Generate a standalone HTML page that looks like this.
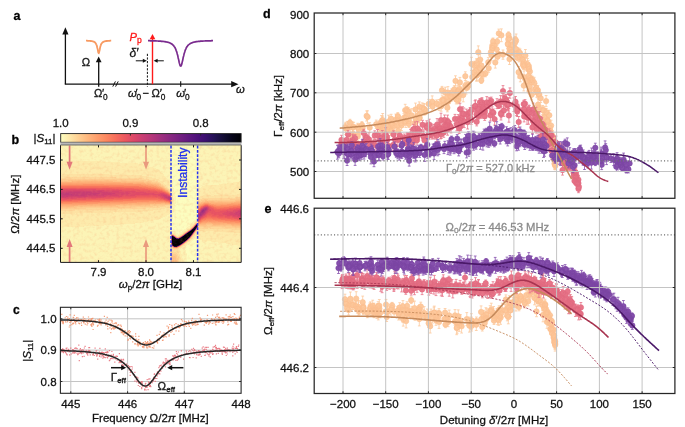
<!DOCTYPE html>
<html><head><meta charset="utf-8"><style>
html,body{margin:0;padding:0;background:#fff;width:685px;height:427px;overflow:hidden;}
svg{display:block;will-change:transform;}
text{font-family:"Liberation Sans", sans-serif;}
</style></head><body>
<svg width="685" height="427" viewBox="0 0 685 427" font-family='"Liberation Sans", sans-serif'>
<rect width="685" height="427" fill="#fff"/>
<g id="pa">
<text x="13.6" y="20" font-size="12.5" text-anchor="start" fill="#000" font-weight="bold" stroke="#000" stroke-width="0.28">a</text>
<path d="M65.4 84.2V33" stroke="#111" stroke-width="1.3" fill="none"/>
<path d="M65.4 27.3L62.3 34.6L68.5 34.6Z" fill="#111"/>
<path d="M64.8 84.2H232" stroke="#111" stroke-width="1.3" fill="none"/>
<path d="M238.5 84.2L231.2 81.1L231.2 87.3Z" fill="#111"/>
<path d="M112.8 86.6L115.4 81.4M115.6 86.6L118.2 81.4" stroke="#111" stroke-width="1.0" fill="none"/>
<path d="M98.7 86.8V61" stroke="#111" stroke-width="1.3" fill="none"/>
<path d="M98.7 56.6L95.8 62.2L101.6 62.2Z" fill="#111"/>
<path d="M86 40.7 L86.2 40.7 L86.5 40.7 L86.8 40.7 L87 40.7 L87.2 40.7 L87.5 40.8 L87.8 40.8 L88 40.8 L88.2 40.8 L88.5 40.8 L88.8 40.8 L89 40.8 L89.2 40.9 L89.5 40.9 L89.8 40.9 L90 40.9 L90.2 40.9 L90.5 41 L90.8 41 L91 41 L91.2 41.1 L91.5 41.1 L91.8 41.1 L92 41.2 L92.2 41.2 L92.5 41.3 L92.8 41.4 L93 41.4 L93.2 41.5 L93.5 41.6 L93.8 41.7 L94 41.8 L94.2 42 L94.5 42.1 L94.8 42.3 L95 42.5 L95.2 42.7 L95.5 43 L95.8 43.4 L96 43.8 L96.2 44.3 L96.5 44.9 L96.8 45.6 L97 46.5 L97.2 47.5 L97.5 48.6 L97.8 49.9 L98 51.2 L98.2 52.3 L98.5 53 L98.8 53.2 L99 52.8 L99.2 51.9 L99.5 50.7 L99.8 49.4 L100 48.1 L100.2 47.1 L100.5 46.1 L100.8 45.3 L101 44.6 L101.2 44.1 L101.5 43.6 L101.8 43.2 L102 42.9 L102.2 42.6 L102.5 42.4 L102.8 42.2 L103 42 L103.2 41.9 L103.5 41.8 L103.8 41.7 L104 41.6 L104.2 41.5 L104.5 41.4 L104.8 41.3 L105 41.3 L105.2 41.2 L105.5 41.2 L105.8 41.1 L106 41.1 L106.2 41 L106.5 41 L106.8 41 L107 41 L107.2 40.9 L107.5 40.9 L107.8 40.9 L108 40.9 L108.2 40.8 L108.5 40.8 L108.8 40.8 L109 40.8 L109.2 40.8 L109.5 40.8 L109.8 40.8 L110 40.7 L110.2 40.7 L110.5 40.7 L110.8 40.7 L111 40.7 L111.2 40.7" stroke="#f79a62" stroke-width="1.8" fill="none"/>
<text x="81.8" y="65.6" font-size="11.2" text-anchor="start" fill="#111" font-weight="normal" stroke="#111" stroke-width="0.28">Ω</text>
<path d="M147.4 53.8V86.8" stroke="#111" stroke-width="1.0" stroke-dasharray="2.2 1.4" fill="none"/>
<path d="M152.5 84.2V38" stroke="#ff1a1a" stroke-width="1.4" fill="none"/>
<path d="M152.5 34.0L149.7 39.2L155.3 39.2Z" fill="#ff1a1a"/>
<path d="M148 40.7 L148.2 40.7 L148.5 40.7 L148.8 40.7 L149 40.7 L149.2 40.7 L149.5 40.7 L149.8 40.7 L150 40.7 L150.2 40.8 L150.5 40.8 L150.8 40.8 L151 40.8 L151.2 40.8 L151.5 40.8 L151.8 40.8 L152 40.8 L152.2 40.8 L152.5 40.8 L152.8 40.8 L153 40.8 L153.2 40.8 L153.5 40.8 L153.8 40.9 L154 40.9 L154.2 40.9 L154.5 40.9 L154.8 40.9 L155 40.9 L155.2 40.9 L155.5 40.9 L155.8 40.9 L156 40.9 L156.2 40.9 L156.5 41 L156.8 41 L157 41 L157.2 41 L157.5 41 L157.8 41 L158 41 L158.2 41 L158.5 41.1 L158.8 41.1 L159 41.1 L159.2 41.1 L159.5 41.1 L159.8 41.1 L160 41.2 L160.2 41.2 L160.5 41.2 L160.8 41.2 L161 41.2 L161.2 41.3 L161.5 41.3 L161.8 41.3 L162 41.3 L162.2 41.3 L162.5 41.4 L162.8 41.4 L163 41.4 L163.2 41.4 L163.5 41.5 L163.8 41.5 L164 41.5 L164.2 41.6 L164.5 41.6 L164.8 41.6 L165 41.7 L165.2 41.7 L165.5 41.8 L165.8 41.8 L166 41.9 L166.2 41.9 L166.5 42 L166.8 42 L167 42.1 L167.2 42.1 L167.5 42.2 L167.8 42.2 L168 42.3 L168.2 42.4 L168.5 42.5 L168.8 42.5 L169 42.6 L169.2 42.7 L169.5 42.8 L169.8 42.9 L170 43 L170.2 43.1 L170.5 43.2 L170.8 43.4 L171 43.5 L171.2 43.7 L171.5 43.8 L171.8 44 L172 44.2 L172.2 44.3 L172.5 44.6 L172.8 44.8 L173 45 L173.2 45.3 L173.5 45.5 L173.8 45.8 L174 46.2 L174.2 46.5 L174.5 46.9 L174.8 47.3 L175 47.7 L175.2 48.2 L175.5 48.7 L175.8 49.3 L176 49.9 L176.2 50.6 L176.5 51.3 L176.8 52.1 L177 52.9 L177.2 53.8 L177.5 54.8 L177.8 55.8 L178 56.8 L178.2 58 L178.5 59.1 L178.8 60.3 L179 61.4 L179.2 62.5 L179.5 63.5 L179.8 64.4 L180 65.2 L180.2 65.7 L180.5 66 L180.8 66.1 L181 65.9 L181.2 65.5 L181.5 64.9 L181.8 64.1 L182 63.1 L182.2 62.1 L182.5 61 L182.8 59.8 L183 58.7 L183.2 57.5 L183.5 56.4 L183.8 55.4 L184 54.4 L184.2 53.4 L184.5 52.6 L184.8 51.7 L185 51 L185.2 50.3 L185.5 49.7 L185.8 49.1 L186 48.5 L186.2 48 L186.5 47.5 L186.8 47.1 L187 46.7 L187.2 46.4 L187.5 46 L187.8 45.7 L188 45.4 L188.2 45.2 L188.5 44.9 L188.8 44.7 L189 44.5 L189.2 44.3 L189.5 44.1 L189.8 43.9 L190 43.7 L190.2 43.6 L190.5 43.5 L190.8 43.3 L191 43.2 L191.2 43.1 L191.5 43 L191.8 42.9 L192 42.8 L192.2 42.7 L192.5 42.6 L192.8 42.5 L193 42.4 L193.2 42.4 L193.5 42.3 L193.8 42.2 L194 42.2 L194.2 42.1 L194.5 42 L194.8 42 L195 41.9 L195.2 41.9 L195.5 41.8 L195.8 41.8 L196 41.7 L196.2 41.7 L196.5 41.7 L196.8 41.6 L197 41.6 L197.2 41.6 L197.5 41.5 L197.8 41.5 L198 41.5 L198.2 41.4 L198.5 41.4 L198.8 41.4 L199 41.4 L199.2 41.3 L199.5 41.3 L199.8 41.3 L200 41.3 L200.2 41.2 L200.5 41.2 L200.8 41.2 L201 41.2 L201.2 41.2 L201.5 41.1 L201.8 41.1 L202 41.1 L202.2 41.1 L202.5 41.1 L202.8 41.1 L203 41.1 L203.2 41 L203.5 41 L203.8 41 L204 41 L204.2 41 L204.5 41 L204.8 41 L205 41 L205.2 40.9 L205.5 40.9 L205.8 40.9 L206 40.9 L206.2 40.9 L206.5 40.9 L206.8 40.9 L207 40.9 L207.2 40.9 L207.5 40.9 L207.8 40.8 L208 40.8 L208.2 40.8 L208.5 40.8 L208.8 40.8 L209 40.8 L209.2 40.8 L209.5 40.8 L209.8 40.8 L210 40.8 L210.2 40.8 L210.5 40.8 L210.8 40.8 L211 40.8 L211.2 40.8 L211.5 40.7 L211.8 40.7 L212 40.7 L212.2 40.7 L212.5 40.7 L212.8 40.7 L213 40.7" stroke="#7a2b8e" stroke-width="1.7" fill="none"/>
<path d="M135.8 60.8H144" stroke="#111" stroke-width="1.0" fill="none"/>
<path d="M146.8 60.8L142.8 58.8L142.8 62.8Z" fill="#111"/>
<path d="M163.8 60.8H156.2" stroke="#111" stroke-width="1.0" fill="none"/>
<path d="M153.6 60.8L157.6 58.8L157.6 62.8Z" fill="#111"/>
<text x="129.4" y="57" font-size="12" text-anchor="start" fill="#111" font-weight="normal" font-style="italic" stroke="#111" stroke-width="0.28">δ′</text>
<text x="129.6" y="40.6" font-size="11.2" fill="#ff1a1a" font-style="italic" stroke="#ff1a1a" stroke-width="0.28">P<tspan font-size="8.5" font-style="normal" dy="2.2">p</tspan></text>
<path d="M180.7 81.2V86.8" stroke="#111" stroke-width="1.1" fill="none"/>
<text x="236" y="93.2" font-size="11.2" text-anchor="start" fill="#111" font-weight="normal" font-style="italic" stroke="#111" stroke-width="0.28">ω</text>
<text x="93.9" y="97.2" font-size="11.2" fill="#111" font-style="normal" stroke="#111" stroke-width="0.28">Ω</text>
<text x="101.9" y="96.8" font-size="11.5" fill="#111" font-style="normal" stroke="#111" stroke-width="0.28">′</text>
<text x="102.9" y="100.2" font-size="8.3" fill="#111" font-style="normal" stroke="#111" stroke-width="0.28">0</text>
<text x="127.9" y="97.2" font-size="11.2" fill="#111" font-style="italic" stroke="#111" stroke-width="0.28">ω</text>
<text x="135.6" y="96.8" font-size="11.5" fill="#111" font-style="normal" stroke="#111" stroke-width="0.28">′</text>
<text x="136.6" y="100.2" font-size="8.3" fill="#111" font-style="normal" stroke="#111" stroke-width="0.28">0</text>
<text x="142.4" y="96.6" font-size="11" fill="#111" font-style="normal" stroke="#111" stroke-width="0.28">−</text>
<text x="151.6" y="97.2" font-size="11.2" fill="#111" font-style="normal" stroke="#111" stroke-width="0.28">Ω</text>
<text x="159.7" y="96.8" font-size="11.5" fill="#111" font-style="normal" stroke="#111" stroke-width="0.28">′</text>
<text x="160.7" y="100.2" font-size="8.3" fill="#111" font-style="normal" stroke="#111" stroke-width="0.28">0</text>
<text x="176.2" y="97.2" font-size="11.2" fill="#111" font-style="italic" stroke="#111" stroke-width="0.28">ω</text>
<text x="183.9" y="96.8" font-size="11.5" fill="#111" font-style="normal" stroke="#111" stroke-width="0.28">′</text>
<text x="184.9" y="100.2" font-size="8.3" fill="#111" font-style="normal" stroke="#111" stroke-width="0.28">0</text>
</g>
<g id="pb">
<text x="11.4" y="143.8" font-size="12.5" text-anchor="start" fill="#000" font-weight="bold" stroke="#000" stroke-width="0.28">b</text>
<defs><linearGradient id="cbg" x1="0" y1="0" x2="1" y2="0"><stop offset="0.000" stop-color="#fcfdbf"/><stop offset="0.050" stop-color="#fde7a9"/><stop offset="0.100" stop-color="#fecf92"/><stop offset="0.150" stop-color="#feb77e"/><stop offset="0.200" stop-color="#fe9f6d"/><stop offset="0.250" stop-color="#fc8961"/><stop offset="0.300" stop-color="#f7705c"/><stop offset="0.350" stop-color="#ed5a5f"/><stop offset="0.400" stop-color="#de4968"/><stop offset="0.450" stop-color="#ca3e72"/><stop offset="0.500" stop-color="#b73779"/><stop offset="0.550" stop-color="#a1307e"/><stop offset="0.600" stop-color="#8c2981"/><stop offset="0.650" stop-color="#782281"/><stop offset="0.700" stop-color="#641a80"/><stop offset="0.750" stop-color="#51127c"/><stop offset="0.800" stop-color="#3b0f70"/><stop offset="0.850" stop-color="#251255"/><stop offset="0.900" stop-color="#140e36"/><stop offset="0.950" stop-color="#06051a"/><stop offset="1.000" stop-color="#000004"/></linearGradient></defs>
<rect x="60.7" y="133.6" width="180.4" height="8.7" fill="url(#cbg)" stroke="#222" stroke-width="0.9"/>
<rect x="60.3" y="142.5" width="181.2" height="2.6" fill="#b9b9b9"/>
<path d="M130.4 133.6v2" stroke="#222" stroke-width="0.9"/>
<path d="M200.7 133.6v2" stroke="#222" stroke-width="0.9"/>
<text x="60.7" y="127.2" font-size="11.5" text-anchor="middle" fill="#111" font-weight="normal" stroke="#111" stroke-width="0.28">1.0</text>
<text x="130.4" y="127.2" font-size="11.5" text-anchor="middle" fill="#111" font-weight="normal" stroke="#111" stroke-width="0.28">0.9</text>
<text x="200.7" y="127.2" font-size="11.5" text-anchor="middle" fill="#111" font-weight="normal" stroke="#111" stroke-width="0.28">0.8</text>
<text x="33.6" y="141.6" font-size="11.5" fill="#111" stroke="#111" stroke-width="0.28">|<tspan font-style="italic">S</tspan><tspan font-size="8" dy="2">11</tspan><tspan dy="-2">|</tspan></text>
<g shape-rendering="crispEdges">
<path fill="#fcf4b6" d="M61 145h110v1h-110zM198 145h43v1h-43zM61 146h110v1h-110zM198 146h43v1h-43zM61 147h110v1h-110zM198 147h43v1h-43zM61 148h110v1h-110zM198 148h43v1h-43zM61 149h110v1h-110zM198 149h43v1h-43zM61 150h110v1h-110zM198 150h43v1h-43zM61 151h110v1h-110zM198 151h43v1h-43zM61 152h110v1h-110zM198 152h43v1h-43zM61 153h110v1h-110zM198 153h43v1h-43zM61 154h110v1h-110zM198 154h43v1h-43zM61 155h110v1h-110zM198 155h43v1h-43zM61 156h110v1h-110zM198 156h43v1h-43zM61 157h110v1h-110zM198 157h43v1h-43zM61 158h110v1h-110zM198 158h43v1h-43zM61 159h110v1h-110zM198 159h43v1h-43zM61 160h110v1h-110zM198 160h43v1h-43zM101 161h70v1h-70zM198 161h43v1h-43zM120 162h51v1h-51zM198 162h43v1h-43zM138 163h33v1h-33zM198 163h43v1h-43zM143 164h28v1h-28zM198 164h43v1h-43zM146 165h25v1h-25zM198 165h43v1h-43zM149 166h22v1h-22zM198 166h43v1h-43zM153 167h18v1h-18zM198 167h43v1h-43zM156 168h15v1h-15zM198 168h43v1h-43zM158 169h13v1h-13zM198 169h43v1h-43zM159 170h13v1h-13zM198 170h43v1h-43zM160 171h12v1h-12zM198 171h43v1h-43zM161 172h11v1h-11zM198 172h43v1h-43zM163 173h9v1h-9zM198 173h43v1h-43zM164 174h8v1h-8zM198 174h43v1h-43zM164 175h8v1h-8zM198 175h43v1h-43zM165 176h7v1h-7zM198 176h43v1h-43zM166 177h6v1h-6zM198 177h43v1h-43zM167 178h5v1h-5zM198 178h43v1h-43zM168 179h4v1h-4zM198 179h43v1h-43zM168 180h4v1h-4zM198 180h43v1h-43zM169 181h4v1h-4zM198 181h41v1h-41zM170 182h3v1h-3zM198 182h35v1h-35zM171 183h2v1h-2zM198 183h29v1h-29zM171 184h2v1h-2zM198 184h21v1h-21zM171 185h2v1h-2zM198 185h7v1h-7zM171 186h2v1h-2zM198 186h4v1h-4zM171 187h2v1h-2zM198 187h3v1h-3zM171 188h3v1h-3zM198 188h1v1h-1zM171 189h3v1h-3zM171 190h3v1h-3zM172 191h2v1h-2zM172 192h3v1h-3zM172 193h3v1h-3zM172 194h3v1h-3zM173 195h2v1h-2zM173 196h3v1h-3zM173 197h3v1h-3zM174 198h2v1h-2zM174 199h2v1h-2zM174 200h2v1h-2zM174 201h2v1h-2zM173 202h3v1h-3zM173 203h3v1h-3zM173 204h2v1h-2zM172 205h3v1h-3zM172 206h3v1h-3zM172 207h3v1h-3zM172 208h2v1h-2zM171 209h3v1h-3zM171 210h3v1h-3zM171 211h3v1h-3zM171 212h2v1h-2zM171 213h2v1h-2zM169 214h4v1h-4zM167 215h6v1h-6zM165 216h8v1h-8zM163 217h10v1h-10zM161 218h12v1h-12zM159 219h13v1h-13zM153 220h19v1h-19zM194 220h4v1h-4zM148 221h24v1h-24zM193 221h3v1h-3zM197 221h1v1h-1zM143 222h29v1h-29zM192 222h2v1h-2zM135 223h37v1h-37zM191 223h3v1h-3zM120 224h52v1h-52zM191 224h2v1h-2zM104 225h68v1h-68zM190 225h2v1h-2zM84 226h88v1h-88zM188 226h3v1h-3zM63 227h109v1h-109zM187 227h3v1h-3zM61 228h111v1h-111zM186 228h2v1h-2zM61 229h111v1h-111zM184 229h3v1h-3zM61 230h111v1h-111zM183 230h3v1h-3zM61 231h114v1h-114zM182 231h2v1h-2zM61 232h115v1h-115zM180 232h3v1h-3zM197 232h1v1h-1zM61 233h110v1h-110zM175 233h3v1h-3zM179 233h3v1h-3zM196 233h2v1h-2zM61 234h110v1h-110zM176 234h4v1h-4zM195 234h2v1h-2zM61 235h110v1h-110zM177 235h1v1h-1zM195 235h2v1h-2zM61 236h110v1h-110zM194 236h2v1h-2zM61 237h110v1h-110zM193 237h2v1h-2zM61 238h110v1h-110zM193 238h2v1h-2zM61 239h110v1h-110zM192 239h2v1h-2zM198 239h2v1h-2zM61 240h110v1h-110zM191 240h2v1h-2zM198 240h4v1h-4zM61 241h110v1h-110zM190 241h2v1h-2zM198 241h7v1h-7zM207 241h4v1h-4zM61 242h110v1h-110zM188 242h3v1h-3zM198 242h20v1h-20zM61 243h110v1h-110zM187 243h3v1h-3zM198 243h28v1h-28zM61 244h110v1h-110zM186 244h3v1h-3zM198 244h34v1h-34zM61 245h110v1h-110zM185 245h2v1h-2zM198 245h40v1h-40zM61 246h110v1h-110zM183 246h3v1h-3zM198 246h43v1h-43zM61 247h110v1h-110zM182 247h3v1h-3zM198 247h43v1h-43zM61 248h110v1h-110zM181 248h4v1h-4zM198 248h43v1h-43zM61 249h110v1h-110zM180 249h5v1h-5zM198 249h43v1h-43zM61 250h110v1h-110zM180 250h6v1h-6zM198 250h43v1h-43zM61 251h110v1h-110zM181 251h5v1h-5zM198 251h43v1h-43zM61 252h110v1h-110zM181 252h5v1h-5zM198 252h43v1h-43zM61 253h110v1h-110zM181 253h6v1h-6zM198 253h43v1h-43zM61 254h110v1h-110zM182 254h5v1h-5zM198 254h43v1h-43zM61 255h110v1h-110zM182 255h5v1h-5zM198 255h43v1h-43zM61 256h110v1h-110zM182 256h5v1h-5zM198 256h43v1h-43zM61 257h110v1h-110zM182 257h5v1h-5zM198 257h43v1h-43zM61 258h110v1h-110zM183 258h4v1h-4zM198 258h43v1h-43zM61 259h110v1h-110zM183 259h4v1h-4zM198 259h43v1h-43zM61 260h110v1h-110zM183 260h4v1h-4zM198 260h43v1h-43zM61 261h110v1h-110zM183 261h4v1h-4zM198 261h43v1h-43z"/>
<path fill="#fcfdbf" d="M171 145h27v1h-27zM171 146h27v1h-27zM171 147h27v1h-27zM171 148h27v1h-27zM171 149h27v1h-27zM171 150h27v1h-27zM171 151h27v1h-27zM171 152h27v1h-27zM171 153h27v1h-27zM171 154h27v1h-27zM171 155h27v1h-27zM171 156h27v1h-27zM171 157h27v1h-27zM171 158h27v1h-27zM171 159h27v1h-27zM171 160h27v1h-27zM171 161h27v1h-27zM171 162h27v1h-27zM171 163h27v1h-27zM171 164h27v1h-27zM171 165h27v1h-27zM171 166h27v1h-27zM171 167h27v1h-27zM171 168h27v1h-27zM171 169h27v1h-27zM172 170h26v1h-26zM172 171h26v1h-26zM172 172h26v1h-26zM172 173h26v1h-26zM172 174h26v1h-26zM172 175h26v1h-26zM172 176h26v1h-26zM172 177h26v1h-26zM172 178h26v1h-26zM172 179h26v1h-26zM172 180h26v1h-26zM173 181h25v1h-25zM173 182h25v1h-25zM173 183h25v1h-25zM173 184h25v1h-25zM173 185h25v1h-25zM173 186h25v1h-25zM173 187h25v1h-25zM174 188h24v1h-24zM174 189h24v1h-24zM174 190h24v1h-24zM174 191h24v1h-24zM175 192h23v1h-23zM175 193h23v1h-23zM175 194h23v1h-23zM175 195h23v1h-23zM176 196h22v1h-22zM176 197h22v1h-22zM176 198h22v1h-22zM176 199h22v1h-22zM176 200h22v1h-22zM176 201h22v1h-22zM176 202h22v1h-22zM176 203h22v1h-22zM175 204h23v1h-23zM175 205h23v1h-23zM175 206h23v1h-23zM175 207h23v1h-23zM174 208h24v1h-24zM174 209h24v1h-24zM174 210h24v1h-24zM174 211h24v1h-24zM173 212h25v1h-25zM173 213h25v1h-25zM173 214h25v1h-25zM173 215h25v1h-25zM173 216h25v1h-25zM173 217h25v1h-25zM173 218h25v1h-25zM172 219h26v1h-26zM172 220h22v1h-22zM172 221h21v1h-21zM172 222h20v1h-20zM172 223h19v1h-19zM172 224h19v1h-19zM172 225h18v1h-18zM172 226h16v1h-16zM172 227h15v1h-15zM172 228h14v1h-14zM172 229h12v1h-12zM172 230h11v1h-11zM175 231h7v1h-7zM176 232h4v1h-4zM178 233h1v1h-1zM197 234h1v1h-1zM197 235h1v1h-1zM196 236h2v1h-2zM195 237h3v1h-3zM195 238h3v1h-3zM194 239h4v1h-4zM193 240h5v1h-5zM192 241h6v1h-6zM191 242h7v1h-7zM190 243h8v1h-8zM189 244h9v1h-9zM187 245h11v1h-11zM186 246h12v1h-12zM185 247h13v1h-13zM185 248h13v1h-13zM185 249h13v1h-13zM186 250h12v1h-12zM186 251h12v1h-12zM186 252h12v1h-12zM187 253h11v1h-11zM187 254h11v1h-11zM187 255h11v1h-11zM187 256h11v1h-11zM187 257h11v1h-11zM187 258h11v1h-11zM187 259h11v1h-11zM187 260h11v1h-11zM187 261h11v1h-11z"/>
<path fill="#fdebac" d="M61 161h40v1h-40zM61 162h59v1h-59zM61 163h77v1h-77zM61 164h82v1h-82zM61 165h85v1h-85zM61 166h88v1h-88zM61 167h92v1h-92zM61 168h95v1h-95zM61 169h97v1h-97zM61 170h98v1h-98zM61 171h99v1h-99zM61 172h100v1h-100zM61 173h102v1h-102zM61 174h1v1h-1zM109 174h55v1h-55zM142 175h22v1h-22zM147 176h18v1h-18zM152 177h14v1h-14zM156 178h11v1h-11zM159 179h9v1h-9zM160 180h8v1h-8zM162 181h7v1h-7zM239 181h2v1h-2zM163 182h7v1h-7zM233 182h8v1h-8zM164 183h7v1h-7zM227 183h14v1h-14zM165 184h6v1h-6zM219 184h22v1h-22zM166 185h5v1h-5zM205 185h36v1h-36zM167 186h4v1h-4zM202 186h39v1h-39zM168 187h3v1h-3zM201 187h40v1h-40zM169 188h2v1h-2zM199 188h42v1h-42zM170 189h1v1h-1zM198 189h43v1h-43zM198 190h43v1h-43zM171 191h1v1h-1zM198 191h43v1h-43zM171 192h1v1h-1zM198 192h43v1h-43zM171 193h1v1h-1zM198 193h43v1h-43zM198 194h39v1h-39zM172 195h1v1h-1zM198 195h5v1h-5zM211 195h3v1h-3zM172 196h1v1h-1zM198 196h2v1h-2zM173 198h1v1h-1zM173 199h1v1h-1zM173 200h1v1h-1zM173 201h1v1h-1zM172 203h1v1h-1zM172 204h1v1h-1zM171 206h1v1h-1zM171 207h1v1h-1zM165 208h7v1h-7zM161 209h10v1h-10zM153 210h18v1h-18zM143 211h28v1h-28zM113 212h58v1h-58zM75 213h96v1h-96zM61 214h108v1h-108zM61 215h106v1h-106zM61 216h104v1h-104zM61 217h102v1h-102zM61 218h100v1h-100zM61 219h98v1h-98zM61 220h92v1h-92zM61 221h87v1h-87zM196 221h1v1h-1zM61 222h82v1h-82zM194 222h1v1h-1zM61 223h74v1h-74zM61 224h59v1h-59zM193 224h1v1h-1zM61 225h43v1h-43zM192 225h1v1h-1zM61 226h23v1h-23zM191 226h1v1h-1zM61 227h2v1h-2zM190 227h1v1h-1zM188 228h2v1h-2zM187 229h1v1h-1zM186 230h1v1h-1zM184 231h1v1h-1zM197 231h6v1h-6zM206 231h8v1h-8zM183 232h1v1h-1zM196 232h1v1h-1zM198 232h36v1h-36zM171 233h1v1h-1zM173 233h2v1h-2zM182 233h1v1h-1zM195 233h1v1h-1zM198 233h43v1h-43zM175 234h1v1h-1zM180 234h1v1h-1zM198 234h43v1h-43zM176 235h1v1h-1zM178 235h2v1h-2zM194 235h1v1h-1zM198 235h43v1h-43zM193 236h1v1h-1zM198 236h43v1h-43zM192 237h1v1h-1zM198 237h43v1h-43zM192 238h1v1h-1zM198 238h43v1h-43zM191 239h1v1h-1zM200 239h41v1h-41zM190 240h1v1h-1zM202 240h39v1h-39zM189 241h1v1h-1zM205 241h2v1h-2zM211 241h30v1h-30zM187 242h1v1h-1zM218 242h23v1h-23zM186 243h1v1h-1zM226 243h15v1h-15zM185 244h1v1h-1zM232 244h9v1h-9zM184 245h1v1h-1zM238 245h3v1h-3zM182 246h1v1h-1zM181 247h1v1h-1zM179 248h2v1h-2zM178 249h2v1h-2zM178 250h2v1h-2zM178 251h3v1h-3zM179 252h2v1h-2zM179 253h2v1h-2zM180 254h2v1h-2zM180 255h2v1h-2zM180 256h2v1h-2zM180 257h2v1h-2zM181 258h2v1h-2zM181 259h2v1h-2zM181 260h2v1h-2zM181 261h2v1h-2z"/>
<path fill="#fde2a3" d="M62 174h47v1h-47zM61 175h81v1h-81zM61 176h86v1h-86zM61 177h5v1h-5zM116 177h36v1h-36zM144 178h12v1h-12zM149 179h10v1h-10zM155 180h5v1h-5zM158 181h4v1h-4zM160 182h3v1h-3zM161 183h3v1h-3zM163 184h2v1h-2zM164 185h2v1h-2zM165 186h2v1h-2zM167 187h1v1h-1zM168 188h1v1h-1zM169 189h1v1h-1zM170 190h1v1h-1zM171 194h1v1h-1zM237 194h4v1h-4zM203 195h8v1h-8zM214 195h27v1h-27zM200 196h41v1h-41zM172 197h1v1h-1zM198 197h37v1h-37zM172 198h1v1h-1zM198 198h4v1h-4zM172 199h1v1h-1zM198 199h1v1h-1zM172 200h1v1h-1zM172 201h1v1h-1zM172 202h1v1h-1zM171 205h1v1h-1zM166 206h5v1h-5zM160 207h11v1h-11zM146 208h19v1h-19zM118 209h43v1h-43zM75 210h78v1h-78zM61 211h82v1h-82zM61 212h52v1h-52zM61 213h14v1h-14zM195 222h3v1h-3zM194 223h1v1h-1zM198 228h1v1h-1zM208 228h2v1h-2zM188 229h1v1h-1zM198 229h34v1h-34zM187 230h1v1h-1zM197 230h44v1h-44zM185 231h1v1h-1zM196 231h1v1h-1zM203 231h3v1h-3zM214 231h27v1h-27zM184 232h1v1h-1zM234 232h7v1h-7zM172 233h1v1h-1zM174 234h1v1h-1zM181 234h1v1h-1zM194 234h1v1h-1zM180 235h1v1h-1zM193 235h1v1h-1zM177 236h2v1h-2zM191 238h1v1h-1zM190 239h1v1h-1zM189 240h1v1h-1zM188 241h1v1h-1zM185 243h1v1h-1zM184 244h1v1h-1zM183 245h1v1h-1zM181 246h1v1h-1zM180 247h1v1h-1zM171 248h1v1h-1zM178 248h1v1h-1zM171 249h3v1h-3zM176 249h2v1h-2zM171 250h7v1h-7zM171 251h7v1h-7zM176 252h3v1h-3zM177 253h2v1h-2zM178 254h2v1h-2zM178 255h2v1h-2zM179 256h1v1h-1zM179 257h1v1h-1zM179 258h2v1h-2zM179 259h2v1h-2zM179 260h2v1h-2zM179 261h2v1h-2z"/>
<path fill="#fed799" d="M66 177h50v1h-50zM61 178h83v1h-83zM139 179h10v1h-10zM146 180h9v1h-9zM152 181h6v1h-6zM157 182h3v1h-3zM159 183h2v1h-2zM161 184h2v1h-2zM163 185h1v1h-1zM164 186h1v1h-1zM165 187h2v1h-2zM167 188h1v1h-1zM168 189h1v1h-1zM169 190h1v1h-1zM170 191h1v1h-1zM171 195h1v1h-1zM171 196h1v1h-1zM235 197h6v1h-6zM202 198h39v1h-39zM199 199h5v1h-5zM208 199h22v1h-22zM198 200h3v1h-3zM171 203h1v1h-1zM171 204h1v1h-1zM165 205h5v1h-5zM153 206h4v1h-4zM158 206h8v1h-8zM131 207h29v1h-29zM86 208h60v1h-60zM61 209h57v1h-57zM61 210h14v1h-14zM194 224h1v1h-1zM193 225h1v1h-1zM192 226h1v1h-1zM191 227h1v1h-1zM198 227h27v1h-27zM190 228h1v1h-1zM199 228h9v1h-9zM210 228h31v1h-31zM189 229h1v1h-1zM197 229h1v1h-1zM232 229h9v1h-9zM186 231h1v1h-1zM195 232h1v1h-1zM183 233h1v1h-1zM194 233h1v1h-1zM182 234h1v1h-1zM175 235h1v1h-1zM176 236h1v1h-1zM192 236h1v1h-1zM191 237h1v1h-1zM188 240h1v1h-1zM187 241h1v1h-1zM186 242h1v1h-1zM182 245h1v1h-1zM171 247h1v1h-1zM179 247h1v1h-1zM172 248h1v1h-1zM177 248h1v1h-1zM174 249h2v1h-2zM171 252h5v1h-5zM171 253h6v1h-6zM176 254h2v1h-2zM177 255h1v1h-1zM177 256h2v1h-2zM177 257h2v1h-2zM178 258h1v1h-1zM178 259h1v1h-1zM178 260h1v1h-1zM178 261h1v1h-1z"/>
<path fill="#fecd90" d="M61 179h78v1h-78zM61 180h7v1h-7zM117 180h29v1h-29zM144 181h8v1h-8zM151 182h6v1h-6zM156 183h3v1h-3zM159 184h2v1h-2zM161 185h2v1h-2zM163 186h1v1h-1zM164 187h1v1h-1zM166 188h1v1h-1zM167 189h1v1h-1zM168 190h1v1h-1zM169 191h1v1h-1zM170 192h1v1h-1zM204 199h4v1h-4zM230 199h11v1h-11zM201 200h4v1h-4zM207 200h28v1h-28zM198 201h4v1h-4zM198 202h1v1h-1zM150 205h15v1h-15zM170 205h1v1h-1zM118 206h35v1h-35zM157 206h1v1h-1zM75 207h56v1h-56zM61 208h25v1h-25zM195 223h1v1h-1zM207 225h5v1h-5zM198 226h34v1h-34zM225 227h16v1h-16zM196 230h1v1h-1zM185 232h1v1h-1zM171 234h1v1h-1zM173 234h1v1h-1zM193 234h1v1h-1zM181 235h1v1h-1zM179 236h1v1h-1zM190 238h1v1h-1zM189 239h1v1h-1zM183 244h1v1h-1zM180 246h1v1h-1zM172 247h1v1h-1zM178 247h1v1h-1zM173 248h4v1h-4zM171 254h5v1h-5zM171 255h6v1h-6zM171 256h1v1h-1zM175 256h2v1h-2zM176 257h1v1h-1zM176 258h2v1h-2zM176 259h2v1h-2zM177 260h1v1h-1zM177 261h1v1h-1z"/>
<path fill="#fec488" d="M68 180h49v1h-49zM61 181h11v1h-11zM113 181h31v1h-31zM144 182h7v1h-7zM151 183h5v1h-5zM156 184h3v1h-3zM159 185h2v1h-2zM161 186h2v1h-2zM163 187h1v1h-1zM165 188h1v1h-1zM166 189h1v1h-1zM171 197h1v1h-1zM205 200h2v1h-2zM235 200h6v1h-6zM202 201h3v1h-3zM208 201h28v1h-28zM171 202h1v1h-1zM199 202h2v1h-2zM198 203h1v1h-1zM150 204h21v1h-21zM116 205h34v1h-34zM74 206h44v1h-44zM61 207h14v1h-14zM206 224h7v1h-7zM198 225h9v1h-9zM212 225h20v1h-20zM232 226h9v1h-9zM188 230h1v1h-1zM195 231h1v1h-1zM184 233h1v1h-1zM172 234h1v1h-1zM174 235h1v1h-1zM184 243h1v1h-1zM181 245h1v1h-1zM171 246h1v1h-1zM172 256h3v1h-3zM171 257h5v1h-5zM171 258h5v1h-5zM171 259h5v1h-5zM171 260h2v1h-2zM174 260h3v1h-3zM171 261h1v1h-1zM174 261h3v1h-3z"/>
<path fill="#feb97f" d="M72 181h41v1h-41zM121 182h23v1h-23zM145 183h6v1h-6zM152 184h4v1h-4zM157 185h2v1h-2zM160 186h1v1h-1zM162 187h1v1h-1zM164 188h1v1h-1zM165 189h1v1h-1zM167 190h1v1h-1zM168 191h1v1h-1zM169 192h1v1h-1zM171 198h1v1h-1zM171 201h1v1h-1zM205 201h3v1h-3zM236 201h5v1h-5zM201 202h3v1h-3zM209 202h25v1h-25zM154 203h1v1h-1zM161 203h4v1h-4zM199 203h2v1h-2zM120 204h30v1h-30zM198 204h1v1h-1zM78 205h38v1h-38zM61 206h13v1h-13zM206 223h6v1h-6zM198 224h8v1h-8zM213 224h18v1h-18zM232 225h9v1h-9zM193 226h1v1h-1zM192 227h1v1h-1zM197 228h1v1h-1zM192 235h1v1h-1zM177 237h1v1h-1zM185 242h1v1h-1zM173 260h1v1h-1zM172 261h2v1h-2z"/>
<path fill="#feb078" d="M61 182h60v1h-60zM133 183h12v1h-12zM146 184h6v1h-6zM154 185h3v1h-3zM158 186h2v1h-2zM161 187h1v1h-1zM163 188h1v1h-1zM166 190h1v1h-1zM170 193h1v1h-1zM171 199h1v1h-1zM171 200h1v1h-1zM204 202h5v1h-5zM234 202h7v1h-7zM128 203h26v1h-26zM155 203h6v1h-6zM165 203h4v1h-4zM201 203h2v1h-2zM211 203h20v1h-20zM87 204h33v1h-33zM199 204h1v1h-1zM61 205h17v1h-17zM198 205h1v1h-1zM207 222h4v1h-4zM196 223h2v1h-2zM201 223h5v1h-5zM212 223h15v1h-15zM231 224h10v1h-10zM191 228h1v1h-1zM187 231h1v1h-1zM194 232h1v1h-1zM183 234h1v1h-1zM175 236h1v1h-1zM180 236h1v1h-1zM178 237h1v1h-1zM186 241h1v1h-1zM173 247h1v1h-1z"/>
<path fill="#fea571" d="M61 183h72v1h-72zM141 184h5v1h-5zM148 185h6v1h-6zM156 186h2v1h-2zM159 187h2v1h-2zM162 188h1v1h-1zM164 189h1v1h-1zM165 190h1v1h-1zM167 191h1v1h-1zM137 202h28v1h-28zM98 203h30v1h-30zM169 203h2v1h-2zM203 203h1v1h-1zM209 203h2v1h-2zM231 203h10v1h-10zM61 204h26v1h-26zM200 204h2v1h-2zM214 204h13v1h-13zM199 205h1v1h-1zM208 221h1v1h-1zM202 222h5v1h-5zM211 222h12v1h-12zM198 223h3v1h-3zM227 223h13v1h-13zM194 225h1v1h-1zM190 229h1v1h-1zM196 229h1v1h-1zM191 236h1v1h-1zM182 244h1v1h-1zM171 245h1v1h-1zM179 246h1v1h-1zM177 247h1v1h-1z"/>
<path fill="#fd9b6b" d="M61 184h22v1h-22zM104 184h37v1h-37zM143 185h5v1h-5zM151 186h5v1h-5zM157 187h2v1h-2zM160 188h2v1h-2zM163 189h1v1h-1zM166 191h1v1h-1zM168 192h1v1h-1zM169 193h1v1h-1zM149 201h7v1h-7zM110 202h27v1h-27zM165 202h3v1h-3zM72 203h26v1h-26zM204 203h5v1h-5zM202 204h1v1h-1zM210 204h4v1h-4zM227 204h11v1h-11zM200 205h1v1h-1zM216 205h5v1h-5zM198 206h1v1h-1zM203 221h5v1h-5zM209 221h9v1h-9zM201 222h1v1h-1zM223 222h12v1h-12zM240 223h1v1h-1zM195 224h1v1h-1zM187 240h1v1h-1z"/>
<path fill="#fd9266" d="M83 184h21v1h-21zM124 185h19v1h-19zM146 186h5v1h-5zM154 187h3v1h-3zM158 188h2v1h-2zM162 189h1v1h-1zM164 190h1v1h-1zM170 194h1v1h-1zM123 201h26v1h-26zM156 201h8v1h-8zM86 202h24v1h-24zM168 202h1v1h-1zM61 203h11v1h-11zM203 204h1v1h-1zM209 204h1v1h-1zM238 204h3v1h-3zM201 205h1v1h-1zM213 205h3v1h-3zM221 205h12v1h-12zM199 206h1v1h-1zM198 207h1v1h-1zM205 220h10v1h-10zM202 221h1v1h-1zM218 221h12v1h-12zM199 222h2v1h-2zM235 222h6v1h-6zM186 232h1v1h-1zM176 237h1v1h-1zM188 239h1v1h-1zM172 246h1v1h-1z"/>
<path fill="#fc8961" d="M61 185h63v1h-63zM139 186h7v1h-7zM148 187h6v1h-6zM156 188h2v1h-2zM160 189h2v1h-2zM163 190h1v1h-1zM165 191h1v1h-1zM167 192h1v1h-1zM133 200h25v1h-25zM100 201h23v1h-23zM164 201h2v1h-2zM63 202h23v1h-23zM169 202h1v1h-1zM204 204h1v1h-1zM208 204h1v1h-1zM202 205h1v1h-1zM211 205h2v1h-2zM233 205h8v1h-8zM200 206h1v1h-1zM214 206h15v1h-15zM199 207h1v1h-1zM198 208h1v1h-1zM206 219h7v1h-7zM202 220h3v1h-3zM215 220h10v1h-10zM201 221h1v1h-1zM230 221h9v1h-9zM198 222h1v1h-1zM189 230h1v1h-1zM193 233h1v1h-1zM171 235h1v1h-1zM182 235h1v1h-1zM190 237h1v1h-1zM189 238h1v1h-1zM174 247h1v1h-1z"/>
<path fill="#f8745c" d="M61 186h48v1h-48zM124 187h18v1h-18zM145 188h6v1h-6zM155 189h3v1h-3zM160 190h2v1h-2zM163 191h1v1h-1zM169 194h1v1h-1zM123 199h37v1h-37zM92 200h21v1h-21zM164 200h1v1h-1zM61 201h17v1h-17zM168 201h1v1h-1zM208 205h1v1h-1zM201 206h1v1h-1zM211 206h2v1h-2zM237 206h4v1h-4zM200 207h1v1h-1zM214 207h2v1h-2zM224 207h9v1h-9zM199 208h1v1h-1zM217 208h3v1h-3zM198 209h1v1h-1zM207 217h4v1h-4zM204 218h2v1h-2zM212 218h6v1h-6zM202 219h1v1h-1zM221 219h10v1h-10zM234 220h7v1h-7zM199 221h1v1h-1zM195 230h1v1h-1zM173 235h1v1h-1zM180 245h1v1h-1zM176 247h1v1h-1z"/>
<path fill="#fa7d5e" d="M109 186h30v1h-30zM142 187h6v1h-6zM151 188h5v1h-5zM158 189h2v1h-2zM162 190h1v1h-1zM164 191h1v1h-1zM166 192h1v1h-1zM168 193h1v1h-1zM113 200h20v1h-20zM158 200h6v1h-6zM78 201h22v1h-22zM166 201h2v1h-2zM61 202h2v1h-2zM170 202h1v1h-1zM205 204h3v1h-3zM203 205h1v1h-1zM209 205h2v1h-2zM213 206h1v1h-1zM229 206h8v1h-8zM216 207h8v1h-8zM206 218h6v1h-6zM203 219h3v1h-3zM213 219h8v1h-8zM201 220h1v1h-1zM225 220h9v1h-9zM200 221h1v1h-1zM239 221h2v1h-2zM183 243h1v1h-1zM171 244h1v1h-1zM175 247h1v1h-1z"/>
<path fill="#f56b5c" d="M61 187h63v1h-63zM134 188h11v1h-11zM148 189h7v1h-7zM156 190h4v1h-4zM162 191h1v1h-1zM165 192h1v1h-1zM167 193h1v1h-1zM170 195h1v1h-1zM131 198h27v1h-27zM105 199h18v1h-18zM160 199h3v1h-3zM72 200h20v1h-20zM165 200h1v1h-1zM204 205h1v1h-1zM202 206h1v1h-1zM210 206h1v1h-1zM212 207h2v1h-2zM233 207h7v1h-7zM214 208h3v1h-3zM220 208h9v1h-9zM207 216h4v1h-4zM205 217h2v1h-2zM211 217h6v1h-6zM203 218h1v1h-1zM218 218h9v1h-9zM201 219h1v1h-1zM231 219h6v1h-6zM200 220h1v1h-1zM198 221h1v1h-1zM179 237h1v1h-1z"/>
<path fill="#ec5860" d="M61 188h51v1h-51zM119 189h20v1h-20zM140 190h10v1h-10zM150 191h7v1h-7zM158 192h1v1h-1zM160 192h4v1h-4zM165 193h1v1h-1zM169 195h1v1h-1zM137 196h18v1h-18zM120 197h16v1h-16zM156 197h4v1h-4zM96 198h18v1h-18zM161 198h2v1h-2zM67 199h19v1h-19zM164 199h2v1h-2zM167 200h1v1h-1zM170 201h1v1h-1zM203 206h1v1h-1zM208 206h1v1h-1zM210 207h1v1h-1zM212 208h1v1h-1zM236 208h5v1h-5zM213 209h1v1h-1zM227 209h7v1h-7zM214 210h12v1h-12zM215 211h5v1h-5zM208 213h3v1h-3zM207 214h7v1h-7zM206 215h1v1h-1zM212 215h7v1h-7zM204 216h2v1h-2zM217 216h8v1h-8zM203 217h1v1h-1zM225 217h7v1h-7zM201 218h1v1h-1zM234 218h6v1h-6zM200 219h1v1h-1zM199 220h1v1h-1zM197 227h1v1h-1zM178 246h1v1h-1z"/>
<path fill="#f1605d" d="M112 188h22v1h-22zM139 189h9v1h-9zM150 190h6v1h-6zM157 191h5v1h-5zM164 192h1v1h-1zM166 193h1v1h-1zM168 194h1v1h-1zM136 197h20v1h-20zM114 198h17v1h-17zM158 198h3v1h-3zM86 199h19v1h-19zM163 199h1v1h-1zM61 200h11v1h-11zM166 200h1v1h-1zM169 201h1v1h-1zM205 205h3v1h-3zM209 206h1v1h-1zM201 207h1v1h-1zM211 207h1v1h-1zM240 207h1v1h-1zM200 208h1v1h-1zM213 208h1v1h-1zM229 208h7v1h-7zM199 209h1v1h-1zM214 209h13v1h-13zM198 210h1v1h-1zM207 215h5v1h-5zM206 216h1v1h-1zM211 216h6v1h-6zM204 217h1v1h-1zM217 217h8v1h-8zM202 218h1v1h-1zM227 218h7v1h-7zM237 219h4v1h-4zM185 233h1v1h-1z"/>
<path fill="#df4a68" d="M61 189h35v1h-35zM104 190h18v1h-18zM119 191h17v1h-17zM128 192h18v1h-18zM131 193h23v1h-23zM160 193h4v1h-4zM128 194h33v1h-33zM165 194h2v1h-2zM119 195h16v1h-16zM158 195h3v1h-3zM168 195h1v1h-1zM106 196h16v1h-16zM160 196h2v1h-2zM170 196h1v1h-1zM85 197h19v1h-19zM162 197h2v1h-2zM61 198h16v1h-16zM164 198h2v1h-2zM167 199h1v1h-1zM169 200h1v1h-1zM205 206h3v1h-3zM201 208h1v1h-1zM209 208h1v1h-1zM200 209h1v1h-1zM209 209h2v1h-2zM239 209h2v1h-2zM208 210h3v1h-3zM233 210h5v1h-5zM208 211h1v1h-1zM227 211h6v1h-6zM207 212h1v1h-1zM224 212h6v1h-6zM206 213h1v1h-1zM222 213h7v1h-7zM205 214h1v1h-1zM223 214h7v1h-7zM204 215h1v1h-1zM227 215h6v1h-6zM232 216h5v1h-5zM201 217h1v1h-1zM238 217h3v1h-3zM200 218h1v1h-1zM199 219h1v1h-1zM188 231h1v1h-1zM171 238h1v1h-1zM171 239h1v1h-1z"/>
<path fill="#e75263" d="M96 189h23v1h-23zM122 190h18v1h-18zM136 191h14v1h-14zM146 192h12v1h-12zM159 192h1v1h-1zM154 193h6v1h-6zM164 193h1v1h-1zM167 194h1v1h-1zM135 195h23v1h-23zM122 196h15v1h-15zM155 196h5v1h-5zM104 197h16v1h-16zM160 197h2v1h-2zM77 198h19v1h-19zM163 198h1v1h-1zM61 199h6v1h-6zM166 199h1v1h-1zM168 200h1v1h-1zM204 206h1v1h-1zM202 207h1v1h-1zM209 207h1v1h-1zM210 208h2v1h-2zM211 209h2v1h-2zM234 209h5v1h-5zM199 210h1v1h-1zM211 210h3v1h-3zM226 210h7v1h-7zM198 211h1v1h-1zM209 211h6v1h-6zM220 211h7v1h-7zM208 212h16v1h-16zM207 213h1v1h-1zM211 213h11v1h-11zM206 214h1v1h-1zM214 214h9v1h-9zM205 215h1v1h-1zM219 215h8v1h-8zM203 216h1v1h-1zM225 216h7v1h-7zM202 217h1v1h-1zM232 217h6v1h-6zM240 218h1v1h-1zM198 220h1v1h-1zM192 234h1v1h-1zM171 236h1v1h-1zM181 236h1v1h-1zM171 237h1v1h-1zM184 242h1v1h-1zM171 243h1v1h-1z"/>
<path fill="#d8456c" d="M61 190h43v1h-43zM102 191h17v1h-17zM112 192h16v1h-16zM115 193h16v1h-16zM112 194h16v1h-16zM161 194h4v1h-4zM104 195h15v1h-15zM161 195h2v1h-2zM167 195h1v1h-1zM88 196h18v1h-18zM162 196h2v1h-2zM66 197h19v1h-19zM164 197h1v1h-1zM166 198h1v1h-1zM203 207h1v1h-1zM208 207h1v1h-1zM208 208h1v1h-1zM208 209h1v1h-1zM238 210h3v1h-3zM199 211h1v1h-1zM207 211h1v1h-1zM233 211h5v1h-5zM198 212h1v1h-1zM206 212h1v1h-1zM230 212h5v1h-5zM229 213h5v1h-5zM230 214h5v1h-5zM203 215h1v1h-1zM233 215h5v1h-5zM202 216h1v1h-1zM237 216h4v1h-4zM194 231h1v1h-1zM171 240h1v1h-1zM171 241h1v1h-1z"/>
<path fill="#cf4070" d="M61 191h41v1h-41zM92 192h20v1h-20zM100 193h15v1h-15zM96 194h16v1h-16zM85 195h19v1h-19zM163 195h4v1h-4zM68 196h20v1h-20zM164 196h2v1h-2zM169 196h1v1h-1zM61 197h5v1h-5zM165 197h1v1h-1zM167 198h1v1h-1zM168 199h1v1h-1zM170 200h1v1h-1zM207 207h1v1h-1zM202 208h1v1h-1zM201 209h1v1h-1zM200 210h1v1h-1zM207 210h1v1h-1zM206 211h1v1h-1zM238 211h3v1h-3zM235 212h5v1h-5zM198 213h1v1h-1zM205 213h1v1h-1zM234 213h5v1h-5zM204 214h1v1h-1zM235 214h5v1h-5zM238 215h3v1h-3zM200 217h1v1h-1zM199 218h1v1h-1zM198 219h1v1h-1zM193 227h1v1h-1zM174 236h1v1h-1zM171 242h1v1h-1z"/>
<path fill="#c73d73" d="M61 192h31v1h-31zM71 193h29v1h-29zM72 194h24v1h-24zM63 195h22v1h-22zM61 196h7v1h-7zM166 196h3v1h-3zM166 197h2v1h-2zM170 197h1v1h-1zM168 198h1v1h-1zM169 199h1v1h-1zM204 207h1v1h-1zM207 208h1v1h-1zM207 209h1v1h-1zM199 212h1v1h-1zM205 212h1v1h-1zM240 212h1v1h-1zM204 213h1v1h-1zM239 213h2v1h-2zM203 214h1v1h-1zM240 214h1v1h-1zM202 215h1v1h-1zM201 216h1v1h-1zM198 218h1v1h-1zM192 228h1v1h-1zM184 234h1v1h-1zM181 244h1v1h-1z"/>
<path fill="#bf3a77" d="M61 193h10v1h-10zM61 194h11v1h-11zM61 195h2v1h-2zM168 197h2v1h-2zM169 198h1v1h-1zM170 199h1v1h-1zM205 207h2v1h-2zM206 210h1v1h-1zM200 211h1v1h-1zM205 211h1v1h-1zM198 214h1v1h-1zM198 215h1v1h-1zM200 216h1v1h-1zM198 217h2v1h-2zM185 241h1v1h-1z"/>
<path fill="#b73779" d="M170 198h1v1h-1zM203 208h1v1h-1zM206 208h1v1h-1zM202 209h1v1h-1zM206 209h1v1h-1zM201 210h1v1h-1zM204 212h1v1h-1zM199 213h1v1h-1zM203 213h1v1h-1zM202 214h1v1h-1zM201 215h1v1h-1zM198 216h2v1h-2zM194 226h1v1h-1zM196 228h1v1h-1zM191 235h1v1h-1z"/>
<path fill="#ad347c" d="M204 208h2v1h-2zM205 210h1v1h-1zM201 211h1v1h-1zM204 211h1v1h-1zM200 212h1v1h-1zM203 212h1v1h-1zM202 213h1v1h-1zM199 214h1v1h-1zM201 214h1v1h-1zM199 215h2v1h-2zM191 229h1v1h-1zM173 246h1v1h-1z"/>
<path fill="#a5317e" d="M203 209h3v1h-3zM202 210h1v1h-1zM204 210h1v1h-1zM203 211h1v1h-1zM201 212h2v1h-2zM200 213h2v1h-2zM200 214h1v1h-1z"/>
<path fill="#9c2e7f" d="M203 210h1v1h-1zM202 211h1v1h-1zM197 224h1v1h-1zM187 232h1v1h-1z"/>
<path fill="#681c81" d="M196 224h1v1h-1zM177 238h1v1h-1zM188 238h1v1h-1z"/>
<path fill="#932b80" d="M195 225h1v1h-1zM172 235h1v1h-1zM183 235h1v1h-1zM175 237h1v1h-1zM186 240h1v1h-1z"/>
<path fill="#000004" d="M196 225h1v1h-1zM196 226h1v1h-1zM195 227h1v1h-1zM194 228h2v1h-2zM193 229h2v1h-2zM192 230h2v1h-2zM190 231h3v1h-3zM189 232h4v1h-4zM187 233h5v1h-5zM186 234h5v1h-5zM185 235h5v1h-5zM172 236h1v1h-1zM183 236h7v1h-7zM172 237h2v1h-2zM182 237h7v1h-7zM172 238h4v1h-4zM180 238h8v1h-8zM172 239h15v1h-15zM172 240h13v1h-13zM172 241h12v1h-12zM172 242h11v1h-11zM173 243h8v1h-8zM173 244h7v1h-7zM173 245h5v1h-5z"/>
<path fill="#792282" d="M197 225h1v1h-1zM197 226h1v1h-1zM187 239h1v1h-1zM182 243h1v1h-1zM179 245h1v1h-1zM177 246h1v1h-1z"/>
<path fill="#090720" d="M195 226h1v1h-1zM192 229h1v1h-1zM191 230h1v1h-1zM193 231h1v1h-1zM184 235h1v1h-1zM190 235h1v1h-1zM174 237h1v1h-1zM185 240h1v1h-1zM172 243h1v1h-1zM181 243h1v1h-1z"/>
<path fill="#100b2d" d="M194 227h1v1h-1zM188 232h1v1h-1zM181 237h1v1h-1zM178 245h1v1h-1zM176 246h1v1h-1z"/>
<path fill="#150e38" d="M196 227h1v1h-1zM193 228h1v1h-1zM191 234h1v1h-1zM179 238h1v1h-1zM184 241h1v1h-1zM172 244h1v1h-1zM175 246h1v1h-1z"/>
<path fill="#721f81" d="M195 229h1v1h-1z"/>
<path fill="#832681" d="M190 230h1v1h-1zM190 236h1v1h-1zM178 238h1v1h-1z"/>
<path fill="#2c115f" d="M194 230h1v1h-1zM173 236h1v1h-1z"/>
<path fill="#3f0f72" d="M189 231h1v1h-1zM182 236h1v1h-1z"/>
<path fill="#8b2981" d="M193 232h1v1h-1zM180 237h1v1h-1z"/>
<path fill="#51127c" d="M186 233h1v1h-1zM172 245h1v1h-1z"/>
<path fill="#471078" d="M192 233h1v1h-1zM176 238h1v1h-1z"/>
<path fill="#1d1147" d="M185 234h1v1h-1zM174 246h1v1h-1z"/>
<path fill="#59157e" d="M189 237h1v1h-1z"/>
<path fill="#36106b" d="M183 242h1v1h-1z"/>
<path fill="#241253" d="M180 244h1v1h-1z"/>
</g>
<rect x="60" y="145" width="1" height="117" fill="#fcf4b6"/>
<filter id="gr" x="60" y="145" width="182" height="118" filterUnits="userSpaceOnUse" color-interpolation-filters="sRGB"><feTurbulence type="fractalNoise" baseFrequency="0.3" numOctaves="2" seed="11"/><feColorMatrix type="matrix" values="0 0 0 0 0.96  0 0 0 0 0.55  0 0 0 0 0.36  1.4 0 0 0 -0.62"/></filter>
<rect x="60.5" y="145.2" width="180.7" height="117.2" filter="url(#gr)" opacity="0.3"/>
<path d="M69.6 145.5V162.8" stroke="#e3777a" stroke-width="1.7" fill="none"/>
<path d="M69.6 169.8L66.6 161.8L72.6 161.8Z" fill="#e3777a"/>
<path d="M146 145.5V162.8" stroke="#ea9a7e" stroke-width="1.7" fill="none"/>
<path d="M146 169.8L143 161.8L149 161.8Z" fill="#ea9a7e"/>
<path d="M69.6 262V246" stroke="#e3777a" stroke-width="1.7" fill="none"/>
<path d="M69.6 239L66.6 247L72.6 247Z" fill="#e3777a"/>
<path d="M146 262V246" stroke="#ea9a7e" stroke-width="1.7" fill="none"/>
<path d="M146 239L143 247L149 247Z" fill="#ea9a7e"/>
<path d="M171 145.6V262.4" stroke="#2433f2" stroke-width="1.5" stroke-dasharray="2.8 1.5"/>
<path d="M197.6 145.6V262.4" stroke="#2433f2" stroke-width="1.5" stroke-dasharray="2.8 1.5"/>
<text transform="translate(186.8 172.7) rotate(-90)" x="0" y="0" font-size="12.6" fill="#2030ee" text-anchor="middle" textLength="50.5" lengthAdjust="spacingAndGlyphs" stroke="#2030ee" stroke-width="0.28">Instability</text>
<path d="M60.5 145.2V262.4H241.2V145.2" stroke="#1a1a1a" stroke-width="1.0" fill="none"/>
<path d="M60.5 145.0H241.2" stroke="#555" stroke-width="0.8" fill="none"/>
<text x="55.4" y="164" font-size="11.5" text-anchor="end" fill="#111" font-weight="normal" stroke="#111" stroke-width="0.28">447.5</text>
<text x="55.4" y="193.4" font-size="11.5" text-anchor="end" fill="#111" font-weight="normal" stroke="#111" stroke-width="0.28">446.5</text>
<text x="55.4" y="222.8" font-size="11.5" text-anchor="end" fill="#111" font-weight="normal" stroke="#111" stroke-width="0.28">445.5</text>
<text x="55.4" y="252.3" font-size="11.5" text-anchor="end" fill="#111" font-weight="normal" stroke="#111" stroke-width="0.28">444.5</text>
<text x="98.5" y="276.2" font-size="11.5" text-anchor="middle" fill="#111" font-weight="normal" stroke="#111" stroke-width="0.28">7.9</text>
<text x="146" y="276.2" font-size="11.5" text-anchor="middle" fill="#111" font-weight="normal" stroke="#111" stroke-width="0.28">8.0</text>
<text x="193.5" y="276.2" font-size="11.5" text-anchor="middle" fill="#111" font-weight="normal" stroke="#111" stroke-width="0.28">8.1</text>
<path d="M60.5 160h2.2M241.2 160h-2.2M60.5 189.4h2.2M241.2 189.4h-2.2M60.5 218.8h2.2M241.2 218.8h-2.2M60.5 248.3h2.2M241.2 248.3h-2.2M98.5 262.4v-2.2M98.5 145.2v2.2M146 262.4v-2.2M146 145.2v2.2M193.5 262.4v-2.2M193.5 145.2v2.2" stroke="#1a1a1a" stroke-width="1.0"/>
<text x="150.5" y="288.0" font-size="11.5" fill="#111" text-anchor="middle" stroke="#111" stroke-width="0.28"><tspan font-style="italic">ω</tspan><tspan font-size="8" dy="2">p</tspan><tspan dy="-2">/2</tspan><tspan font-style="italic">π</tspan> [GHz]</text>
<text transform="translate(19.4 204.2) rotate(-90)" font-size="11.5" fill="#111" text-anchor="middle" stroke="#111" stroke-width="0.28">Ω/2<tspan font-style="italic">π</tspan> [MHz]</text>
</g>
<g id="pc">
<text x="12.9" y="313.6" font-size="12" text-anchor="start" fill="#000" font-weight="bold" stroke="#000" stroke-width="0.28">c</text>
<path d="M70.8 307.3V393.3M127.6 307.3V393.3M184.3 307.3V393.3M60.4 318.8H241.1M60.4 350.1H241.1M60.4 381.5H241.1" stroke="#c4c4c4" stroke-width="1"/>
<path d="M101.6 321.6h1.2v1.2h-1.2zM117.6 327.9h1.2v1.2h-1.2zM203.6 319.7h1.2v1.2h-1.2zM181.9 324.4h1.2v1.2h-1.2zM130.9 336.4h1.2v1.2h-1.2zM120.5 330.4h1.2v1.2h-1.2zM168 326.4h1.2v1.2h-1.2zM94.3 320.2h1.2v1.2h-1.2zM181.3 323.7h1.2v1.2h-1.2zM229.5 316.6h1.2v1.2h-1.2zM105.3 322.6h1.2v1.2h-1.2zM230.7 316.8h1.2v1.2h-1.2zM180.3 323.1h1.2v1.2h-1.2zM78.1 319.1h1.2v1.2h-1.2zM140 342.2h1.2v1.2h-1.2zM219.6 318.2h1.2v1.2h-1.2zM185.7 325.9h1.2v1.2h-1.2zM119.3 329h1.2v1.2h-1.2zM192.3 322.6h1.2v1.2h-1.2zM100.3 322.5h1.2v1.2h-1.2zM75.5 318.1h1.2v1.2h-1.2zM89.5 318.4h1.2v1.2h-1.2zM121.8 332h1.2v1.2h-1.2zM144.2 343.3h1.2v1.2h-1.2zM108.6 319.4h1.2v1.2h-1.2zM206.9 314.7h1.2v1.2h-1.2zM95.5 321.8h1.2v1.2h-1.2zM84.1 318.3h1.2v1.2h-1.2zM77.3 319.7h1.2v1.2h-1.2zM168 329.7h1.2v1.2h-1.2zM213.9 318.8h1.2v1.2h-1.2zM168.6 330.3h1.2v1.2h-1.2zM227.7 316.3h1.2v1.2h-1.2zM190.6 322h1.2v1.2h-1.2zM214.9 322.3h1.2v1.2h-1.2zM227.3 321.2h1.2v1.2h-1.2zM158.7 333.8h1.2v1.2h-1.2zM228.7 316.1h1.2v1.2h-1.2zM149.5 340.4h1.2v1.2h-1.2zM109.9 323.7h1.2v1.2h-1.2zM141.8 345.7h1.2v1.2h-1.2zM179.9 325.7h1.2v1.2h-1.2zM120.1 324.5h1.2v1.2h-1.2zM222.6 319.7h1.2v1.2h-1.2zM106.9 325.4h1.2v1.2h-1.2zM121.7 328.8h1.2v1.2h-1.2zM107.2 328.2h1.2v1.2h-1.2zM124.5 330.1h1.2v1.2h-1.2zM61.8 322.3h1.2v1.2h-1.2zM173.4 333.7h1.2v1.2h-1.2zM111.4 321.6h1.2v1.2h-1.2zM73.1 318.9h1.2v1.2h-1.2zM171.3 330.4h1.2v1.2h-1.2zM92.5 328.9h1.2v1.2h-1.2zM115.4 322h1.2v1.2h-1.2zM139.8 344.2h1.2v1.2h-1.2zM87.8 321.1h1.2v1.2h-1.2zM99.9 320.8h1.2v1.2h-1.2zM145.8 342.2h1.2v1.2h-1.2zM146.2 343h1.2v1.2h-1.2zM106.6 322.5h1.2v1.2h-1.2zM114.2 322.7h1.2v1.2h-1.2zM110.9 328.5h1.2v1.2h-1.2zM107.5 320.8h1.2v1.2h-1.2zM147.3 343.1h1.2v1.2h-1.2zM98.8 320h1.2v1.2h-1.2zM149.6 342.6h1.2v1.2h-1.2zM105 323.1h1.2v1.2h-1.2zM211 318.1h1.2v1.2h-1.2zM93.1 320.3h1.2v1.2h-1.2zM215.2 324.1h1.2v1.2h-1.2zM92.8 323.5h1.2v1.2h-1.2zM195.2 320.6h1.2v1.2h-1.2zM170.3 331.9h1.2v1.2h-1.2zM98.3 319.7h1.2v1.2h-1.2zM196.9 321.7h1.2v1.2h-1.2zM105.5 319.5h1.2v1.2h-1.2zM76.2 316.9h1.2v1.2h-1.2zM171.5 326.7h1.2v1.2h-1.2zM157 342.5h1.2v1.2h-1.2zM174.5 327.8h1.2v1.2h-1.2zM92.1 322.2h1.2v1.2h-1.2zM105.3 323.4h1.2v1.2h-1.2zM183.5 324.6h1.2v1.2h-1.2zM75.4 320.8h1.2v1.2h-1.2zM217.5 321.6h1.2v1.2h-1.2zM137.6 342h1.2v1.2h-1.2zM171.6 326.5h1.2v1.2h-1.2zM116.9 325.2h1.2v1.2h-1.2zM92.9 323.9h1.2v1.2h-1.2zM62.6 323h1.2v1.2h-1.2zM98.5 323h1.2v1.2h-1.2zM216.6 315.6h1.2v1.2h-1.2zM235 323.3h1.2v1.2h-1.2zM140 343.7h1.2v1.2h-1.2zM128.7 334.7h1.2v1.2h-1.2zM110.3 324.5h1.2v1.2h-1.2zM233.8 318.4h1.2v1.2h-1.2zM71.3 324h1.2v1.2h-1.2zM134.1 343.3h1.2v1.2h-1.2zM91.1 318.1h1.2v1.2h-1.2zM103.9 322.2h1.2v1.2h-1.2zM200.5 321.5h1.2v1.2h-1.2zM97.4 324.7h1.2v1.2h-1.2zM159.7 331.3h1.2v1.2h-1.2zM126.6 335.6h1.2v1.2h-1.2zM151.7 347h1.2v1.2h-1.2zM120.6 328.3h1.2v1.2h-1.2zM111.5 324.7h1.2v1.2h-1.2zM111.3 327.9h1.2v1.2h-1.2zM76.2 320.7h1.2v1.2h-1.2zM147.1 340.9h1.2v1.2h-1.2zM219 316.7h1.2v1.2h-1.2zM230.5 316.8h1.2v1.2h-1.2zM65.8 315.9h1.2v1.2h-1.2zM225.2 319.5h1.2v1.2h-1.2zM82.7 318.8h1.2v1.2h-1.2zM194.8 321.5h1.2v1.2h-1.2zM221.4 321.3h1.2v1.2h-1.2zM91 325.1h1.2v1.2h-1.2zM120.2 329.5h1.2v1.2h-1.2zM128.6 330.1h1.2v1.2h-1.2zM123 334.1h1.2v1.2h-1.2zM153.3 341.6h1.2v1.2h-1.2zM62.5 322.3h1.2v1.2h-1.2zM136.6 339.7h1.2v1.2h-1.2zM218 320.4h1.2v1.2h-1.2zM76.5 319.4h1.2v1.2h-1.2zM147.6 344.1h1.2v1.2h-1.2zM147 347.4h1.2v1.2h-1.2zM201 319h1.2v1.2h-1.2zM233.6 319.7h1.2v1.2h-1.2zM187.5 323.2h1.2v1.2h-1.2zM109.9 323.3h1.2v1.2h-1.2zM180.9 319h1.2v1.2h-1.2zM123.1 331.6h1.2v1.2h-1.2zM198.4 313.8h1.2v1.2h-1.2zM181.9 320.4h1.2v1.2h-1.2zM235.9 318.1h1.2v1.2h-1.2zM216 320.8h1.2v1.2h-1.2zM69.2 321.7h1.2v1.2h-1.2zM112.9 327.4h1.2v1.2h-1.2zM215.3 321.2h1.2v1.2h-1.2zM168.5 329.8h1.2v1.2h-1.2zM122.5 333.4h1.2v1.2h-1.2zM70.9 318.9h1.2v1.2h-1.2zM197.5 323.8h1.2v1.2h-1.2zM61.2 313.8h1.2v1.2h-1.2zM77.5 317.4h1.2v1.2h-1.2zM238.7 317.8h1.2v1.2h-1.2zM199.8 320.7h1.2v1.2h-1.2zM216.3 313.7h1.2v1.2h-1.2zM146.3 346.3h1.2v1.2h-1.2zM91.1 323.2h1.2v1.2h-1.2zM156.5 341.8h1.2v1.2h-1.2zM137.1 339.9h1.2v1.2h-1.2zM90.1 324.2h1.2v1.2h-1.2zM90.6 319.3h1.2v1.2h-1.2zM107.1 325.7h1.2v1.2h-1.2zM229.7 319.2h1.2v1.2h-1.2zM237.5 319.2h1.2v1.2h-1.2zM186.9 322.4h1.2v1.2h-1.2zM190.3 322h1.2v1.2h-1.2zM192 324.6h1.2v1.2h-1.2zM153.5 345.4h1.2v1.2h-1.2zM92.7 324.4h1.2v1.2h-1.2zM218 321.9h1.2v1.2h-1.2zM218.5 321.3h1.2v1.2h-1.2zM187.9 323.7h1.2v1.2h-1.2zM228 323.8h1.2v1.2h-1.2zM236.3 318.2h1.2v1.2h-1.2zM151 341.5h1.2v1.2h-1.2zM196.5 321.2h1.2v1.2h-1.2zM171.3 324.8h1.2v1.2h-1.2zM81.5 319.4h1.2v1.2h-1.2zM117.5 327.3h1.2v1.2h-1.2zM73 317.1h1.2v1.2h-1.2zM219.6 318.2h1.2v1.2h-1.2zM64.9 321.2h1.2v1.2h-1.2zM157.1 338.8h1.2v1.2h-1.2zM92.7 321h1.2v1.2h-1.2zM87.2 322.9h1.2v1.2h-1.2zM90.6 319.1h1.2v1.2h-1.2zM217.9 316.8h1.2v1.2h-1.2zM149.4 343.6h1.2v1.2h-1.2zM121.9 331h1.2v1.2h-1.2zM239.8 314.7h1.2v1.2h-1.2zM158.6 339.8h1.2v1.2h-1.2zM115.2 325.5h1.2v1.2h-1.2zM127.2 332.7h1.2v1.2h-1.2zM185.5 321h1.2v1.2h-1.2zM82.4 319.6h1.2v1.2h-1.2zM196.6 323.5h1.2v1.2h-1.2zM219.1 320.9h1.2v1.2h-1.2zM145.9 346.3h1.2v1.2h-1.2zM139.2 341.5h1.2v1.2h-1.2zM86.5 324.3h1.2v1.2h-1.2zM136.6 344h1.2v1.2h-1.2zM197.7 320.9h1.2v1.2h-1.2zM135 333.2h1.2v1.2h-1.2zM171.9 328.8h1.2v1.2h-1.2zM68.7 326.4h1.2v1.2h-1.2zM100.2 321.8h1.2v1.2h-1.2zM97.4 318.9h1.2v1.2h-1.2zM236.5 323.6h1.2v1.2h-1.2zM68.9 318h1.2v1.2h-1.2zM99.4 323h1.2v1.2h-1.2zM66.5 321.4h1.2v1.2h-1.2zM175.4 323.1h1.2v1.2h-1.2zM177.8 326h1.2v1.2h-1.2zM122.7 333.5h1.2v1.2h-1.2zM67.4 318.7h1.2v1.2h-1.2zM138.8 343.8h1.2v1.2h-1.2zM91.6 320.7h1.2v1.2h-1.2zM137.3 343.9h1.2v1.2h-1.2zM127.6 338.7h1.2v1.2h-1.2zM100.5 319.2h1.2v1.2h-1.2zM211.6 319.2h1.2v1.2h-1.2zM184.9 324.3h1.2v1.2h-1.2zM145.1 342.7h1.2v1.2h-1.2zM132.4 335.7h1.2v1.2h-1.2zM80.4 319.1h1.2v1.2h-1.2zM168.8 329.9h1.2v1.2h-1.2zM151.1 341.4h1.2v1.2h-1.2zM223 320.4h1.2v1.2h-1.2zM234.3 321.4h1.2v1.2h-1.2zM205.8 322.1h1.2v1.2h-1.2zM216 321.5h1.2v1.2h-1.2zM149.6 346.6h1.2v1.2h-1.2zM127.8 330.8h1.2v1.2h-1.2zM146.6 344h1.2v1.2h-1.2zM156 340.7h1.2v1.2h-1.2zM207.3 321.5h1.2v1.2h-1.2zM87.9 316.4h1.2v1.2h-1.2zM168.4 335.5h1.2v1.2h-1.2zM223.1 317.3h1.2v1.2h-1.2zM100.7 322.7h1.2v1.2h-1.2zM112.4 327h1.2v1.2h-1.2zM211.7 322.7h1.2v1.2h-1.2zM177.6 324.1h1.2v1.2h-1.2zM233.7 318h1.2v1.2h-1.2zM175.8 327.5h1.2v1.2h-1.2zM230.8 320.9h1.2v1.2h-1.2zM208.9 322.4h1.2v1.2h-1.2zM181.7 324.1h1.2v1.2h-1.2zM94.9 319.4h1.2v1.2h-1.2zM99.1 318.4h1.2v1.2h-1.2zM215.4 324.2h1.2v1.2h-1.2zM120.7 325.8h1.2v1.2h-1.2zM183.8 325.4h1.2v1.2h-1.2zM138.8 343h1.2v1.2h-1.2zM143.1 345.9h1.2v1.2h-1.2zM62.8 321.8h1.2v1.2h-1.2zM208.1 323.5h1.2v1.2h-1.2zM116.6 326.9h1.2v1.2h-1.2zM121.2 330.6h1.2v1.2h-1.2zM73.7 314.8h1.2v1.2h-1.2zM172.7 328.3h1.2v1.2h-1.2zM200.3 318.5h1.2v1.2h-1.2zM152.4 342.1h1.2v1.2h-1.2zM146.4 347.4h1.2v1.2h-1.2zM199.1 321.1h1.2v1.2h-1.2zM78.2 322.6h1.2v1.2h-1.2zM157.7 338.4h1.2v1.2h-1.2zM195 322.4h1.2v1.2h-1.2zM126.5 332.1h1.2v1.2h-1.2zM217.7 313.4h1.2v1.2h-1.2zM142.7 342.1h1.2v1.2h-1.2zM81.6 319.4h1.2v1.2h-1.2zM235.8 319.7h1.2v1.2h-1.2zM142.5 343.8h1.2v1.2h-1.2zM195.6 321h1.2v1.2h-1.2zM74.9 322.1h1.2v1.2h-1.2zM205.7 321.9h1.2v1.2h-1.2zM88.1 319.5h1.2v1.2h-1.2zM83.3 322.3h1.2v1.2h-1.2zM110.4 319.5h1.2v1.2h-1.2zM136.9 340.4h1.2v1.2h-1.2zM147.8 343.8h1.2v1.2h-1.2zM137.6 344.8h1.2v1.2h-1.2zM67.1 318.2h1.2v1.2h-1.2zM167.8 327.6h1.2v1.2h-1.2zM193.7 322h1.2v1.2h-1.2zM236.1 323.6h1.2v1.2h-1.2zM160.1 336.6h1.2v1.2h-1.2zM227.7 319.2h1.2v1.2h-1.2zM231.3 318.9h1.2v1.2h-1.2zM98.9 321.9h1.2v1.2h-1.2zM72.8 323h1.2v1.2h-1.2zM91.3 325.7h1.2v1.2h-1.2zM194.2 322.7h1.2v1.2h-1.2zM107.6 323.4h1.2v1.2h-1.2zM81 324.7h1.2v1.2h-1.2zM229.8 319.7h1.2v1.2h-1.2zM183.3 324h1.2v1.2h-1.2zM232.4 318.5h1.2v1.2h-1.2zM119.9 328h1.2v1.2h-1.2zM95.3 321.8h1.2v1.2h-1.2zM85.4 319.6h1.2v1.2h-1.2zM229.8 320.5h1.2v1.2h-1.2zM90.3 320.9h1.2v1.2h-1.2zM204.5 321.8h1.2v1.2h-1.2zM98.8 320.8h1.2v1.2h-1.2zM215.4 319.3h1.2v1.2h-1.2zM71 320.3h1.2v1.2h-1.2zM129.2 335.5h1.2v1.2h-1.2zM132.8 338.4h1.2v1.2h-1.2zM235.6 322.3h1.2v1.2h-1.2zM221.6 316.9h1.2v1.2h-1.2zM129.7 330.9h1.2v1.2h-1.2zM136.9 342.9h1.2v1.2h-1.2zM188.9 321.8h1.2v1.2h-1.2zM175.5 330.2h1.2v1.2h-1.2zM221 319.4h1.2v1.2h-1.2zM183.9 320.7h1.2v1.2h-1.2zM153.1 347.6h1.2v1.2h-1.2zM222.1 320.6h1.2v1.2h-1.2zM120.1 327.8h1.2v1.2h-1.2zM126.7 331.5h1.2v1.2h-1.2zM123.8 332.7h1.2v1.2h-1.2zM148.5 342.3h1.2v1.2h-1.2zM67.1 320.5h1.2v1.2h-1.2zM142 346.6h1.2v1.2h-1.2zM117.6 324.1h1.2v1.2h-1.2zM104.4 321.9h1.2v1.2h-1.2zM105.2 324.2h1.2v1.2h-1.2zM203.7 324.6h1.2v1.2h-1.2zM129.9 338.2h1.2v1.2h-1.2zM236.5 318.2h1.2v1.2h-1.2zM134.8 343.3h1.2v1.2h-1.2zM185.8 322.2h1.2v1.2h-1.2zM115.6 326.1h1.2v1.2h-1.2zM208.8 321.1h1.2v1.2h-1.2zM99 319h1.2v1.2h-1.2zM110.2 332.1h1.2v1.2h-1.2zM113.3 328.5h1.2v1.2h-1.2zM84.1 320.7h1.2v1.2h-1.2zM195.3 319.9h1.2v1.2h-1.2zM138.1 339h1.2v1.2h-1.2zM83.4 321.1h1.2v1.2h-1.2zM156.9 341.3h1.2v1.2h-1.2zM148.3 343h1.2v1.2h-1.2zM151.3 342.5h1.2v1.2h-1.2zM188.4 323.9h1.2v1.2h-1.2zM72.8 319.5h1.2v1.2h-1.2zM149 339.2h1.2v1.2h-1.2zM70.1 321.3h1.2v1.2h-1.2zM235.6 320h1.2v1.2h-1.2zM179 327.1h1.2v1.2h-1.2zM91.2 318.9h1.2v1.2h-1.2zM225.5 314.2h1.2v1.2h-1.2zM92.2 317.7h1.2v1.2h-1.2zM124.4 332.4h1.2v1.2h-1.2zM69.4 324.8h1.2v1.2h-1.2zM127.4 339.7h1.2v1.2h-1.2zM191.8 322.6h1.2v1.2h-1.2zM82.7 316.5h1.2v1.2h-1.2zM200 319.9h1.2v1.2h-1.2zM137.3 342.5h1.2v1.2h-1.2zM204.5 321.5h1.2v1.2h-1.2zM92 321.1h1.2v1.2h-1.2zM222.4 322.9h1.2v1.2h-1.2zM191.1 319.7h1.2v1.2h-1.2zM69.5 314.2h1.2v1.2h-1.2zM146.7 342.1h1.2v1.2h-1.2zM72.6 316.8h1.2v1.2h-1.2zM190.2 327.7h1.2v1.2h-1.2zM125.9 332.3h1.2v1.2h-1.2zM199.5 317.3h1.2v1.2h-1.2zM218.9 321.2h1.2v1.2h-1.2zM92.5 323.4h1.2v1.2h-1.2zM206 320.4h1.2v1.2h-1.2zM130 336.4h1.2v1.2h-1.2zM129.3 337.9h1.2v1.2h-1.2zM178 326.9h1.2v1.2h-1.2zM235.3 317.6h1.2v1.2h-1.2zM183.1 325.3h1.2v1.2h-1.2zM100.5 324.3h1.2v1.2h-1.2zM61 320.3h1.2v1.2h-1.2zM80.8 322.2h1.2v1.2h-1.2zM113.6 327.1h1.2v1.2h-1.2zM73.2 319.1h1.2v1.2h-1.2zM72.8 319.3h1.2v1.2h-1.2zM230.3 320.9h1.2v1.2h-1.2zM88 319.1h1.2v1.2h-1.2zM120.7 332.1h1.2v1.2h-1.2zM233.8 322.4h1.2v1.2h-1.2zM156.4 334.8h1.2v1.2h-1.2zM184.9 323.2h1.2v1.2h-1.2zM112.4 323.3h1.2v1.2h-1.2zM180.1 323.2h1.2v1.2h-1.2zM90.1 321h1.2v1.2h-1.2zM122.8 330.2h1.2v1.2h-1.2zM223.2 321h1.2v1.2h-1.2zM191.5 322.7h1.2v1.2h-1.2zM143.6 345h1.2v1.2h-1.2zM142.9 342h1.2v1.2h-1.2zM193.8 320.7h1.2v1.2h-1.2zM132.1 341.2h1.2v1.2h-1.2zM138.3 335.8h1.2v1.2h-1.2zM162.5 339.5h1.2v1.2h-1.2zM161.1 334.9h1.2v1.2h-1.2zM143.3 347h1.2v1.2h-1.2zM169.1 323.9h1.2v1.2h-1.2zM87.7 319.4h1.2v1.2h-1.2zM193.2 323.7h1.2v1.2h-1.2zM90 321h1.2v1.2h-1.2zM205.6 322.8h1.2v1.2h-1.2zM163.4 332.3h1.2v1.2h-1.2zM228.4 318h1.2v1.2h-1.2zM135.6 338.6h1.2v1.2h-1.2zM178.7 326.6h1.2v1.2h-1.2zM74 320.9h1.2v1.2h-1.2zM115.2 326h1.2v1.2h-1.2zM89.9 320h1.2v1.2h-1.2zM180.6 323.9h1.2v1.2h-1.2zM82.6 320.3h1.2v1.2h-1.2zM150.1 341.1h1.2v1.2h-1.2zM106.1 323h1.2v1.2h-1.2zM90.9 320.3h1.2v1.2h-1.2zM206.5 318.9h1.2v1.2h-1.2zM104.5 321.4h1.2v1.2h-1.2zM75.2 323.4h1.2v1.2h-1.2zM131.1 335.3h1.2v1.2h-1.2zM98.6 322.7h1.2v1.2h-1.2zM188.7 325.8h1.2v1.2h-1.2zM171.6 330.6h1.2v1.2h-1.2zM230.8 319.5h1.2v1.2h-1.2zM213.3 322.4h1.2v1.2h-1.2zM115.7 323h1.2v1.2h-1.2zM215 316.7h1.2v1.2h-1.2zM106.2 322.2h1.2v1.2h-1.2zM213.7 319.3h1.2v1.2h-1.2zM86.9 320.1h1.2v1.2h-1.2zM227.1 324.2h1.2v1.2h-1.2zM161.9 339.8h1.2v1.2h-1.2zM142.8 343.8h1.2v1.2h-1.2zM133 338.9h1.2v1.2h-1.2zM128.5 332.4h1.2v1.2h-1.2zM89 321.3h1.2v1.2h-1.2zM173.9 324.2h1.2v1.2h-1.2zM124.6 335.3h1.2v1.2h-1.2zM218.5 318.4h1.2v1.2h-1.2zM83 321.5h1.2v1.2h-1.2zM144.7 341h1.2v1.2h-1.2zM165.7 336.2h1.2v1.2h-1.2zM191.4 323.4h1.2v1.2h-1.2zM178.2 330.5h1.2v1.2h-1.2zM137.2 341.5h1.2v1.2h-1.2zM191.8 317.8h1.2v1.2h-1.2zM188 320.6h1.2v1.2h-1.2zM129.2 332.1h1.2v1.2h-1.2zM137.5 345.4h1.2v1.2h-1.2zM124.4 330.1h1.2v1.2h-1.2zM200.1 318.9h1.2v1.2h-1.2zM86.5 321.8h1.2v1.2h-1.2zM206.9 320.9h1.2v1.2h-1.2zM166.2 333.6h1.2v1.2h-1.2zM127.3 332.6h1.2v1.2h-1.2zM229.6 314.4h1.2v1.2h-1.2zM232.3 316h1.2v1.2h-1.2zM234.3 313.9h1.2v1.2h-1.2zM79 323.1h1.2v1.2h-1.2zM148.7 346.2h1.2v1.2h-1.2zM225.7 318.6h1.2v1.2h-1.2zM62.5 321h1.2v1.2h-1.2zM114.6 327.8h1.2v1.2h-1.2zM143.2 345.6h1.2v1.2h-1.2zM110.7 325.9h1.2v1.2h-1.2zM163.2 336.8h1.2v1.2h-1.2zM156.9 339.7h1.2v1.2h-1.2zM212 314.4h1.2v1.2h-1.2zM103.8 315.7h1.2v1.2h-1.2zM196.2 324.4h1.2v1.2h-1.2zM149.2 345.3h1.2v1.2h-1.2zM233.7 313.1h1.2v1.2h-1.2zM214.5 320.3h1.2v1.2h-1.2zM64.6 317.3h1.2v1.2h-1.2zM132.4 336.4h1.2v1.2h-1.2zM106.6 316.8h1.2v1.2h-1.2zM148.3 346h1.2v1.2h-1.2zM239.2 319.1h1.2v1.2h-1.2zM164.6 335.6h1.2v1.2h-1.2zM73.3 322.4h1.2v1.2h-1.2zM194.7 324.6h1.2v1.2h-1.2zM96.9 325.5h1.2v1.2h-1.2zM143.7 344.8h1.2v1.2h-1.2zM174.7 327.7h1.2v1.2h-1.2zM224.3 317.9h1.2v1.2h-1.2zM122 331.4h1.2v1.2h-1.2zM179.9 324.3h1.2v1.2h-1.2zM67.2 316.6h1.2v1.2h-1.2zM72.1 322.7h1.2v1.2h-1.2zM137 343h1.2v1.2h-1.2zM166.5 325.5h1.2v1.2h-1.2zM111.6 320.2h1.2v1.2h-1.2zM193.8 321h1.2v1.2h-1.2zM118.3 324.5h1.2v1.2h-1.2zM109.3 327.2h1.2v1.2h-1.2zM185.5 323.7h1.2v1.2h-1.2zM187.7 324.1h1.2v1.2h-1.2zM235.6 321.7h1.2v1.2h-1.2zM84.7 323.6h1.2v1.2h-1.2zM78.1 319.2h1.2v1.2h-1.2zM209.8 321.6h1.2v1.2h-1.2zM110.3 325.1h1.2v1.2h-1.2zM223.1 321.6h1.2v1.2h-1.2zM163.2 336.1h1.2v1.2h-1.2zM168.6 334.3h1.2v1.2h-1.2zM61.7 320.8h1.2v1.2h-1.2zM162.3 334.2h1.2v1.2h-1.2zM216.7 320.1h1.2v1.2h-1.2zM238.8 316.5h1.2v1.2h-1.2zM129 336h1.2v1.2h-1.2zM91 324.6h1.2v1.2h-1.2zM222.7 318.1h1.2v1.2h-1.2zM135.1 335.7h1.2v1.2h-1.2zM141.9 343.5h1.2v1.2h-1.2zM144.9 343h1.2v1.2h-1.2zM158.9 338.1h1.2v1.2h-1.2z" fill="#f2926a" opacity="0.9"/>
<path d="M171.4 358.4h1.2v1.2h-1.2zM173.7 355h1.2v1.2h-1.2zM216.4 349.2h1.2v1.2h-1.2zM103.4 356.7h1.2v1.2h-1.2zM109.4 359.4h1.2v1.2h-1.2zM178.3 355.9h1.2v1.2h-1.2zM212.9 349.6h1.2v1.2h-1.2zM62.9 352.1h1.2v1.2h-1.2zM224.2 351.3h1.2v1.2h-1.2zM108.8 360h1.2v1.2h-1.2zM118.9 361.2h1.2v1.2h-1.2zM175.8 350.9h1.2v1.2h-1.2zM224.8 350.3h1.2v1.2h-1.2zM72.7 349.7h1.2v1.2h-1.2zM144.7 383.5h1.2v1.2h-1.2zM206.1 351.4h1.2v1.2h-1.2zM149.7 382.6h1.2v1.2h-1.2zM168.5 359.8h1.2v1.2h-1.2zM188.9 356.9h1.2v1.2h-1.2zM173.3 358.8h1.2v1.2h-1.2zM63.5 351.1h1.2v1.2h-1.2zM220.1 350.7h1.2v1.2h-1.2zM104.7 357.1h1.2v1.2h-1.2zM137.5 377.4h1.2v1.2h-1.2zM212 353.7h1.2v1.2h-1.2zM123.6 362.5h1.2v1.2h-1.2zM139.2 385.9h1.2v1.2h-1.2zM169.5 363.6h1.2v1.2h-1.2zM123.6 364.3h1.2v1.2h-1.2zM110.7 354.6h1.2v1.2h-1.2zM154.2 377.2h1.2v1.2h-1.2zM92.9 352.9h1.2v1.2h-1.2zM131.7 368.4h1.2v1.2h-1.2zM99 352.1h1.2v1.2h-1.2zM83 349.4h1.2v1.2h-1.2zM234.6 353.3h1.2v1.2h-1.2zM208.3 355.2h1.2v1.2h-1.2zM232.5 348.1h1.2v1.2h-1.2zM135.6 376.2h1.2v1.2h-1.2zM107.5 351.5h1.2v1.2h-1.2zM222 350.9h1.2v1.2h-1.2zM106.6 356.6h1.2v1.2h-1.2zM137.7 384.9h1.2v1.2h-1.2zM172.1 355.3h1.2v1.2h-1.2zM98.9 355.2h1.2v1.2h-1.2zM147.8 383.8h1.2v1.2h-1.2zM202.5 349.6h1.2v1.2h-1.2zM168.3 360h1.2v1.2h-1.2zM120.6 358.8h1.2v1.2h-1.2zM86.5 352.5h1.2v1.2h-1.2zM141 384h1.2v1.2h-1.2zM144.3 388.5h1.2v1.2h-1.2zM110.5 354.4h1.2v1.2h-1.2zM130.5 365.9h1.2v1.2h-1.2zM128.9 366h1.2v1.2h-1.2zM80.6 351.8h1.2v1.2h-1.2zM222.9 346.5h1.2v1.2h-1.2zM203.5 349.4h1.2v1.2h-1.2zM169.3 361.5h1.2v1.2h-1.2zM106.7 351.1h1.2v1.2h-1.2zM160.3 370.5h1.2v1.2h-1.2zM126.5 366.6h1.2v1.2h-1.2zM98.8 351.4h1.2v1.2h-1.2zM111.1 355.8h1.2v1.2h-1.2zM164.3 362.8h1.2v1.2h-1.2zM114.5 356.3h1.2v1.2h-1.2zM175.3 356.1h1.2v1.2h-1.2zM214.7 350.6h1.2v1.2h-1.2zM193.2 352.2h1.2v1.2h-1.2zM219.3 348.5h1.2v1.2h-1.2zM218.9 347.9h1.2v1.2h-1.2zM195.6 357.2h1.2v1.2h-1.2zM147.9 381.3h1.2v1.2h-1.2zM100 352.7h1.2v1.2h-1.2zM70.7 353.4h1.2v1.2h-1.2zM129.7 371.9h1.2v1.2h-1.2zM81.9 349.2h1.2v1.2h-1.2zM81.8 356h1.2v1.2h-1.2zM114.2 361.5h1.2v1.2h-1.2zM122 361h1.2v1.2h-1.2zM235.7 346.7h1.2v1.2h-1.2zM86.1 352.9h1.2v1.2h-1.2zM172.3 358h1.2v1.2h-1.2zM66.4 349.5h1.2v1.2h-1.2zM212 348.7h1.2v1.2h-1.2zM80.5 349.4h1.2v1.2h-1.2zM130.5 370.8h1.2v1.2h-1.2zM148.9 385.5h1.2v1.2h-1.2zM202.6 346.2h1.2v1.2h-1.2zM146.6 379h1.2v1.2h-1.2zM110.2 358h1.2v1.2h-1.2zM203.6 349.2h1.2v1.2h-1.2zM96.8 354.2h1.2v1.2h-1.2zM233.7 350.1h1.2v1.2h-1.2zM176.9 359.4h1.2v1.2h-1.2zM65.3 352.4h1.2v1.2h-1.2zM232.5 349.2h1.2v1.2h-1.2zM215.4 350.1h1.2v1.2h-1.2zM97.2 353.4h1.2v1.2h-1.2zM236.5 351.7h1.2v1.2h-1.2zM136.1 376.7h1.2v1.2h-1.2zM235.9 346h1.2v1.2h-1.2zM153.2 378.2h1.2v1.2h-1.2zM133.6 374.6h1.2v1.2h-1.2zM127.3 366.2h1.2v1.2h-1.2zM193.9 349.8h1.2v1.2h-1.2zM198.7 353.2h1.2v1.2h-1.2zM207.5 346.7h1.2v1.2h-1.2zM198.9 350.5h1.2v1.2h-1.2zM87.2 354.6h1.2v1.2h-1.2zM70.2 347.6h1.2v1.2h-1.2zM114.8 358.4h1.2v1.2h-1.2zM120.1 361.5h1.2v1.2h-1.2zM130.3 371.3h1.2v1.2h-1.2zM162.8 361.4h1.2v1.2h-1.2zM109.9 358h1.2v1.2h-1.2zM235.6 350.2h1.2v1.2h-1.2zM128.5 369.2h1.2v1.2h-1.2zM99.6 353.7h1.2v1.2h-1.2zM132.4 373.2h1.2v1.2h-1.2zM141.1 387.1h1.2v1.2h-1.2zM159.2 373.3h1.2v1.2h-1.2zM94.5 347.6h1.2v1.2h-1.2zM140.9 381.9h1.2v1.2h-1.2zM229.2 349.6h1.2v1.2h-1.2zM84.5 345.8h1.2v1.2h-1.2zM204.2 354.9h1.2v1.2h-1.2zM104.5 352h1.2v1.2h-1.2zM119.8 361.6h1.2v1.2h-1.2zM220.3 350.9h1.2v1.2h-1.2zM143.6 384.9h1.2v1.2h-1.2zM226.8 347.6h1.2v1.2h-1.2zM63.4 349.2h1.2v1.2h-1.2zM159.8 369.2h1.2v1.2h-1.2zM74.2 352.5h1.2v1.2h-1.2zM151.3 380h1.2v1.2h-1.2zM196.4 351h1.2v1.2h-1.2zM86.5 350.8h1.2v1.2h-1.2zM100.5 356.4h1.2v1.2h-1.2zM211.4 351.5h1.2v1.2h-1.2zM195.4 350.4h1.2v1.2h-1.2zM163.1 362.2h1.2v1.2h-1.2zM166.3 361.4h1.2v1.2h-1.2zM96 350.2h1.2v1.2h-1.2zM153.3 376.8h1.2v1.2h-1.2zM221.7 353.7h1.2v1.2h-1.2zM138.3 382.9h1.2v1.2h-1.2zM73.6 351.1h1.2v1.2h-1.2zM229.3 351h1.2v1.2h-1.2zM200.7 355.8h1.2v1.2h-1.2zM74.2 347.7h1.2v1.2h-1.2zM135.8 379h1.2v1.2h-1.2zM88.2 351h1.2v1.2h-1.2zM219.1 350.7h1.2v1.2h-1.2zM178.1 356.1h1.2v1.2h-1.2zM227.3 349.3h1.2v1.2h-1.2zM145 386.8h1.2v1.2h-1.2zM238.1 344.4h1.2v1.2h-1.2zM74.5 351.3h1.2v1.2h-1.2zM102.6 355.3h1.2v1.2h-1.2zM205.6 348.8h1.2v1.2h-1.2zM166.7 359.7h1.2v1.2h-1.2zM225.7 354.9h1.2v1.2h-1.2zM127.8 364.9h1.2v1.2h-1.2zM61.3 349.1h1.2v1.2h-1.2zM144.7 383.6h1.2v1.2h-1.2zM85.6 349.8h1.2v1.2h-1.2zM89.1 350h1.2v1.2h-1.2zM99.3 347.7h1.2v1.2h-1.2zM97.1 358.5h1.2v1.2h-1.2zM136.4 376.8h1.2v1.2h-1.2zM161.9 367.5h1.2v1.2h-1.2zM208.9 350.7h1.2v1.2h-1.2zM66 353.6h1.2v1.2h-1.2zM72 352.2h1.2v1.2h-1.2zM122.6 365h1.2v1.2h-1.2zM136.2 381.3h1.2v1.2h-1.2zM78.5 352.9h1.2v1.2h-1.2zM198.5 351.9h1.2v1.2h-1.2zM106.5 356.7h1.2v1.2h-1.2zM237.7 345.8h1.2v1.2h-1.2zM177.8 358.2h1.2v1.2h-1.2zM73 352.2h1.2v1.2h-1.2zM223.3 351h1.2v1.2h-1.2zM141.7 381.2h1.2v1.2h-1.2zM204.7 354.5h1.2v1.2h-1.2zM190.2 351.2h1.2v1.2h-1.2zM112.5 358h1.2v1.2h-1.2zM149.3 378.3h1.2v1.2h-1.2zM69.8 349.9h1.2v1.2h-1.2zM68 348.7h1.2v1.2h-1.2zM121.3 359.3h1.2v1.2h-1.2zM225.1 348.5h1.2v1.2h-1.2zM192.5 356.9h1.2v1.2h-1.2zM197.8 351.8h1.2v1.2h-1.2zM136.4 379.5h1.2v1.2h-1.2zM232.2 355.2h1.2v1.2h-1.2zM162.3 362.6h1.2v1.2h-1.2zM169.2 364.1h1.2v1.2h-1.2zM221 349.4h1.2v1.2h-1.2zM102.9 352.1h1.2v1.2h-1.2zM100.6 352.1h1.2v1.2h-1.2zM158.9 365.5h1.2v1.2h-1.2zM158.3 367h1.2v1.2h-1.2zM174.3 354.6h1.2v1.2h-1.2zM79.1 349.4h1.2v1.2h-1.2zM111.2 357.7h1.2v1.2h-1.2zM107 357.3h1.2v1.2h-1.2zM148.4 382.8h1.2v1.2h-1.2zM166.3 363.3h1.2v1.2h-1.2zM138.1 381.9h1.2v1.2h-1.2zM219.7 349.8h1.2v1.2h-1.2zM134.6 376.6h1.2v1.2h-1.2zM156.9 371.2h1.2v1.2h-1.2zM82.7 352.4h1.2v1.2h-1.2zM150.6 380.9h1.2v1.2h-1.2zM231.3 350h1.2v1.2h-1.2zM220.7 350.9h1.2v1.2h-1.2zM63.1 350.5h1.2v1.2h-1.2zM236.9 348h1.2v1.2h-1.2zM160.7 364.5h1.2v1.2h-1.2zM207.1 350.8h1.2v1.2h-1.2zM102.4 352.1h1.2v1.2h-1.2zM72.6 349.1h1.2v1.2h-1.2zM220.1 350h1.2v1.2h-1.2zM148.4 381.9h1.2v1.2h-1.2zM107.8 355.9h1.2v1.2h-1.2zM107.8 355.8h1.2v1.2h-1.2zM129.2 366.6h1.2v1.2h-1.2zM100.4 354h1.2v1.2h-1.2zM105.2 351.7h1.2v1.2h-1.2zM169.2 362h1.2v1.2h-1.2zM226.2 351.6h1.2v1.2h-1.2zM176.5 356.4h1.2v1.2h-1.2zM156.7 375.2h1.2v1.2h-1.2zM89.7 354.2h1.2v1.2h-1.2zM62 351.1h1.2v1.2h-1.2zM213.9 346h1.2v1.2h-1.2zM214.5 350.9h1.2v1.2h-1.2zM217.1 350.9h1.2v1.2h-1.2zM92.2 353.9h1.2v1.2h-1.2zM65.6 347.7h1.2v1.2h-1.2zM146.4 386.8h1.2v1.2h-1.2zM141.9 385.5h1.2v1.2h-1.2zM152.6 379.7h1.2v1.2h-1.2zM189.2 349.9h1.2v1.2h-1.2zM215.5 348.3h1.2v1.2h-1.2zM149.1 385.8h1.2v1.2h-1.2zM199.8 353.6h1.2v1.2h-1.2zM61.9 349.8h1.2v1.2h-1.2zM98.9 355.5h1.2v1.2h-1.2zM105.1 354.7h1.2v1.2h-1.2zM130.6 369.6h1.2v1.2h-1.2zM215.1 346.6h1.2v1.2h-1.2zM92.1 354.4h1.2v1.2h-1.2zM210.4 350.4h1.2v1.2h-1.2zM89.3 352.2h1.2v1.2h-1.2zM89 347.1h1.2v1.2h-1.2zM125.7 363.5h1.2v1.2h-1.2zM146.2 385.8h1.2v1.2h-1.2zM214.7 349.9h1.2v1.2h-1.2zM166.6 360.3h1.2v1.2h-1.2zM112.8 353.7h1.2v1.2h-1.2zM88.2 352h1.2v1.2h-1.2zM163.2 364.2h1.2v1.2h-1.2zM198.7 350.8h1.2v1.2h-1.2zM140 382.3h1.2v1.2h-1.2zM101.4 351.6h1.2v1.2h-1.2zM115 356.6h1.2v1.2h-1.2zM141.6 382.8h1.2v1.2h-1.2zM217.2 350.4h1.2v1.2h-1.2zM223.7 346.7h1.2v1.2h-1.2zM79.8 348.1h1.2v1.2h-1.2zM73.7 350.5h1.2v1.2h-1.2zM112 355.7h1.2v1.2h-1.2zM61.2 350.4h1.2v1.2h-1.2zM154.7 380.7h1.2v1.2h-1.2zM232.2 351.7h1.2v1.2h-1.2zM197.9 354.5h1.2v1.2h-1.2zM116.7 359.3h1.2v1.2h-1.2zM64.4 349.8h1.2v1.2h-1.2zM176.9 354.3h1.2v1.2h-1.2zM192.9 347.8h1.2v1.2h-1.2zM215.8 346.9h1.2v1.2h-1.2zM214.9 344.7h1.2v1.2h-1.2zM192.3 349.7h1.2v1.2h-1.2zM159.7 365.1h1.2v1.2h-1.2zM129.2 366.4h1.2v1.2h-1.2zM119.8 360h1.2v1.2h-1.2zM202.2 350.3h1.2v1.2h-1.2zM168.3 363h1.2v1.2h-1.2zM225.1 352.3h1.2v1.2h-1.2zM197.9 354.3h1.2v1.2h-1.2zM103.1 355.7h1.2v1.2h-1.2zM82.2 351.6h1.2v1.2h-1.2zM62.5 348.7h1.2v1.2h-1.2zM74.7 351.6h1.2v1.2h-1.2zM125.9 364.5h1.2v1.2h-1.2zM226.4 349.5h1.2v1.2h-1.2zM119 360.6h1.2v1.2h-1.2zM66.4 347.4h1.2v1.2h-1.2zM212.6 346.6h1.2v1.2h-1.2zM141.8 385.3h1.2v1.2h-1.2zM156.2 377.9h1.2v1.2h-1.2zM175.3 359.7h1.2v1.2h-1.2zM78.7 360h1.2v1.2h-1.2zM153.9 373.3h1.2v1.2h-1.2zM112.6 354.8h1.2v1.2h-1.2zM104.7 348.3h1.2v1.2h-1.2zM65.7 348h1.2v1.2h-1.2zM147.5 389.1h1.2v1.2h-1.2zM69 354.2h1.2v1.2h-1.2zM76.5 348.1h1.2v1.2h-1.2zM167.7 360.4h1.2v1.2h-1.2zM173.3 355.8h1.2v1.2h-1.2zM215.3 347.1h1.2v1.2h-1.2zM224.9 349.5h1.2v1.2h-1.2zM149.3 382h1.2v1.2h-1.2zM208.3 351.1h1.2v1.2h-1.2zM93 352.6h1.2v1.2h-1.2zM157.6 373.4h1.2v1.2h-1.2zM226.7 353.4h1.2v1.2h-1.2zM72.5 350.2h1.2v1.2h-1.2zM202.2 350.8h1.2v1.2h-1.2zM89.7 351.6h1.2v1.2h-1.2zM68.6 351.3h1.2v1.2h-1.2zM156.9 372.3h1.2v1.2h-1.2zM217.1 347.9h1.2v1.2h-1.2zM120.5 359.3h1.2v1.2h-1.2zM101.7 355.1h1.2v1.2h-1.2zM116.8 355.8h1.2v1.2h-1.2zM101.6 355.3h1.2v1.2h-1.2zM153.7 373.7h1.2v1.2h-1.2zM79.9 352.3h1.2v1.2h-1.2zM92.8 353.4h1.2v1.2h-1.2zM200.3 351h1.2v1.2h-1.2zM100.4 353h1.2v1.2h-1.2zM181.2 354.2h1.2v1.2h-1.2zM141.1 388.1h1.2v1.2h-1.2zM80.7 349.8h1.2v1.2h-1.2zM126 363.4h1.2v1.2h-1.2zM99.8 353.9h1.2v1.2h-1.2zM198.9 354.4h1.2v1.2h-1.2zM221.5 351h1.2v1.2h-1.2zM184 353.7h1.2v1.2h-1.2zM149.8 384.8h1.2v1.2h-1.2zM235 347.9h1.2v1.2h-1.2zM95.5 350.4h1.2v1.2h-1.2zM75.4 347.5h1.2v1.2h-1.2zM99 355.8h1.2v1.2h-1.2zM148.1 378.5h1.2v1.2h-1.2zM194 349h1.2v1.2h-1.2zM78.1 351.3h1.2v1.2h-1.2zM229.5 350.9h1.2v1.2h-1.2zM150.2 386.1h1.2v1.2h-1.2zM205.3 352.1h1.2v1.2h-1.2zM186 352.4h1.2v1.2h-1.2zM77.1 354h1.2v1.2h-1.2zM208.8 353.5h1.2v1.2h-1.2zM121.5 364.1h1.2v1.2h-1.2zM158.7 372.9h1.2v1.2h-1.2zM172.4 359.5h1.2v1.2h-1.2zM122.8 358.7h1.2v1.2h-1.2zM106.3 351.8h1.2v1.2h-1.2zM134.3 380.5h1.2v1.2h-1.2zM191.9 352.6h1.2v1.2h-1.2zM177.8 351.4h1.2v1.2h-1.2zM148.6 383.6h1.2v1.2h-1.2zM206.8 353.3h1.2v1.2h-1.2zM95.4 353.2h1.2v1.2h-1.2zM220.1 350.3h1.2v1.2h-1.2zM131.8 366.4h1.2v1.2h-1.2zM64.8 350.2h1.2v1.2h-1.2zM156.7 372.6h1.2v1.2h-1.2zM145.5 389.4h1.2v1.2h-1.2zM109.7 355.3h1.2v1.2h-1.2zM156.6 372.9h1.2v1.2h-1.2zM186.2 352.5h1.2v1.2h-1.2zM228.4 349.6h1.2v1.2h-1.2zM67.3 350.8h1.2v1.2h-1.2zM164.9 362.2h1.2v1.2h-1.2zM233.3 347.6h1.2v1.2h-1.2zM123 359.4h1.2v1.2h-1.2zM224.3 350.4h1.2v1.2h-1.2zM121.1 360.1h1.2v1.2h-1.2zM192.9 351.6h1.2v1.2h-1.2zM134.3 371.8h1.2v1.2h-1.2zM174.7 355.1h1.2v1.2h-1.2zM180.8 350.2h1.2v1.2h-1.2zM86.7 353.6h1.2v1.2h-1.2zM93.7 354.9h1.2v1.2h-1.2zM153.1 379h1.2v1.2h-1.2zM89.4 351.3h1.2v1.2h-1.2zM209.3 351.9h1.2v1.2h-1.2zM176.2 352.8h1.2v1.2h-1.2zM75.3 347.2h1.2v1.2h-1.2zM215.8 353.3h1.2v1.2h-1.2zM204.1 348.6h1.2v1.2h-1.2zM214.8 350.3h1.2v1.2h-1.2zM62 348.3h1.2v1.2h-1.2zM78.2 344.6h1.2v1.2h-1.2zM88.1 349.7h1.2v1.2h-1.2zM76.4 352.6h1.2v1.2h-1.2zM176.8 359.5h1.2v1.2h-1.2zM233 343.6h1.2v1.2h-1.2zM191.2 348.7h1.2v1.2h-1.2zM72 348.9h1.2v1.2h-1.2zM221.5 352.6h1.2v1.2h-1.2zM122.2 364.8h1.2v1.2h-1.2zM144 389.3h1.2v1.2h-1.2zM189.4 357.1h1.2v1.2h-1.2zM166.3 361.2h1.2v1.2h-1.2zM216.7 347.9h1.2v1.2h-1.2zM96.1 354.6h1.2v1.2h-1.2zM101.5 352.6h1.2v1.2h-1.2zM85.2 351.2h1.2v1.2h-1.2zM106.2 353.4h1.2v1.2h-1.2zM153.4 376.5h1.2v1.2h-1.2zM81.1 353.1h1.2v1.2h-1.2zM218.3 347.8h1.2v1.2h-1.2zM206 346.7h1.2v1.2h-1.2zM197.9 350h1.2v1.2h-1.2zM232.1 350.1h1.2v1.2h-1.2zM161.3 366.3h1.2v1.2h-1.2zM184.9 353.4h1.2v1.2h-1.2zM111.3 350.9h1.2v1.2h-1.2zM225.1 347.8h1.2v1.2h-1.2zM212.6 353.2h1.2v1.2h-1.2zM175.8 356.2h1.2v1.2h-1.2zM95.4 350.5h1.2v1.2h-1.2zM164.9 366.2h1.2v1.2h-1.2zM125.7 363.5h1.2v1.2h-1.2zM96.8 354.3h1.2v1.2h-1.2zM146.5 385.4h1.2v1.2h-1.2zM173.1 358.8h1.2v1.2h-1.2zM217.7 352.8h1.2v1.2h-1.2zM129.6 374.7h1.2v1.2h-1.2zM96.2 355.5h1.2v1.2h-1.2zM115.6 355.5h1.2v1.2h-1.2zM163.5 362h1.2v1.2h-1.2zM173.4 356.9h1.2v1.2h-1.2zM120.7 360.2h1.2v1.2h-1.2zM211.4 352.3h1.2v1.2h-1.2zM136.7 378.9h1.2v1.2h-1.2zM161 367.9h1.2v1.2h-1.2zM204.6 346.8h1.2v1.2h-1.2zM219.2 350.1h1.2v1.2h-1.2zM145.5 386.5h1.2v1.2h-1.2zM66.6 354.3h1.2v1.2h-1.2zM196.1 353.8h1.2v1.2h-1.2zM89.8 351.7h1.2v1.2h-1.2zM165 360.4h1.2v1.2h-1.2zM221 350.1h1.2v1.2h-1.2zM169.9 359.6h1.2v1.2h-1.2zM215.5 350h1.2v1.2h-1.2zM136.9 379.5h1.2v1.2h-1.2zM80.7 352h1.2v1.2h-1.2zM137.4 380.9h1.2v1.2h-1.2zM209.7 356.2h1.2v1.2h-1.2zM106.8 351.9h1.2v1.2h-1.2zM232.4 345.8h1.2v1.2h-1.2zM87.3 352.2h1.2v1.2h-1.2zM185.7 350.5h1.2v1.2h-1.2zM203.8 350.5h1.2v1.2h-1.2zM103.8 353.4h1.2v1.2h-1.2zM194 350.1h1.2v1.2h-1.2zM224.9 351.9h1.2v1.2h-1.2zM120 361.7h1.2v1.2h-1.2zM107.7 355h1.2v1.2h-1.2zM116.6 359.6h1.2v1.2h-1.2zM151.6 382.1h1.2v1.2h-1.2zM219.5 349.4h1.2v1.2h-1.2zM120.6 362h1.2v1.2h-1.2zM232.2 350.1h1.2v1.2h-1.2zM199.7 351.4h1.2v1.2h-1.2zM162.8 364.2h1.2v1.2h-1.2zM183 358.5h1.2v1.2h-1.2zM233.5 350.5h1.2v1.2h-1.2zM83.8 347.4h1.2v1.2h-1.2zM148.4 384.7h1.2v1.2h-1.2zM118.8 353h1.2v1.2h-1.2zM227.2 350.5h1.2v1.2h-1.2zM152.7 380.3h1.2v1.2h-1.2zM121.7 364.8h1.2v1.2h-1.2zM79.6 351.1h1.2v1.2h-1.2zM218.6 348.4h1.2v1.2h-1.2zM83.5 355.7h1.2v1.2h-1.2zM154.9 377.9h1.2v1.2h-1.2zM208.1 353.9h1.2v1.2h-1.2zM180.7 354.2h1.2v1.2h-1.2zM209.9 352.2h1.2v1.2h-1.2zM165.7 358.3h1.2v1.2h-1.2zM193.9 353.3h1.2v1.2h-1.2zM164.8 358.2h1.2v1.2h-1.2zM145.1 382.7h1.2v1.2h-1.2zM201.6 347.6h1.2v1.2h-1.2zM118.5 362h1.2v1.2h-1.2zM92.7 354.1h1.2v1.2h-1.2zM81.8 349.3h1.2v1.2h-1.2zM77.6 353.6h1.2v1.2h-1.2zM186.7 353.5h1.2v1.2h-1.2zM108.9 350h1.2v1.2h-1.2zM224.1 349h1.2v1.2h-1.2zM88.3 347h1.2v1.2h-1.2zM151.3 380.4h1.2v1.2h-1.2zM204.4 351.9h1.2v1.2h-1.2zM188.2 351.1h1.2v1.2h-1.2zM65 351.9h1.2v1.2h-1.2zM196.5 354.4h1.2v1.2h-1.2zM231.6 347.5h1.2v1.2h-1.2zM102.3 354.7h1.2v1.2h-1.2zM209.8 350.3h1.2v1.2h-1.2zM162.9 364.6h1.2v1.2h-1.2zM102.3 357.5h1.2v1.2h-1.2zM236 347.8h1.2v1.2h-1.2zM224.9 349h1.2v1.2h-1.2zM203.7 350.9h1.2v1.2h-1.2zM61.3 351.2h1.2v1.2h-1.2zM180.1 356.9h1.2v1.2h-1.2zM140.7 381.1h1.2v1.2h-1.2z" fill="#e8727c" opacity="0.9"/>
<path d="M60.9 320 L61.9 320 L62.9 320 L63.9 320 L64.9 320.1 L65.9 320.1 L66.9 320.1 L67.9 320.1 L68.9 320.1 L69.9 320.2 L70.9 320.2 L71.9 320.2 L72.9 320.3 L73.9 320.3 L74.9 320.3 L75.9 320.4 L76.9 320.4 L77.9 320.4 L78.9 320.5 L79.9 320.5 L80.9 320.6 L81.9 320.6 L82.9 320.7 L83.9 320.7 L84.9 320.8 L85.9 320.9 L86.9 320.9 L87.9 321 L88.9 321.1 L89.9 321.2 L90.9 321.2 L91.9 321.3 L92.9 321.4 L93.9 321.5 L94.9 321.7 L95.9 321.8 L96.9 321.9 L97.9 322.1 L98.9 322.2 L99.9 322.4 L100.9 322.5 L101.9 322.7 L102.9 322.9 L103.9 323.1 L104.9 323.3 L105.9 323.6 L106.9 323.8 L107.9 324.1 L108.9 324.4 L109.9 324.7 L110.9 325 L111.9 325.4 L112.9 325.7 L113.9 326.1 L114.9 326.5 L115.9 327 L116.9 327.5 L117.9 328 L118.9 328.5 L119.9 329 L120.9 329.6 L121.9 330.2 L122.9 330.9 L123.9 331.5 L124.9 332.2 L125.9 332.9 L126.9 333.6 L127.9 334.4 L128.9 335.2 L129.9 335.9 L130.9 336.7 L131.9 337.5 L132.9 338.3 L133.9 339.1 L134.9 339.8 L135.9 340.6 L136.9 341.3 L137.9 341.9 L138.9 342.5 L139.9 343.1 L140.9 343.6 L141.9 344 L142.9 344.4 L143.9 344.6 L144.9 344.8 L145.9 344.9 L146.9 344.9 L147.9 344.8 L148.9 344.6 L149.9 344.4 L150.9 344 L151.9 343.6 L152.9 343.1 L153.9 342.5 L154.9 341.9 L155.9 341.3 L156.9 340.6 L157.9 339.8 L158.9 339.1 L159.9 338.3 L160.9 337.5 L161.9 336.7 L162.9 335.9 L163.9 335.2 L164.9 334.4 L165.9 333.6 L166.9 332.9 L167.9 332.2 L168.9 331.5 L169.9 330.8 L170.9 330.2 L171.9 329.6 L172.9 329 L173.9 328.5 L174.9 327.9 L175.9 327.4 L176.9 327 L177.9 326.5 L178.9 326.1 L179.9 325.7 L180.9 325.4 L181.9 325 L182.9 324.7 L183.9 324.4 L184.9 324.1 L185.9 323.8 L186.9 323.6 L187.9 323.3 L188.9 323.1 L189.9 322.9 L190.9 322.7 L191.9 322.5 L192.9 322.4 L193.9 322.2 L194.9 322.1 L195.9 321.9 L196.9 321.8 L197.9 321.7 L198.9 321.5 L199.9 321.4 L200.9 321.3 L201.9 321.2 L202.9 321.2 L203.9 321.1 L204.9 321 L205.9 320.9 L206.9 320.9 L207.9 320.8 L208.9 320.7 L209.9 320.7 L210.9 320.6 L211.9 320.6 L212.9 320.5 L213.9 320.5 L214.9 320.4 L215.9 320.4 L216.9 320.4 L217.9 320.3 L218.9 320.3 L219.9 320.3 L220.9 320.2 L221.9 320.2 L222.9 320.2 L223.9 320.1 L224.9 320.1 L225.9 320.1 L226.9 320.1 L227.9 320.1 L228.9 320 L229.9 320 L230.9 320 L231.9 320 L232.9 320 L233.9 320 L234.9 319.9 L235.9 319.9 L236.9 319.9 L237.9 319.9 L238.9 319.9 L239.9 319.9 L240.9 319.9" stroke="#262626" stroke-width="1.5" fill="none"/>
<path d="M60.9 350.5 L61.9 350.6 L62.9 350.6 L63.9 350.6 L64.9 350.7 L65.9 350.7 L66.9 350.7 L67.9 350.8 L68.9 350.8 L69.9 350.9 L70.9 350.9 L71.9 350.9 L72.9 351 L73.9 351 L74.9 351.1 L75.9 351.1 L76.9 351.2 L77.9 351.2 L78.9 351.3 L79.9 351.4 L80.9 351.4 L81.9 351.5 L82.9 351.6 L83.9 351.6 L84.9 351.7 L85.9 351.8 L86.9 351.9 L87.9 352 L88.9 352.1 L89.9 352.2 L90.9 352.3 L91.9 352.4 L92.9 352.5 L93.9 352.6 L94.9 352.7 L95.9 352.9 L96.9 353 L97.9 353.1 L98.9 353.3 L99.9 353.5 L100.9 353.6 L101.9 353.8 L102.9 354 L103.9 354.2 L104.9 354.5 L105.9 354.7 L106.9 355 L107.9 355.2 L108.9 355.5 L109.9 355.8 L110.9 356.1 L111.9 356.5 L112.9 356.9 L113.9 357.3 L114.9 357.7 L115.9 358.2 L116.9 358.7 L117.9 359.2 L118.9 359.8 L119.9 360.4 L120.9 361 L121.9 361.8 L122.9 362.5 L123.9 363.3 L124.9 364.2 L125.9 365.1 L126.9 366.1 L127.9 367.2 L128.9 368.3 L129.9 369.5 L130.9 370.7 L131.9 372 L132.9 373.4 L133.9 374.8 L134.9 376.2 L135.9 377.6 L136.9 379 L137.9 380.4 L138.9 381.7 L139.9 382.8 L140.9 383.9 L141.9 384.7 L142.9 385.4 L143.9 385.8 L144.9 386 L145.9 386 L146.9 385.6 L147.9 385.1 L148.9 384.3 L149.9 383.4 L150.9 382.3 L151.9 381 L152.9 379.7 L153.9 378.3 L154.9 376.9 L155.9 375.5 L156.9 374.1 L157.9 372.7 L158.9 371.4 L159.9 370.1 L160.9 368.9 L161.9 367.7 L162.9 366.6 L163.9 365.6 L164.9 364.6 L165.9 363.7 L166.9 362.9 L167.9 362.1 L168.9 361.4 L169.9 360.7 L170.9 360.1 L171.9 359.5 L172.9 358.9 L173.9 358.4 L174.9 357.9 L175.9 357.5 L176.9 357.1 L177.9 356.7 L178.9 356.3 L179.9 356 L180.9 355.7 L181.9 355.4 L182.9 355.1 L183.9 354.8 L184.9 354.6 L185.9 354.3 L186.9 354.1 L187.9 353.9 L188.9 353.7 L189.9 353.6 L190.9 353.4 L191.9 353.2 L192.9 353.1 L193.9 352.9 L194.9 352.8 L195.9 352.7 L196.9 352.5 L197.9 352.4 L198.9 352.3 L199.9 352.2 L200.9 352.1 L201.9 352 L202.9 351.9 L203.9 351.8 L204.9 351.8 L205.9 351.7 L206.9 351.6 L207.9 351.5 L208.9 351.5 L209.9 351.4 L210.9 351.3 L211.9 351.3 L212.9 351.2 L213.9 351.2 L214.9 351.1 L215.9 351.1 L216.9 351 L217.9 351 L218.9 350.9 L219.9 350.9 L220.9 350.8 L221.9 350.8 L222.9 350.8 L223.9 350.7 L224.9 350.7 L225.9 350.7 L226.9 350.6 L227.9 350.6 L228.9 350.6 L229.9 350.5 L230.9 350.5 L231.9 350.5 L232.9 350.4 L233.9 350.4 L234.9 350.4 L235.9 350.4 L236.9 350.4 L237.9 350.3 L238.9 350.3 L239.9 350.3 L240.9 350.3" stroke="#262626" stroke-width="1.5" fill="none"/>
<path d="M111 367.7H122.2" stroke="#111" stroke-width="1.5"/><path d="M126.2 367.7L121.2 365.1L121.2 370.3Z" fill="#111"/>
<path d="M183.4 367.7H171" stroke="#111" stroke-width="1.5"/><path d="M167.2 367.7L172.2 365.1L172.2 370.3Z" fill="#111"/>
<text x="110.8" y="380.9" font-size="11.5" fill="#111" stroke="#111" stroke-width="0.28">Γ<tspan font-size="8" dy="2.3">eff</tspan></text>
<text x="157.6" y="389.8" font-size="11.5" fill="#111" stroke="#111" stroke-width="0.28">Ω<tspan font-size="8" dy="2.3">eff</tspan></text>
<rect x="60.4" y="307.3" width="180.7" height="86" fill="none" stroke="#262626" stroke-width="1.1"/>
<path d="M70.8 393.3v-2M70.8 307.3v2M127.6 393.3v-2M127.6 307.3v2M184.3 393.3v-2M184.3 307.3v2M60.4 318.8h2M241.1 318.8h-2M60.4 350.1h2M241.1 350.1h-2M60.4 381.5h2M241.1 381.5h-2" stroke="#262626" stroke-width="1"/>
<text x="56.6" y="322.9" font-size="11.5" text-anchor="end" fill="#111" font-weight="normal" stroke="#111" stroke-width="0.28">1.0</text>
<text x="56.6" y="354.2" font-size="11.5" text-anchor="end" fill="#111" font-weight="normal" stroke="#111" stroke-width="0.28">0.9</text>
<text x="56.6" y="385.6" font-size="11.5" text-anchor="end" fill="#111" font-weight="normal" stroke="#111" stroke-width="0.28">0.8</text>
<text x="70.8" y="408.2" font-size="11.5" text-anchor="middle" fill="#111" font-weight="normal" stroke="#111" stroke-width="0.28">445</text>
<text x="127.6" y="408.2" font-size="11.5" text-anchor="middle" fill="#111" font-weight="normal" stroke="#111" stroke-width="0.28">446</text>
<text x="184.3" y="408.2" font-size="11.5" text-anchor="middle" fill="#111" font-weight="normal" stroke="#111" stroke-width="0.28">447</text>
<text x="241.1" y="408.2" font-size="11.5" text-anchor="middle" fill="#111" font-weight="normal" stroke="#111" stroke-width="0.28">448</text>
<text x="150.4" y="422.4" font-size="11.5" fill="#111" text-anchor="middle" stroke="#111" stroke-width="0.28">Frequency Ω/2<tspan font-style="italic">π</tspan> [MHz]</text>
<text transform="translate(30.6 350.8) rotate(-90)" font-size="11.5" fill="#111" text-anchor="middle" stroke="#111" stroke-width="0.28">|<tspan font-style="italic">S</tspan><tspan font-size="8" dy="2">11</tspan><tspan dy="-2">|</tspan></text>
</g>
<g id="pd">
<path d="M345.4 123.5V130.3M344 123.5h2.8M344 130.3h2.8M345.6 122.3V134.4M344.2 122.3h2.8M344.2 134.4h2.8M347.3 121.4V134.4M345.9 121.4h2.8M345.9 134.4h2.8M350 119.3V126.1M348.6 119.3h2.8M348.6 126.1h2.8M350.3 129.4V139.9M348.9 129.4h2.8M348.9 139.9h2.8M352.6 128.8V139.6M351.2 128.8h2.8M351.2 139.6h2.8M352.7 122.1V133.1M351.3 122.1h2.8M351.3 133.1h2.8M353.7 122.3V131.5M352.3 122.3h2.8M352.3 131.5h2.8M357.7 130.2V138.5M356.3 130.2h2.8M356.3 138.5h2.8M357.7 132.2V140.9M356.3 132.2h2.8M356.3 140.9h2.8M357.7 123.3V131.2M356.3 123.3h2.8M356.3 131.2h2.8M358.7 124.2V134.4M357.3 124.2h2.8M357.3 134.4h2.8M361.9 121.6V128.4M360.5 121.6h2.8M360.5 128.4h2.8M362.6 123.1V132.6M361.2 123.1h2.8M361.2 132.6h2.8M366.6 110.9V121M365.2 110.9h2.8M365.2 121h2.8M367.6 110.8V123.3M366.2 110.8h2.8M366.2 123.3h2.8M369.7 122.7V132.6M368.3 122.7h2.8M368.3 132.6h2.8M376.2 120.1V128.4M374.8 120.1h2.8M374.8 128.4h2.8M378.1 121.2V131.6M376.7 121.2h2.8M376.7 131.6h2.8M379.5 121.8V128M378.1 121.8h2.8M378.1 128h2.8M379.8 123V131.1M378.4 123h2.8M378.4 131.1h2.8M380 120.7V130.5M378.6 120.7h2.8M378.6 130.5h2.8M381 118.4V128.9M379.6 118.4h2.8M379.6 128.9h2.8M381.2 122.4V129.8M379.8 122.4h2.8M379.8 129.8h2.8M381.4 115.6V127.5M380 115.6h2.8M380 127.5h2.8M382.4 126V134.1M381 126h2.8M381 134.1h2.8M382.7 113.5V126.8M381.3 113.5h2.8M381.3 126.8h2.8M382.7 116V129M381.3 116h2.8M381.3 129h2.8M383.3 123.5V132.1M381.9 123.5h2.8M381.9 132.1h2.8M383.9 119.5V125.5M382.5 119.5h2.8M382.5 125.5h2.8M384.8 122.7V133.1M383.4 122.7h2.8M383.4 133.1h2.8M387 123.4V135.8M385.6 123.4h2.8M385.6 135.8h2.8M387.8 121.8V131.5M386.4 121.8h2.8M386.4 131.5h2.8M388.6 115.2V127.7M387.2 115.2h2.8M387.2 127.7h2.8M390.8 126.3V135.5M389.4 126.3h2.8M389.4 135.5h2.8M391 119.8V129.7M389.6 119.8h2.8M389.6 129.7h2.8M391.1 114.3V123.2M389.7 114.3h2.8M389.7 123.2h2.8M391.7 128V134.4M390.3 128h2.8M390.3 134.4h2.8M392 119.8V127.1M390.6 119.8h2.8M390.6 127.1h2.8M392.6 119V131.4M391.2 119h2.8M391.2 131.4h2.8M394.3 121.3V130.8M392.9 121.3h2.8M392.9 130.8h2.8M395.8 114.1V125.3M394.4 114.1h2.8M394.4 125.3h2.8M397.3 119.9V130.9M395.9 119.9h2.8M395.9 130.9h2.8M397.8 112.6V119.7M396.4 112.6h2.8M396.4 119.7h2.8M398 114.1V120.2M396.6 114.1h2.8M396.6 120.2h2.8M398.1 116.2V123.1M396.7 116.2h2.8M396.7 123.1h2.8M398.2 127.8V133.7M396.8 127.8h2.8M396.8 133.7h2.8M400.8 119.5V127.1M399.4 119.5h2.8M399.4 127.1h2.8M401.5 120.5V130.6M400.1 120.5h2.8M400.1 130.6h2.8M403.9 113.6V122.3M402.5 113.6h2.8M402.5 122.3h2.8M404.8 118.1V125.6M403.4 118.1h2.8M403.4 125.6h2.8M405.2 104.3V116.1M403.8 104.3h2.8M403.8 116.1h2.8M405.8 114.2V122.1M404.4 114.2h2.8M404.4 122.1h2.8M405.8 114.7V127.5M404.4 114.7h2.8M404.4 127.5h2.8M406.3 113.1V120M404.9 113.1h2.8M404.9 120h2.8M406.8 106.5V113.9M405.4 106.5h2.8M405.4 113.9h2.8M408.3 107.5V114.8M406.9 107.5h2.8M406.9 114.8h2.8M408.7 117.4V124.6M407.3 117.4h2.8M407.3 124.6h2.8M408.9 120.6V127.5M407.5 120.6h2.8M407.5 127.5h2.8M411.7 108.7V122M410.3 108.7h2.8M410.3 122h2.8M415 119.3V126M413.6 119.3h2.8M413.6 126h2.8M415.5 103.1V116M414.1 103.1h2.8M414.1 116h2.8M415.6 114V122.1M414.2 114h2.8M414.2 122.1h2.8M418.2 112V118.6M416.8 112h2.8M416.8 118.6h2.8M419.2 114V122.5M417.8 114h2.8M417.8 122.5h2.8M419.3 101.9V111.4M417.9 101.9h2.8M417.9 111.4h2.8M419.7 112.3V123.1M418.3 112.3h2.8M418.3 123.1h2.8M420.1 106.8V120.1M418.7 106.8h2.8M418.7 120.1h2.8M422.2 102.9V112.8M420.8 102.9h2.8M420.8 112.8h2.8M424 103.5V113.9M422.6 103.5h2.8M422.6 113.9h2.8M424.2 104.2V115.2M422.8 104.2h2.8M422.8 115.2h2.8M426 107.4V114.6M424.6 107.4h2.8M424.6 114.6h2.8M428.7 99.4V108.5M427.3 99.4h2.8M427.3 108.5h2.8M432.2 95.9V107.5M430.8 95.9h2.8M430.8 107.5h2.8M432.5 102.9V110M431.1 102.9h2.8M431.1 110h2.8M436.6 99.9V106.9M435.2 99.9h2.8M435.2 106.9h2.8M439.1 99.5V110.4M437.7 99.5h2.8M437.7 110.4h2.8M441.1 101.1V111.2M439.7 101.1h2.8M439.7 111.2h2.8M442 86.4V93.9M440.6 86.4h2.8M440.6 93.9h2.8M442.2 95.8V104.1M440.8 95.8h2.8M440.8 104.1h2.8M443.5 97.5V104.7M442.1 97.5h2.8M442.1 104.7h2.8M443.5 96.5V103.5M442.1 96.5h2.8M442.1 103.5h2.8M445.4 87.2V97.7M444 87.2h2.8M444 97.7h2.8M447 98.9V105.1M445.6 98.9h2.8M445.6 105.1h2.8M447.4 103.6V111.8M446 103.6h2.8M446 111.8h2.8M447.4 90.5V102.7M446 90.5h2.8M446 102.7h2.8M447.9 86.6V98.6M446.5 86.6h2.8M446.5 98.6h2.8M448.2 98.1V105.5M446.8 98.1h2.8M446.8 105.5h2.8M450.4 92.2V100M449 92.2h2.8M449 100h2.8M450.5 92.7V100.5M449.1 92.7h2.8M449.1 100.5h2.8M451.3 92.4V101.3M449.9 92.4h2.8M449.9 101.3h2.8M451.7 88.9V96.2M450.3 88.9h2.8M450.3 96.2h2.8M453 90.2V98.9M451.6 90.2h2.8M451.6 98.9h2.8M454.3 85.7V93.1M452.9 85.7h2.8M452.9 93.1h2.8M455.5 75.8V86M454.1 75.8h2.8M454.1 86h2.8M456.2 95.1V103.9M454.8 95.1h2.8M454.8 103.9h2.8M456.8 90.3V98.5M455.4 90.3h2.8M455.4 98.5h2.8M457.6 88.3V94.9M456.2 88.3h2.8M456.2 94.9h2.8M457.9 97.4V103.8M456.5 97.4h2.8M456.5 103.8h2.8M457.9 85.1V96.7M456.5 85.1h2.8M456.5 96.7h2.8M458.4 95V102.7M457 95h2.8M457 102.7h2.8M458.9 93.3V100M457.5 93.3h2.8M457.5 100h2.8M459.2 85V93.5M457.8 85h2.8M457.8 93.5h2.8M459.9 77.4V87.5M458.5 77.4h2.8M458.5 87.5h2.8M460.4 86.8V100.1M459 86.8h2.8M459 100.1h2.8M461.4 87.4V95M460 87.4h2.8M460 95h2.8M463.2 88.5V101.8M461.8 88.5h2.8M461.8 101.8h2.8M465.3 71.8V80.6M463.9 71.8h2.8M463.9 80.6h2.8M465.3 82.6V89.1M463.9 82.6h2.8M463.9 89.1h2.8M466.1 81V94.1M464.7 81h2.8M464.7 94.1h2.8M467.1 84.2V90.6M465.7 84.2h2.8M465.7 90.6h2.8M468.2 81.6V88M466.8 81.6h2.8M466.8 88h2.8M468.2 82.6V89.6M466.8 82.6h2.8M466.8 89.6h2.8M471.5 57.3V70.4M470.1 57.3h2.8M470.1 70.4h2.8M472.3 73.9V80.3M470.9 73.9h2.8M470.9 80.3h2.8M474 68.7V75.9M472.6 68.7h2.8M472.6 75.9h2.8M474.3 61.3V69.9M472.9 61.3h2.8M472.9 69.9h2.8M476.4 68.2V81M475 68.2h2.8M475 81h2.8M476.4 64.4V77.3M475 64.4h2.8M475 77.3h2.8M476.6 59.2V70.9M475.2 59.2h2.8M475.2 70.9h2.8M476.7 58.7V67.5M475.3 58.7h2.8M475.3 67.5h2.8M477 69.5V81M475.6 69.5h2.8M475.6 81h2.8M478.3 45.9V58.6M476.9 45.9h2.8M476.9 58.6h2.8M479.6 62.7V73.5M478.2 62.7h2.8M478.2 73.5h2.8M480.2 53.6V65.6M478.8 53.6h2.8M478.8 65.6h2.8M480.4 64.4V72.8M479 64.4h2.8M479 72.8h2.8M481.3 77.4V83.5M479.9 77.4h2.8M479.9 83.5h2.8M481.3 69.1V78.3M479.9 69.1h2.8M479.9 78.3h2.8M481.4 59.3V71.7M480 59.3h2.8M480 71.7h2.8M483 71V78.2M481.6 71h2.8M481.6 78.2h2.8M485.5 70.1V76.8M484.1 70.1h2.8M484.1 76.8h2.8M488.3 57.6V66.8M486.9 57.6h2.8M486.9 66.8h2.8M488.7 64.2V72.3M487.3 64.2h2.8M487.3 72.3h2.8M490.9 49.3V55.1M489.5 49.3h2.8M489.5 55.1h2.8M491.3 48.9V60.8M489.9 48.9h2.8M489.9 60.8h2.8M492.1 42.5V53.8M490.7 42.5h2.8M490.7 53.8h2.8M492.3 39V52.2M490.9 39h2.8M490.9 52.2h2.8M492.8 45V51M491.4 45h2.8M491.4 51h2.8M493.1 38V44.7M491.7 38h2.8M491.7 44.7h2.8M494 41.1V50.1M492.6 41.1h2.8M492.6 50.1h2.8M495.3 56.7V68.1M493.9 56.7h2.8M493.9 68.1h2.8M496.6 45.4V53.2M495.2 45.4h2.8M495.2 53.2h2.8M497.2 38.3V44.9M495.8 38.3h2.8M495.8 44.9h2.8M497.7 53.1V59.8M496.3 53.1h2.8M496.3 59.8h2.8M498.4 49.4V58.1M497 49.4h2.8M497 58.1h2.8M498.8 29.1V37.6M497.4 29.1h2.8M497.4 37.6h2.8M501.4 28.9V41.7M500 28.9h2.8M500 41.7h2.8M503 50V59.2M501.6 50h2.8M501.6 59.2h2.8M507.8 39.1V48.4M506.4 39.1h2.8M506.4 48.4h2.8M508 38.1V51.1M506.6 38.1h2.8M506.6 51.1h2.8M508.3 34.4V44.3M506.9 34.4h2.8M506.9 44.3h2.8M508.5 31.9V38.1M507.1 31.9h2.8M507.1 38.1h2.8M509 50.1V56.1M507.6 50.1h2.8M507.6 56.1h2.8M509.4 33.6V42.7M508 33.6h2.8M508 42.7h2.8M509.5 45V52.6M508.1 45h2.8M508.1 52.6h2.8M509.5 53.8V64.5M508.1 53.8h2.8M508.1 64.5h2.8M510.7 45.2V55.2M509.3 45.2h2.8M509.3 55.2h2.8M511.1 41V48.9M509.7 41h2.8M509.7 48.9h2.8M511.4 48.8V54.8M510 48.8h2.8M510 54.8h2.8M511.9 47.8V55.9M510.5 47.8h2.8M510.5 55.9h2.8M512.6 39.5V50.7M511.2 39.5h2.8M511.2 50.7h2.8M514.9 49V59.1M513.5 49h2.8M513.5 59.1h2.8M514.9 39.5V46.3M513.5 39.5h2.8M513.5 46.3h2.8M515.3 36.3V42.5M513.9 36.3h2.8M513.9 42.5h2.8M515.6 43.6V54.3M514.2 43.6h2.8M514.2 54.3h2.8M516.1 34V47.3M514.7 34h2.8M514.7 47.3h2.8M516.3 43.1V55.8M514.9 43.1h2.8M514.9 55.8h2.8M516.4 47.6V59.3M515 47.6h2.8M515 59.3h2.8M517.4 54.6V60.6M516 54.6h2.8M516 60.6h2.8M518.6 66.5V77.9M517.2 66.5h2.8M517.2 77.9h2.8M519 48.1V55.9M517.6 48.1h2.8M517.6 55.9h2.8M519 49.2V61.9M517.6 49.2h2.8M517.6 61.9h2.8M519.8 52.8V61.1M518.4 52.8h2.8M518.4 61.1h2.8M520.1 49V57.6M518.7 49h2.8M518.7 57.6h2.8M520.3 70.7V81.8M518.9 70.7h2.8M518.9 81.8h2.8M522.5 56.5V62.7M521.1 56.5h2.8M521.1 62.7h2.8M522.8 59.6V68.6M521.4 59.6h2.8M521.4 68.6h2.8M523.4 62.3V69.3M522 62.3h2.8M522 69.3h2.8M523.8 80.3V90.9M522.4 80.3h2.8M522.4 90.9h2.8M523.8 61.6V69.4M522.4 61.6h2.8M522.4 69.4h2.8M523.9 57.9V66.7M522.5 57.9h2.8M522.5 66.7h2.8M524 71V83.4M522.6 71h2.8M522.6 83.4h2.8M524.9 60.1V70M523.5 60.1h2.8M523.5 70h2.8M525.4 49.5V61.5M524 49.5h2.8M524 61.5h2.8M526.6 75.3V86.9M525.2 75.3h2.8M525.2 86.9h2.8M527.4 77.4V85.1M526 77.4h2.8M526 85.1h2.8M527.5 58.5V70M526.1 58.5h2.8M526.1 70h2.8M528.2 60.7V73.6M526.8 60.7h2.8M526.8 73.6h2.8M528.4 70.3V82M527 70.3h2.8M527 82h2.8M528.5 63.9V75.2M527.1 63.9h2.8M527.1 75.2h2.8M528.8 62.6V69.6M527.4 62.6h2.8M527.4 69.6h2.8M529 64V73.7M527.6 64h2.8M527.6 73.7h2.8M529.5 87.9V94.3M528.1 87.9h2.8M528.1 94.3h2.8M529.7 81.6V91.3M528.3 81.6h2.8M528.3 91.3h2.8M529.9 68.3V74.8M528.5 68.3h2.8M528.5 74.8h2.8M529.9 71.9V84.2M528.5 71.9h2.8M528.5 84.2h2.8M530 75.3V84.7M528.6 75.3h2.8M528.6 84.7h2.8M531.3 75.1V84M529.9 75.1h2.8M529.9 84h2.8M531.7 76.6V88.1M530.3 76.6h2.8M530.3 88.1h2.8M531.7 89.8V99.9M530.3 89.8h2.8M530.3 99.9h2.8M532.7 76.3V84.2M531.3 76.3h2.8M531.3 84.2h2.8M534.2 77.3V88M532.8 77.3h2.8M532.8 88h2.8M535.1 84.9V94.5M533.7 84.9h2.8M533.7 94.5h2.8M536.2 83.6V92.3M534.8 83.6h2.8M534.8 92.3h2.8M536.9 85.3V97.3M535.5 85.3h2.8M535.5 97.3h2.8M537.1 86.3V97M535.7 86.3h2.8M535.7 97h2.8M537.9 85.6V95M536.5 85.6h2.8M536.5 95h2.8M538 98V111.3M536.6 98h2.8M536.6 111.3h2.8M538.5 88.7V99.2M537.1 88.7h2.8M537.1 99.2h2.8M539 102.3V112.9M537.6 102.3h2.8M537.6 112.9h2.8M539.2 89.8V99M537.8 89.8h2.8M537.8 99h2.8M540.7 93.8V102.5M539.3 93.8h2.8M539.3 102.5h2.8M542.6 105.5V114.6M541.2 105.5h2.8M541.2 114.6h2.8M543.9 106.3V114.2M542.5 106.3h2.8M542.5 114.2h2.8M544.1 111.1V123.7M542.7 111.1h2.8M542.7 123.7h2.8M544.5 114.2V120.7M543.1 114.2h2.8M543.1 120.7h2.8M544.6 120.4V133.4M543.2 120.4h2.8M543.2 133.4h2.8M546.1 95.5V106.6M544.7 95.5h2.8M544.7 106.6h2.8M546.3 108.5V115.8M544.9 108.5h2.8M544.9 115.8h2.8M547.5 117.6V124.3M546.1 117.6h2.8M546.1 124.3h2.8M547.5 116.1V124.4M546.1 116.1h2.8M546.1 124.4h2.8M547.8 117.3V126.2M546.4 117.3h2.8M546.4 126.2h2.8M548.2 130.9V143.9M546.8 130.9h2.8M546.8 143.9h2.8M549.3 110.3V120.2M547.9 110.3h2.8M547.9 120.2h2.8M549.4 126.1V135.9M548 126.1h2.8M548 135.9h2.8M549.9 121.6V134.7M548.5 121.6h2.8M548.5 134.7h2.8M550.2 125.2V136.2M548.8 125.2h2.8M548.8 136.2h2.8M550.4 131.3V142.9M549 131.3h2.8M549 142.9h2.8M550.4 127.5V135.2M549 127.5h2.8M549 135.2h2.8M550.8 132.3V142.3M549.4 132.3h2.8M549.4 142.3h2.8M550.9 136.9V143.8M549.5 136.9h2.8M549.5 143.8h2.8M551 136.9V144.2M549.6 136.9h2.8M549.6 144.2h2.8M551.1 120.2V130.9M549.7 120.2h2.8M549.7 130.9h2.8M551.7 131.2V138.4M550.3 131.2h2.8M550.3 138.4h2.8M552.4 130.8V140.7M551 130.8h2.8M551 140.7h2.8M552.6 134.9V143.5M551.2 134.9h2.8M551.2 143.5h2.8M552.6 138.5V145.8M551.2 138.5h2.8M551.2 145.8h2.8M553.4 156.1V161.9M552 156.1h2.8M552 161.9h2.8M553.5 142V150.1M552.1 142h2.8M552.1 150.1h2.8M554.3 148.9V158M552.9 148.9h2.8M552.9 158h2.8M554.5 151.2V159.9M553.1 151.2h2.8M553.1 159.9h2.8M554.5 158.6V168.9M553.1 158.6h2.8M553.1 168.9h2.8M554.8 149.1V162.4M553.4 149.1h2.8M553.4 162.4h2.8M555.1 156.9V169.2M553.7 156.9h2.8M553.7 169.2h2.8M555.1 160.6V169.4M553.7 160.6h2.8M553.7 169.4h2.8M555.2 158.5V169.8M553.8 158.5h2.8M553.8 169.8h2.8M555.3 149V156.4M553.9 149h2.8M553.9 156.4h2.8M555.3 149.9V162.4M553.9 149.9h2.8M553.9 162.4h2.8M555.3 162.2V169.3M553.9 162.2h2.8M553.9 169.3h2.8M556 154.9V163.1M554.6 154.9h2.8M554.6 163.1h2.8" stroke="#fdc99d" stroke-width="0.8" fill="none"/>
<path d="M342.7 126.9a2.7 2.7 0 1 0 5.4 0a2.7 2.7 0 1 0 -5.4 0M342.9 128.4a2.7 2.7 0 1 0 5.4 0a2.7 2.7 0 1 0 -5.4 0M344.6 127.9a2.7 2.7 0 1 0 5.4 0a2.7 2.7 0 1 0 -5.4 0M347.3 122.7a2.7 2.7 0 1 0 5.4 0a2.7 2.7 0 1 0 -5.4 0M347.6 134.7a2.7 2.7 0 1 0 5.4 0a2.7 2.7 0 1 0 -5.4 0M349.9 134.2a2.7 2.7 0 1 0 5.4 0a2.7 2.7 0 1 0 -5.4 0M350 127.6a2.7 2.7 0 1 0 5.4 0a2.7 2.7 0 1 0 -5.4 0M351 126.9a2.7 2.7 0 1 0 5.4 0a2.7 2.7 0 1 0 -5.4 0M355 134.4a2.7 2.7 0 1 0 5.4 0a2.7 2.7 0 1 0 -5.4 0M355 136.6a2.7 2.7 0 1 0 5.4 0a2.7 2.7 0 1 0 -5.4 0M355 127.2a2.7 2.7 0 1 0 5.4 0a2.7 2.7 0 1 0 -5.4 0M356 129.3a2.7 2.7 0 1 0 5.4 0a2.7 2.7 0 1 0 -5.4 0M359.2 125a2.7 2.7 0 1 0 5.4 0a2.7 2.7 0 1 0 -5.4 0M359.9 127.9a2.7 2.7 0 1 0 5.4 0a2.7 2.7 0 1 0 -5.4 0M363.9 115.9a2.7 2.7 0 1 0 5.4 0a2.7 2.7 0 1 0 -5.4 0M364.9 117a2.7 2.7 0 1 0 5.4 0a2.7 2.7 0 1 0 -5.4 0M367 127.6a2.7 2.7 0 1 0 5.4 0a2.7 2.7 0 1 0 -5.4 0M373.5 124.2a2.7 2.7 0 1 0 5.4 0a2.7 2.7 0 1 0 -5.4 0M375.4 126.4a2.7 2.7 0 1 0 5.4 0a2.7 2.7 0 1 0 -5.4 0M376.8 124.9a2.7 2.7 0 1 0 5.4 0a2.7 2.7 0 1 0 -5.4 0M377.1 127a2.7 2.7 0 1 0 5.4 0a2.7 2.7 0 1 0 -5.4 0M377.3 125.6a2.7 2.7 0 1 0 5.4 0a2.7 2.7 0 1 0 -5.4 0M378.3 123.7a2.7 2.7 0 1 0 5.4 0a2.7 2.7 0 1 0 -5.4 0M378.5 126.1a2.7 2.7 0 1 0 5.4 0a2.7 2.7 0 1 0 -5.4 0M378.7 121.6a2.7 2.7 0 1 0 5.4 0a2.7 2.7 0 1 0 -5.4 0M379.7 130a2.7 2.7 0 1 0 5.4 0a2.7 2.7 0 1 0 -5.4 0M380 120.1a2.7 2.7 0 1 0 5.4 0a2.7 2.7 0 1 0 -5.4 0M380 122.5a2.7 2.7 0 1 0 5.4 0a2.7 2.7 0 1 0 -5.4 0M380.6 127.8a2.7 2.7 0 1 0 5.4 0a2.7 2.7 0 1 0 -5.4 0M381.2 122.5a2.7 2.7 0 1 0 5.4 0a2.7 2.7 0 1 0 -5.4 0M382.1 127.9a2.7 2.7 0 1 0 5.4 0a2.7 2.7 0 1 0 -5.4 0M384.3 129.6a2.7 2.7 0 1 0 5.4 0a2.7 2.7 0 1 0 -5.4 0M385.1 126.7a2.7 2.7 0 1 0 5.4 0a2.7 2.7 0 1 0 -5.4 0M385.9 121.4a2.7 2.7 0 1 0 5.4 0a2.7 2.7 0 1 0 -5.4 0M388.1 130.9a2.7 2.7 0 1 0 5.4 0a2.7 2.7 0 1 0 -5.4 0M388.3 124.8a2.7 2.7 0 1 0 5.4 0a2.7 2.7 0 1 0 -5.4 0M388.4 118.7a2.7 2.7 0 1 0 5.4 0a2.7 2.7 0 1 0 -5.4 0M389 131.2a2.7 2.7 0 1 0 5.4 0a2.7 2.7 0 1 0 -5.4 0M389.3 123.5a2.7 2.7 0 1 0 5.4 0a2.7 2.7 0 1 0 -5.4 0M389.9 125.2a2.7 2.7 0 1 0 5.4 0a2.7 2.7 0 1 0 -5.4 0M391.6 126a2.7 2.7 0 1 0 5.4 0a2.7 2.7 0 1 0 -5.4 0M393.1 119.7a2.7 2.7 0 1 0 5.4 0a2.7 2.7 0 1 0 -5.4 0M394.6 125.4a2.7 2.7 0 1 0 5.4 0a2.7 2.7 0 1 0 -5.4 0M395.1 116.1a2.7 2.7 0 1 0 5.4 0a2.7 2.7 0 1 0 -5.4 0M395.3 117.2a2.7 2.7 0 1 0 5.4 0a2.7 2.7 0 1 0 -5.4 0M395.4 119.7a2.7 2.7 0 1 0 5.4 0a2.7 2.7 0 1 0 -5.4 0M395.5 130.7a2.7 2.7 0 1 0 5.4 0a2.7 2.7 0 1 0 -5.4 0M398.1 123.3a2.7 2.7 0 1 0 5.4 0a2.7 2.7 0 1 0 -5.4 0M398.8 125.5a2.7 2.7 0 1 0 5.4 0a2.7 2.7 0 1 0 -5.4 0M401.2 117.9a2.7 2.7 0 1 0 5.4 0a2.7 2.7 0 1 0 -5.4 0M402.1 121.9a2.7 2.7 0 1 0 5.4 0a2.7 2.7 0 1 0 -5.4 0M402.5 110.2a2.7 2.7 0 1 0 5.4 0a2.7 2.7 0 1 0 -5.4 0M403.1 118.1a2.7 2.7 0 1 0 5.4 0a2.7 2.7 0 1 0 -5.4 0M403.1 121.1a2.7 2.7 0 1 0 5.4 0a2.7 2.7 0 1 0 -5.4 0M403.6 116.6a2.7 2.7 0 1 0 5.4 0a2.7 2.7 0 1 0 -5.4 0M404.1 110.2a2.7 2.7 0 1 0 5.4 0a2.7 2.7 0 1 0 -5.4 0M405.6 111.2a2.7 2.7 0 1 0 5.4 0a2.7 2.7 0 1 0 -5.4 0M406 121a2.7 2.7 0 1 0 5.4 0a2.7 2.7 0 1 0 -5.4 0M406.2 124a2.7 2.7 0 1 0 5.4 0a2.7 2.7 0 1 0 -5.4 0M409 115.4a2.7 2.7 0 1 0 5.4 0a2.7 2.7 0 1 0 -5.4 0M412.3 122.7a2.7 2.7 0 1 0 5.4 0a2.7 2.7 0 1 0 -5.4 0M412.8 109.5a2.7 2.7 0 1 0 5.4 0a2.7 2.7 0 1 0 -5.4 0M412.9 118.1a2.7 2.7 0 1 0 5.4 0a2.7 2.7 0 1 0 -5.4 0M415.5 115.3a2.7 2.7 0 1 0 5.4 0a2.7 2.7 0 1 0 -5.4 0M416.5 118.2a2.7 2.7 0 1 0 5.4 0a2.7 2.7 0 1 0 -5.4 0M416.6 106.6a2.7 2.7 0 1 0 5.4 0a2.7 2.7 0 1 0 -5.4 0M417 117.7a2.7 2.7 0 1 0 5.4 0a2.7 2.7 0 1 0 -5.4 0M417.4 113.5a2.7 2.7 0 1 0 5.4 0a2.7 2.7 0 1 0 -5.4 0M419.5 107.8a2.7 2.7 0 1 0 5.4 0a2.7 2.7 0 1 0 -5.4 0M421.3 108.7a2.7 2.7 0 1 0 5.4 0a2.7 2.7 0 1 0 -5.4 0M421.5 109.7a2.7 2.7 0 1 0 5.4 0a2.7 2.7 0 1 0 -5.4 0M423.3 111a2.7 2.7 0 1 0 5.4 0a2.7 2.7 0 1 0 -5.4 0M426 103.9a2.7 2.7 0 1 0 5.4 0a2.7 2.7 0 1 0 -5.4 0M429.5 101.7a2.7 2.7 0 1 0 5.4 0a2.7 2.7 0 1 0 -5.4 0M429.8 106.4a2.7 2.7 0 1 0 5.4 0a2.7 2.7 0 1 0 -5.4 0M433.9 103.4a2.7 2.7 0 1 0 5.4 0a2.7 2.7 0 1 0 -5.4 0M436.4 104.9a2.7 2.7 0 1 0 5.4 0a2.7 2.7 0 1 0 -5.4 0M438.4 106.2a2.7 2.7 0 1 0 5.4 0a2.7 2.7 0 1 0 -5.4 0M439.3 90.2a2.7 2.7 0 1 0 5.4 0a2.7 2.7 0 1 0 -5.4 0M439.5 100a2.7 2.7 0 1 0 5.4 0a2.7 2.7 0 1 0 -5.4 0M440.8 101.1a2.7 2.7 0 1 0 5.4 0a2.7 2.7 0 1 0 -5.4 0M440.8 100a2.7 2.7 0 1 0 5.4 0a2.7 2.7 0 1 0 -5.4 0M442.7 92.5a2.7 2.7 0 1 0 5.4 0a2.7 2.7 0 1 0 -5.4 0M444.3 102a2.7 2.7 0 1 0 5.4 0a2.7 2.7 0 1 0 -5.4 0M444.7 107.7a2.7 2.7 0 1 0 5.4 0a2.7 2.7 0 1 0 -5.4 0M444.7 96.6a2.7 2.7 0 1 0 5.4 0a2.7 2.7 0 1 0 -5.4 0M445.2 92.6a2.7 2.7 0 1 0 5.4 0a2.7 2.7 0 1 0 -5.4 0M445.5 101.8a2.7 2.7 0 1 0 5.4 0a2.7 2.7 0 1 0 -5.4 0M447.7 96.1a2.7 2.7 0 1 0 5.4 0a2.7 2.7 0 1 0 -5.4 0M447.8 96.6a2.7 2.7 0 1 0 5.4 0a2.7 2.7 0 1 0 -5.4 0M448.6 96.9a2.7 2.7 0 1 0 5.4 0a2.7 2.7 0 1 0 -5.4 0M449 92.5a2.7 2.7 0 1 0 5.4 0a2.7 2.7 0 1 0 -5.4 0M450.3 94.5a2.7 2.7 0 1 0 5.4 0a2.7 2.7 0 1 0 -5.4 0M451.6 89.4a2.7 2.7 0 1 0 5.4 0a2.7 2.7 0 1 0 -5.4 0M452.8 80.9a2.7 2.7 0 1 0 5.4 0a2.7 2.7 0 1 0 -5.4 0M453.5 99.5a2.7 2.7 0 1 0 5.4 0a2.7 2.7 0 1 0 -5.4 0M454.1 94.4a2.7 2.7 0 1 0 5.4 0a2.7 2.7 0 1 0 -5.4 0M454.9 91.6a2.7 2.7 0 1 0 5.4 0a2.7 2.7 0 1 0 -5.4 0M455.2 100.6a2.7 2.7 0 1 0 5.4 0a2.7 2.7 0 1 0 -5.4 0M455.2 90.9a2.7 2.7 0 1 0 5.4 0a2.7 2.7 0 1 0 -5.4 0M455.7 98.9a2.7 2.7 0 1 0 5.4 0a2.7 2.7 0 1 0 -5.4 0M456.2 96.6a2.7 2.7 0 1 0 5.4 0a2.7 2.7 0 1 0 -5.4 0M456.5 89.2a2.7 2.7 0 1 0 5.4 0a2.7 2.7 0 1 0 -5.4 0M457.2 82.4a2.7 2.7 0 1 0 5.4 0a2.7 2.7 0 1 0 -5.4 0M457.7 93.5a2.7 2.7 0 1 0 5.4 0a2.7 2.7 0 1 0 -5.4 0M458.7 91.2a2.7 2.7 0 1 0 5.4 0a2.7 2.7 0 1 0 -5.4 0M460.5 95.1a2.7 2.7 0 1 0 5.4 0a2.7 2.7 0 1 0 -5.4 0M462.6 76.2a2.7 2.7 0 1 0 5.4 0a2.7 2.7 0 1 0 -5.4 0M462.6 85.8a2.7 2.7 0 1 0 5.4 0a2.7 2.7 0 1 0 -5.4 0M463.4 87.6a2.7 2.7 0 1 0 5.4 0a2.7 2.7 0 1 0 -5.4 0M464.4 87.4a2.7 2.7 0 1 0 5.4 0a2.7 2.7 0 1 0 -5.4 0M465.5 84.8a2.7 2.7 0 1 0 5.4 0a2.7 2.7 0 1 0 -5.4 0M465.5 86.1a2.7 2.7 0 1 0 5.4 0a2.7 2.7 0 1 0 -5.4 0M468.8 63.9a2.7 2.7 0 1 0 5.4 0a2.7 2.7 0 1 0 -5.4 0M469.6 77.1a2.7 2.7 0 1 0 5.4 0a2.7 2.7 0 1 0 -5.4 0M471.3 72.3a2.7 2.7 0 1 0 5.4 0a2.7 2.7 0 1 0 -5.4 0M471.6 65.6a2.7 2.7 0 1 0 5.4 0a2.7 2.7 0 1 0 -5.4 0M473.7 74.6a2.7 2.7 0 1 0 5.4 0a2.7 2.7 0 1 0 -5.4 0M473.7 70.8a2.7 2.7 0 1 0 5.4 0a2.7 2.7 0 1 0 -5.4 0M473.9 65.1a2.7 2.7 0 1 0 5.4 0a2.7 2.7 0 1 0 -5.4 0M474 63.1a2.7 2.7 0 1 0 5.4 0a2.7 2.7 0 1 0 -5.4 0M474.3 75.3a2.7 2.7 0 1 0 5.4 0a2.7 2.7 0 1 0 -5.4 0M475.6 52.3a2.7 2.7 0 1 0 5.4 0a2.7 2.7 0 1 0 -5.4 0M476.9 68.1a2.7 2.7 0 1 0 5.4 0a2.7 2.7 0 1 0 -5.4 0M477.5 59.6a2.7 2.7 0 1 0 5.4 0a2.7 2.7 0 1 0 -5.4 0M477.7 68.6a2.7 2.7 0 1 0 5.4 0a2.7 2.7 0 1 0 -5.4 0M478.6 80.4a2.7 2.7 0 1 0 5.4 0a2.7 2.7 0 1 0 -5.4 0M478.6 73.7a2.7 2.7 0 1 0 5.4 0a2.7 2.7 0 1 0 -5.4 0M478.7 65.5a2.7 2.7 0 1 0 5.4 0a2.7 2.7 0 1 0 -5.4 0M480.3 74.6a2.7 2.7 0 1 0 5.4 0a2.7 2.7 0 1 0 -5.4 0M482.8 73.5a2.7 2.7 0 1 0 5.4 0a2.7 2.7 0 1 0 -5.4 0M485.6 62.2a2.7 2.7 0 1 0 5.4 0a2.7 2.7 0 1 0 -5.4 0M486 68.2a2.7 2.7 0 1 0 5.4 0a2.7 2.7 0 1 0 -5.4 0M488.2 52.2a2.7 2.7 0 1 0 5.4 0a2.7 2.7 0 1 0 -5.4 0M488.6 54.9a2.7 2.7 0 1 0 5.4 0a2.7 2.7 0 1 0 -5.4 0M489.4 48.1a2.7 2.7 0 1 0 5.4 0a2.7 2.7 0 1 0 -5.4 0M489.6 45.6a2.7 2.7 0 1 0 5.4 0a2.7 2.7 0 1 0 -5.4 0M490.1 48a2.7 2.7 0 1 0 5.4 0a2.7 2.7 0 1 0 -5.4 0M490.4 41.4a2.7 2.7 0 1 0 5.4 0a2.7 2.7 0 1 0 -5.4 0M491.3 45.6a2.7 2.7 0 1 0 5.4 0a2.7 2.7 0 1 0 -5.4 0M492.6 62.4a2.7 2.7 0 1 0 5.4 0a2.7 2.7 0 1 0 -5.4 0M493.9 49.3a2.7 2.7 0 1 0 5.4 0a2.7 2.7 0 1 0 -5.4 0M494.5 41.6a2.7 2.7 0 1 0 5.4 0a2.7 2.7 0 1 0 -5.4 0M495 56.5a2.7 2.7 0 1 0 5.4 0a2.7 2.7 0 1 0 -5.4 0M495.7 53.8a2.7 2.7 0 1 0 5.4 0a2.7 2.7 0 1 0 -5.4 0M496.1 33.4a2.7 2.7 0 1 0 5.4 0a2.7 2.7 0 1 0 -5.4 0M498.7 35.3a2.7 2.7 0 1 0 5.4 0a2.7 2.7 0 1 0 -5.4 0M500.3 54.6a2.7 2.7 0 1 0 5.4 0a2.7 2.7 0 1 0 -5.4 0M505.1 43.7a2.7 2.7 0 1 0 5.4 0a2.7 2.7 0 1 0 -5.4 0M505.3 44.6a2.7 2.7 0 1 0 5.4 0a2.7 2.7 0 1 0 -5.4 0M505.6 39.3a2.7 2.7 0 1 0 5.4 0a2.7 2.7 0 1 0 -5.4 0M505.8 35a2.7 2.7 0 1 0 5.4 0a2.7 2.7 0 1 0 -5.4 0M506.3 53.1a2.7 2.7 0 1 0 5.4 0a2.7 2.7 0 1 0 -5.4 0M506.7 38.2a2.7 2.7 0 1 0 5.4 0a2.7 2.7 0 1 0 -5.4 0M506.8 48.8a2.7 2.7 0 1 0 5.4 0a2.7 2.7 0 1 0 -5.4 0M506.8 59.1a2.7 2.7 0 1 0 5.4 0a2.7 2.7 0 1 0 -5.4 0M508 50.2a2.7 2.7 0 1 0 5.4 0a2.7 2.7 0 1 0 -5.4 0M508.4 45a2.7 2.7 0 1 0 5.4 0a2.7 2.7 0 1 0 -5.4 0M508.7 51.8a2.7 2.7 0 1 0 5.4 0a2.7 2.7 0 1 0 -5.4 0M509.2 51.9a2.7 2.7 0 1 0 5.4 0a2.7 2.7 0 1 0 -5.4 0M509.9 45.1a2.7 2.7 0 1 0 5.4 0a2.7 2.7 0 1 0 -5.4 0M512.2 54a2.7 2.7 0 1 0 5.4 0a2.7 2.7 0 1 0 -5.4 0M512.2 42.9a2.7 2.7 0 1 0 5.4 0a2.7 2.7 0 1 0 -5.4 0M512.6 39.4a2.7 2.7 0 1 0 5.4 0a2.7 2.7 0 1 0 -5.4 0M512.9 49a2.7 2.7 0 1 0 5.4 0a2.7 2.7 0 1 0 -5.4 0M513.4 40.7a2.7 2.7 0 1 0 5.4 0a2.7 2.7 0 1 0 -5.4 0M513.6 49.5a2.7 2.7 0 1 0 5.4 0a2.7 2.7 0 1 0 -5.4 0M513.7 53.5a2.7 2.7 0 1 0 5.4 0a2.7 2.7 0 1 0 -5.4 0M514.7 57.6a2.7 2.7 0 1 0 5.4 0a2.7 2.7 0 1 0 -5.4 0M515.9 72.2a2.7 2.7 0 1 0 5.4 0a2.7 2.7 0 1 0 -5.4 0M516.3 52a2.7 2.7 0 1 0 5.4 0a2.7 2.7 0 1 0 -5.4 0M516.3 55.5a2.7 2.7 0 1 0 5.4 0a2.7 2.7 0 1 0 -5.4 0M517.1 57a2.7 2.7 0 1 0 5.4 0a2.7 2.7 0 1 0 -5.4 0M517.4 53.3a2.7 2.7 0 1 0 5.4 0a2.7 2.7 0 1 0 -5.4 0M517.6 76.3a2.7 2.7 0 1 0 5.4 0a2.7 2.7 0 1 0 -5.4 0M519.8 59.6a2.7 2.7 0 1 0 5.4 0a2.7 2.7 0 1 0 -5.4 0M520.1 64.1a2.7 2.7 0 1 0 5.4 0a2.7 2.7 0 1 0 -5.4 0M520.7 65.8a2.7 2.7 0 1 0 5.4 0a2.7 2.7 0 1 0 -5.4 0M521.1 85.6a2.7 2.7 0 1 0 5.4 0a2.7 2.7 0 1 0 -5.4 0M521.1 65.5a2.7 2.7 0 1 0 5.4 0a2.7 2.7 0 1 0 -5.4 0M521.2 62.3a2.7 2.7 0 1 0 5.4 0a2.7 2.7 0 1 0 -5.4 0M521.3 77.2a2.7 2.7 0 1 0 5.4 0a2.7 2.7 0 1 0 -5.4 0M522.2 65.1a2.7 2.7 0 1 0 5.4 0a2.7 2.7 0 1 0 -5.4 0M522.7 55.5a2.7 2.7 0 1 0 5.4 0a2.7 2.7 0 1 0 -5.4 0M523.9 81.1a2.7 2.7 0 1 0 5.4 0a2.7 2.7 0 1 0 -5.4 0M524.7 81.2a2.7 2.7 0 1 0 5.4 0a2.7 2.7 0 1 0 -5.4 0M524.8 64.3a2.7 2.7 0 1 0 5.4 0a2.7 2.7 0 1 0 -5.4 0M525.5 67.2a2.7 2.7 0 1 0 5.4 0a2.7 2.7 0 1 0 -5.4 0M525.7 76.1a2.7 2.7 0 1 0 5.4 0a2.7 2.7 0 1 0 -5.4 0M525.8 69.6a2.7 2.7 0 1 0 5.4 0a2.7 2.7 0 1 0 -5.4 0M526.1 66.1a2.7 2.7 0 1 0 5.4 0a2.7 2.7 0 1 0 -5.4 0M526.3 68.8a2.7 2.7 0 1 0 5.4 0a2.7 2.7 0 1 0 -5.4 0M526.8 91.1a2.7 2.7 0 1 0 5.4 0a2.7 2.7 0 1 0 -5.4 0M527 86.4a2.7 2.7 0 1 0 5.4 0a2.7 2.7 0 1 0 -5.4 0M527.2 71.5a2.7 2.7 0 1 0 5.4 0a2.7 2.7 0 1 0 -5.4 0M527.2 78.1a2.7 2.7 0 1 0 5.4 0a2.7 2.7 0 1 0 -5.4 0M527.3 80a2.7 2.7 0 1 0 5.4 0a2.7 2.7 0 1 0 -5.4 0M528.6 79.6a2.7 2.7 0 1 0 5.4 0a2.7 2.7 0 1 0 -5.4 0M529 82.3a2.7 2.7 0 1 0 5.4 0a2.7 2.7 0 1 0 -5.4 0M529 94.8a2.7 2.7 0 1 0 5.4 0a2.7 2.7 0 1 0 -5.4 0M530 80.2a2.7 2.7 0 1 0 5.4 0a2.7 2.7 0 1 0 -5.4 0M531.5 82.7a2.7 2.7 0 1 0 5.4 0a2.7 2.7 0 1 0 -5.4 0M532.4 89.7a2.7 2.7 0 1 0 5.4 0a2.7 2.7 0 1 0 -5.4 0M533.5 88a2.7 2.7 0 1 0 5.4 0a2.7 2.7 0 1 0 -5.4 0M534.2 91.3a2.7 2.7 0 1 0 5.4 0a2.7 2.7 0 1 0 -5.4 0M534.4 91.7a2.7 2.7 0 1 0 5.4 0a2.7 2.7 0 1 0 -5.4 0M535.2 90.3a2.7 2.7 0 1 0 5.4 0a2.7 2.7 0 1 0 -5.4 0M535.3 104.6a2.7 2.7 0 1 0 5.4 0a2.7 2.7 0 1 0 -5.4 0M535.8 94a2.7 2.7 0 1 0 5.4 0a2.7 2.7 0 1 0 -5.4 0M536.3 107.6a2.7 2.7 0 1 0 5.4 0a2.7 2.7 0 1 0 -5.4 0M536.5 94.4a2.7 2.7 0 1 0 5.4 0a2.7 2.7 0 1 0 -5.4 0M538 98.2a2.7 2.7 0 1 0 5.4 0a2.7 2.7 0 1 0 -5.4 0M539.9 110a2.7 2.7 0 1 0 5.4 0a2.7 2.7 0 1 0 -5.4 0M541.2 110.3a2.7 2.7 0 1 0 5.4 0a2.7 2.7 0 1 0 -5.4 0M541.4 117.4a2.7 2.7 0 1 0 5.4 0a2.7 2.7 0 1 0 -5.4 0M541.8 117.4a2.7 2.7 0 1 0 5.4 0a2.7 2.7 0 1 0 -5.4 0M541.9 126.9a2.7 2.7 0 1 0 5.4 0a2.7 2.7 0 1 0 -5.4 0M543.4 101.1a2.7 2.7 0 1 0 5.4 0a2.7 2.7 0 1 0 -5.4 0M543.6 112.2a2.7 2.7 0 1 0 5.4 0a2.7 2.7 0 1 0 -5.4 0M544.8 121a2.7 2.7 0 1 0 5.4 0a2.7 2.7 0 1 0 -5.4 0M544.8 120.2a2.7 2.7 0 1 0 5.4 0a2.7 2.7 0 1 0 -5.4 0M545.1 121.8a2.7 2.7 0 1 0 5.4 0a2.7 2.7 0 1 0 -5.4 0M545.5 137.4a2.7 2.7 0 1 0 5.4 0a2.7 2.7 0 1 0 -5.4 0M546.6 115.3a2.7 2.7 0 1 0 5.4 0a2.7 2.7 0 1 0 -5.4 0M546.7 131a2.7 2.7 0 1 0 5.4 0a2.7 2.7 0 1 0 -5.4 0M547.2 128.1a2.7 2.7 0 1 0 5.4 0a2.7 2.7 0 1 0 -5.4 0M547.5 130.7a2.7 2.7 0 1 0 5.4 0a2.7 2.7 0 1 0 -5.4 0M547.7 137.1a2.7 2.7 0 1 0 5.4 0a2.7 2.7 0 1 0 -5.4 0M547.7 131.4a2.7 2.7 0 1 0 5.4 0a2.7 2.7 0 1 0 -5.4 0M548.1 137.3a2.7 2.7 0 1 0 5.4 0a2.7 2.7 0 1 0 -5.4 0M548.2 140.4a2.7 2.7 0 1 0 5.4 0a2.7 2.7 0 1 0 -5.4 0M548.3 140.5a2.7 2.7 0 1 0 5.4 0a2.7 2.7 0 1 0 -5.4 0M548.4 125.6a2.7 2.7 0 1 0 5.4 0a2.7 2.7 0 1 0 -5.4 0M549 134.8a2.7 2.7 0 1 0 5.4 0a2.7 2.7 0 1 0 -5.4 0M549.7 135.8a2.7 2.7 0 1 0 5.4 0a2.7 2.7 0 1 0 -5.4 0M549.9 139.2a2.7 2.7 0 1 0 5.4 0a2.7 2.7 0 1 0 -5.4 0M549.9 142.1a2.7 2.7 0 1 0 5.4 0a2.7 2.7 0 1 0 -5.4 0M550.7 159a2.7 2.7 0 1 0 5.4 0a2.7 2.7 0 1 0 -5.4 0M550.8 146.1a2.7 2.7 0 1 0 5.4 0a2.7 2.7 0 1 0 -5.4 0M551.6 153.5a2.7 2.7 0 1 0 5.4 0a2.7 2.7 0 1 0 -5.4 0M551.8 155.5a2.7 2.7 0 1 0 5.4 0a2.7 2.7 0 1 0 -5.4 0M551.8 163.8a2.7 2.7 0 1 0 5.4 0a2.7 2.7 0 1 0 -5.4 0M552.1 155.8a2.7 2.7 0 1 0 5.4 0a2.7 2.7 0 1 0 -5.4 0M552.4 163.1a2.7 2.7 0 1 0 5.4 0a2.7 2.7 0 1 0 -5.4 0M552.4 165a2.7 2.7 0 1 0 5.4 0a2.7 2.7 0 1 0 -5.4 0M552.5 164.2a2.7 2.7 0 1 0 5.4 0a2.7 2.7 0 1 0 -5.4 0M552.6 152.7a2.7 2.7 0 1 0 5.4 0a2.7 2.7 0 1 0 -5.4 0M552.6 156.2a2.7 2.7 0 1 0 5.4 0a2.7 2.7 0 1 0 -5.4 0M552.6 165.8a2.7 2.7 0 1 0 5.4 0a2.7 2.7 0 1 0 -5.4 0M553.3 159a2.7 2.7 0 1 0 5.4 0a2.7 2.7 0 1 0 -5.4 0" fill="#fdc99d" stroke="#fbbf90" stroke-width="0.6"/>
<path d="M341.2 139.8V149.2M339.8 139.8h2.8M339.8 149.2h2.8M341.5 135.3V144.4M340.1 135.3h2.8M340.1 144.4h2.8M341.7 139.5V151.2M340.3 139.5h2.8M340.3 151.2h2.8M345.5 138.5V146.1M344.1 138.5h2.8M344.1 146.1h2.8M345.9 143V152.7M344.5 143h2.8M344.5 152.7h2.8M346.5 135.1V144.7M345.1 135.1h2.8M345.1 144.7h2.8M348.1 130.4V138.6M346.7 130.4h2.8M346.7 138.6h2.8M350.7 138.3V146.2M349.3 138.3h2.8M349.3 146.2h2.8M352.7 134.1V146M351.3 134.1h2.8M351.3 146h2.8M353 135.3V147.8M351.6 135.3h2.8M351.6 147.8h2.8M353.7 140.3V152.9M352.3 140.3h2.8M352.3 152.9h2.8M355 134.6V141.8M353.6 134.6h2.8M353.6 141.8h2.8M356.4 139.6V149.1M355 139.6h2.8M355 149.1h2.8M357.3 141.9V148.4M355.9 141.9h2.8M355.9 148.4h2.8M359.9 142.3V149.1M358.5 142.3h2.8M358.5 149.1h2.8M363.7 129.3V137M362.3 129.3h2.8M362.3 137h2.8M363.9 136.3V147.1M362.5 136.3h2.8M362.5 147.1h2.8M365.7 135.1V141.3M364.3 135.1h2.8M364.3 141.3h2.8M365.8 133.3V146.7M364.4 133.3h2.8M364.4 146.7h2.8M367 134.3V140.9M365.6 134.3h2.8M365.6 140.9h2.8M369 132.6V146.2M367.6 132.6h2.8M367.6 146.2h2.8M369.6 139V149.9M368.2 139h2.8M368.2 149.9h2.8M370.2 144.2V150.8M368.8 144.2h2.8M368.8 150.8h2.8M373.2 137.2V149.2M371.8 137.2h2.8M371.8 149.2h2.8M374.8 130.8V139.7M373.4 130.8h2.8M373.4 139.7h2.8M375.8 139V151.4M374.4 139h2.8M374.4 151.4h2.8M377.5 129.5V140.6M376.1 129.5h2.8M376.1 140.6h2.8M380.6 133V143.4M379.2 133h2.8M379.2 143.4h2.8M380.8 139V149.6M379.4 139h2.8M379.4 149.6h2.8M382.3 130.5V143.9M380.9 130.5h2.8M380.9 143.9h2.8M383.4 136.8V148M382 136.8h2.8M382 148h2.8M384.5 133.1V143.5M383.1 133.1h2.8M383.1 143.5h2.8M385.7 127.7V141.5M384.3 127.7h2.8M384.3 141.5h2.8M386.8 133.1V147M385.4 133.1h2.8M385.4 147h2.8M387.1 133.2V140.8M385.7 133.2h2.8M385.7 140.8h2.8M388.7 140.9V151.4M387.3 140.9h2.8M387.3 151.4h2.8M388.7 139.5V153.5M387.3 139.5h2.8M387.3 153.5h2.8M393.1 139V150.9M391.7 139h2.8M391.7 150.9h2.8M393.5 130.8V137.9M392.1 130.8h2.8M392.1 137.9h2.8M394.9 140.7V151.5M393.5 140.7h2.8M393.5 151.5h2.8M395.1 133.6V145.7M393.7 133.6h2.8M393.7 145.7h2.8M397.9 133.9V146.4M396.5 133.9h2.8M396.5 146.4h2.8M398.8 135.6V141.9M397.4 135.6h2.8M397.4 141.9h2.8M399.9 132.5V138.7M398.5 132.5h2.8M398.5 138.7h2.8M404.3 134V141.8M402.9 134h2.8M402.9 141.8h2.8M405.2 136.4V145.4M403.8 136.4h2.8M403.8 145.4h2.8M406.6 139.1V147.9M405.2 139.1h2.8M405.2 147.9h2.8M407.2 133.4V145.4M405.8 133.4h2.8M405.8 145.4h2.8M407.3 132.5V141.7M405.9 132.5h2.8M405.9 141.7h2.8M410.4 129.3V139.9M409 129.3h2.8M409 139.9h2.8M412.3 128.9V141.1M410.9 128.9h2.8M410.9 141.1h2.8M412.6 137.5V148.5M411.2 137.5h2.8M411.2 148.5h2.8M412.8 132.6V145.6M411.4 132.6h2.8M411.4 145.6h2.8M412.9 132.2V142.2M411.5 132.2h2.8M411.5 142.2h2.8M413.3 124.3V134.4M411.9 124.3h2.8M411.9 134.4h2.8M415 121.9V135.2M413.6 121.9h2.8M413.6 135.2h2.8M416.2 134.6V142.5M414.8 134.6h2.8M414.8 142.5h2.8M416.5 134.3V142.3M415.1 134.3h2.8M415.1 142.3h2.8M417 136.3V144.2M415.6 136.3h2.8M415.6 144.2h2.8M417.2 132V140.8M415.8 132h2.8M415.8 140.8h2.8M417.5 128.4V137.1M416.1 128.4h2.8M416.1 137.1h2.8M417.5 121.4V135.3M416.1 121.4h2.8M416.1 135.3h2.8M419.4 128.2V134.4M418 128.2h2.8M418 134.4h2.8M422.6 120.3V129.3M421.2 120.3h2.8M421.2 129.3h2.8M423.3 131.6V139.8M421.9 131.6h2.8M421.9 139.8h2.8M423.4 130.7V142.1M422 130.7h2.8M422 142.1h2.8M424.4 134.5V145.5M423 134.5h2.8M423 145.5h2.8M426.6 122.9V129.2M425.2 122.9h2.8M425.2 129.2h2.8M426.8 120.8V134.6M425.4 120.8h2.8M425.4 134.6h2.8M428.3 132V139.7M426.9 132h2.8M426.9 139.7h2.8M429.1 129.9V139M427.7 129.9h2.8M427.7 139h2.8M429.3 119.2V130M427.9 119.2h2.8M427.9 130h2.8M430 125.4V134.3M428.6 125.4h2.8M428.6 134.3h2.8M431.2 128.4V137.5M429.8 128.4h2.8M429.8 137.5h2.8M432 124V137.4M430.6 124h2.8M430.6 137.4h2.8M432 128.6V139.1M430.6 128.6h2.8M430.6 139.1h2.8M433 125.9V138.4M431.6 125.9h2.8M431.6 138.4h2.8M434.4 124.5V134M433 124.5h2.8M433 134h2.8M434.8 127.1V139.1M433.4 127.1h2.8M433.4 139.1h2.8M436.7 125.8V135.3M435.3 125.8h2.8M435.3 135.3h2.8M436.7 130V141.6M435.3 130h2.8M435.3 141.6h2.8M437.1 118.6V130.7M435.7 118.6h2.8M435.7 130.7h2.8M437.5 123.6V135.7M436.1 123.6h2.8M436.1 135.7h2.8M439.3 122.6V131.7M437.9 122.6h2.8M437.9 131.7h2.8M439.7 123.6V134.2M438.3 123.6h2.8M438.3 134.2h2.8M440.3 127V135.8M438.9 127h2.8M438.9 135.8h2.8M440.5 125.8V138.9M439.1 125.8h2.8M439.1 138.9h2.8M441 113.2V127.2M439.6 113.2h2.8M439.6 127.2h2.8M441.3 130.2V138.5M439.9 130.2h2.8M439.9 138.5h2.8M441.8 127.8V135.1M440.4 127.8h2.8M440.4 135.1h2.8M442.6 127.3V134.9M441.2 127.3h2.8M441.2 134.9h2.8M442.7 124V134.2M441.3 124h2.8M441.3 134.2h2.8M443.8 127.8V137.3M442.4 127.8h2.8M442.4 137.3h2.8M444.5 126.2V133.7M443.1 126.2h2.8M443.1 133.7h2.8M444.6 115V125M443.2 115h2.8M443.2 125h2.8M445.1 121.7V128M443.7 121.7h2.8M443.7 128h2.8M445.8 121.6V131.2M444.4 121.6h2.8M444.4 131.2h2.8M447.3 119V131.4M445.9 119h2.8M445.9 131.4h2.8M447.4 118.1V131.5M446 118.1h2.8M446 131.5h2.8M447.6 123.9V135.2M446.2 123.9h2.8M446.2 135.2h2.8M447.6 115.1V128.3M446.2 115.1h2.8M446.2 128.3h2.8M447.8 119.9V126.6M446.4 119.9h2.8M446.4 126.6h2.8M448.2 118.8V125M446.8 118.8h2.8M446.8 125h2.8M449.9 121.1V130.1M448.5 121.1h2.8M448.5 130.1h2.8M451 121.7V132.9M449.6 121.7h2.8M449.6 132.9h2.8M455 114.4V123.4M453.6 114.4h2.8M453.6 123.4h2.8M456.8 117.9V130.8M455.4 117.9h2.8M455.4 130.8h2.8M458.3 114.6V123.1M456.9 114.6h2.8M456.9 123.1h2.8M459.2 123V133.5M457.8 123h2.8M457.8 133.5h2.8M460 103.2V115.5M458.6 103.2h2.8M458.6 115.5h2.8M460.5 116.7V124M459.1 116.7h2.8M459.1 124h2.8M460.9 121.3V130.9M459.5 121.3h2.8M459.5 130.9h2.8M461.6 112V124M460.2 112h2.8M460.2 124h2.8M462.6 106.7V120.5M461.2 106.7h2.8M461.2 120.5h2.8M463.8 107.9V120.2M462.4 107.9h2.8M462.4 120.2h2.8M464.3 115V127.6M462.9 115h2.8M462.9 127.6h2.8M466.4 109.1V119.5M465 109.1h2.8M465 119.5h2.8M467.6 115.4V129M466.2 115.4h2.8M466.2 129h2.8M468.4 110.3V122.4M467 110.3h2.8M467 122.4h2.8M469.4 109.3V115.8M468 109.3h2.8M468 115.8h2.8M470.1 107.5V118.1M468.7 107.5h2.8M468.7 118.1h2.8M470.4 113V122.3M469 113h2.8M469 122.3h2.8M471.3 116V124.3M469.9 116h2.8M469.9 124.3h2.8M471.9 105.4V114.2M470.5 105.4h2.8M470.5 114.2h2.8M475 100.7V111.6M473.6 100.7h2.8M473.6 111.6h2.8M475.5 99.9V112.1M474.1 99.9h2.8M474.1 112.1h2.8M476.6 111.4V117.6M475.2 111.4h2.8M475.2 117.6h2.8M476.7 117.8V125.9M475.3 117.8h2.8M475.3 125.9h2.8M477.4 104.6V112.6M476 104.6h2.8M476 112.6h2.8M478.3 110.5V119M476.9 110.5h2.8M476.9 119h2.8M478.5 102.7V114.9M477.1 102.7h2.8M477.1 114.9h2.8M478.8 112.8V118.9M477.4 112.8h2.8M477.4 118.9h2.8M480 98.5V105.7M478.6 98.5h2.8M478.6 105.7h2.8M481.5 107.3V118.3M480.1 107.3h2.8M480.1 118.3h2.8M481.9 98.3V105.9M480.5 98.3h2.8M480.5 105.9h2.8M481.9 97.7V111.6M480.5 97.7h2.8M480.5 111.6h2.8M482 107.2V115M480.6 107.2h2.8M480.6 115h2.8M483 100.9V114.1M481.6 100.9h2.8M481.6 114.1h2.8M483.1 104.6V112.2M481.7 104.6h2.8M481.7 112.2h2.8M483.1 107.9V115.4M481.7 107.9h2.8M481.7 115.4h2.8M484.1 104.5V114.2M482.7 104.5h2.8M482.7 114.2h2.8M484.7 112.1V120.4M483.3 112.1h2.8M483.3 120.4h2.8M484.9 105.6V118.5M483.5 105.6h2.8M483.5 118.5h2.8M486.8 96.6V108.1M485.4 96.6h2.8M485.4 108.1h2.8M486.8 103V110.3M485.4 103h2.8M485.4 110.3h2.8M489 97.8V108.3M487.6 97.8h2.8M487.6 108.3h2.8M490 98V108.8M488.6 98h2.8M488.6 108.8h2.8M490.4 109.7V120.9M489 109.7h2.8M489 120.9h2.8M491.2 97.1V104.7M489.8 97.1h2.8M489.8 104.7h2.8M492.1 106.8V117M490.7 106.8h2.8M490.7 117h2.8M493.4 109V116.4M492 109h2.8M492 116.4h2.8M494.6 113.1V125.1M493.2 113.1h2.8M493.2 125.1h2.8M497 98.7V108.6M495.6 98.7h2.8M495.6 108.6h2.8M498.7 101.2V108.5M497.3 101.2h2.8M497.3 108.5h2.8M498.7 101.8V108.4M497.3 101.8h2.8M497.3 108.4h2.8M500.6 95.6V107.3M499.2 95.6h2.8M499.2 107.3h2.8M501 106.5V120M499.6 106.5h2.8M499.6 120h2.8M501.1 110.7V117.8M499.7 110.7h2.8M499.7 117.8h2.8M503 85.6V96.7M501.6 85.6h2.8M501.6 96.7h2.8M503.3 95.3V108.8M501.9 95.3h2.8M501.9 108.8h2.8M503.9 104.7V116.4M502.5 104.7h2.8M502.5 116.4h2.8M505 94.9V102.2M503.6 94.9h2.8M503.6 102.2h2.8M506.3 94.4V107.1M504.9 94.4h2.8M504.9 107.1h2.8M507.2 99.7V110.4M505.8 99.7h2.8M505.8 110.4h2.8M507.2 100.1V109.5M505.8 100.1h2.8M505.8 109.5h2.8M508.5 97.7V111M507.1 97.7h2.8M507.1 111h2.8M508.6 100.5V108.7M507.2 100.5h2.8M507.2 108.7h2.8M508.9 108.7V122.2M507.5 108.7h2.8M507.5 122.2h2.8M509.9 87.9V98.2M508.5 87.9h2.8M508.5 98.2h2.8M513.9 97.9V111.5M512.5 97.9h2.8M512.5 111.5h2.8M515.5 96.5V107.1M514.1 96.5h2.8M514.1 107.1h2.8M516.6 104V115.5M515.2 104h2.8M515.2 115.5h2.8M516.8 102.6V109.5M515.4 102.6h2.8M515.4 109.5h2.8M517.2 106.2V116.5M515.8 106.2h2.8M515.8 116.5h2.8M517.9 104.2V113.8M516.5 104.2h2.8M516.5 113.8h2.8M518.7 116.5V127.5M517.3 116.5h2.8M517.3 127.5h2.8M523.7 100.3V107.9M522.3 100.3h2.8M522.3 107.9h2.8M524 102.3V115.5M522.6 102.3h2.8M522.6 115.5h2.8M524.1 110.9V121.9M522.7 110.9h2.8M522.7 121.9h2.8M524.3 104.9V114.2M522.9 104.9h2.8M522.9 114.2h2.8M524.4 108.3V116.9M523 108.3h2.8M523 116.9h2.8M525 99.6V107.6M523.6 99.6h2.8M523.6 107.6h2.8M527 110.4V124.3M525.6 110.4h2.8M525.6 124.3h2.8M527.4 106.4V119.6M526 106.4h2.8M526 119.6h2.8M528.6 111.3V124.2M527.2 111.3h2.8M527.2 124.2h2.8M528.9 105.1V114.3M527.5 105.1h2.8M527.5 114.3h2.8M529.4 105.8V118.7M528 105.8h2.8M528 118.7h2.8M531.9 108.1V117.9M530.5 108.1h2.8M530.5 117.9h2.8M532.4 121.1V133.8M531 121.1h2.8M531 133.8h2.8M533.1 103.1V115.9M531.7 103.1h2.8M531.7 115.9h2.8M533.2 114.9V128.3M531.8 114.9h2.8M531.8 128.3h2.8M533.2 116.7V124.6M531.8 116.7h2.8M531.8 124.6h2.8M533.4 123.1V129.7M532 123.1h2.8M532 129.7h2.8M534.5 116.5V128.2M533.1 116.5h2.8M533.1 128.2h2.8M535.6 112.7V120.5M534.2 112.7h2.8M534.2 120.5h2.8M535.7 118.4V131.8M534.3 118.4h2.8M534.3 131.8h2.8M536 107.3V119.2M534.6 107.3h2.8M534.6 119.2h2.8M536.6 125.2V133.1M535.2 125.2h2.8M535.2 133.1h2.8M536.7 116.8V129.1M535.3 116.8h2.8M535.3 129.1h2.8M536.7 114.5V124.5M535.3 114.5h2.8M535.3 124.5h2.8M538.6 118.1V128.6M537.2 118.1h2.8M537.2 128.6h2.8M539 124.2V135M537.6 124.2h2.8M537.6 135h2.8M539.7 111.6V125.3M538.3 111.6h2.8M538.3 125.3h2.8M540.3 131.9V142.7M538.9 131.9h2.8M538.9 142.7h2.8M540.6 118.6V130.8M539.2 118.6h2.8M539.2 130.8h2.8M540.7 131.7V141.8M539.3 131.7h2.8M539.3 141.8h2.8M540.8 124.7V134.6M539.4 124.7h2.8M539.4 134.6h2.8M541.1 135.7V143.1M539.7 135.7h2.8M539.7 143.1h2.8M541.9 117.8V129.3M540.5 117.8h2.8M540.5 129.3h2.8M542.8 130.6V141M541.4 130.6h2.8M541.4 141h2.8M543 124.7V137.4M541.6 124.7h2.8M541.6 137.4h2.8M543.2 122.5V134M541.8 122.5h2.8M541.8 134h2.8M544.1 131.8V142.3M542.7 131.8h2.8M542.7 142.3h2.8M544.2 124.7V138.3M542.8 124.7h2.8M542.8 138.3h2.8M544.5 123.3V135.2M543.1 123.3h2.8M543.1 135.2h2.8M544.9 125.8V139M543.5 125.8h2.8M543.5 139h2.8M545.1 124.2V135.2M543.7 124.2h2.8M543.7 135.2h2.8M545.6 129.4V137M544.2 129.4h2.8M544.2 137h2.8M545.7 130V138.4M544.3 130h2.8M544.3 138.4h2.8M549 138.4V149.7M547.6 138.4h2.8M547.6 149.7h2.8M549.1 131.4V144.8M547.7 131.4h2.8M547.7 144.8h2.8M549.2 128.9V140.5M547.8 128.9h2.8M547.8 140.5h2.8M549.8 138.1V148.7M548.4 138.1h2.8M548.4 148.7h2.8M549.9 132.2V143.2M548.5 132.2h2.8M548.5 143.2h2.8M550.2 130.8V139.2M548.8 130.8h2.8M548.8 139.2h2.8M551.5 132V139M550.1 132h2.8M550.1 139h2.8M551.5 147.6V154.1M550.1 147.6h2.8M550.1 154.1h2.8M552.4 136.4V148.3M551 136.4h2.8M551 148.3h2.8M552.5 146.2V156.5M551.1 146.2h2.8M551.1 156.5h2.8M555.3 136.1V147.8M553.9 136.1h2.8M553.9 147.8h2.8M556 136.1V149M554.6 136.1h2.8M554.6 149h2.8M556.2 153.4V160.4M554.8 153.4h2.8M554.8 160.4h2.8M557.9 145.2V153.7M556.5 145.2h2.8M556.5 153.7h2.8M558 146.3V153.6M556.6 146.3h2.8M556.6 153.6h2.8M558.3 143.8V156.5M556.9 143.8h2.8M556.9 156.5h2.8M559 141.8V152.4M557.6 141.8h2.8M557.6 152.4h2.8M559.2 153.6V161.6M557.8 153.6h2.8M557.8 161.6h2.8M560.2 143.2V152.8M558.8 143.2h2.8M558.8 152.8h2.8M561 153V164.7M559.6 153h2.8M559.6 164.7h2.8M561.4 147.1V153.5M560 147.1h2.8M560 153.5h2.8M562.5 165.1V175.1M561.1 165.1h2.8M561.1 175.1h2.8M562.9 155V167.5M561.5 155h2.8M561.5 167.5h2.8M563 156.8V169.9M561.6 156.8h2.8M561.6 169.9h2.8M563.1 144.3V155M561.7 144.3h2.8M561.7 155h2.8M565.1 157.4V167.6M563.7 157.4h2.8M563.7 167.6h2.8M565.4 154.2V162M564 154.2h2.8M564 162h2.8M566.5 155.4V161.6M565.1 155.4h2.8M565.1 161.6h2.8M566.7 154.7V163.1M565.3 154.7h2.8M565.3 163.1h2.8M566.7 163.6V170.4M565.3 163.6h2.8M565.3 170.4h2.8M567.6 158V170.8M566.2 158h2.8M566.2 170.8h2.8M568.2 159.6V165.8M566.8 159.6h2.8M566.8 165.8h2.8M568.8 156.8V169.4M567.4 156.8h2.8M567.4 169.4h2.8M568.9 158.5V167.5M567.5 158.5h2.8M567.5 167.5h2.8M570.1 160.4V170.1M568.7 160.4h2.8M568.7 170.1h2.8M570.1 162.8V170.3M568.7 162.8h2.8M568.7 170.3h2.8M570.5 157.6V168.4M569.1 157.6h2.8M569.1 168.4h2.8M570.7 160.9V168M569.3 160.9h2.8M569.3 168h2.8M571.8 155.2V164.6M570.4 155.2h2.8M570.4 164.6h2.8M573.6 167V178.9M572.2 167h2.8M572.2 178.9h2.8M573.7 172.8V179.1M572.3 172.8h2.8M572.3 179.1h2.8M574.1 166.6V176.6M572.7 166.6h2.8M572.7 176.6h2.8M574.5 178V184.1M573.1 178h2.8M573.1 184.1h2.8M575.3 168.3V176.2M573.9 168.3h2.8M573.9 176.2h2.8M575.5 171.5V181.1M574.1 171.5h2.8M574.1 181.1h2.8M575.7 178.6V185.2M574.3 178.6h2.8M574.3 185.2h2.8M575.8 171.5V184M574.4 171.5h2.8M574.4 184h2.8M575.9 167.7V178.6M574.5 167.7h2.8M574.5 178.6h2.8M576.5 173V185.8M575.1 173h2.8M575.1 185.8h2.8M576.6 170.3V181.9M575.2 170.3h2.8M575.2 181.9h2.8M577.1 179.7V188M575.7 179.7h2.8M575.7 188h2.8M577.4 175.8V189.7M576 175.8h2.8M576 189.7h2.8M578.4 175.7V183.7M577 175.7h2.8M577 183.7h2.8M578.4 179.6V186.8M577 179.6h2.8M577 186.8h2.8M578.5 184.9V192.7M577.1 184.9h2.8M577.1 192.7h2.8M578.9 182.6V191M577.5 182.6h2.8M577.5 191h2.8" stroke="#e77589" stroke-width="0.8" fill="none"/>
<path d="M338.5 144.5a2.7 2.7 0 1 0 5.4 0a2.7 2.7 0 1 0 -5.4 0M338.8 139.9a2.7 2.7 0 1 0 5.4 0a2.7 2.7 0 1 0 -5.4 0M339 145.3a2.7 2.7 0 1 0 5.4 0a2.7 2.7 0 1 0 -5.4 0M342.8 142.3a2.7 2.7 0 1 0 5.4 0a2.7 2.7 0 1 0 -5.4 0M343.2 147.8a2.7 2.7 0 1 0 5.4 0a2.7 2.7 0 1 0 -5.4 0M343.8 139.9a2.7 2.7 0 1 0 5.4 0a2.7 2.7 0 1 0 -5.4 0M345.4 134.5a2.7 2.7 0 1 0 5.4 0a2.7 2.7 0 1 0 -5.4 0M348 142.2a2.7 2.7 0 1 0 5.4 0a2.7 2.7 0 1 0 -5.4 0M350 140a2.7 2.7 0 1 0 5.4 0a2.7 2.7 0 1 0 -5.4 0M350.3 141.6a2.7 2.7 0 1 0 5.4 0a2.7 2.7 0 1 0 -5.4 0M351 146.6a2.7 2.7 0 1 0 5.4 0a2.7 2.7 0 1 0 -5.4 0M352.3 138.2a2.7 2.7 0 1 0 5.4 0a2.7 2.7 0 1 0 -5.4 0M353.7 144.4a2.7 2.7 0 1 0 5.4 0a2.7 2.7 0 1 0 -5.4 0M354.6 145.2a2.7 2.7 0 1 0 5.4 0a2.7 2.7 0 1 0 -5.4 0M357.2 145.7a2.7 2.7 0 1 0 5.4 0a2.7 2.7 0 1 0 -5.4 0M361 133.1a2.7 2.7 0 1 0 5.4 0a2.7 2.7 0 1 0 -5.4 0M361.2 141.7a2.7 2.7 0 1 0 5.4 0a2.7 2.7 0 1 0 -5.4 0M363 138.2a2.7 2.7 0 1 0 5.4 0a2.7 2.7 0 1 0 -5.4 0M363.1 140a2.7 2.7 0 1 0 5.4 0a2.7 2.7 0 1 0 -5.4 0M364.3 137.6a2.7 2.7 0 1 0 5.4 0a2.7 2.7 0 1 0 -5.4 0M366.3 139.4a2.7 2.7 0 1 0 5.4 0a2.7 2.7 0 1 0 -5.4 0M366.9 144.4a2.7 2.7 0 1 0 5.4 0a2.7 2.7 0 1 0 -5.4 0M367.5 147.5a2.7 2.7 0 1 0 5.4 0a2.7 2.7 0 1 0 -5.4 0M370.5 143.2a2.7 2.7 0 1 0 5.4 0a2.7 2.7 0 1 0 -5.4 0M372.1 135.3a2.7 2.7 0 1 0 5.4 0a2.7 2.7 0 1 0 -5.4 0M373.1 145.2a2.7 2.7 0 1 0 5.4 0a2.7 2.7 0 1 0 -5.4 0M374.8 135a2.7 2.7 0 1 0 5.4 0a2.7 2.7 0 1 0 -5.4 0M377.9 138.2a2.7 2.7 0 1 0 5.4 0a2.7 2.7 0 1 0 -5.4 0M378.1 144.3a2.7 2.7 0 1 0 5.4 0a2.7 2.7 0 1 0 -5.4 0M379.6 137.2a2.7 2.7 0 1 0 5.4 0a2.7 2.7 0 1 0 -5.4 0M380.7 142.4a2.7 2.7 0 1 0 5.4 0a2.7 2.7 0 1 0 -5.4 0M381.8 138.3a2.7 2.7 0 1 0 5.4 0a2.7 2.7 0 1 0 -5.4 0M383 134.6a2.7 2.7 0 1 0 5.4 0a2.7 2.7 0 1 0 -5.4 0M384.1 140a2.7 2.7 0 1 0 5.4 0a2.7 2.7 0 1 0 -5.4 0M384.4 137a2.7 2.7 0 1 0 5.4 0a2.7 2.7 0 1 0 -5.4 0M386 146.2a2.7 2.7 0 1 0 5.4 0a2.7 2.7 0 1 0 -5.4 0M386 146.5a2.7 2.7 0 1 0 5.4 0a2.7 2.7 0 1 0 -5.4 0M390.4 145a2.7 2.7 0 1 0 5.4 0a2.7 2.7 0 1 0 -5.4 0M390.8 134.4a2.7 2.7 0 1 0 5.4 0a2.7 2.7 0 1 0 -5.4 0M392.2 146.1a2.7 2.7 0 1 0 5.4 0a2.7 2.7 0 1 0 -5.4 0M392.4 139.6a2.7 2.7 0 1 0 5.4 0a2.7 2.7 0 1 0 -5.4 0M395.2 140.1a2.7 2.7 0 1 0 5.4 0a2.7 2.7 0 1 0 -5.4 0M396.1 138.8a2.7 2.7 0 1 0 5.4 0a2.7 2.7 0 1 0 -5.4 0M397.2 135.6a2.7 2.7 0 1 0 5.4 0a2.7 2.7 0 1 0 -5.4 0M401.6 137.9a2.7 2.7 0 1 0 5.4 0a2.7 2.7 0 1 0 -5.4 0M402.5 140.9a2.7 2.7 0 1 0 5.4 0a2.7 2.7 0 1 0 -5.4 0M403.9 143.5a2.7 2.7 0 1 0 5.4 0a2.7 2.7 0 1 0 -5.4 0M404.5 139.4a2.7 2.7 0 1 0 5.4 0a2.7 2.7 0 1 0 -5.4 0M404.6 137.1a2.7 2.7 0 1 0 5.4 0a2.7 2.7 0 1 0 -5.4 0M407.7 134.6a2.7 2.7 0 1 0 5.4 0a2.7 2.7 0 1 0 -5.4 0M409.6 135a2.7 2.7 0 1 0 5.4 0a2.7 2.7 0 1 0 -5.4 0M409.9 143a2.7 2.7 0 1 0 5.4 0a2.7 2.7 0 1 0 -5.4 0M410.1 139.1a2.7 2.7 0 1 0 5.4 0a2.7 2.7 0 1 0 -5.4 0M410.2 137.2a2.7 2.7 0 1 0 5.4 0a2.7 2.7 0 1 0 -5.4 0M410.6 129.3a2.7 2.7 0 1 0 5.4 0a2.7 2.7 0 1 0 -5.4 0M412.3 128.6a2.7 2.7 0 1 0 5.4 0a2.7 2.7 0 1 0 -5.4 0M413.5 138.5a2.7 2.7 0 1 0 5.4 0a2.7 2.7 0 1 0 -5.4 0M413.8 138.3a2.7 2.7 0 1 0 5.4 0a2.7 2.7 0 1 0 -5.4 0M414.3 140.2a2.7 2.7 0 1 0 5.4 0a2.7 2.7 0 1 0 -5.4 0M414.5 136.4a2.7 2.7 0 1 0 5.4 0a2.7 2.7 0 1 0 -5.4 0M414.8 132.8a2.7 2.7 0 1 0 5.4 0a2.7 2.7 0 1 0 -5.4 0M414.8 128.4a2.7 2.7 0 1 0 5.4 0a2.7 2.7 0 1 0 -5.4 0M416.7 131.3a2.7 2.7 0 1 0 5.4 0a2.7 2.7 0 1 0 -5.4 0M419.9 124.8a2.7 2.7 0 1 0 5.4 0a2.7 2.7 0 1 0 -5.4 0M420.6 135.7a2.7 2.7 0 1 0 5.4 0a2.7 2.7 0 1 0 -5.4 0M420.7 136.4a2.7 2.7 0 1 0 5.4 0a2.7 2.7 0 1 0 -5.4 0M421.7 140a2.7 2.7 0 1 0 5.4 0a2.7 2.7 0 1 0 -5.4 0M423.9 126a2.7 2.7 0 1 0 5.4 0a2.7 2.7 0 1 0 -5.4 0M424.1 127.7a2.7 2.7 0 1 0 5.4 0a2.7 2.7 0 1 0 -5.4 0M425.6 135.9a2.7 2.7 0 1 0 5.4 0a2.7 2.7 0 1 0 -5.4 0M426.4 134.5a2.7 2.7 0 1 0 5.4 0a2.7 2.7 0 1 0 -5.4 0M426.6 124.6a2.7 2.7 0 1 0 5.4 0a2.7 2.7 0 1 0 -5.4 0M427.3 129.9a2.7 2.7 0 1 0 5.4 0a2.7 2.7 0 1 0 -5.4 0M428.5 132.9a2.7 2.7 0 1 0 5.4 0a2.7 2.7 0 1 0 -5.4 0M429.3 130.7a2.7 2.7 0 1 0 5.4 0a2.7 2.7 0 1 0 -5.4 0M429.3 133.9a2.7 2.7 0 1 0 5.4 0a2.7 2.7 0 1 0 -5.4 0M430.3 132.2a2.7 2.7 0 1 0 5.4 0a2.7 2.7 0 1 0 -5.4 0M431.7 129.2a2.7 2.7 0 1 0 5.4 0a2.7 2.7 0 1 0 -5.4 0M432.1 133.1a2.7 2.7 0 1 0 5.4 0a2.7 2.7 0 1 0 -5.4 0M434 130.6a2.7 2.7 0 1 0 5.4 0a2.7 2.7 0 1 0 -5.4 0M434 135.8a2.7 2.7 0 1 0 5.4 0a2.7 2.7 0 1 0 -5.4 0M434.4 124.6a2.7 2.7 0 1 0 5.4 0a2.7 2.7 0 1 0 -5.4 0M434.8 129.7a2.7 2.7 0 1 0 5.4 0a2.7 2.7 0 1 0 -5.4 0M436.6 127.1a2.7 2.7 0 1 0 5.4 0a2.7 2.7 0 1 0 -5.4 0M437 128.9a2.7 2.7 0 1 0 5.4 0a2.7 2.7 0 1 0 -5.4 0M437.6 131.4a2.7 2.7 0 1 0 5.4 0a2.7 2.7 0 1 0 -5.4 0M437.8 132.4a2.7 2.7 0 1 0 5.4 0a2.7 2.7 0 1 0 -5.4 0M438.3 120.2a2.7 2.7 0 1 0 5.4 0a2.7 2.7 0 1 0 -5.4 0M438.6 134.3a2.7 2.7 0 1 0 5.4 0a2.7 2.7 0 1 0 -5.4 0M439.1 131.5a2.7 2.7 0 1 0 5.4 0a2.7 2.7 0 1 0 -5.4 0M439.9 131.1a2.7 2.7 0 1 0 5.4 0a2.7 2.7 0 1 0 -5.4 0M440 129.1a2.7 2.7 0 1 0 5.4 0a2.7 2.7 0 1 0 -5.4 0M441.1 132.5a2.7 2.7 0 1 0 5.4 0a2.7 2.7 0 1 0 -5.4 0M441.8 129.9a2.7 2.7 0 1 0 5.4 0a2.7 2.7 0 1 0 -5.4 0M441.9 120a2.7 2.7 0 1 0 5.4 0a2.7 2.7 0 1 0 -5.4 0M442.4 124.9a2.7 2.7 0 1 0 5.4 0a2.7 2.7 0 1 0 -5.4 0M443.1 126.4a2.7 2.7 0 1 0 5.4 0a2.7 2.7 0 1 0 -5.4 0M444.6 125.2a2.7 2.7 0 1 0 5.4 0a2.7 2.7 0 1 0 -5.4 0M444.7 124.8a2.7 2.7 0 1 0 5.4 0a2.7 2.7 0 1 0 -5.4 0M444.9 129.6a2.7 2.7 0 1 0 5.4 0a2.7 2.7 0 1 0 -5.4 0M444.9 121.7a2.7 2.7 0 1 0 5.4 0a2.7 2.7 0 1 0 -5.4 0M445.1 123.3a2.7 2.7 0 1 0 5.4 0a2.7 2.7 0 1 0 -5.4 0M445.5 121.9a2.7 2.7 0 1 0 5.4 0a2.7 2.7 0 1 0 -5.4 0M447.2 125.6a2.7 2.7 0 1 0 5.4 0a2.7 2.7 0 1 0 -5.4 0M448.3 127.3a2.7 2.7 0 1 0 5.4 0a2.7 2.7 0 1 0 -5.4 0M452.3 118.9a2.7 2.7 0 1 0 5.4 0a2.7 2.7 0 1 0 -5.4 0M454.1 124.4a2.7 2.7 0 1 0 5.4 0a2.7 2.7 0 1 0 -5.4 0M455.6 118.9a2.7 2.7 0 1 0 5.4 0a2.7 2.7 0 1 0 -5.4 0M456.5 128.3a2.7 2.7 0 1 0 5.4 0a2.7 2.7 0 1 0 -5.4 0M457.3 109.3a2.7 2.7 0 1 0 5.4 0a2.7 2.7 0 1 0 -5.4 0M457.8 120.4a2.7 2.7 0 1 0 5.4 0a2.7 2.7 0 1 0 -5.4 0M458.2 126.1a2.7 2.7 0 1 0 5.4 0a2.7 2.7 0 1 0 -5.4 0M458.9 118a2.7 2.7 0 1 0 5.4 0a2.7 2.7 0 1 0 -5.4 0M459.9 113.6a2.7 2.7 0 1 0 5.4 0a2.7 2.7 0 1 0 -5.4 0M461.1 114.1a2.7 2.7 0 1 0 5.4 0a2.7 2.7 0 1 0 -5.4 0M461.6 121.3a2.7 2.7 0 1 0 5.4 0a2.7 2.7 0 1 0 -5.4 0M463.7 114.3a2.7 2.7 0 1 0 5.4 0a2.7 2.7 0 1 0 -5.4 0M464.9 122.2a2.7 2.7 0 1 0 5.4 0a2.7 2.7 0 1 0 -5.4 0M465.7 116.4a2.7 2.7 0 1 0 5.4 0a2.7 2.7 0 1 0 -5.4 0M466.7 112.6a2.7 2.7 0 1 0 5.4 0a2.7 2.7 0 1 0 -5.4 0M467.4 112.8a2.7 2.7 0 1 0 5.4 0a2.7 2.7 0 1 0 -5.4 0M467.7 117.6a2.7 2.7 0 1 0 5.4 0a2.7 2.7 0 1 0 -5.4 0M468.6 120.2a2.7 2.7 0 1 0 5.4 0a2.7 2.7 0 1 0 -5.4 0M469.2 109.8a2.7 2.7 0 1 0 5.4 0a2.7 2.7 0 1 0 -5.4 0M472.3 106.1a2.7 2.7 0 1 0 5.4 0a2.7 2.7 0 1 0 -5.4 0M472.8 106a2.7 2.7 0 1 0 5.4 0a2.7 2.7 0 1 0 -5.4 0M473.9 114.5a2.7 2.7 0 1 0 5.4 0a2.7 2.7 0 1 0 -5.4 0M474 121.8a2.7 2.7 0 1 0 5.4 0a2.7 2.7 0 1 0 -5.4 0M474.7 108.6a2.7 2.7 0 1 0 5.4 0a2.7 2.7 0 1 0 -5.4 0M475.6 114.7a2.7 2.7 0 1 0 5.4 0a2.7 2.7 0 1 0 -5.4 0M475.8 108.8a2.7 2.7 0 1 0 5.4 0a2.7 2.7 0 1 0 -5.4 0M476.1 115.9a2.7 2.7 0 1 0 5.4 0a2.7 2.7 0 1 0 -5.4 0M477.3 102.1a2.7 2.7 0 1 0 5.4 0a2.7 2.7 0 1 0 -5.4 0M478.8 112.8a2.7 2.7 0 1 0 5.4 0a2.7 2.7 0 1 0 -5.4 0M479.2 102.1a2.7 2.7 0 1 0 5.4 0a2.7 2.7 0 1 0 -5.4 0M479.2 104.6a2.7 2.7 0 1 0 5.4 0a2.7 2.7 0 1 0 -5.4 0M479.3 111.1a2.7 2.7 0 1 0 5.4 0a2.7 2.7 0 1 0 -5.4 0M480.3 107.5a2.7 2.7 0 1 0 5.4 0a2.7 2.7 0 1 0 -5.4 0M480.4 108.4a2.7 2.7 0 1 0 5.4 0a2.7 2.7 0 1 0 -5.4 0M480.4 111.6a2.7 2.7 0 1 0 5.4 0a2.7 2.7 0 1 0 -5.4 0M481.4 109.4a2.7 2.7 0 1 0 5.4 0a2.7 2.7 0 1 0 -5.4 0M482 116.2a2.7 2.7 0 1 0 5.4 0a2.7 2.7 0 1 0 -5.4 0M482.2 112a2.7 2.7 0 1 0 5.4 0a2.7 2.7 0 1 0 -5.4 0M484.1 102.4a2.7 2.7 0 1 0 5.4 0a2.7 2.7 0 1 0 -5.4 0M484.1 106.6a2.7 2.7 0 1 0 5.4 0a2.7 2.7 0 1 0 -5.4 0M486.3 103a2.7 2.7 0 1 0 5.4 0a2.7 2.7 0 1 0 -5.4 0M487.3 103.4a2.7 2.7 0 1 0 5.4 0a2.7 2.7 0 1 0 -5.4 0M487.7 115.3a2.7 2.7 0 1 0 5.4 0a2.7 2.7 0 1 0 -5.4 0M488.5 100.9a2.7 2.7 0 1 0 5.4 0a2.7 2.7 0 1 0 -5.4 0M489.4 111.9a2.7 2.7 0 1 0 5.4 0a2.7 2.7 0 1 0 -5.4 0M490.7 112.7a2.7 2.7 0 1 0 5.4 0a2.7 2.7 0 1 0 -5.4 0M491.9 119.1a2.7 2.7 0 1 0 5.4 0a2.7 2.7 0 1 0 -5.4 0M494.3 103.7a2.7 2.7 0 1 0 5.4 0a2.7 2.7 0 1 0 -5.4 0M496 104.9a2.7 2.7 0 1 0 5.4 0a2.7 2.7 0 1 0 -5.4 0M496 105.1a2.7 2.7 0 1 0 5.4 0a2.7 2.7 0 1 0 -5.4 0M497.9 101.4a2.7 2.7 0 1 0 5.4 0a2.7 2.7 0 1 0 -5.4 0M498.3 113.3a2.7 2.7 0 1 0 5.4 0a2.7 2.7 0 1 0 -5.4 0M498.4 114.3a2.7 2.7 0 1 0 5.4 0a2.7 2.7 0 1 0 -5.4 0M500.3 91.1a2.7 2.7 0 1 0 5.4 0a2.7 2.7 0 1 0 -5.4 0M500.6 102a2.7 2.7 0 1 0 5.4 0a2.7 2.7 0 1 0 -5.4 0M501.2 110.5a2.7 2.7 0 1 0 5.4 0a2.7 2.7 0 1 0 -5.4 0M502.3 98.5a2.7 2.7 0 1 0 5.4 0a2.7 2.7 0 1 0 -5.4 0M503.6 100.8a2.7 2.7 0 1 0 5.4 0a2.7 2.7 0 1 0 -5.4 0M504.5 105.1a2.7 2.7 0 1 0 5.4 0a2.7 2.7 0 1 0 -5.4 0M504.5 104.8a2.7 2.7 0 1 0 5.4 0a2.7 2.7 0 1 0 -5.4 0M505.8 104.3a2.7 2.7 0 1 0 5.4 0a2.7 2.7 0 1 0 -5.4 0M505.9 104.6a2.7 2.7 0 1 0 5.4 0a2.7 2.7 0 1 0 -5.4 0M506.2 115.5a2.7 2.7 0 1 0 5.4 0a2.7 2.7 0 1 0 -5.4 0M507.2 93a2.7 2.7 0 1 0 5.4 0a2.7 2.7 0 1 0 -5.4 0M511.2 104.7a2.7 2.7 0 1 0 5.4 0a2.7 2.7 0 1 0 -5.4 0M512.8 101.8a2.7 2.7 0 1 0 5.4 0a2.7 2.7 0 1 0 -5.4 0M513.9 109.8a2.7 2.7 0 1 0 5.4 0a2.7 2.7 0 1 0 -5.4 0M514.1 106.1a2.7 2.7 0 1 0 5.4 0a2.7 2.7 0 1 0 -5.4 0M514.5 111.4a2.7 2.7 0 1 0 5.4 0a2.7 2.7 0 1 0 -5.4 0M515.2 109a2.7 2.7 0 1 0 5.4 0a2.7 2.7 0 1 0 -5.4 0M516 122a2.7 2.7 0 1 0 5.4 0a2.7 2.7 0 1 0 -5.4 0M521 104.1a2.7 2.7 0 1 0 5.4 0a2.7 2.7 0 1 0 -5.4 0M521.3 108.9a2.7 2.7 0 1 0 5.4 0a2.7 2.7 0 1 0 -5.4 0M521.4 116.4a2.7 2.7 0 1 0 5.4 0a2.7 2.7 0 1 0 -5.4 0M521.6 109.6a2.7 2.7 0 1 0 5.4 0a2.7 2.7 0 1 0 -5.4 0M521.7 112.6a2.7 2.7 0 1 0 5.4 0a2.7 2.7 0 1 0 -5.4 0M522.3 103.6a2.7 2.7 0 1 0 5.4 0a2.7 2.7 0 1 0 -5.4 0M524.3 117.3a2.7 2.7 0 1 0 5.4 0a2.7 2.7 0 1 0 -5.4 0M524.7 113a2.7 2.7 0 1 0 5.4 0a2.7 2.7 0 1 0 -5.4 0M525.9 117.7a2.7 2.7 0 1 0 5.4 0a2.7 2.7 0 1 0 -5.4 0M526.2 109.7a2.7 2.7 0 1 0 5.4 0a2.7 2.7 0 1 0 -5.4 0M526.7 112.3a2.7 2.7 0 1 0 5.4 0a2.7 2.7 0 1 0 -5.4 0M529.2 113a2.7 2.7 0 1 0 5.4 0a2.7 2.7 0 1 0 -5.4 0M529.7 127.4a2.7 2.7 0 1 0 5.4 0a2.7 2.7 0 1 0 -5.4 0M530.4 109.5a2.7 2.7 0 1 0 5.4 0a2.7 2.7 0 1 0 -5.4 0M530.5 121.6a2.7 2.7 0 1 0 5.4 0a2.7 2.7 0 1 0 -5.4 0M530.5 120.7a2.7 2.7 0 1 0 5.4 0a2.7 2.7 0 1 0 -5.4 0M530.7 126.4a2.7 2.7 0 1 0 5.4 0a2.7 2.7 0 1 0 -5.4 0M531.8 122.3a2.7 2.7 0 1 0 5.4 0a2.7 2.7 0 1 0 -5.4 0M532.9 116.6a2.7 2.7 0 1 0 5.4 0a2.7 2.7 0 1 0 -5.4 0M533 125.1a2.7 2.7 0 1 0 5.4 0a2.7 2.7 0 1 0 -5.4 0M533.3 113.3a2.7 2.7 0 1 0 5.4 0a2.7 2.7 0 1 0 -5.4 0M533.9 129.1a2.7 2.7 0 1 0 5.4 0a2.7 2.7 0 1 0 -5.4 0M534 123a2.7 2.7 0 1 0 5.4 0a2.7 2.7 0 1 0 -5.4 0M534 119.5a2.7 2.7 0 1 0 5.4 0a2.7 2.7 0 1 0 -5.4 0M535.9 123.3a2.7 2.7 0 1 0 5.4 0a2.7 2.7 0 1 0 -5.4 0M536.3 129.6a2.7 2.7 0 1 0 5.4 0a2.7 2.7 0 1 0 -5.4 0M537 118.4a2.7 2.7 0 1 0 5.4 0a2.7 2.7 0 1 0 -5.4 0M537.6 137.3a2.7 2.7 0 1 0 5.4 0a2.7 2.7 0 1 0 -5.4 0M537.9 124.7a2.7 2.7 0 1 0 5.4 0a2.7 2.7 0 1 0 -5.4 0M538 136.8a2.7 2.7 0 1 0 5.4 0a2.7 2.7 0 1 0 -5.4 0M538.1 129.6a2.7 2.7 0 1 0 5.4 0a2.7 2.7 0 1 0 -5.4 0M538.4 139.4a2.7 2.7 0 1 0 5.4 0a2.7 2.7 0 1 0 -5.4 0M539.2 123.5a2.7 2.7 0 1 0 5.4 0a2.7 2.7 0 1 0 -5.4 0M540.1 135.8a2.7 2.7 0 1 0 5.4 0a2.7 2.7 0 1 0 -5.4 0M540.3 131.1a2.7 2.7 0 1 0 5.4 0a2.7 2.7 0 1 0 -5.4 0M540.5 128.2a2.7 2.7 0 1 0 5.4 0a2.7 2.7 0 1 0 -5.4 0M541.4 137.1a2.7 2.7 0 1 0 5.4 0a2.7 2.7 0 1 0 -5.4 0M541.5 131.5a2.7 2.7 0 1 0 5.4 0a2.7 2.7 0 1 0 -5.4 0M541.8 129.2a2.7 2.7 0 1 0 5.4 0a2.7 2.7 0 1 0 -5.4 0M542.2 132.4a2.7 2.7 0 1 0 5.4 0a2.7 2.7 0 1 0 -5.4 0M542.4 129.7a2.7 2.7 0 1 0 5.4 0a2.7 2.7 0 1 0 -5.4 0M542.9 133.2a2.7 2.7 0 1 0 5.4 0a2.7 2.7 0 1 0 -5.4 0M543 134.2a2.7 2.7 0 1 0 5.4 0a2.7 2.7 0 1 0 -5.4 0M546.3 144.1a2.7 2.7 0 1 0 5.4 0a2.7 2.7 0 1 0 -5.4 0M546.4 138.1a2.7 2.7 0 1 0 5.4 0a2.7 2.7 0 1 0 -5.4 0M546.5 134.7a2.7 2.7 0 1 0 5.4 0a2.7 2.7 0 1 0 -5.4 0M547.1 143.4a2.7 2.7 0 1 0 5.4 0a2.7 2.7 0 1 0 -5.4 0M547.2 137.7a2.7 2.7 0 1 0 5.4 0a2.7 2.7 0 1 0 -5.4 0M547.5 135a2.7 2.7 0 1 0 5.4 0a2.7 2.7 0 1 0 -5.4 0M548.8 135.5a2.7 2.7 0 1 0 5.4 0a2.7 2.7 0 1 0 -5.4 0M548.8 150.8a2.7 2.7 0 1 0 5.4 0a2.7 2.7 0 1 0 -5.4 0M549.7 142.3a2.7 2.7 0 1 0 5.4 0a2.7 2.7 0 1 0 -5.4 0M549.8 151.4a2.7 2.7 0 1 0 5.4 0a2.7 2.7 0 1 0 -5.4 0M552.6 142a2.7 2.7 0 1 0 5.4 0a2.7 2.7 0 1 0 -5.4 0M553.3 142.6a2.7 2.7 0 1 0 5.4 0a2.7 2.7 0 1 0 -5.4 0M553.5 156.9a2.7 2.7 0 1 0 5.4 0a2.7 2.7 0 1 0 -5.4 0M555.2 149.4a2.7 2.7 0 1 0 5.4 0a2.7 2.7 0 1 0 -5.4 0M555.3 149.9a2.7 2.7 0 1 0 5.4 0a2.7 2.7 0 1 0 -5.4 0M555.6 150.2a2.7 2.7 0 1 0 5.4 0a2.7 2.7 0 1 0 -5.4 0M556.3 147.1a2.7 2.7 0 1 0 5.4 0a2.7 2.7 0 1 0 -5.4 0M556.5 157.6a2.7 2.7 0 1 0 5.4 0a2.7 2.7 0 1 0 -5.4 0M557.5 148a2.7 2.7 0 1 0 5.4 0a2.7 2.7 0 1 0 -5.4 0M558.3 158.9a2.7 2.7 0 1 0 5.4 0a2.7 2.7 0 1 0 -5.4 0M558.7 150.3a2.7 2.7 0 1 0 5.4 0a2.7 2.7 0 1 0 -5.4 0M559.8 170.1a2.7 2.7 0 1 0 5.4 0a2.7 2.7 0 1 0 -5.4 0M560.2 161.3a2.7 2.7 0 1 0 5.4 0a2.7 2.7 0 1 0 -5.4 0M560.3 163.4a2.7 2.7 0 1 0 5.4 0a2.7 2.7 0 1 0 -5.4 0M560.4 149.7a2.7 2.7 0 1 0 5.4 0a2.7 2.7 0 1 0 -5.4 0M562.4 162.5a2.7 2.7 0 1 0 5.4 0a2.7 2.7 0 1 0 -5.4 0M562.7 158.1a2.7 2.7 0 1 0 5.4 0a2.7 2.7 0 1 0 -5.4 0M563.8 158.5a2.7 2.7 0 1 0 5.4 0a2.7 2.7 0 1 0 -5.4 0M564 158.9a2.7 2.7 0 1 0 5.4 0a2.7 2.7 0 1 0 -5.4 0M564 167a2.7 2.7 0 1 0 5.4 0a2.7 2.7 0 1 0 -5.4 0M564.9 164.4a2.7 2.7 0 1 0 5.4 0a2.7 2.7 0 1 0 -5.4 0M565.5 162.7a2.7 2.7 0 1 0 5.4 0a2.7 2.7 0 1 0 -5.4 0M566.1 163.1a2.7 2.7 0 1 0 5.4 0a2.7 2.7 0 1 0 -5.4 0M566.2 163a2.7 2.7 0 1 0 5.4 0a2.7 2.7 0 1 0 -5.4 0M567.4 165.2a2.7 2.7 0 1 0 5.4 0a2.7 2.7 0 1 0 -5.4 0M567.4 166.6a2.7 2.7 0 1 0 5.4 0a2.7 2.7 0 1 0 -5.4 0M567.8 163a2.7 2.7 0 1 0 5.4 0a2.7 2.7 0 1 0 -5.4 0M568 164.5a2.7 2.7 0 1 0 5.4 0a2.7 2.7 0 1 0 -5.4 0M569.1 159.9a2.7 2.7 0 1 0 5.4 0a2.7 2.7 0 1 0 -5.4 0M570.9 172.9a2.7 2.7 0 1 0 5.4 0a2.7 2.7 0 1 0 -5.4 0M571 176a2.7 2.7 0 1 0 5.4 0a2.7 2.7 0 1 0 -5.4 0M571.4 171.6a2.7 2.7 0 1 0 5.4 0a2.7 2.7 0 1 0 -5.4 0M571.8 181a2.7 2.7 0 1 0 5.4 0a2.7 2.7 0 1 0 -5.4 0M572.6 172.3a2.7 2.7 0 1 0 5.4 0a2.7 2.7 0 1 0 -5.4 0M572.8 176.3a2.7 2.7 0 1 0 5.4 0a2.7 2.7 0 1 0 -5.4 0M573 181.9a2.7 2.7 0 1 0 5.4 0a2.7 2.7 0 1 0 -5.4 0M573.1 177.7a2.7 2.7 0 1 0 5.4 0a2.7 2.7 0 1 0 -5.4 0M573.2 173.1a2.7 2.7 0 1 0 5.4 0a2.7 2.7 0 1 0 -5.4 0M573.8 179.4a2.7 2.7 0 1 0 5.4 0a2.7 2.7 0 1 0 -5.4 0M573.9 176.1a2.7 2.7 0 1 0 5.4 0a2.7 2.7 0 1 0 -5.4 0M574.4 183.8a2.7 2.7 0 1 0 5.4 0a2.7 2.7 0 1 0 -5.4 0M574.7 182.7a2.7 2.7 0 1 0 5.4 0a2.7 2.7 0 1 0 -5.4 0M575.7 179.7a2.7 2.7 0 1 0 5.4 0a2.7 2.7 0 1 0 -5.4 0M575.7 183.2a2.7 2.7 0 1 0 5.4 0a2.7 2.7 0 1 0 -5.4 0M575.8 188.8a2.7 2.7 0 1 0 5.4 0a2.7 2.7 0 1 0 -5.4 0M576.2 186.8a2.7 2.7 0 1 0 5.4 0a2.7 2.7 0 1 0 -5.4 0" fill="#e77589" stroke="#e06a80" stroke-width="0.6"/>
<path d="M337.4 145.3V159.2M336 145.3h2.8M336 159.2h2.8M338.2 145V156.9M336.8 145h2.8M336.8 156.9h2.8M338.8 149.4V157.8M337.4 149.4h2.8M337.4 157.8h2.8M340.4 144.4V151.8M339 144.4h2.8M339 151.8h2.8M343.5 142.3V150.1M342.1 142.3h2.8M342.1 150.1h2.8M343.7 145.9V158.5M342.3 145.9h2.8M342.3 158.5h2.8M344.2 144.7V158.2M342.8 144.7h2.8M342.8 158.2h2.8M347.1 144.2V151.9M345.7 144.2h2.8M345.7 151.9h2.8M347.1 155.6V165.5M345.7 155.6h2.8M345.7 165.5h2.8M347.5 150.4V157.5M346.1 150.4h2.8M346.1 157.5h2.8M347.9 144.1V155.1M346.5 144.1h2.8M346.5 155.1h2.8M348.7 150.5V158.2M347.3 150.5h2.8M347.3 158.2h2.8M351 149.8V159.1M349.6 149.8h2.8M349.6 159.1h2.8M351.2 146.5V155.2M349.8 146.5h2.8M349.8 155.2h2.8M351.3 145.4V157.5M349.9 145.4h2.8M349.9 157.5h2.8M351.8 141.6V148.7M350.4 141.6h2.8M350.4 148.7h2.8M353 148.2V158.3M351.6 148.2h2.8M351.6 158.3h2.8M355.1 153.9V165.4M353.7 153.9h2.8M353.7 165.4h2.8M356.3 152.2V161.3M354.9 152.2h2.8M354.9 161.3h2.8M356.6 152V160.7M355.2 152h2.8M355.2 160.7h2.8M357.2 147V153.1M355.8 147h2.8M355.8 153.1h2.8M357.4 144.7V151.6M356 144.7h2.8M356 151.6h2.8M358.5 152V159.4M357.1 152h2.8M357.1 159.4h2.8M358.7 149.8V157.1M357.3 149.8h2.8M357.3 157.1h2.8M358.7 146.2V156.9M357.3 146.2h2.8M357.3 156.9h2.8M358.9 145.7V156.5M357.5 145.7h2.8M357.5 156.5h2.8M359.3 151.2V160.7M357.9 151.2h2.8M357.9 160.7h2.8M361.3 150.1V159.3M359.9 150.1h2.8M359.9 159.3h2.8M361.3 143.6V157.3M359.9 143.6h2.8M359.9 157.3h2.8M361.6 146V157.7M360.2 146h2.8M360.2 157.7h2.8M362.3 139.3V152.4M360.9 139.3h2.8M360.9 152.4h2.8M363.5 142.5V153M362.1 142.5h2.8M362.1 153h2.8M364 149.8V159.1M362.6 149.8h2.8M362.6 159.1h2.8M365.5 144.3V156.7M364.1 144.3h2.8M364.1 156.7h2.8M366.3 143.5V154.3M364.9 143.5h2.8M364.9 154.3h2.8M370.3 150.1V156.3M368.9 150.1h2.8M368.9 156.3h2.8M370.9 150.1V163.9M369.5 150.1h2.8M369.5 163.9h2.8M371.2 144.1V153.7M369.8 144.1h2.8M369.8 153.7h2.8M372 145.5V156.3M370.6 145.5h2.8M370.6 156.3h2.8M372.1 146.3V156M370.7 146.3h2.8M370.7 156h2.8M374 156.4V166.7M372.6 156.4h2.8M372.6 166.7h2.8M374.7 151.5V160.5M373.3 151.5h2.8M373.3 160.5h2.8M377.3 148.7V157.5M375.9 148.7h2.8M375.9 157.5h2.8M378.1 140.3V152.8M376.7 140.3h2.8M376.7 152.8h2.8M378.8 149V160.9M377.4 149h2.8M377.4 160.9h2.8M379.1 148.1V160.3M377.7 148.1h2.8M377.7 160.3h2.8M379.1 147.2V155.4M377.7 147.2h2.8M377.7 155.4h2.8M379.9 143.2V155.1M378.5 143.2h2.8M378.5 155.1h2.8M380.1 144.2V156.3M378.7 144.2h2.8M378.7 156.3h2.8M380.1 138.7V152.6M378.7 138.7h2.8M378.7 152.6h2.8M380.7 144.4V156.6M379.3 144.4h2.8M379.3 156.6h2.8M381.4 145.6V154.9M380 145.6h2.8M380 154.9h2.8M381.5 143.4V153.5M380.1 143.4h2.8M380.1 153.5h2.8M382.1 146.4V155M380.7 146.4h2.8M380.7 155h2.8M382.3 142.8V149M380.9 142.8h2.8M380.9 149h2.8M383 152.6V160M381.6 152.6h2.8M381.6 160h2.8M386.4 145.7V156.7M385 145.7h2.8M385 156.7h2.8M387.3 142.2V152.4M385.9 142.2h2.8M385.9 152.4h2.8M387.6 150.4V159.1M386.2 150.4h2.8M386.2 159.1h2.8M388.3 148.5V159.4M386.9 148.5h2.8M386.9 159.4h2.8M388.9 145V154.7M387.5 145h2.8M387.5 154.7h2.8M394.4 142V151M393 142h2.8M393 151h2.8M396.2 146.3V156.3M394.8 146.3h2.8M394.8 156.3h2.8M396.3 149.3V157.3M394.9 149.3h2.8M394.9 157.3h2.8M397.7 149.1V158.8M396.3 149.1h2.8M396.3 158.8h2.8M399.4 149.8V160.1M398 149.8h2.8M398 160.1h2.8M401.2 151.1V158.2M399.8 151.1h2.8M399.8 158.2h2.8M401.6 141.5V149.8M400.2 141.5h2.8M400.2 149.8h2.8M401.9 145.2V158.3M400.5 145.2h2.8M400.5 158.3h2.8M402.3 138.7V149.5M400.9 138.7h2.8M400.9 149.5h2.8M405.6 150.5V159.2M404.2 150.5h2.8M404.2 159.2h2.8M406.6 149.5V155.8M405.2 149.5h2.8M405.2 155.8h2.8M406.8 150.6V158.8M405.4 150.6h2.8M405.4 158.8h2.8M407.2 147.8V154.6M405.8 147.8h2.8M405.8 154.6h2.8M407.8 144.2V157.8M406.4 144.2h2.8M406.4 157.8h2.8M407.9 143.9V154M406.5 143.9h2.8M406.5 154h2.8M408.7 137.1V143.5M407.3 137.1h2.8M407.3 143.5h2.8M408.9 144.9V155.5M407.5 144.9h2.8M407.5 155.5h2.8M409.2 155.6V166.1M407.8 155.6h2.8M407.8 166.1h2.8M409.3 151.3V160.5M407.9 151.3h2.8M407.9 160.5h2.8M409.3 144.7V155.5M407.9 144.7h2.8M407.9 155.5h2.8M409.7 145.8V158.6M408.3 145.8h2.8M408.3 158.6h2.8M410.1 148.9V156.3M408.7 148.9h2.8M408.7 156.3h2.8M411.6 145.1V152.1M410.2 145.1h2.8M410.2 152.1h2.8M411.9 145.3V156.3M410.5 145.3h2.8M410.5 156.3h2.8M413.2 146.9V157.3M411.8 146.9h2.8M411.8 157.3h2.8M413.6 142.7V155M412.2 142.7h2.8M412.2 155h2.8M413.8 146.6V158.4M412.4 146.6h2.8M412.4 158.4h2.8M415.3 148.9V161.9M413.9 148.9h2.8M413.9 161.9h2.8M415.9 147.2V160.4M414.5 147.2h2.8M414.5 160.4h2.8M416.2 145.9V157.5M414.8 145.9h2.8M414.8 157.5h2.8M418.7 145.3V154.3M417.3 145.3h2.8M417.3 154.3h2.8M419.6 148.9V157.4M418.2 148.9h2.8M418.2 157.4h2.8M420.9 144.8V151.7M419.5 144.8h2.8M419.5 151.7h2.8M421.1 144.3V151.4M419.7 144.3h2.8M419.7 151.4h2.8M424.7 148.3V161.4M423.3 148.3h2.8M423.3 161.4h2.8M425.3 145.5V151.6M423.9 145.5h2.8M423.9 151.6h2.8M427.3 138.6V150.7M425.9 138.6h2.8M425.9 150.7h2.8M427.7 147.7V158.3M426.3 147.7h2.8M426.3 158.3h2.8M428.5 148.4V156.4M427.1 148.4h2.8M427.1 156.4h2.8M429.7 150.6V157.1M428.3 150.6h2.8M428.3 157.1h2.8M433 144V153.7M431.6 144h2.8M431.6 153.7h2.8M434.1 147.4V159.6M432.7 147.4h2.8M432.7 159.6h2.8M434.1 144.4V152.8M432.7 144.4h2.8M432.7 152.8h2.8M435.8 141.9V148.3M434.4 141.9h2.8M434.4 148.3h2.8M437 143.5V152.8M435.6 143.5h2.8M435.6 152.8h2.8M437.8 143.6V155.8M436.4 143.6h2.8M436.4 155.8h2.8M437.9 139.4V149.7M436.5 139.4h2.8M436.5 149.7h2.8M439 141.3V154.5M437.6 141.3h2.8M437.6 154.5h2.8M444 144.2V153.6M442.6 144.2h2.8M442.6 153.6h2.8M444.8 141.3V151.1M443.4 141.3h2.8M443.4 151.1h2.8M447.9 140.7V154.6M446.5 140.7h2.8M446.5 154.6h2.8M449 141.3V152.9M447.6 141.3h2.8M447.6 152.9h2.8M450.2 139.9V148M448.8 139.9h2.8M448.8 148h2.8M450.2 141.5V155.1M448.8 141.5h2.8M448.8 155.1h2.8M451 145V153.1M449.6 145h2.8M449.6 153.1h2.8M451.5 136.1V142.2M450.1 136.1h2.8M450.1 142.2h2.8M452.2 138.9V149.4M450.8 138.9h2.8M450.8 149.4h2.8M454.1 145.3V153.7M452.7 145.3h2.8M452.7 153.7h2.8M456.5 142.7V152.6M455.1 142.7h2.8M455.1 152.6h2.8M457.2 134.6V142.6M455.8 134.6h2.8M455.8 142.6h2.8M458.1 140.9V152.1M456.7 140.9h2.8M456.7 152.1h2.8M458.7 145.9V155.9M457.3 145.9h2.8M457.3 155.9h2.8M458.8 144.5V153.2M457.4 144.5h2.8M457.4 153.2h2.8M459.4 143V153.6M458 143h2.8M458 153.6h2.8M460.3 139.3V150.4M458.9 139.3h2.8M458.9 150.4h2.8M461.6 139V151.6M460.2 139h2.8M460.2 151.6h2.8M465.5 134.4V144.9M464.1 134.4h2.8M464.1 144.9h2.8M466.2 140.7V147.2M464.8 140.7h2.8M464.8 147.2h2.8M466.6 147.3V157.9M465.2 147.3h2.8M465.2 157.9h2.8M467.1 140.4V146.8M465.7 140.4h2.8M465.7 146.8h2.8M467.8 135.2V144.8M466.4 135.2h2.8M466.4 144.8h2.8M468.2 139.4V151.4M466.8 139.4h2.8M466.8 151.4h2.8M468.5 131.8V139.4M467.1 131.8h2.8M467.1 139.4h2.8M468.8 147.6V156.3M467.4 147.6h2.8M467.4 156.3h2.8M468.8 139.2V152.1M467.4 139.2h2.8M467.4 152.1h2.8M469 138.3V146.1M467.6 138.3h2.8M467.6 146.1h2.8M469.4 138.1V145.3M468 138.1h2.8M468 145.3h2.8M469.8 133.7V145.4M468.4 133.7h2.8M468.4 145.4h2.8M470.9 138.1V148.2M469.5 138.1h2.8M469.5 148.2h2.8M472.3 138V146.9M470.9 138h2.8M470.9 146.9h2.8M473.3 131.2V141M471.9 131.2h2.8M471.9 141h2.8M473.6 141.2V150.2M472.2 141.2h2.8M472.2 150.2h2.8M474.1 136.5V144.3M472.7 136.5h2.8M472.7 144.3h2.8M474.7 132.2V142.7M473.3 132.2h2.8M473.3 142.7h2.8M475.5 141.8V148M474.1 141.8h2.8M474.1 148h2.8M476.1 138.8V149.2M474.7 138.8h2.8M474.7 149.2h2.8M479.1 133.9V142M477.7 133.9h2.8M477.7 142h2.8M479.3 133.9V141.2M477.9 133.9h2.8M477.9 141.2h2.8M480.4 138.3V149.3M479 138.3h2.8M479 149.3h2.8M481.5 133.2V142.2M480.1 133.2h2.8M480.1 142.2h2.8M481.7 135.9V144M480.3 135.9h2.8M480.3 144h2.8M482.9 137.8V150.1M481.5 137.8h2.8M481.5 150.1h2.8M484.1 129.1V138.2M482.7 129.1h2.8M482.7 138.2h2.8M486.2 128.3V135.2M484.8 128.3h2.8M484.8 135.2h2.8M486.7 130.5V137.6M485.3 130.5h2.8M485.3 137.6h2.8M486.7 131V139.2M485.3 131h2.8M485.3 139.2h2.8M486.7 132.6V142.2M485.3 132.6h2.8M485.3 142.2h2.8M486.9 135.2V146.8M485.5 135.2h2.8M485.5 146.8h2.8M488.6 129.2V140.8M487.2 129.2h2.8M487.2 140.8h2.8M488.7 138.8V147.3M487.3 138.8h2.8M487.3 147.3h2.8M488.7 133.4V141.5M487.3 133.4h2.8M487.3 141.5h2.8M489.7 122.1V135.4M488.3 122.1h2.8M488.3 135.4h2.8M489.8 131.4V140.8M488.4 131.4h2.8M488.4 140.8h2.8M489.9 134.6V143.2M488.5 134.6h2.8M488.5 143.2h2.8M490.4 134.5V145.9M489 134.5h2.8M489 145.9h2.8M491.3 129.3V136.7M489.9 129.3h2.8M489.9 136.7h2.8M492.7 131.8V138.1M491.3 131.8h2.8M491.3 138.1h2.8M494.4 140V146.8M493 140h2.8M493 146.8h2.8M494.6 132.3V138.4M493.2 132.3h2.8M493.2 138.4h2.8M495.4 125.6V136.7M494 125.6h2.8M494 136.7h2.8M496.8 121.7V135.5M495.4 121.7h2.8M495.4 135.5h2.8M497.6 128V137.1M496.2 128h2.8M496.2 137.1h2.8M498.8 129.4V141.6M497.4 129.4h2.8M497.4 141.6h2.8M499.5 124.6V135M498.1 124.6h2.8M498.1 135h2.8M500.2 134.2V144M498.8 134.2h2.8M498.8 144h2.8M500.2 124.9V137.3M498.8 124.9h2.8M498.8 137.3h2.8M501.8 123.4V129.9M500.4 123.4h2.8M500.4 129.9h2.8M502 132.5V140.3M500.6 132.5h2.8M500.6 140.3h2.8M502.4 130.8V137.3M501 130.8h2.8M501 137.3h2.8M505.4 130.2V136.3M504 130.2h2.8M504 136.3h2.8M506.1 134.3V143.8M504.7 134.3h2.8M504.7 143.8h2.8M506.5 126.8V137.2M505.1 126.8h2.8M505.1 137.2h2.8M507 130.5V143.5M505.6 130.5h2.8M505.6 143.5h2.8M507.4 128.7V136.1M506 128.7h2.8M506 136.1h2.8M507.7 135.5V145.9M506.3 135.5h2.8M506.3 145.9h2.8M508.2 129.5V139.7M506.8 129.5h2.8M506.8 139.7h2.8M508.4 128.9V140.5M507 128.9h2.8M507 140.5h2.8M508.4 130.4V143.4M507 130.4h2.8M507 143.4h2.8M508.4 128.7V140M507 128.7h2.8M507 140h2.8M508.5 131.8V141M507.1 131.8h2.8M507.1 141h2.8M509.3 128.6V139.3M507.9 128.6h2.8M507.9 139.3h2.8M509.8 131.1V143.6M508.4 131.1h2.8M508.4 143.6h2.8M510.2 132V138.6M508.8 132h2.8M508.8 138.6h2.8M510.9 127.7V138.7M509.5 127.7h2.8M509.5 138.7h2.8M511.5 133.4V141.7M510.1 133.4h2.8M510.1 141.7h2.8M512.2 132.3V142.6M510.8 132.3h2.8M510.8 142.6h2.8M513.4 126.8V137.1M512 126.8h2.8M512 137.1h2.8M513.7 129.4V140.5M512.3 129.4h2.8M512.3 140.5h2.8M514.7 125.5V134.6M513.3 125.5h2.8M513.3 134.6h2.8M515 133.2V140.7M513.6 133.2h2.8M513.6 140.7h2.8M515.9 136.6V143.5M514.5 136.6h2.8M514.5 143.5h2.8M516.6 141.9V150.8M515.2 141.9h2.8M515.2 150.8h2.8M517 131.4V145.3M515.6 131.4h2.8M515.6 145.3h2.8M517.7 134.7V148.3M516.3 134.7h2.8M516.3 148.3h2.8M518.5 136.6V150.2M517.1 136.6h2.8M517.1 150.2h2.8M520 135.8V146.7M518.6 135.8h2.8M518.6 146.7h2.8M520.1 127V135.9M518.7 127h2.8M518.7 135.9h2.8M520.8 131.3V142.8M519.4 131.3h2.8M519.4 142.8h2.8M522.2 135.8V145.6M520.8 135.8h2.8M520.8 145.6h2.8M523.6 137.8V144.4M522.2 137.8h2.8M522.2 144.4h2.8M523.9 137.3V143.8M522.5 137.3h2.8M522.5 143.8h2.8M523.9 132.9V140.5M522.5 132.9h2.8M522.5 140.5h2.8M523.9 130V136M522.5 130h2.8M522.5 136h2.8M524.5 136.8V146.7M523.1 136.8h2.8M523.1 146.7h2.8M524.7 140.1V149.5M523.3 140.1h2.8M523.3 149.5h2.8M525.8 132.4V145.7M524.4 132.4h2.8M524.4 145.7h2.8M527 139V147.9M525.6 139h2.8M525.6 147.9h2.8M527.6 135.8V143.5M526.2 135.8h2.8M526.2 143.5h2.8M528.6 135.4V147.5M527.2 135.4h2.8M527.2 147.5h2.8M528.6 135.9V143.7M527.2 135.9h2.8M527.2 143.7h2.8M529.8 140.9V150.3M528.4 140.9h2.8M528.4 150.3h2.8M532.5 134.1V145.8M531.1 134.1h2.8M531.1 145.8h2.8M532.6 138.2V149.9M531.2 138.2h2.8M531.2 149.9h2.8M532.8 143.6V150.4M531.4 143.6h2.8M531.4 150.4h2.8M535.1 141.1V147.4M533.7 141.1h2.8M533.7 147.4h2.8M535.7 136.4V143.4M534.3 136.4h2.8M534.3 143.4h2.8M535.9 142.2V149.9M534.5 142.2h2.8M534.5 149.9h2.8M536.1 137.6V150.4M534.7 137.6h2.8M534.7 150.4h2.8M537.9 135.3V145.4M536.5 135.3h2.8M536.5 145.4h2.8M538.2 138.3V150.9M536.8 138.3h2.8M536.8 150.9h2.8M538.6 139.4V149.3M537.2 139.4h2.8M537.2 149.3h2.8M539.1 142.7V153.2M537.7 142.7h2.8M537.7 153.2h2.8M540.3 140.2V148.1M538.9 140.2h2.8M538.9 148.1h2.8M540.7 141.6V151.4M539.3 141.6h2.8M539.3 151.4h2.8M541.7 144.2V153.2M540.3 144.2h2.8M540.3 153.2h2.8M542.9 132.9V146.3M541.5 132.9h2.8M541.5 146.3h2.8M543.6 144.2V157.4M542.2 144.2h2.8M542.2 157.4h2.8M543.8 142.7V151.7M542.4 142.7h2.8M542.4 151.7h2.8M544.1 137.2V149.6M542.7 137.2h2.8M542.7 149.6h2.8M544.3 143.9V151.7M542.9 143.9h2.8M542.9 151.7h2.8M544.5 146.4V156.3M543.1 146.4h2.8M543.1 156.3h2.8M544.8 138.1V151.6M543.4 138.1h2.8M543.4 151.6h2.8M546.5 139.2V152.6M545.1 139.2h2.8M545.1 152.6h2.8M552.1 151.4V159.6M550.7 151.4h2.8M550.7 159.6h2.8M554.8 151.7V163M553.4 151.7h2.8M553.4 163h2.8M555.8 155.5V163.2M554.4 155.5h2.8M554.4 163.2h2.8M556.6 145.7V158.4M555.2 145.7h2.8M555.2 158.4h2.8M557 142.7V153.8M555.6 142.7h2.8M555.6 153.8h2.8M557.5 142.1V154.7M556.1 142.1h2.8M556.1 154.7h2.8M558.3 144.5V157.8M556.9 144.5h2.8M556.9 157.8h2.8M558.5 143.5V153.7M557.1 143.5h2.8M557.1 153.7h2.8M558.6 151.1V157.4M557.2 151.1h2.8M557.2 157.4h2.8M559.3 151.4V164.3M557.9 151.4h2.8M557.9 164.3h2.8M559.7 141.8V155.6M558.3 141.8h2.8M558.3 155.6h2.8M560.4 152.5V165.6M559 152.5h2.8M559 165.6h2.8M560.7 145.2V154.1M559.3 145.2h2.8M559.3 154.1h2.8M561.1 146V155.4M559.7 146h2.8M559.7 155.4h2.8M561.5 141.8V154.3M560.1 141.8h2.8M560.1 154.3h2.8M561.5 151V161.9M560.1 151h2.8M560.1 161.9h2.8M563 148.3V159M561.6 148.3h2.8M561.6 159h2.8M564.3 149.3V159.6M562.9 149.3h2.8M562.9 159.6h2.8M565.1 139.2V146.7M563.7 139.2h2.8M563.7 146.7h2.8M565.1 148.2V156.2M563.7 148.2h2.8M563.7 156.2h2.8M567.1 150.4V162.4M565.7 150.4h2.8M565.7 162.4h2.8M567.3 137.9V150.2M565.9 137.9h2.8M565.9 150.2h2.8M568.5 159.1V167.8M567.1 159.1h2.8M567.1 167.8h2.8M569.8 152.4V161.7M568.4 152.4h2.8M568.4 161.7h2.8M569.8 154.1V166.3M568.4 154.1h2.8M568.4 166.3h2.8M569.8 147.7V161.3M568.4 147.7h2.8M568.4 161.3h2.8M570.9 154.4V165M569.5 154.4h2.8M569.5 165h2.8M571.9 158.3V164.6M570.5 158.3h2.8M570.5 164.6h2.8M573 161V172.7M571.6 161h2.8M571.6 172.7h2.8M573.7 148.6V155.8M572.3 148.6h2.8M572.3 155.8h2.8M574.6 159.9V170.5M573.2 159.9h2.8M573.2 170.5h2.8M575.4 148.5V156M574 148.5h2.8M574 156h2.8M575.6 153.9V160.9M574.2 153.9h2.8M574.2 160.9h2.8M577.8 151V159.6M576.4 151h2.8M576.4 159.6h2.8M578.9 149.4V163.2M577.5 149.4h2.8M577.5 163.2h2.8M579.9 145.5V152.4M578.5 145.5h2.8M578.5 152.4h2.8M580.5 149.6V162.1M579.1 149.6h2.8M579.1 162.1h2.8M580.7 145.1V159.1M579.3 145.1h2.8M579.3 159.1h2.8M581.3 149.6V162.9M579.9 149.6h2.8M579.9 162.9h2.8M583 151.4V165.1M581.6 151.4h2.8M581.6 165.1h2.8M583.3 154V160.8M581.9 154h2.8M581.9 160.8h2.8M583.3 149.9V163.6M581.9 149.9h2.8M581.9 163.6h2.8M584.5 156.6V169.5M583.1 156.6h2.8M583.1 169.5h2.8M584.7 155.1V162.1M583.3 155.1h2.8M583.3 162.1h2.8M587.6 153.6V166M586.2 153.6h2.8M586.2 166h2.8M587.9 157.8V168M586.5 157.8h2.8M586.5 168h2.8M588 152.8V161.2M586.6 152.8h2.8M586.6 161.2h2.8M588.1 151.4V164M586.7 151.4h2.8M586.7 164h2.8M588.2 154.3V165.9M586.8 154.3h2.8M586.8 165.9h2.8M589.2 150.4V162M587.8 150.4h2.8M587.8 162h2.8M591.4 156.2V169.1M590 156.2h2.8M590 169.1h2.8M591.6 148V161.6M590.2 148h2.8M590.2 161.6h2.8M592.7 150.8V162.5M591.3 150.8h2.8M591.3 162.5h2.8M593.2 153.1V160.9M591.8 153.1h2.8M591.8 160.9h2.8M593.9 150.9V161.7M592.5 150.9h2.8M592.5 161.7h2.8M594.3 151.2V164M592.9 151.2h2.8M592.9 164h2.8M594.9 151.8V159.6M593.5 151.8h2.8M593.5 159.6h2.8M595.3 143.2V152.3M593.9 143.2h2.8M593.9 152.3h2.8M595.4 159.5V165.6M594 159.5h2.8M594 165.6h2.8M597.4 151.8V160.6M596 151.8h2.8M596 160.6h2.8M599.2 158.3V164.4M597.8 158.3h2.8M597.8 164.4h2.8M601.1 147.1V161.1M599.7 147.1h2.8M599.7 161.1h2.8M601.1 156.3V165.7M599.7 156.3h2.8M599.7 165.7h2.8M601.2 149.1V157.3M599.8 149.1h2.8M599.8 157.3h2.8M601.7 159.9V169.6M600.3 159.9h2.8M600.3 169.6h2.8M602.1 152.7V163.7M600.7 152.7h2.8M600.7 163.7h2.8M604.4 152.7V162.1M603 152.7h2.8M603 162.1h2.8M605.1 140.9V154.1M603.7 140.9h2.8M603.7 154.1h2.8M605.8 143.7V156.5M604.4 143.7h2.8M604.4 156.5h2.8M606.6 150.8V164.6M605.2 150.8h2.8M605.2 164.6h2.8M606.8 153V161.3M605.4 153h2.8M605.4 161.3h2.8M610.9 154.3V162.5M609.5 154.3h2.8M609.5 162.5h2.8M613.6 153.8V165.6M612.2 153.8h2.8M612.2 165.6h2.8M616.3 161.9V171.5M614.9 161.9h2.8M614.9 171.5h2.8M616.3 156.7V165.3M614.9 156.7h2.8M614.9 165.3h2.8M616.9 155.3V167M615.5 155.3h2.8M615.5 167h2.8M617 155.6V163.9M615.6 155.6h2.8M615.6 163.9h2.8M617.1 152.7V164.1M615.7 152.7h2.8M615.7 164.1h2.8M617.6 159.3V169.9M616.2 159.3h2.8M616.2 169.9h2.8M619.9 157.3V166.7M618.5 157.3h2.8M618.5 166.7h2.8M620.4 158V166.8M619 158h2.8M619 166.8h2.8M620.7 161.3V169.2M619.3 161.3h2.8M619.3 169.2h2.8M621 161.3V167.5M619.6 161.3h2.8M619.6 167.5h2.8M622 164.6V170.9M620.6 164.6h2.8M620.6 170.9h2.8M622.5 164.6V170.9M621.1 164.6h2.8M621.1 170.9h2.8M623.6 153.1V166M622.2 153.1h2.8M622.2 166h2.8M623.9 155.8V167.8M622.5 155.8h2.8M622.5 167.8h2.8M626.3 166.9V173M624.9 166.9h2.8M624.9 173h2.8M626.3 160.7V168M624.9 160.7h2.8M624.9 168h2.8M628.4 165.7V172.9M627 165.7h2.8M627 172.9h2.8M629.6 157.2V169.7M628.2 157.2h2.8M628.2 169.7h2.8" stroke="#8650ad" stroke-width="0.8" fill="none"/>
<path d="M334.7 152.2a2.7 2.7 0 1 0 5.4 0a2.7 2.7 0 1 0 -5.4 0M335.5 150.9a2.7 2.7 0 1 0 5.4 0a2.7 2.7 0 1 0 -5.4 0M336.1 153.6a2.7 2.7 0 1 0 5.4 0a2.7 2.7 0 1 0 -5.4 0M337.7 148.1a2.7 2.7 0 1 0 5.4 0a2.7 2.7 0 1 0 -5.4 0M340.8 146.2a2.7 2.7 0 1 0 5.4 0a2.7 2.7 0 1 0 -5.4 0M341 152.2a2.7 2.7 0 1 0 5.4 0a2.7 2.7 0 1 0 -5.4 0M341.5 151.4a2.7 2.7 0 1 0 5.4 0a2.7 2.7 0 1 0 -5.4 0M344.4 148a2.7 2.7 0 1 0 5.4 0a2.7 2.7 0 1 0 -5.4 0M344.4 160.6a2.7 2.7 0 1 0 5.4 0a2.7 2.7 0 1 0 -5.4 0M344.8 154a2.7 2.7 0 1 0 5.4 0a2.7 2.7 0 1 0 -5.4 0M345.2 149.6a2.7 2.7 0 1 0 5.4 0a2.7 2.7 0 1 0 -5.4 0M346 154.4a2.7 2.7 0 1 0 5.4 0a2.7 2.7 0 1 0 -5.4 0M348.3 154.4a2.7 2.7 0 1 0 5.4 0a2.7 2.7 0 1 0 -5.4 0M348.5 150.8a2.7 2.7 0 1 0 5.4 0a2.7 2.7 0 1 0 -5.4 0M348.6 151.4a2.7 2.7 0 1 0 5.4 0a2.7 2.7 0 1 0 -5.4 0M349.1 145.2a2.7 2.7 0 1 0 5.4 0a2.7 2.7 0 1 0 -5.4 0M350.3 153.2a2.7 2.7 0 1 0 5.4 0a2.7 2.7 0 1 0 -5.4 0M352.4 159.6a2.7 2.7 0 1 0 5.4 0a2.7 2.7 0 1 0 -5.4 0M353.6 156.7a2.7 2.7 0 1 0 5.4 0a2.7 2.7 0 1 0 -5.4 0M353.9 156.3a2.7 2.7 0 1 0 5.4 0a2.7 2.7 0 1 0 -5.4 0M354.5 150.1a2.7 2.7 0 1 0 5.4 0a2.7 2.7 0 1 0 -5.4 0M354.7 148.2a2.7 2.7 0 1 0 5.4 0a2.7 2.7 0 1 0 -5.4 0M355.8 155.7a2.7 2.7 0 1 0 5.4 0a2.7 2.7 0 1 0 -5.4 0M356 153.5a2.7 2.7 0 1 0 5.4 0a2.7 2.7 0 1 0 -5.4 0M356 151.5a2.7 2.7 0 1 0 5.4 0a2.7 2.7 0 1 0 -5.4 0M356.2 151.1a2.7 2.7 0 1 0 5.4 0a2.7 2.7 0 1 0 -5.4 0M356.6 155.9a2.7 2.7 0 1 0 5.4 0a2.7 2.7 0 1 0 -5.4 0M358.6 154.7a2.7 2.7 0 1 0 5.4 0a2.7 2.7 0 1 0 -5.4 0M358.6 150.5a2.7 2.7 0 1 0 5.4 0a2.7 2.7 0 1 0 -5.4 0M358.9 151.8a2.7 2.7 0 1 0 5.4 0a2.7 2.7 0 1 0 -5.4 0M359.6 145.8a2.7 2.7 0 1 0 5.4 0a2.7 2.7 0 1 0 -5.4 0M360.8 147.7a2.7 2.7 0 1 0 5.4 0a2.7 2.7 0 1 0 -5.4 0M361.3 154.4a2.7 2.7 0 1 0 5.4 0a2.7 2.7 0 1 0 -5.4 0M362.8 150.5a2.7 2.7 0 1 0 5.4 0a2.7 2.7 0 1 0 -5.4 0M363.6 148.9a2.7 2.7 0 1 0 5.4 0a2.7 2.7 0 1 0 -5.4 0M367.6 153.2a2.7 2.7 0 1 0 5.4 0a2.7 2.7 0 1 0 -5.4 0M368.2 157a2.7 2.7 0 1 0 5.4 0a2.7 2.7 0 1 0 -5.4 0M368.5 148.9a2.7 2.7 0 1 0 5.4 0a2.7 2.7 0 1 0 -5.4 0M369.3 150.9a2.7 2.7 0 1 0 5.4 0a2.7 2.7 0 1 0 -5.4 0M369.4 151.2a2.7 2.7 0 1 0 5.4 0a2.7 2.7 0 1 0 -5.4 0M371.3 161.5a2.7 2.7 0 1 0 5.4 0a2.7 2.7 0 1 0 -5.4 0M372 156a2.7 2.7 0 1 0 5.4 0a2.7 2.7 0 1 0 -5.4 0M374.6 153.1a2.7 2.7 0 1 0 5.4 0a2.7 2.7 0 1 0 -5.4 0M375.4 146.6a2.7 2.7 0 1 0 5.4 0a2.7 2.7 0 1 0 -5.4 0M376.1 155a2.7 2.7 0 1 0 5.4 0a2.7 2.7 0 1 0 -5.4 0M376.4 154.2a2.7 2.7 0 1 0 5.4 0a2.7 2.7 0 1 0 -5.4 0M376.4 151.3a2.7 2.7 0 1 0 5.4 0a2.7 2.7 0 1 0 -5.4 0M377.2 149.1a2.7 2.7 0 1 0 5.4 0a2.7 2.7 0 1 0 -5.4 0M377.4 150.3a2.7 2.7 0 1 0 5.4 0a2.7 2.7 0 1 0 -5.4 0M377.4 145.7a2.7 2.7 0 1 0 5.4 0a2.7 2.7 0 1 0 -5.4 0M378 150.5a2.7 2.7 0 1 0 5.4 0a2.7 2.7 0 1 0 -5.4 0M378.7 150.2a2.7 2.7 0 1 0 5.4 0a2.7 2.7 0 1 0 -5.4 0M378.8 148.5a2.7 2.7 0 1 0 5.4 0a2.7 2.7 0 1 0 -5.4 0M379.4 150.7a2.7 2.7 0 1 0 5.4 0a2.7 2.7 0 1 0 -5.4 0M379.6 145.9a2.7 2.7 0 1 0 5.4 0a2.7 2.7 0 1 0 -5.4 0M380.3 156.3a2.7 2.7 0 1 0 5.4 0a2.7 2.7 0 1 0 -5.4 0M383.7 151.2a2.7 2.7 0 1 0 5.4 0a2.7 2.7 0 1 0 -5.4 0M384.6 147.3a2.7 2.7 0 1 0 5.4 0a2.7 2.7 0 1 0 -5.4 0M384.9 154.8a2.7 2.7 0 1 0 5.4 0a2.7 2.7 0 1 0 -5.4 0M385.6 153.9a2.7 2.7 0 1 0 5.4 0a2.7 2.7 0 1 0 -5.4 0M386.2 149.9a2.7 2.7 0 1 0 5.4 0a2.7 2.7 0 1 0 -5.4 0M391.7 146.5a2.7 2.7 0 1 0 5.4 0a2.7 2.7 0 1 0 -5.4 0M393.5 151.3a2.7 2.7 0 1 0 5.4 0a2.7 2.7 0 1 0 -5.4 0M393.6 153.3a2.7 2.7 0 1 0 5.4 0a2.7 2.7 0 1 0 -5.4 0M395 153.9a2.7 2.7 0 1 0 5.4 0a2.7 2.7 0 1 0 -5.4 0M396.7 155a2.7 2.7 0 1 0 5.4 0a2.7 2.7 0 1 0 -5.4 0M398.5 154.6a2.7 2.7 0 1 0 5.4 0a2.7 2.7 0 1 0 -5.4 0M398.9 145.7a2.7 2.7 0 1 0 5.4 0a2.7 2.7 0 1 0 -5.4 0M399.2 151.8a2.7 2.7 0 1 0 5.4 0a2.7 2.7 0 1 0 -5.4 0M399.6 144.1a2.7 2.7 0 1 0 5.4 0a2.7 2.7 0 1 0 -5.4 0M402.9 154.9a2.7 2.7 0 1 0 5.4 0a2.7 2.7 0 1 0 -5.4 0M403.9 152.7a2.7 2.7 0 1 0 5.4 0a2.7 2.7 0 1 0 -5.4 0M404.1 154.7a2.7 2.7 0 1 0 5.4 0a2.7 2.7 0 1 0 -5.4 0M404.5 151.2a2.7 2.7 0 1 0 5.4 0a2.7 2.7 0 1 0 -5.4 0M405.1 151a2.7 2.7 0 1 0 5.4 0a2.7 2.7 0 1 0 -5.4 0M405.2 148.9a2.7 2.7 0 1 0 5.4 0a2.7 2.7 0 1 0 -5.4 0M406 140.3a2.7 2.7 0 1 0 5.4 0a2.7 2.7 0 1 0 -5.4 0M406.2 150.2a2.7 2.7 0 1 0 5.4 0a2.7 2.7 0 1 0 -5.4 0M406.5 160.8a2.7 2.7 0 1 0 5.4 0a2.7 2.7 0 1 0 -5.4 0M406.6 155.9a2.7 2.7 0 1 0 5.4 0a2.7 2.7 0 1 0 -5.4 0M406.6 150.1a2.7 2.7 0 1 0 5.4 0a2.7 2.7 0 1 0 -5.4 0M407 152.2a2.7 2.7 0 1 0 5.4 0a2.7 2.7 0 1 0 -5.4 0M407.4 152.6a2.7 2.7 0 1 0 5.4 0a2.7 2.7 0 1 0 -5.4 0M408.9 148.6a2.7 2.7 0 1 0 5.4 0a2.7 2.7 0 1 0 -5.4 0M409.2 150.8a2.7 2.7 0 1 0 5.4 0a2.7 2.7 0 1 0 -5.4 0M410.5 152.1a2.7 2.7 0 1 0 5.4 0a2.7 2.7 0 1 0 -5.4 0M410.9 148.8a2.7 2.7 0 1 0 5.4 0a2.7 2.7 0 1 0 -5.4 0M411.1 152.5a2.7 2.7 0 1 0 5.4 0a2.7 2.7 0 1 0 -5.4 0M412.6 155.4a2.7 2.7 0 1 0 5.4 0a2.7 2.7 0 1 0 -5.4 0M413.2 153.8a2.7 2.7 0 1 0 5.4 0a2.7 2.7 0 1 0 -5.4 0M413.5 151.7a2.7 2.7 0 1 0 5.4 0a2.7 2.7 0 1 0 -5.4 0M416 149.8a2.7 2.7 0 1 0 5.4 0a2.7 2.7 0 1 0 -5.4 0M416.9 153.2a2.7 2.7 0 1 0 5.4 0a2.7 2.7 0 1 0 -5.4 0M418.2 148.2a2.7 2.7 0 1 0 5.4 0a2.7 2.7 0 1 0 -5.4 0M418.4 147.8a2.7 2.7 0 1 0 5.4 0a2.7 2.7 0 1 0 -5.4 0M422 154.9a2.7 2.7 0 1 0 5.4 0a2.7 2.7 0 1 0 -5.4 0M422.6 148.5a2.7 2.7 0 1 0 5.4 0a2.7 2.7 0 1 0 -5.4 0M424.6 144.6a2.7 2.7 0 1 0 5.4 0a2.7 2.7 0 1 0 -5.4 0M425 153a2.7 2.7 0 1 0 5.4 0a2.7 2.7 0 1 0 -5.4 0M425.8 152.4a2.7 2.7 0 1 0 5.4 0a2.7 2.7 0 1 0 -5.4 0M427 153.9a2.7 2.7 0 1 0 5.4 0a2.7 2.7 0 1 0 -5.4 0M430.3 148.9a2.7 2.7 0 1 0 5.4 0a2.7 2.7 0 1 0 -5.4 0M431.4 153.5a2.7 2.7 0 1 0 5.4 0a2.7 2.7 0 1 0 -5.4 0M431.4 148.6a2.7 2.7 0 1 0 5.4 0a2.7 2.7 0 1 0 -5.4 0M433.1 145.1a2.7 2.7 0 1 0 5.4 0a2.7 2.7 0 1 0 -5.4 0M434.3 148.1a2.7 2.7 0 1 0 5.4 0a2.7 2.7 0 1 0 -5.4 0M435.1 149.7a2.7 2.7 0 1 0 5.4 0a2.7 2.7 0 1 0 -5.4 0M435.2 144.6a2.7 2.7 0 1 0 5.4 0a2.7 2.7 0 1 0 -5.4 0M436.3 147.9a2.7 2.7 0 1 0 5.4 0a2.7 2.7 0 1 0 -5.4 0M441.3 148.9a2.7 2.7 0 1 0 5.4 0a2.7 2.7 0 1 0 -5.4 0M442.1 146.2a2.7 2.7 0 1 0 5.4 0a2.7 2.7 0 1 0 -5.4 0M445.2 147.7a2.7 2.7 0 1 0 5.4 0a2.7 2.7 0 1 0 -5.4 0M446.3 147.1a2.7 2.7 0 1 0 5.4 0a2.7 2.7 0 1 0 -5.4 0M447.5 143.9a2.7 2.7 0 1 0 5.4 0a2.7 2.7 0 1 0 -5.4 0M447.5 148.3a2.7 2.7 0 1 0 5.4 0a2.7 2.7 0 1 0 -5.4 0M448.3 149.1a2.7 2.7 0 1 0 5.4 0a2.7 2.7 0 1 0 -5.4 0M448.8 139.2a2.7 2.7 0 1 0 5.4 0a2.7 2.7 0 1 0 -5.4 0M449.5 144.1a2.7 2.7 0 1 0 5.4 0a2.7 2.7 0 1 0 -5.4 0M451.4 149.5a2.7 2.7 0 1 0 5.4 0a2.7 2.7 0 1 0 -5.4 0M453.8 147.6a2.7 2.7 0 1 0 5.4 0a2.7 2.7 0 1 0 -5.4 0M454.5 138.6a2.7 2.7 0 1 0 5.4 0a2.7 2.7 0 1 0 -5.4 0M455.4 146.5a2.7 2.7 0 1 0 5.4 0a2.7 2.7 0 1 0 -5.4 0M456 150.9a2.7 2.7 0 1 0 5.4 0a2.7 2.7 0 1 0 -5.4 0M456.1 148.9a2.7 2.7 0 1 0 5.4 0a2.7 2.7 0 1 0 -5.4 0M456.7 148.3a2.7 2.7 0 1 0 5.4 0a2.7 2.7 0 1 0 -5.4 0M457.6 144.8a2.7 2.7 0 1 0 5.4 0a2.7 2.7 0 1 0 -5.4 0M458.9 145.3a2.7 2.7 0 1 0 5.4 0a2.7 2.7 0 1 0 -5.4 0M462.8 139.7a2.7 2.7 0 1 0 5.4 0a2.7 2.7 0 1 0 -5.4 0M463.5 144a2.7 2.7 0 1 0 5.4 0a2.7 2.7 0 1 0 -5.4 0M463.9 152.6a2.7 2.7 0 1 0 5.4 0a2.7 2.7 0 1 0 -5.4 0M464.4 143.6a2.7 2.7 0 1 0 5.4 0a2.7 2.7 0 1 0 -5.4 0M465.1 140a2.7 2.7 0 1 0 5.4 0a2.7 2.7 0 1 0 -5.4 0M465.5 145.4a2.7 2.7 0 1 0 5.4 0a2.7 2.7 0 1 0 -5.4 0M465.8 135.6a2.7 2.7 0 1 0 5.4 0a2.7 2.7 0 1 0 -5.4 0M466.1 151.9a2.7 2.7 0 1 0 5.4 0a2.7 2.7 0 1 0 -5.4 0M466.1 145.6a2.7 2.7 0 1 0 5.4 0a2.7 2.7 0 1 0 -5.4 0M466.3 142.2a2.7 2.7 0 1 0 5.4 0a2.7 2.7 0 1 0 -5.4 0M466.7 141.7a2.7 2.7 0 1 0 5.4 0a2.7 2.7 0 1 0 -5.4 0M467.1 139.5a2.7 2.7 0 1 0 5.4 0a2.7 2.7 0 1 0 -5.4 0M468.2 143.2a2.7 2.7 0 1 0 5.4 0a2.7 2.7 0 1 0 -5.4 0M469.6 142.5a2.7 2.7 0 1 0 5.4 0a2.7 2.7 0 1 0 -5.4 0M470.6 136.1a2.7 2.7 0 1 0 5.4 0a2.7 2.7 0 1 0 -5.4 0M470.9 145.7a2.7 2.7 0 1 0 5.4 0a2.7 2.7 0 1 0 -5.4 0M471.4 140.4a2.7 2.7 0 1 0 5.4 0a2.7 2.7 0 1 0 -5.4 0M472 137.4a2.7 2.7 0 1 0 5.4 0a2.7 2.7 0 1 0 -5.4 0M472.8 144.9a2.7 2.7 0 1 0 5.4 0a2.7 2.7 0 1 0 -5.4 0M473.4 144a2.7 2.7 0 1 0 5.4 0a2.7 2.7 0 1 0 -5.4 0M476.4 138a2.7 2.7 0 1 0 5.4 0a2.7 2.7 0 1 0 -5.4 0M476.6 137.6a2.7 2.7 0 1 0 5.4 0a2.7 2.7 0 1 0 -5.4 0M477.7 143.8a2.7 2.7 0 1 0 5.4 0a2.7 2.7 0 1 0 -5.4 0M478.8 137.7a2.7 2.7 0 1 0 5.4 0a2.7 2.7 0 1 0 -5.4 0M479 139.9a2.7 2.7 0 1 0 5.4 0a2.7 2.7 0 1 0 -5.4 0M480.2 143.9a2.7 2.7 0 1 0 5.4 0a2.7 2.7 0 1 0 -5.4 0M481.4 133.6a2.7 2.7 0 1 0 5.4 0a2.7 2.7 0 1 0 -5.4 0M483.5 131.7a2.7 2.7 0 1 0 5.4 0a2.7 2.7 0 1 0 -5.4 0M484 134.1a2.7 2.7 0 1 0 5.4 0a2.7 2.7 0 1 0 -5.4 0M484 135.1a2.7 2.7 0 1 0 5.4 0a2.7 2.7 0 1 0 -5.4 0M484 137.4a2.7 2.7 0 1 0 5.4 0a2.7 2.7 0 1 0 -5.4 0M484.2 141a2.7 2.7 0 1 0 5.4 0a2.7 2.7 0 1 0 -5.4 0M485.9 135a2.7 2.7 0 1 0 5.4 0a2.7 2.7 0 1 0 -5.4 0M486 143a2.7 2.7 0 1 0 5.4 0a2.7 2.7 0 1 0 -5.4 0M486 137.4a2.7 2.7 0 1 0 5.4 0a2.7 2.7 0 1 0 -5.4 0M487 128.7a2.7 2.7 0 1 0 5.4 0a2.7 2.7 0 1 0 -5.4 0M487.1 136.1a2.7 2.7 0 1 0 5.4 0a2.7 2.7 0 1 0 -5.4 0M487.2 138.9a2.7 2.7 0 1 0 5.4 0a2.7 2.7 0 1 0 -5.4 0M487.7 140.2a2.7 2.7 0 1 0 5.4 0a2.7 2.7 0 1 0 -5.4 0M488.6 133a2.7 2.7 0 1 0 5.4 0a2.7 2.7 0 1 0 -5.4 0M490 134.9a2.7 2.7 0 1 0 5.4 0a2.7 2.7 0 1 0 -5.4 0M491.7 143.4a2.7 2.7 0 1 0 5.4 0a2.7 2.7 0 1 0 -5.4 0M491.9 135.4a2.7 2.7 0 1 0 5.4 0a2.7 2.7 0 1 0 -5.4 0M492.7 131.1a2.7 2.7 0 1 0 5.4 0a2.7 2.7 0 1 0 -5.4 0M494.1 128.6a2.7 2.7 0 1 0 5.4 0a2.7 2.7 0 1 0 -5.4 0M494.9 132.6a2.7 2.7 0 1 0 5.4 0a2.7 2.7 0 1 0 -5.4 0M496.1 135.5a2.7 2.7 0 1 0 5.4 0a2.7 2.7 0 1 0 -5.4 0M496.8 129.8a2.7 2.7 0 1 0 5.4 0a2.7 2.7 0 1 0 -5.4 0M497.5 139.1a2.7 2.7 0 1 0 5.4 0a2.7 2.7 0 1 0 -5.4 0M497.5 131.1a2.7 2.7 0 1 0 5.4 0a2.7 2.7 0 1 0 -5.4 0M499.1 126.6a2.7 2.7 0 1 0 5.4 0a2.7 2.7 0 1 0 -5.4 0M499.3 136.4a2.7 2.7 0 1 0 5.4 0a2.7 2.7 0 1 0 -5.4 0M499.7 134a2.7 2.7 0 1 0 5.4 0a2.7 2.7 0 1 0 -5.4 0M502.7 133.2a2.7 2.7 0 1 0 5.4 0a2.7 2.7 0 1 0 -5.4 0M503.4 139.1a2.7 2.7 0 1 0 5.4 0a2.7 2.7 0 1 0 -5.4 0M503.8 132a2.7 2.7 0 1 0 5.4 0a2.7 2.7 0 1 0 -5.4 0M504.3 137a2.7 2.7 0 1 0 5.4 0a2.7 2.7 0 1 0 -5.4 0M504.7 132.4a2.7 2.7 0 1 0 5.4 0a2.7 2.7 0 1 0 -5.4 0M505 140.7a2.7 2.7 0 1 0 5.4 0a2.7 2.7 0 1 0 -5.4 0M505.5 134.6a2.7 2.7 0 1 0 5.4 0a2.7 2.7 0 1 0 -5.4 0M505.7 134.7a2.7 2.7 0 1 0 5.4 0a2.7 2.7 0 1 0 -5.4 0M505.7 136.9a2.7 2.7 0 1 0 5.4 0a2.7 2.7 0 1 0 -5.4 0M505.7 134.3a2.7 2.7 0 1 0 5.4 0a2.7 2.7 0 1 0 -5.4 0M505.8 136.4a2.7 2.7 0 1 0 5.4 0a2.7 2.7 0 1 0 -5.4 0M506.6 134a2.7 2.7 0 1 0 5.4 0a2.7 2.7 0 1 0 -5.4 0M507.1 137.3a2.7 2.7 0 1 0 5.4 0a2.7 2.7 0 1 0 -5.4 0M507.5 135.3a2.7 2.7 0 1 0 5.4 0a2.7 2.7 0 1 0 -5.4 0M508.2 133.2a2.7 2.7 0 1 0 5.4 0a2.7 2.7 0 1 0 -5.4 0M508.8 137.6a2.7 2.7 0 1 0 5.4 0a2.7 2.7 0 1 0 -5.4 0M509.5 137.4a2.7 2.7 0 1 0 5.4 0a2.7 2.7 0 1 0 -5.4 0M510.7 132a2.7 2.7 0 1 0 5.4 0a2.7 2.7 0 1 0 -5.4 0M511 135a2.7 2.7 0 1 0 5.4 0a2.7 2.7 0 1 0 -5.4 0M512 130.1a2.7 2.7 0 1 0 5.4 0a2.7 2.7 0 1 0 -5.4 0M512.3 136.9a2.7 2.7 0 1 0 5.4 0a2.7 2.7 0 1 0 -5.4 0M513.2 140.1a2.7 2.7 0 1 0 5.4 0a2.7 2.7 0 1 0 -5.4 0M513.9 146.3a2.7 2.7 0 1 0 5.4 0a2.7 2.7 0 1 0 -5.4 0M514.3 138.4a2.7 2.7 0 1 0 5.4 0a2.7 2.7 0 1 0 -5.4 0M515 141.5a2.7 2.7 0 1 0 5.4 0a2.7 2.7 0 1 0 -5.4 0M515.8 143.4a2.7 2.7 0 1 0 5.4 0a2.7 2.7 0 1 0 -5.4 0M517.3 141.2a2.7 2.7 0 1 0 5.4 0a2.7 2.7 0 1 0 -5.4 0M517.4 131.4a2.7 2.7 0 1 0 5.4 0a2.7 2.7 0 1 0 -5.4 0M518.1 137a2.7 2.7 0 1 0 5.4 0a2.7 2.7 0 1 0 -5.4 0M519.5 140.7a2.7 2.7 0 1 0 5.4 0a2.7 2.7 0 1 0 -5.4 0M520.9 141.1a2.7 2.7 0 1 0 5.4 0a2.7 2.7 0 1 0 -5.4 0M521.2 140.5a2.7 2.7 0 1 0 5.4 0a2.7 2.7 0 1 0 -5.4 0M521.2 136.7a2.7 2.7 0 1 0 5.4 0a2.7 2.7 0 1 0 -5.4 0M521.2 133a2.7 2.7 0 1 0 5.4 0a2.7 2.7 0 1 0 -5.4 0M521.8 141.7a2.7 2.7 0 1 0 5.4 0a2.7 2.7 0 1 0 -5.4 0M522 144.8a2.7 2.7 0 1 0 5.4 0a2.7 2.7 0 1 0 -5.4 0M523.1 139.1a2.7 2.7 0 1 0 5.4 0a2.7 2.7 0 1 0 -5.4 0M524.3 143.5a2.7 2.7 0 1 0 5.4 0a2.7 2.7 0 1 0 -5.4 0M524.9 139.6a2.7 2.7 0 1 0 5.4 0a2.7 2.7 0 1 0 -5.4 0M525.9 141.5a2.7 2.7 0 1 0 5.4 0a2.7 2.7 0 1 0 -5.4 0M525.9 139.8a2.7 2.7 0 1 0 5.4 0a2.7 2.7 0 1 0 -5.4 0M527.1 145.6a2.7 2.7 0 1 0 5.4 0a2.7 2.7 0 1 0 -5.4 0M529.8 140a2.7 2.7 0 1 0 5.4 0a2.7 2.7 0 1 0 -5.4 0M529.9 144a2.7 2.7 0 1 0 5.4 0a2.7 2.7 0 1 0 -5.4 0M530.1 147a2.7 2.7 0 1 0 5.4 0a2.7 2.7 0 1 0 -5.4 0M532.4 144.3a2.7 2.7 0 1 0 5.4 0a2.7 2.7 0 1 0 -5.4 0M533 139.9a2.7 2.7 0 1 0 5.4 0a2.7 2.7 0 1 0 -5.4 0M533.2 146.1a2.7 2.7 0 1 0 5.4 0a2.7 2.7 0 1 0 -5.4 0M533.4 144a2.7 2.7 0 1 0 5.4 0a2.7 2.7 0 1 0 -5.4 0M535.2 140.4a2.7 2.7 0 1 0 5.4 0a2.7 2.7 0 1 0 -5.4 0M535.5 144.6a2.7 2.7 0 1 0 5.4 0a2.7 2.7 0 1 0 -5.4 0M535.9 144.4a2.7 2.7 0 1 0 5.4 0a2.7 2.7 0 1 0 -5.4 0M536.4 147.9a2.7 2.7 0 1 0 5.4 0a2.7 2.7 0 1 0 -5.4 0M537.6 144.2a2.7 2.7 0 1 0 5.4 0a2.7 2.7 0 1 0 -5.4 0M538 146.5a2.7 2.7 0 1 0 5.4 0a2.7 2.7 0 1 0 -5.4 0M539 148.7a2.7 2.7 0 1 0 5.4 0a2.7 2.7 0 1 0 -5.4 0M540.2 139.6a2.7 2.7 0 1 0 5.4 0a2.7 2.7 0 1 0 -5.4 0M540.9 150.8a2.7 2.7 0 1 0 5.4 0a2.7 2.7 0 1 0 -5.4 0M541.1 147.2a2.7 2.7 0 1 0 5.4 0a2.7 2.7 0 1 0 -5.4 0M541.4 143.4a2.7 2.7 0 1 0 5.4 0a2.7 2.7 0 1 0 -5.4 0M541.6 147.8a2.7 2.7 0 1 0 5.4 0a2.7 2.7 0 1 0 -5.4 0M541.8 151.3a2.7 2.7 0 1 0 5.4 0a2.7 2.7 0 1 0 -5.4 0M542.1 144.9a2.7 2.7 0 1 0 5.4 0a2.7 2.7 0 1 0 -5.4 0M543.8 145.9a2.7 2.7 0 1 0 5.4 0a2.7 2.7 0 1 0 -5.4 0M549.4 155.5a2.7 2.7 0 1 0 5.4 0a2.7 2.7 0 1 0 -5.4 0M552.1 157.3a2.7 2.7 0 1 0 5.4 0a2.7 2.7 0 1 0 -5.4 0M553.1 159.4a2.7 2.7 0 1 0 5.4 0a2.7 2.7 0 1 0 -5.4 0M553.9 152a2.7 2.7 0 1 0 5.4 0a2.7 2.7 0 1 0 -5.4 0M554.3 148.3a2.7 2.7 0 1 0 5.4 0a2.7 2.7 0 1 0 -5.4 0M554.8 148.4a2.7 2.7 0 1 0 5.4 0a2.7 2.7 0 1 0 -5.4 0M555.6 151.2a2.7 2.7 0 1 0 5.4 0a2.7 2.7 0 1 0 -5.4 0M555.8 148.6a2.7 2.7 0 1 0 5.4 0a2.7 2.7 0 1 0 -5.4 0M555.9 154.3a2.7 2.7 0 1 0 5.4 0a2.7 2.7 0 1 0 -5.4 0M556.6 157.8a2.7 2.7 0 1 0 5.4 0a2.7 2.7 0 1 0 -5.4 0M557 148.7a2.7 2.7 0 1 0 5.4 0a2.7 2.7 0 1 0 -5.4 0M557.7 159.1a2.7 2.7 0 1 0 5.4 0a2.7 2.7 0 1 0 -5.4 0M558 149.7a2.7 2.7 0 1 0 5.4 0a2.7 2.7 0 1 0 -5.4 0M558.4 150.7a2.7 2.7 0 1 0 5.4 0a2.7 2.7 0 1 0 -5.4 0M558.8 148a2.7 2.7 0 1 0 5.4 0a2.7 2.7 0 1 0 -5.4 0M558.8 156.5a2.7 2.7 0 1 0 5.4 0a2.7 2.7 0 1 0 -5.4 0M560.3 153.7a2.7 2.7 0 1 0 5.4 0a2.7 2.7 0 1 0 -5.4 0M561.6 154.5a2.7 2.7 0 1 0 5.4 0a2.7 2.7 0 1 0 -5.4 0M562.4 143a2.7 2.7 0 1 0 5.4 0a2.7 2.7 0 1 0 -5.4 0M562.4 152.2a2.7 2.7 0 1 0 5.4 0a2.7 2.7 0 1 0 -5.4 0M564.4 156.4a2.7 2.7 0 1 0 5.4 0a2.7 2.7 0 1 0 -5.4 0M564.6 144.1a2.7 2.7 0 1 0 5.4 0a2.7 2.7 0 1 0 -5.4 0M565.8 163.4a2.7 2.7 0 1 0 5.4 0a2.7 2.7 0 1 0 -5.4 0M567.1 157a2.7 2.7 0 1 0 5.4 0a2.7 2.7 0 1 0 -5.4 0M567.1 160.2a2.7 2.7 0 1 0 5.4 0a2.7 2.7 0 1 0 -5.4 0M567.1 154.5a2.7 2.7 0 1 0 5.4 0a2.7 2.7 0 1 0 -5.4 0M568.2 159.7a2.7 2.7 0 1 0 5.4 0a2.7 2.7 0 1 0 -5.4 0M569.2 161.4a2.7 2.7 0 1 0 5.4 0a2.7 2.7 0 1 0 -5.4 0M570.3 166.9a2.7 2.7 0 1 0 5.4 0a2.7 2.7 0 1 0 -5.4 0M571 152.2a2.7 2.7 0 1 0 5.4 0a2.7 2.7 0 1 0 -5.4 0M571.9 165.2a2.7 2.7 0 1 0 5.4 0a2.7 2.7 0 1 0 -5.4 0M572.7 152.3a2.7 2.7 0 1 0 5.4 0a2.7 2.7 0 1 0 -5.4 0M572.9 157.4a2.7 2.7 0 1 0 5.4 0a2.7 2.7 0 1 0 -5.4 0M575.1 155.3a2.7 2.7 0 1 0 5.4 0a2.7 2.7 0 1 0 -5.4 0M576.2 156.3a2.7 2.7 0 1 0 5.4 0a2.7 2.7 0 1 0 -5.4 0M577.2 149a2.7 2.7 0 1 0 5.4 0a2.7 2.7 0 1 0 -5.4 0M577.8 155.9a2.7 2.7 0 1 0 5.4 0a2.7 2.7 0 1 0 -5.4 0M578 152.1a2.7 2.7 0 1 0 5.4 0a2.7 2.7 0 1 0 -5.4 0M578.6 156.3a2.7 2.7 0 1 0 5.4 0a2.7 2.7 0 1 0 -5.4 0M580.3 158.2a2.7 2.7 0 1 0 5.4 0a2.7 2.7 0 1 0 -5.4 0M580.6 157.4a2.7 2.7 0 1 0 5.4 0a2.7 2.7 0 1 0 -5.4 0M580.6 156.7a2.7 2.7 0 1 0 5.4 0a2.7 2.7 0 1 0 -5.4 0M581.8 163a2.7 2.7 0 1 0 5.4 0a2.7 2.7 0 1 0 -5.4 0M582 158.6a2.7 2.7 0 1 0 5.4 0a2.7 2.7 0 1 0 -5.4 0M584.9 159.8a2.7 2.7 0 1 0 5.4 0a2.7 2.7 0 1 0 -5.4 0M585.2 162.9a2.7 2.7 0 1 0 5.4 0a2.7 2.7 0 1 0 -5.4 0M585.3 157a2.7 2.7 0 1 0 5.4 0a2.7 2.7 0 1 0 -5.4 0M585.4 157.7a2.7 2.7 0 1 0 5.4 0a2.7 2.7 0 1 0 -5.4 0M585.5 160.1a2.7 2.7 0 1 0 5.4 0a2.7 2.7 0 1 0 -5.4 0M586.5 156.2a2.7 2.7 0 1 0 5.4 0a2.7 2.7 0 1 0 -5.4 0M588.7 162.7a2.7 2.7 0 1 0 5.4 0a2.7 2.7 0 1 0 -5.4 0M588.9 154.8a2.7 2.7 0 1 0 5.4 0a2.7 2.7 0 1 0 -5.4 0M590 156.6a2.7 2.7 0 1 0 5.4 0a2.7 2.7 0 1 0 -5.4 0M590.5 157a2.7 2.7 0 1 0 5.4 0a2.7 2.7 0 1 0 -5.4 0M591.2 156.3a2.7 2.7 0 1 0 5.4 0a2.7 2.7 0 1 0 -5.4 0M591.6 157.6a2.7 2.7 0 1 0 5.4 0a2.7 2.7 0 1 0 -5.4 0M592.2 155.7a2.7 2.7 0 1 0 5.4 0a2.7 2.7 0 1 0 -5.4 0M592.6 147.8a2.7 2.7 0 1 0 5.4 0a2.7 2.7 0 1 0 -5.4 0M592.7 162.6a2.7 2.7 0 1 0 5.4 0a2.7 2.7 0 1 0 -5.4 0M594.7 156.2a2.7 2.7 0 1 0 5.4 0a2.7 2.7 0 1 0 -5.4 0M596.5 161.3a2.7 2.7 0 1 0 5.4 0a2.7 2.7 0 1 0 -5.4 0M598.4 154.1a2.7 2.7 0 1 0 5.4 0a2.7 2.7 0 1 0 -5.4 0M598.4 161a2.7 2.7 0 1 0 5.4 0a2.7 2.7 0 1 0 -5.4 0M598.5 153.2a2.7 2.7 0 1 0 5.4 0a2.7 2.7 0 1 0 -5.4 0M599 164.8a2.7 2.7 0 1 0 5.4 0a2.7 2.7 0 1 0 -5.4 0M599.4 158.2a2.7 2.7 0 1 0 5.4 0a2.7 2.7 0 1 0 -5.4 0M601.7 157.4a2.7 2.7 0 1 0 5.4 0a2.7 2.7 0 1 0 -5.4 0M602.4 147.5a2.7 2.7 0 1 0 5.4 0a2.7 2.7 0 1 0 -5.4 0M603.1 150.1a2.7 2.7 0 1 0 5.4 0a2.7 2.7 0 1 0 -5.4 0M603.9 157.7a2.7 2.7 0 1 0 5.4 0a2.7 2.7 0 1 0 -5.4 0M604.1 157.2a2.7 2.7 0 1 0 5.4 0a2.7 2.7 0 1 0 -5.4 0M608.2 158.4a2.7 2.7 0 1 0 5.4 0a2.7 2.7 0 1 0 -5.4 0M610.9 159.7a2.7 2.7 0 1 0 5.4 0a2.7 2.7 0 1 0 -5.4 0M613.6 166.7a2.7 2.7 0 1 0 5.4 0a2.7 2.7 0 1 0 -5.4 0M613.6 161a2.7 2.7 0 1 0 5.4 0a2.7 2.7 0 1 0 -5.4 0M614.2 161.2a2.7 2.7 0 1 0 5.4 0a2.7 2.7 0 1 0 -5.4 0M614.3 159.7a2.7 2.7 0 1 0 5.4 0a2.7 2.7 0 1 0 -5.4 0M614.4 158.4a2.7 2.7 0 1 0 5.4 0a2.7 2.7 0 1 0 -5.4 0M614.9 164.6a2.7 2.7 0 1 0 5.4 0a2.7 2.7 0 1 0 -5.4 0M617.2 162a2.7 2.7 0 1 0 5.4 0a2.7 2.7 0 1 0 -5.4 0M617.7 162.4a2.7 2.7 0 1 0 5.4 0a2.7 2.7 0 1 0 -5.4 0M618 165.3a2.7 2.7 0 1 0 5.4 0a2.7 2.7 0 1 0 -5.4 0M618.3 164.4a2.7 2.7 0 1 0 5.4 0a2.7 2.7 0 1 0 -5.4 0M619.3 167.7a2.7 2.7 0 1 0 5.4 0a2.7 2.7 0 1 0 -5.4 0M619.8 167.7a2.7 2.7 0 1 0 5.4 0a2.7 2.7 0 1 0 -5.4 0M620.9 159.6a2.7 2.7 0 1 0 5.4 0a2.7 2.7 0 1 0 -5.4 0M621.2 161.8a2.7 2.7 0 1 0 5.4 0a2.7 2.7 0 1 0 -5.4 0M623.6 169.9a2.7 2.7 0 1 0 5.4 0a2.7 2.7 0 1 0 -5.4 0M623.6 164.4a2.7 2.7 0 1 0 5.4 0a2.7 2.7 0 1 0 -5.4 0M625.7 169.3a2.7 2.7 0 1 0 5.4 0a2.7 2.7 0 1 0 -5.4 0M626.9 163.4a2.7 2.7 0 1 0 5.4 0a2.7 2.7 0 1 0 -5.4 0" fill="#8650ad" stroke="#7a45a3" stroke-width="0.6"/>
<path d="M343 13V198.3M385.7 13V198.3M428.4 13V198.3M471.2 13V198.3M513.9 13V198.3M556.6 13V198.3M599.4 13V198.3M642.1 13V198.3M314.2 171.5H674.9M314.2 132.2H674.9M314.2 92.8H674.9M314.2 53.5H674.9" stroke="#c4c4c4" stroke-width="1" fill="none"/>
<path d="M339.7 128.2 L340.7 128.1 L341.7 128 L342.7 128 L343.7 127.9 L344.7 127.8 L345.7 127.7 L346.7 127.6 L347.7 127.5 L348.7 127.5 L349.7 127.4 L350.7 127.3 L351.7 127.2 L352.7 127.1 L353.7 127 L354.7 126.9 L355.7 126.8 L356.7 126.8 L357.7 126.7 L358.7 126.6 L359.7 126.5 L360.7 126.4 L361.7 126.3 L362.7 126.2 L363.7 126.1 L364.7 126 L365.7 125.9 L366.7 125.7 L367.7 125.6 L368.7 125.5 L369.7 125.4 L370.7 125.3 L371.7 125.2 L372.7 125 L373.7 124.9 L374.7 124.8 L375.7 124.7 L376.7 124.5 L377.7 124.4 L378.7 124.2 L379.7 124.1 L380.7 124 L381.7 123.8 L382.7 123.6 L383.7 123.5 L384.7 123.3 L385.7 123.2 L386.7 123 L387.7 122.8 L388.7 122.7 L389.7 122.5 L390.7 122.3 L391.7 122.1 L392.7 121.9 L393.7 121.7 L394.7 121.5 L395.7 121.3 L396.7 121.1 L397.7 120.9 L398.7 120.7 L399.7 120.5 L400.7 120.3 L401.7 120.1 L402.7 119.8 L403.7 119.6 L404.7 119.4 L405.7 119.1 L406.7 118.9 L407.7 118.7 L408.7 118.4 L409.7 118.2 L410.7 117.9 L411.7 117.7 L412.7 117.4 L413.7 117.2 L414.7 116.9 L415.7 116.6 L416.7 116.4 L417.7 116.1 L418.7 115.8 L419.7 115.5 L420.7 115.3 L421.7 115 L422.7 114.6 L423.7 114.3 L424.7 114 L425.7 113.7 L426.7 113.3 L427.7 113 L428.7 112.6 L429.7 112.3 L430.7 111.9 L431.7 111.5 L432.7 111.1 L433.7 110.6 L434.7 110.2 L435.7 109.8 L436.7 109.3 L437.7 108.8 L438.7 108.3 L439.7 107.8 L440.7 107.3 L441.7 106.7 L442.7 106.1 L443.7 105.5 L444.7 104.9 L445.7 104.3 L446.7 103.7 L447.7 103 L448.7 102.3 L449.7 101.6 L450.7 100.9 L451.7 100.1 L452.7 99.3 L453.7 98.5 L454.7 97.7 L455.7 96.8 L456.7 96 L457.7 95.1 L458.7 94.1 L459.7 93.2 L460.7 92.2 L461.7 91.3 L462.7 90.3 L463.7 89.3 L464.7 88.3 L465.7 87.3 L466.7 86.4 L467.7 85.4 L468.7 84.4 L469.7 83.4 L470.7 82.4 L471.7 81.4 L472.7 80.3 L473.7 79.3 L474.7 78.3 L475.7 77.2 L476.7 76.2 L477.7 75.1 L478.7 74.1 L479.7 73 L480.7 71.9 L481.7 70.7 L482.7 69.6 L483.7 68.4 L484.7 67.1 L485.7 65.9 L486.7 64.6 L487.7 63.3 L488.7 62 L489.7 60.8 L490.7 59.6 L491.7 58.4 L492.7 57.3 L493.7 56.3 L494.7 55.4 L495.7 54.7 L496.7 54.1 L497.7 53.6 L498.7 53.2 L499.7 53 L500.7 52.9 L501.7 52.9 L502.7 53.1 L503.7 53.3 L504.7 53.6 L505.7 54 L506.7 54.5 L507.7 55 L508.7 55.6 L509.7 56.2 L510.7 57 L511.7 57.8 L512.7 58.8 L513.7 59.9 L514.7 61.2 L515.7 62.6 L516.7 64.1 L517.7 65.8 L518.7 67.5 L519.7 69.4 L520.7 71.4 L521.7 73.6 L522.7 75.9 L523.7 78.3 L524.7 80.8 L525.7 83.5 L526.7 86.3 L527.7 89.2 L528.7 92 L529.7 94.8 L530.7 97.5 L531.7 100.2 L532.7 102.7 L533.7 105.1 L534.7 107.4 L535.7 109.7 L536.7 111.8 L537.7 113.8 L538.7 115.8 L539.7 117.8 L540.7 119.7 L541.7 121.6 L542.7 123.5 L543.7 125.5 L544.7 127.5 L545.7 129.5 L546.7 131.6 L547.7 133.7 L548.7 135.9 L549.7 138.1 L550.7 140.3 L551.7 142.4 L552.7 144.3 L553.7 146.2 L554.7 147.9 L555.7 149.6 L556.7 151.3 L557.7 153.1 L558.7 155 L559.7 156.9 L560.7 158.8 L561.7 160.8 L562.7 162.7 L563.7 164.6 L564.7 166.5 L565.7 168.3 L566.7 170.2 L567.7 172 L568.7 173.8 L569.7 175.7 L570.7 177.5 L571.6 179.1" stroke="#c68a5b" stroke-width="1.5" fill="none"/>
<path d="M334.6 142.5 L335.6 142.5 L336.6 142.5 L337.6 142.5 L338.6 142.5 L339.6 142.4 L340.6 142.4 L341.6 142.4 L342.6 142.4 L343.6 142.4 L344.6 142.4 L345.6 142.4 L346.6 142.4 L347.6 142.3 L348.6 142.3 L349.6 142.3 L350.6 142.3 L351.6 142.3 L352.6 142.3 L353.6 142.2 L354.6 142.2 L355.6 142.2 L356.6 142.2 L357.6 142.1 L358.6 142.1 L359.6 142.1 L360.6 142 L361.6 142 L362.6 142 L363.6 141.9 L364.6 141.9 L365.6 141.8 L366.6 141.8 L367.6 141.7 L368.6 141.7 L369.6 141.6 L370.6 141.6 L371.6 141.5 L372.6 141.4 L373.6 141.4 L374.6 141.3 L375.6 141.2 L376.6 141.2 L377.6 141.1 L378.6 141 L379.6 140.9 L380.6 140.8 L381.6 140.8 L382.6 140.7 L383.6 140.6 L384.6 140.5 L385.6 140.4 L386.6 140.3 L387.6 140.2 L388.6 140.1 L389.6 140 L390.6 139.8 L391.6 139.7 L392.6 139.6 L393.6 139.5 L394.6 139.3 L395.6 139.2 L396.6 139.1 L397.6 138.9 L398.6 138.8 L399.6 138.7 L400.6 138.5 L401.6 138.4 L402.6 138.2 L403.6 138.1 L404.6 137.9 L405.6 137.7 L406.6 137.6 L407.6 137.4 L408.6 137.3 L409.6 137.1 L410.6 136.9 L411.6 136.8 L412.6 136.6 L413.6 136.5 L414.6 136.3 L415.6 136.2 L416.6 136 L417.6 135.9 L418.6 135.7 L419.6 135.6 L420.6 135.4 L421.6 135.3 L422.6 135.1 L423.6 135 L424.6 134.8 L425.6 134.7 L426.6 134.5 L427.6 134.4 L428.6 134.2 L429.6 134.1 L430.6 133.9 L431.6 133.7 L432.6 133.6 L433.6 133.4 L434.6 133.2 L435.6 133 L436.6 132.8 L437.6 132.6 L438.6 132.4 L439.6 132.2 L440.6 131.9 L441.6 131.7 L442.6 131.4 L443.6 131.1 L444.6 130.8 L445.6 130.5 L446.6 130.2 L447.6 129.9 L448.6 129.5 L449.6 129.2 L450.6 128.8 L451.6 128.5 L452.6 128.1 L453.6 127.7 L454.6 127.4 L455.6 127 L456.6 126.6 L457.6 126.2 L458.6 125.8 L459.6 125.4 L460.6 125 L461.6 124.5 L462.6 124.1 L463.6 123.7 L464.6 123.3 L465.6 122.8 L466.6 122.3 L467.6 121.8 L468.6 121.3 L469.6 120.8 L470.6 120.2 L471.6 119.6 L472.6 119 L473.6 118.3 L474.6 117.6 L475.6 116.9 L476.6 116.2 L477.6 115.5 L478.6 114.7 L479.6 113.9 L480.6 113.2 L481.6 112.4 L482.6 111.6 L483.6 110.8 L484.6 110 L485.6 109.3 L486.6 108.5 L487.6 107.8 L488.6 107.1 L489.6 106.4 L490.6 105.7 L491.6 105.1 L492.6 104.5 L493.6 104 L494.6 103.5 L495.6 103 L496.6 102.6 L497.6 102.3 L498.6 102 L499.6 101.8 L500.6 101.6 L501.6 101.4 L502.6 101.4 L503.6 101.4 L504.6 101.4 L505.6 101.5 L506.6 101.7 L507.6 101.9 L508.6 102.2 L509.6 102.5 L510.6 102.9 L511.6 103.4 L512.6 103.9 L513.6 104.5 L514.6 105.1 L515.6 105.8 L516.6 106.5 L517.6 107.3 L518.6 108.2 L519.6 109.1 L520.6 110 L521.6 111 L522.6 112 L523.6 113 L524.6 114.1 L525.6 115.1 L526.6 116.1 L527.6 117.2 L528.6 118.2 L529.6 119.2 L530.6 120.2 L531.6 121.1 L532.6 122.1 L533.6 123 L534.6 124 L535.6 124.9 L536.6 125.8 L537.6 126.6 L538.6 127.5 L539.6 128.3 L540.6 129.2 L541.6 130 L542.6 130.8 L543.6 131.5 L544.6 132.3 L545.6 133.1 L546.6 134 L547.6 134.9 L548.6 135.8 L549.6 136.8 L550.6 137.9 L551.6 139 L552.6 140.1 L553.6 141.3 L554.6 142.5 L555.6 143.6 L556.6 144.7 L557.6 145.8 L558.6 146.8 L559.6 147.8 L560.6 148.6 L561.6 149.3 L562.6 150 L563.6 150.6 L564.6 151.2 L565.6 151.7 L566.6 152.2 L567.6 152.7 L568.6 153.3 L569.6 153.8 L570.6 154.4 L571.6 155 L572.6 155.6 L573.6 156.3 L574.6 157 L575.6 157.8 L576.6 158.6 L577.6 159.4 L578.6 160.2 L579.6 161 L580.6 161.8 L581.6 162.6 L582.6 163.4 L583.6 164.2 L584.6 165 L585.6 165.9 L586.6 166.7 L587.6 167.5 L588.6 168.4 L589.6 169.2 L590.6 170.1 L591.6 171 L592.6 171.9 L593.6 172.8 L594.6 173.7 L595.6 174.6 L596.6 175.5 L597.6 176.3 L598.6 177 L599.6 177.7 L600.6 178.3 L601.6 178.8 L602.6 179.3 L603.6 179.8 L604.6 180.2 L605.6 180.6 L606.6 180.9 L607.6 181.3 L608.3 181.5" stroke="#a83450" stroke-width="1.5" fill="none"/>
<path d="M330.2 152.4 L331.2 152.4 L332.2 152.4 L333.2 152.4 L334.2 152.3 L335.2 152.3 L336.2 152.3 L337.2 152.3 L338.2 152.3 L339.2 152.3 L340.2 152.3 L341.2 152.2 L342.2 152.2 L343.2 152.2 L344.2 152.2 L345.2 152.2 L346.2 152.2 L347.2 152.1 L348.2 152.1 L349.2 152.1 L350.2 152.1 L351.2 152.1 L352.2 152.1 L353.2 152.1 L354.2 152 L355.2 152 L356.2 152 L357.2 152 L358.2 152 L359.2 152 L360.2 152 L361.2 151.9 L362.2 151.9 L363.2 151.9 L364.2 151.9 L365.2 151.9 L366.2 151.9 L367.2 151.8 L368.2 151.8 L369.2 151.8 L370.2 151.8 L371.2 151.8 L372.2 151.8 L373.2 151.7 L374.2 151.7 L375.2 151.7 L376.2 151.7 L377.2 151.7 L378.2 151.7 L379.2 151.6 L380.2 151.6 L381.2 151.6 L382.2 151.6 L383.2 151.6 L384.2 151.6 L385.2 151.5 L386.2 151.5 L387.2 151.5 L388.2 151.5 L389.2 151.5 L390.2 151.4 L391.2 151.4 L392.2 151.4 L393.2 151.4 L394.2 151.3 L395.2 151.3 L396.2 151.3 L397.2 151.3 L398.2 151.2 L399.2 151.2 L400.2 151.2 L401.2 151.1 L402.2 151.1 L403.2 151.1 L404.2 151 L405.2 151 L406.2 151 L407.2 150.9 L408.2 150.9 L409.2 150.8 L410.2 150.8 L411.2 150.7 L412.2 150.7 L413.2 150.7 L414.2 150.6 L415.2 150.5 L416.2 150.5 L417.2 150.4 L418.2 150.4 L419.2 150.3 L420.2 150.2 L421.2 150.2 L422.2 150.1 L423.2 150 L424.2 149.9 L425.2 149.8 L426.2 149.7 L427.2 149.6 L428.2 149.5 L429.2 149.4 L430.2 149.3 L431.2 149.1 L432.2 149 L433.2 148.9 L434.2 148.7 L435.2 148.6 L436.2 148.4 L437.2 148.3 L438.2 148.1 L439.2 148 L440.2 147.8 L441.2 147.7 L442.2 147.5 L443.2 147.4 L444.2 147.3 L445.2 147.1 L446.2 147 L447.2 146.8 L448.2 146.7 L449.2 146.6 L450.2 146.4 L451.2 146.3 L452.2 146.2 L453.2 146.1 L454.2 146 L455.2 145.9 L456.2 145.8 L457.2 145.6 L458.2 145.5 L459.2 145.3 L460.2 145.2 L461.2 145 L462.2 144.8 L463.2 144.6 L464.2 144.3 L465.2 144.1 L466.2 143.8 L467.2 143.5 L468.2 143.2 L469.2 143 L470.2 142.7 L471.2 142.4 L472.2 142.1 L473.2 141.7 L474.2 141.4 L475.2 141.1 L476.2 140.8 L477.2 140.5 L478.2 140.2 L479.2 139.9 L480.2 139.6 L481.2 139.3 L482.2 139.1 L483.2 138.8 L484.2 138.5 L485.2 138.3 L486.2 138 L487.2 137.8 L488.2 137.6 L489.2 137.3 L490.2 137.1 L491.2 136.9 L492.2 136.7 L493.2 136.5 L494.2 136.3 L495.2 136.1 L496.2 135.9 L497.2 135.7 L498.2 135.5 L499.2 135.3 L500.2 135.2 L501.2 135.1 L502.2 135 L503.2 134.9 L504.2 134.9 L505.2 134.9 L506.2 135 L507.2 135.1 L508.2 135.2 L509.2 135.4 L510.2 135.6 L511.2 135.8 L512.2 136.1 L513.2 136.4 L514.2 136.7 L515.2 137 L516.2 137.3 L517.2 137.7 L518.2 138.1 L519.2 138.5 L520.2 138.9 L521.2 139.3 L522.2 139.8 L523.2 140.2 L524.2 140.7 L525.2 141.2 L526.2 141.7 L527.2 142.2 L528.2 142.8 L529.2 143.3 L530.2 143.8 L531.2 144.4 L532.2 144.9 L533.2 145.5 L534.2 146 L535.2 146.5 L536.2 147 L537.2 147.4 L538.2 147.9 L539.2 148.3 L540.2 148.6 L541.2 149 L542.2 149.3 L543.2 149.5 L544.2 149.8 L545.2 150 L546.2 150.2 L547.2 150.3 L548.2 150.5 L549.2 150.6 L550.2 150.7 L551.2 150.8 L552.2 150.9 L553.2 151 L554.2 151.1 L555.2 151.2 L556.2 151.2 L557.2 151.3 L558.2 151.4 L559.2 151.4 L560.2 151.5 L561.2 151.6 L562.2 151.6 L563.2 151.7 L564.2 151.8 L565.2 151.8 L566.2 151.9 L567.2 151.9 L568.2 152 L569.2 152 L570.2 152.1 L571.2 152.1 L572.2 152.2 L573.2 152.2 L574.2 152.3 L575.2 152.3 L576.2 152.3 L577.2 152.4 L578.2 152.4 L579.2 152.5 L580.2 152.5 L581.2 152.5 L582.2 152.5 L583.2 152.6 L584.2 152.6 L585.2 152.6 L586.2 152.7 L587.2 152.7 L588.2 152.7 L589.2 152.8 L590.2 152.8 L591.2 152.8 L592.2 152.9 L593.2 152.9 L594.2 153 L595.2 153 L596.2 153.1 L597.2 153.1 L598.2 153.2 L599.2 153.2 L600.2 153.3 L601.2 153.4 L602.2 153.5 L603.2 153.5 L604.2 153.6 L605.2 153.7 L606.2 153.8 L607.2 153.9 L608.2 153.9 L609.2 154 L610.2 154.1 L611.2 154.2 L612.2 154.3 L613.2 154.3 L614.2 154.4 L615.2 154.5 L616.2 154.6 L617.2 154.7 L618.2 154.8 L619.2 154.9 L620.2 155 L621.2 155.1 L622.2 155.2 L623.2 155.4 L624.2 155.5 L625.2 155.7 L626.2 155.9 L627.2 156.1 L628.2 156.3 L629.2 156.6 L630.2 156.8 L631.2 157.1 L632.2 157.4 L633.2 157.8 L634.2 158.2 L635.2 158.5 L636.2 158.9 L637.2 159.4 L638.2 159.8 L639.2 160.3 L640.2 160.8 L641.2 161.3 L642.2 161.9 L643.2 162.4 L644.2 163 L645.2 163.6 L646.2 164.2 L647.2 164.8 L648.2 165.4 L649.2 166 L650.2 166.7 L651.2 167.4 L652.2 168.1 L653.2 168.8 L654.2 169.5 L655.2 170.3 L656.2 171 L657.2 171.8 L658.2 172.5 L658.4 172.7" stroke="#4a1868" stroke-width="1.5" fill="none"/>
<path d="M314.2 160.9H674.9" stroke="#6e6e6e" stroke-width="1.1" stroke-dasharray="1.1 2.2"/>
<rect x="314.2" y="13" width="360.7" height="185.3" fill="none" stroke="#262626" stroke-width="1.25"/>
<path d="M343 198.3v-2.2M343 13v2.2M385.7 198.3v-2.2M385.7 13v2.2M428.4 198.3v-2.2M428.4 13v2.2M471.2 198.3v-2.2M471.2 13v2.2M513.9 198.3v-2.2M513.9 13v2.2M556.6 198.3v-2.2M556.6 13v2.2M599.4 198.3v-2.2M599.4 13v2.2M642.1 198.3v-2.2M642.1 13v2.2M314.2 171.5h2.2M674.9 171.5h-2.2M314.2 132.2h2.2M674.9 132.2h-2.2M314.2 92.8h2.2M674.9 92.8h-2.2M314.2 53.5h2.2M674.9 53.5h-2.2" stroke="#262626" stroke-width="1"/>
<text x="446.0" y="171.9" font-size="10.8" fill="#8a8a8a" textLength="89" lengthAdjust="spacingAndGlyphs" stroke="#8a8a8a" stroke-width="0.28">Γ<tspan font-size="8" dy="2">0</tspan><tspan dy="-2">/2</tspan><tspan font-style="italic">π</tspan> = 527.0 kHz</text>
<text x="263" y="18.2" font-size="12.5" text-anchor="start" fill="#000" font-weight="bold" stroke="#000" stroke-width="0.28">d</text>
<text x="309.2" y="18.6" font-size="11.5" text-anchor="end" fill="#111" font-weight="normal" stroke="#111" stroke-width="0.28">900</text>
<text x="309.2" y="57.9" font-size="11.5" text-anchor="end" fill="#111" font-weight="normal" stroke="#111" stroke-width="0.28">800</text>
<text x="309.2" y="97.2" font-size="11.5" text-anchor="end" fill="#111" font-weight="normal" stroke="#111" stroke-width="0.28">700</text>
<text x="309.2" y="136.6" font-size="11.5" text-anchor="end" fill="#111" font-weight="normal" stroke="#111" stroke-width="0.28">600</text>
<text x="309.2" y="175.9" font-size="11.5" text-anchor="end" fill="#111" font-weight="normal" stroke="#111" stroke-width="0.28">500</text>
<text transform="translate(282.4 106) rotate(-90)" font-size="11.5" fill="#111" text-anchor="middle" stroke="#111" stroke-width="0.28">Γ<tspan font-size="8" dy="2">eff</tspan><tspan dy="-2">/2</tspan><tspan font-style="italic">π</tspan> [kHz]</text>
</g>
<g id="pe">
<path d="M345 294.2V304.3M343.6 294.2h2.8M343.6 304.3h2.8M345.6 297.7V310M344.2 297.7h2.8M344.2 310h2.8M345.7 298.4V306.2M344.3 298.4h2.8M344.3 306.2h2.8M346.4 299.5V308M345 299.5h2.8M345 308h2.8M347 304.2V311.5M345.6 304.2h2.8M345.6 311.5h2.8M348.6 305V315M347.2 305h2.8M347.2 315h2.8M349.3 301V307.8M347.9 301h2.8M347.9 307.8h2.8M350.4 292V305.7M349 292h2.8M349 305.7h2.8M351.8 300.9V309.2M350.4 300.9h2.8M350.4 309.2h2.8M352.7 299.9V309.5M351.3 299.9h2.8M351.3 309.5h2.8M353 301.1V309.4M351.6 301.1h2.8M351.6 309.4h2.8M355.5 301.1V310.6M354.1 301.1h2.8M354.1 310.6h2.8M355.9 302.2V310.6M354.5 302.2h2.8M354.5 310.6h2.8M356.2 291.7V305.6M354.8 291.7h2.8M354.8 305.6h2.8M357.3 304.8V313M355.9 304.8h2.8M355.9 313h2.8M358.1 304.9V313.1M356.7 304.9h2.8M356.7 313.1h2.8M358.5 301.8V315.1M357.1 301.8h2.8M357.1 315.1h2.8M358.6 300.5V313.2M357.2 300.5h2.8M357.2 313.2h2.8M359.3 306.9V314.6M357.9 306.9h2.8M357.9 314.6h2.8M362.7 296.1V308.2M361.3 296.1h2.8M361.3 308.2h2.8M363 304.3V311.7M361.6 304.3h2.8M361.6 311.7h2.8M363.2 307.5V313.5M361.8 307.5h2.8M361.8 313.5h2.8M363.4 300.5V313M362 300.5h2.8M362 313h2.8M363.4 301.9V314.4M362 301.9h2.8M362 314.4h2.8M367.3 308V317.7M365.9 308h2.8M365.9 317.7h2.8M369.9 303V314.7M368.5 303h2.8M368.5 314.7h2.8M370.5 301.9V310.8M369.1 301.9h2.8M369.1 310.8h2.8M370.9 304.6V311.1M369.5 304.6h2.8M369.5 311.1h2.8M371.3 306.3V315.7M369.9 306.3h2.8M369.9 315.7h2.8M372.7 300.2V311.8M371.3 300.2h2.8M371.3 311.8h2.8M372.8 303.8V316M371.4 303.8h2.8M371.4 316h2.8M373.8 303.8V313.1M372.4 303.8h2.8M372.4 313.1h2.8M374 303.2V317M372.6 303.2h2.8M372.6 317h2.8M374.1 307.6V317.7M372.7 307.6h2.8M372.7 317.7h2.8M375.4 308.9V316.5M374 308.9h2.8M374 316.5h2.8M375.8 307V313.6M374.4 307h2.8M374.4 313.6h2.8M376.2 307.9V314M374.8 307.9h2.8M374.8 314h2.8M376.9 307.5V318.5M375.5 307.5h2.8M375.5 318.5h2.8M377.4 303.8V310.9M376 303.8h2.8M376 310.9h2.8M377.9 305.8V315.8M376.5 305.8h2.8M376.5 315.8h2.8M378.1 301.7V310.5M376.7 301.7h2.8M376.7 310.5h2.8M378.3 309.7V319.9M376.9 309.7h2.8M376.9 319.9h2.8M378.9 304.2V317.2M377.5 304.2h2.8M377.5 317.2h2.8M379.3 299.5V311.8M377.9 299.5h2.8M377.9 311.8h2.8M379.4 304.7V312.5M378 304.7h2.8M378 312.5h2.8M380.1 308.5V317.8M378.7 308.5h2.8M378.7 317.8h2.8M385.6 306.2V317.1M384.2 306.2h2.8M384.2 317.1h2.8M386 299.4V309.9M384.6 299.4h2.8M384.6 309.9h2.8M386.7 312.6V321.5M385.3 312.6h2.8M385.3 321.5h2.8M386.9 307.2V315.9M385.5 307.2h2.8M385.5 315.9h2.8M387.5 306.3V317.9M386.1 306.3h2.8M386.1 317.9h2.8M390.7 304.3V315.1M389.3 304.3h2.8M389.3 315.1h2.8M391.8 304.7V311.2M390.4 304.7h2.8M390.4 311.2h2.8M392.1 302.4V308.5M390.7 302.4h2.8M390.7 308.5h2.8M394.1 306.2V316.9M392.7 306.2h2.8M392.7 316.9h2.8M397.3 306.8V315.3M395.9 306.8h2.8M395.9 315.3h2.8M398.2 306V314.5M396.8 306h2.8M396.8 314.5h2.8M398.6 308V320M397.2 308h2.8M397.2 320h2.8M399.4 305.6V319.2M398 305.6h2.8M398 319.2h2.8M399.7 302.7V312.4M398.3 302.7h2.8M398.3 312.4h2.8M402.5 303.7V316.2M401.1 303.7h2.8M401.1 316.2h2.8M402.8 308.9V322.3M401.4 308.9h2.8M401.4 322.3h2.8M402.9 300.6V312.2M401.5 300.6h2.8M401.5 312.2h2.8M403.2 312.5V326.1M401.8 312.5h2.8M401.8 326.1h2.8M405.5 305.6V313.7M404.1 305.6h2.8M404.1 313.7h2.8M406.1 314.4V327.9M404.7 314.4h2.8M404.7 327.9h2.8M406.6 308.4V318.4M405.2 308.4h2.8M405.2 318.4h2.8M407.1 301.8V310.1M405.7 301.8h2.8M405.7 310.1h2.8M407.1 310.4V316.6M405.7 310.4h2.8M405.7 316.6h2.8M407.1 308.1V316.2M405.7 308.1h2.8M405.7 316.2h2.8M407.4 304V316.6M406 304h2.8M406 316.6h2.8M409.5 308.3V316.2M408.1 308.3h2.8M408.1 316.2h2.8M409.7 308.7V315.8M408.3 308.7h2.8M408.3 315.8h2.8M411.2 296.9V303.6M409.8 296.9h2.8M409.8 303.6h2.8M411.2 311.6V318.2M409.8 311.6h2.8M409.8 318.2h2.8M411.6 308.1V314.3M410.2 308.1h2.8M410.2 314.3h2.8M411.9 306.3V318.4M410.5 306.3h2.8M410.5 318.4h2.8M413.9 311.4V318.8M412.5 311.4h2.8M412.5 318.8h2.8M414.6 308.5V316.6M413.2 308.5h2.8M413.2 316.6h2.8M414.6 301.1V315.1M413.2 301.1h2.8M413.2 315.1h2.8M415 311V320.3M413.6 311h2.8M413.6 320.3h2.8M417.3 306.8V316.7M415.9 306.8h2.8M415.9 316.7h2.8M418.3 309.3V318.5M416.9 309.3h2.8M416.9 318.5h2.8M418.5 305.6V315.3M417.1 305.6h2.8M417.1 315.3h2.8M418.5 306.7V318.3M417.1 306.7h2.8M417.1 318.3h2.8M419.1 305.5V313.5M417.7 305.5h2.8M417.7 313.5h2.8M419.3 312.1V325.9M417.9 312.1h2.8M417.9 325.9h2.8M419.4 305V313.7M418 305h2.8M418 313.7h2.8M419.5 313.2V320.4M418.1 313.2h2.8M418.1 320.4h2.8M420.8 302.2V310.9M419.4 302.2h2.8M419.4 310.9h2.8M423.2 309.7V319.9M421.8 309.7h2.8M421.8 319.9h2.8M424.2 306.6V319.4M422.8 306.6h2.8M422.8 319.4h2.8M427.1 313.4V323.1M425.7 313.4h2.8M425.7 323.1h2.8M427.3 309V322.1M425.9 309h2.8M425.9 322.1h2.8M428.8 319.5V327.4M427.4 319.5h2.8M427.4 327.4h2.8M430.2 319.5V333M428.8 319.5h2.8M428.8 333h2.8M431.1 309.1V318M429.7 309.1h2.8M429.7 318h2.8M432.4 313.9V323.1M431 313.9h2.8M431 323.1h2.8M434 307.1V318.5M432.6 307.1h2.8M432.6 318.5h2.8M434.3 306.1V319.5M432.9 306.1h2.8M432.9 319.5h2.8M435.9 310.2V323M434.5 310.2h2.8M434.5 323h2.8M436 315.1V325.3M434.6 315.1h2.8M434.6 325.3h2.8M436.3 316.1V322.7M434.9 316.1h2.8M434.9 322.7h2.8M438.2 310.8V322.8M436.8 310.8h2.8M436.8 322.8h2.8M439 315.4V328.4M437.6 315.4h2.8M437.6 328.4h2.8M439 308.7V318M437.6 308.7h2.8M437.6 318h2.8M439.3 311.1V317.7M437.9 311.1h2.8M437.9 317.7h2.8M444.4 313.2V324.7M443 313.2h2.8M443 324.7h2.8M445.1 308.5V316.7M443.7 308.5h2.8M443.7 316.7h2.8M445.5 321.4V327.7M444.1 321.4h2.8M444.1 327.7h2.8M446.1 313.3V325.1M444.7 313.3h2.8M444.7 325.1h2.8M447.8 313.5V324.3M446.4 313.5h2.8M446.4 324.3h2.8M448.1 317.1V326.7M446.7 317.1h2.8M446.7 326.7h2.8M449.2 310.1V320.8M447.8 310.1h2.8M447.8 320.8h2.8M455 317.5V325.2M453.6 317.5h2.8M453.6 325.2h2.8M455 309.6V321.2M453.6 309.6h2.8M453.6 321.2h2.8M456.2 317V325.8M454.8 317h2.8M454.8 325.8h2.8M456.7 318.8V326.3M455.3 318.8h2.8M455.3 326.3h2.8M456.7 321.5V334.7M455.3 321.5h2.8M455.3 334.7h2.8M456.9 318.1V326.3M455.5 318.1h2.8M455.5 326.3h2.8M457.1 321.3V333.3M455.7 321.3h2.8M455.7 333.3h2.8M457.3 317.6V326.8M455.9 317.6h2.8M455.9 326.8h2.8M458.3 309.9V322.7M456.9 309.9h2.8M456.9 322.7h2.8M459.3 319.3V331.4M457.9 319.3h2.8M457.9 331.4h2.8M459.5 319.5V326.2M458.1 319.5h2.8M458.1 326.2h2.8M460.6 314.7V326.4M459.2 314.7h2.8M459.2 326.4h2.8M461.6 319.6V333M460.2 319.6h2.8M460.2 333h2.8M466.8 312.6V325.6M465.4 312.6h2.8M465.4 325.6h2.8M469.1 317.1V326.1M467.7 317.1h2.8M467.7 326.1h2.8M469.4 319.3V332.1M468 319.3h2.8M468 332.1h2.8M471.4 322.8V329.5M470 322.8h2.8M470 329.5h2.8M471.4 313.7V327M470 313.7h2.8M470 327h2.8M471.6 317.1V331M470.2 317.1h2.8M470.2 331h2.8M473 318.6V327.4M471.6 318.6h2.8M471.6 327.4h2.8M476.3 318.8V330.5M474.9 318.8h2.8M474.9 330.5h2.8M476.4 317V325.4M475 317h2.8M475 325.4h2.8M481.1 305.9V318M479.7 305.9h2.8M479.7 318h2.8M481.2 316V322.7M479.8 316h2.8M479.8 322.7h2.8M482.3 323V331M480.9 323h2.8M480.9 331h2.8M483.7 310.3V322.6M482.3 310.3h2.8M482.3 322.6h2.8M483.9 313.8V324.4M482.5 313.8h2.8M482.5 324.4h2.8M484.6 320.3V326.4M483.2 320.3h2.8M483.2 326.4h2.8M485.5 311.8V325M484.1 311.8h2.8M484.1 325h2.8M485.9 307.7V321.2M484.5 307.7h2.8M484.5 321.2h2.8M485.9 314.7V323.5M484.5 314.7h2.8M484.5 323.5h2.8M486.2 314.5V322M484.8 314.5h2.8M484.8 322h2.8M486.7 308.7V321.4M485.3 308.7h2.8M485.3 321.4h2.8M486.8 314.5V321.8M485.4 314.5h2.8M485.4 321.8h2.8M490.1 305.7V316.4M488.7 305.7h2.8M488.7 316.4h2.8M491.3 303.2V315.9M489.9 303.2h2.8M489.9 315.9h2.8M491.4 308.1V315M490 308.1h2.8M490 315h2.8M492.9 308.7V321.6M491.5 308.7h2.8M491.5 321.6h2.8M493.2 311.6V320.1M491.8 311.6h2.8M491.8 320.1h2.8M493.6 306.5V319M492.2 306.5h2.8M492.2 319h2.8M494 316.7V324.5M492.6 316.7h2.8M492.6 324.5h2.8M494.2 313.4V322.9M492.8 313.4h2.8M492.8 322.9h2.8M496.8 308.8V319.5M495.4 308.8h2.8M495.4 319.5h2.8M497.5 313.4V324.7M496.1 313.4h2.8M496.1 324.7h2.8M498.7 315.1V325.3M497.3 315.1h2.8M497.3 325.3h2.8M499 310.7V321.6M497.6 310.7h2.8M497.6 321.6h2.8M499.1 305.8V313.9M497.7 305.8h2.8M497.7 313.9h2.8M499.8 312.5V320.3M498.4 312.5h2.8M498.4 320.3h2.8M500.6 311V324.3M499.2 311h2.8M499.2 324.3h2.8M501 310.4V316.8M499.6 310.4h2.8M499.6 316.8h2.8M502.3 303.2V317.2M500.9 303.2h2.8M500.9 317.2h2.8M505 304.4V316.6M503.6 304.4h2.8M503.6 316.6h2.8M505.8 304.6V316.1M504.4 304.6h2.8M504.4 316.1h2.8M505.9 294.9V304.1M504.5 294.9h2.8M504.5 304.1h2.8M507.3 310.5V320.8M505.9 310.5h2.8M505.9 320.8h2.8M507.8 303.4V312.1M506.4 303.4h2.8M506.4 312.1h2.8M508.3 310.4V323.8M506.9 310.4h2.8M506.9 323.8h2.8M509.1 303.9V310.3M507.7 303.9h2.8M507.7 310.3h2.8M509.4 295.7V309.5M508 295.7h2.8M508 309.5h2.8M510 303.9V316.8M508.6 303.9h2.8M508.6 316.8h2.8M510.5 301.2V311.6M509.1 301.2h2.8M509.1 311.6h2.8M510.6 304.1V316.5M509.2 304.1h2.8M509.2 316.5h2.8M510.9 300.2V307M509.5 300.2h2.8M509.5 307h2.8M512.8 297.3V307.5M511.4 297.3h2.8M511.4 307.5h2.8M515.5 294.2V305.6M514.1 294.2h2.8M514.1 305.6h2.8M515.8 293.7V305.6M514.4 293.7h2.8M514.4 305.6h2.8M516 299.2V311M514.6 299.2h2.8M514.6 311h2.8M516 291V302.3M514.6 291h2.8M514.6 302.3h2.8M517.9 298.9V307M516.5 298.9h2.8M516.5 307h2.8M519 303.2V310.8M517.6 303.2h2.8M517.6 310.8h2.8M520.3 290.7V301.6M518.9 290.7h2.8M518.9 301.6h2.8M520.8 296.4V302.8M519.4 296.4h2.8M519.4 302.8h2.8M520.8 293.7V299.9M519.4 293.7h2.8M519.4 299.9h2.8M521 295.1V302.2M519.6 295.1h2.8M519.6 302.2h2.8M523.4 296.6V304M522 296.6h2.8M522 304h2.8M524.8 298.3V306.8M523.4 298.3h2.8M523.4 306.8h2.8M524.8 298.9V308M523.4 298.9h2.8M523.4 308h2.8M526.2 290.2V300.3M524.8 290.2h2.8M524.8 300.3h2.8M528.2 296.8V305.9M526.8 296.8h2.8M526.8 305.9h2.8M529.3 289.3V300M527.9 289.3h2.8M527.9 300h2.8M530.1 285V298.8M528.7 285h2.8M528.7 298.8h2.8M531.6 288.2V297.1M530.2 288.2h2.8M530.2 297.1h2.8M533.6 282.7V293.1M532.2 282.7h2.8M532.2 293.1h2.8M534.5 291.2V304.8M533.1 291.2h2.8M533.1 304.8h2.8M536.2 284.7V294M534.8 284.7h2.8M534.8 294h2.8M536.5 295V303.9M535.1 295h2.8M535.1 303.9h2.8M536.5 306.1V316.7M535.1 306.1h2.8M535.1 316.7h2.8M537.2 287.6V301.2M535.8 287.6h2.8M535.8 301.2h2.8M537.2 285.1V292.4M535.8 285.1h2.8M535.8 292.4h2.8M538.1 296.3V306.1M536.7 296.3h2.8M536.7 306.1h2.8M538.9 290.6V299.7M537.5 290.6h2.8M537.5 299.7h2.8M539.3 295.2V305.3M537.9 295.2h2.8M537.9 305.3h2.8M540.8 297.8V306M539.4 297.8h2.8M539.4 306h2.8M542.3 299.1V310.8M540.9 299.1h2.8M540.9 310.8h2.8M543 308.3V321.8M541.6 308.3h2.8M541.6 321.8h2.8M544.3 301.6V315.4M542.9 301.6h2.8M542.9 315.4h2.8M544.5 304.8V312.3M543.1 304.8h2.8M543.1 312.3h2.8M544.5 301.5V312.8M543.1 301.5h2.8M543.1 312.8h2.8M544.9 300.3V309.9M543.5 300.3h2.8M543.5 309.9h2.8M545 299.2V312.3M543.6 299.2h2.8M543.6 312.3h2.8M545.3 301.5V307.6M543.9 301.5h2.8M543.9 307.6h2.8M546 309.7V318.7M544.6 309.7h2.8M544.6 318.7h2.8M546.1 303.6V316.7M544.7 303.6h2.8M544.7 316.7h2.8M546.2 309.4V318.2M544.8 309.4h2.8M544.8 318.2h2.8M546.6 308.7V317.6M545.2 308.7h2.8M545.2 317.6h2.8M547 315.8V328.3M545.6 315.8h2.8M545.6 328.3h2.8M547.2 307.9V318.2M545.8 307.9h2.8M545.8 318.2h2.8M547.6 311.9V321.8M546.2 311.9h2.8M546.2 321.8h2.8M547.6 307.9V315.9M546.2 307.9h2.8M546.2 315.9h2.8M547.8 313.5V325.7M546.4 313.5h2.8M546.4 325.7h2.8M548.9 312.3V322M547.5 312.3h2.8M547.5 322h2.8M549.3 313.8V324.5M547.9 313.8h2.8M547.9 324.5h2.8M549.8 312.1V318.1M548.4 312.1h2.8M548.4 318.1h2.8M550.1 319.5V327.9M548.7 319.5h2.8M548.7 327.9h2.8M550.4 324.9V333.1M549 324.9h2.8M549 333.1h2.8M550.8 323.3V334.7M549.4 323.3h2.8M549.4 334.7h2.8M551.1 314.7V326.4M549.7 314.7h2.8M549.7 326.4h2.8M551.6 325.7V334.5M550.2 325.7h2.8M550.2 334.5h2.8M551.7 319.2V329.3M550.3 319.2h2.8M550.3 329.3h2.8M551.8 315.4V327.2M550.4 315.4h2.8M550.4 327.2h2.8M551.9 319.3V326.6M550.5 319.3h2.8M550.5 326.6h2.8M552 327.8V338M550.6 327.8h2.8M550.6 338h2.8M552.5 324.6V333.1M551.1 324.6h2.8M551.1 333.1h2.8M553.5 325.6V333.9M552.1 325.6h2.8M552.1 333.9h2.8M553.6 332.3V340.5M552.2 332.3h2.8M552.2 340.5h2.8M553.9 331.1V343.8M552.5 331.1h2.8M552.5 343.8h2.8M553.9 331.8V338.8M552.5 331.8h2.8M552.5 338.8h2.8M554 332.5V344.7M552.6 332.5h2.8M552.6 344.7h2.8M554 332.2V338.8M552.6 332.2h2.8M552.6 338.8h2.8M554.1 336.2V347.1M552.7 336.2h2.8M552.7 347.1h2.8M554.8 337.6V349M553.4 337.6h2.8M553.4 349h2.8M554.9 336.7V344.3M553.5 336.7h2.8M553.5 344.3h2.8M554.9 337.4V347.4M553.5 337.4h2.8M553.5 347.4h2.8M555.1 338.9V351.1M553.7 338.9h2.8M553.7 351.1h2.8M555.1 335.1V348.2M553.7 335.1h2.8M553.7 348.2h2.8M555.2 338.9V349.2M553.8 338.9h2.8M553.8 349.2h2.8" stroke="#fdc99d" stroke-width="0.8" fill="none"/>
<path d="M342.3 299.3a2.7 2.7 0 1 0 5.4 0a2.7 2.7 0 1 0 -5.4 0M342.9 303.8a2.7 2.7 0 1 0 5.4 0a2.7 2.7 0 1 0 -5.4 0M343 302.3a2.7 2.7 0 1 0 5.4 0a2.7 2.7 0 1 0 -5.4 0M343.7 303.8a2.7 2.7 0 1 0 5.4 0a2.7 2.7 0 1 0 -5.4 0M344.3 307.9a2.7 2.7 0 1 0 5.4 0a2.7 2.7 0 1 0 -5.4 0M345.9 310a2.7 2.7 0 1 0 5.4 0a2.7 2.7 0 1 0 -5.4 0M346.6 304.4a2.7 2.7 0 1 0 5.4 0a2.7 2.7 0 1 0 -5.4 0M347.7 298.8a2.7 2.7 0 1 0 5.4 0a2.7 2.7 0 1 0 -5.4 0M349.1 305a2.7 2.7 0 1 0 5.4 0a2.7 2.7 0 1 0 -5.4 0M350 304.7a2.7 2.7 0 1 0 5.4 0a2.7 2.7 0 1 0 -5.4 0M350.3 305.2a2.7 2.7 0 1 0 5.4 0a2.7 2.7 0 1 0 -5.4 0M352.8 305.8a2.7 2.7 0 1 0 5.4 0a2.7 2.7 0 1 0 -5.4 0M353.2 306.4a2.7 2.7 0 1 0 5.4 0a2.7 2.7 0 1 0 -5.4 0M353.5 298.6a2.7 2.7 0 1 0 5.4 0a2.7 2.7 0 1 0 -5.4 0M354.6 308.9a2.7 2.7 0 1 0 5.4 0a2.7 2.7 0 1 0 -5.4 0M355.4 309a2.7 2.7 0 1 0 5.4 0a2.7 2.7 0 1 0 -5.4 0M355.8 308.5a2.7 2.7 0 1 0 5.4 0a2.7 2.7 0 1 0 -5.4 0M355.9 306.9a2.7 2.7 0 1 0 5.4 0a2.7 2.7 0 1 0 -5.4 0M356.6 310.7a2.7 2.7 0 1 0 5.4 0a2.7 2.7 0 1 0 -5.4 0M360 302.2a2.7 2.7 0 1 0 5.4 0a2.7 2.7 0 1 0 -5.4 0M360.3 308a2.7 2.7 0 1 0 5.4 0a2.7 2.7 0 1 0 -5.4 0M360.5 310.5a2.7 2.7 0 1 0 5.4 0a2.7 2.7 0 1 0 -5.4 0M360.7 306.8a2.7 2.7 0 1 0 5.4 0a2.7 2.7 0 1 0 -5.4 0M360.7 308.2a2.7 2.7 0 1 0 5.4 0a2.7 2.7 0 1 0 -5.4 0M364.6 312.8a2.7 2.7 0 1 0 5.4 0a2.7 2.7 0 1 0 -5.4 0M367.2 308.9a2.7 2.7 0 1 0 5.4 0a2.7 2.7 0 1 0 -5.4 0M367.8 306.4a2.7 2.7 0 1 0 5.4 0a2.7 2.7 0 1 0 -5.4 0M368.2 307.9a2.7 2.7 0 1 0 5.4 0a2.7 2.7 0 1 0 -5.4 0M368.6 311a2.7 2.7 0 1 0 5.4 0a2.7 2.7 0 1 0 -5.4 0M370 306a2.7 2.7 0 1 0 5.4 0a2.7 2.7 0 1 0 -5.4 0M370.1 309.9a2.7 2.7 0 1 0 5.4 0a2.7 2.7 0 1 0 -5.4 0M371.1 308.4a2.7 2.7 0 1 0 5.4 0a2.7 2.7 0 1 0 -5.4 0M371.3 310.1a2.7 2.7 0 1 0 5.4 0a2.7 2.7 0 1 0 -5.4 0M371.4 312.7a2.7 2.7 0 1 0 5.4 0a2.7 2.7 0 1 0 -5.4 0M372.7 312.7a2.7 2.7 0 1 0 5.4 0a2.7 2.7 0 1 0 -5.4 0M373.1 310.3a2.7 2.7 0 1 0 5.4 0a2.7 2.7 0 1 0 -5.4 0M373.5 310.9a2.7 2.7 0 1 0 5.4 0a2.7 2.7 0 1 0 -5.4 0M374.2 313a2.7 2.7 0 1 0 5.4 0a2.7 2.7 0 1 0 -5.4 0M374.7 307.4a2.7 2.7 0 1 0 5.4 0a2.7 2.7 0 1 0 -5.4 0M375.2 310.8a2.7 2.7 0 1 0 5.4 0a2.7 2.7 0 1 0 -5.4 0M375.4 306.1a2.7 2.7 0 1 0 5.4 0a2.7 2.7 0 1 0 -5.4 0M375.6 314.8a2.7 2.7 0 1 0 5.4 0a2.7 2.7 0 1 0 -5.4 0M376.2 310.7a2.7 2.7 0 1 0 5.4 0a2.7 2.7 0 1 0 -5.4 0M376.6 305.7a2.7 2.7 0 1 0 5.4 0a2.7 2.7 0 1 0 -5.4 0M376.7 308.6a2.7 2.7 0 1 0 5.4 0a2.7 2.7 0 1 0 -5.4 0M377.4 313.1a2.7 2.7 0 1 0 5.4 0a2.7 2.7 0 1 0 -5.4 0M382.9 311.6a2.7 2.7 0 1 0 5.4 0a2.7 2.7 0 1 0 -5.4 0M383.3 304.6a2.7 2.7 0 1 0 5.4 0a2.7 2.7 0 1 0 -5.4 0M384 317.1a2.7 2.7 0 1 0 5.4 0a2.7 2.7 0 1 0 -5.4 0M384.2 311.5a2.7 2.7 0 1 0 5.4 0a2.7 2.7 0 1 0 -5.4 0M384.8 312.1a2.7 2.7 0 1 0 5.4 0a2.7 2.7 0 1 0 -5.4 0M388 309.7a2.7 2.7 0 1 0 5.4 0a2.7 2.7 0 1 0 -5.4 0M389.1 308a2.7 2.7 0 1 0 5.4 0a2.7 2.7 0 1 0 -5.4 0M389.4 305.4a2.7 2.7 0 1 0 5.4 0a2.7 2.7 0 1 0 -5.4 0M391.4 311.6a2.7 2.7 0 1 0 5.4 0a2.7 2.7 0 1 0 -5.4 0M394.6 311.1a2.7 2.7 0 1 0 5.4 0a2.7 2.7 0 1 0 -5.4 0M395.5 310.3a2.7 2.7 0 1 0 5.4 0a2.7 2.7 0 1 0 -5.4 0M395.9 314a2.7 2.7 0 1 0 5.4 0a2.7 2.7 0 1 0 -5.4 0M396.7 312.4a2.7 2.7 0 1 0 5.4 0a2.7 2.7 0 1 0 -5.4 0M397 307.5a2.7 2.7 0 1 0 5.4 0a2.7 2.7 0 1 0 -5.4 0M399.8 309.9a2.7 2.7 0 1 0 5.4 0a2.7 2.7 0 1 0 -5.4 0M400.1 315.6a2.7 2.7 0 1 0 5.4 0a2.7 2.7 0 1 0 -5.4 0M400.2 306.4a2.7 2.7 0 1 0 5.4 0a2.7 2.7 0 1 0 -5.4 0M400.5 319.3a2.7 2.7 0 1 0 5.4 0a2.7 2.7 0 1 0 -5.4 0M402.8 309.7a2.7 2.7 0 1 0 5.4 0a2.7 2.7 0 1 0 -5.4 0M403.4 321.1a2.7 2.7 0 1 0 5.4 0a2.7 2.7 0 1 0 -5.4 0M403.9 313.4a2.7 2.7 0 1 0 5.4 0a2.7 2.7 0 1 0 -5.4 0M404.4 306a2.7 2.7 0 1 0 5.4 0a2.7 2.7 0 1 0 -5.4 0M404.4 313.5a2.7 2.7 0 1 0 5.4 0a2.7 2.7 0 1 0 -5.4 0M404.4 312.2a2.7 2.7 0 1 0 5.4 0a2.7 2.7 0 1 0 -5.4 0M404.7 310.3a2.7 2.7 0 1 0 5.4 0a2.7 2.7 0 1 0 -5.4 0M406.8 312.2a2.7 2.7 0 1 0 5.4 0a2.7 2.7 0 1 0 -5.4 0M407 312.3a2.7 2.7 0 1 0 5.4 0a2.7 2.7 0 1 0 -5.4 0M408.5 300.3a2.7 2.7 0 1 0 5.4 0a2.7 2.7 0 1 0 -5.4 0M408.5 314.9a2.7 2.7 0 1 0 5.4 0a2.7 2.7 0 1 0 -5.4 0M408.9 311.2a2.7 2.7 0 1 0 5.4 0a2.7 2.7 0 1 0 -5.4 0M409.2 312.4a2.7 2.7 0 1 0 5.4 0a2.7 2.7 0 1 0 -5.4 0M411.2 315.1a2.7 2.7 0 1 0 5.4 0a2.7 2.7 0 1 0 -5.4 0M411.9 312.6a2.7 2.7 0 1 0 5.4 0a2.7 2.7 0 1 0 -5.4 0M411.9 308.1a2.7 2.7 0 1 0 5.4 0a2.7 2.7 0 1 0 -5.4 0M412.3 315.6a2.7 2.7 0 1 0 5.4 0a2.7 2.7 0 1 0 -5.4 0M414.6 311.8a2.7 2.7 0 1 0 5.4 0a2.7 2.7 0 1 0 -5.4 0M415.6 313.9a2.7 2.7 0 1 0 5.4 0a2.7 2.7 0 1 0 -5.4 0M415.8 310.5a2.7 2.7 0 1 0 5.4 0a2.7 2.7 0 1 0 -5.4 0M415.8 312.5a2.7 2.7 0 1 0 5.4 0a2.7 2.7 0 1 0 -5.4 0M416.4 309.5a2.7 2.7 0 1 0 5.4 0a2.7 2.7 0 1 0 -5.4 0M416.6 319a2.7 2.7 0 1 0 5.4 0a2.7 2.7 0 1 0 -5.4 0M416.7 309.3a2.7 2.7 0 1 0 5.4 0a2.7 2.7 0 1 0 -5.4 0M416.8 316.8a2.7 2.7 0 1 0 5.4 0a2.7 2.7 0 1 0 -5.4 0M418.1 306.5a2.7 2.7 0 1 0 5.4 0a2.7 2.7 0 1 0 -5.4 0M420.5 314.8a2.7 2.7 0 1 0 5.4 0a2.7 2.7 0 1 0 -5.4 0M421.5 313a2.7 2.7 0 1 0 5.4 0a2.7 2.7 0 1 0 -5.4 0M424.4 318.3a2.7 2.7 0 1 0 5.4 0a2.7 2.7 0 1 0 -5.4 0M424.6 315.5a2.7 2.7 0 1 0 5.4 0a2.7 2.7 0 1 0 -5.4 0M426.1 323.4a2.7 2.7 0 1 0 5.4 0a2.7 2.7 0 1 0 -5.4 0M427.5 326.2a2.7 2.7 0 1 0 5.4 0a2.7 2.7 0 1 0 -5.4 0M428.4 313.6a2.7 2.7 0 1 0 5.4 0a2.7 2.7 0 1 0 -5.4 0M429.7 318.5a2.7 2.7 0 1 0 5.4 0a2.7 2.7 0 1 0 -5.4 0M431.3 312.8a2.7 2.7 0 1 0 5.4 0a2.7 2.7 0 1 0 -5.4 0M431.6 312.8a2.7 2.7 0 1 0 5.4 0a2.7 2.7 0 1 0 -5.4 0M433.2 316.6a2.7 2.7 0 1 0 5.4 0a2.7 2.7 0 1 0 -5.4 0M433.3 320.2a2.7 2.7 0 1 0 5.4 0a2.7 2.7 0 1 0 -5.4 0M433.6 319.4a2.7 2.7 0 1 0 5.4 0a2.7 2.7 0 1 0 -5.4 0M435.5 316.8a2.7 2.7 0 1 0 5.4 0a2.7 2.7 0 1 0 -5.4 0M436.3 321.9a2.7 2.7 0 1 0 5.4 0a2.7 2.7 0 1 0 -5.4 0M436.3 313.3a2.7 2.7 0 1 0 5.4 0a2.7 2.7 0 1 0 -5.4 0M436.6 314.4a2.7 2.7 0 1 0 5.4 0a2.7 2.7 0 1 0 -5.4 0M441.7 318.9a2.7 2.7 0 1 0 5.4 0a2.7 2.7 0 1 0 -5.4 0M442.4 312.6a2.7 2.7 0 1 0 5.4 0a2.7 2.7 0 1 0 -5.4 0M442.8 324.6a2.7 2.7 0 1 0 5.4 0a2.7 2.7 0 1 0 -5.4 0M443.4 319.2a2.7 2.7 0 1 0 5.4 0a2.7 2.7 0 1 0 -5.4 0M445.1 318.9a2.7 2.7 0 1 0 5.4 0a2.7 2.7 0 1 0 -5.4 0M445.4 321.9a2.7 2.7 0 1 0 5.4 0a2.7 2.7 0 1 0 -5.4 0M446.5 315.5a2.7 2.7 0 1 0 5.4 0a2.7 2.7 0 1 0 -5.4 0M452.3 321.4a2.7 2.7 0 1 0 5.4 0a2.7 2.7 0 1 0 -5.4 0M452.3 315.4a2.7 2.7 0 1 0 5.4 0a2.7 2.7 0 1 0 -5.4 0M453.5 321.4a2.7 2.7 0 1 0 5.4 0a2.7 2.7 0 1 0 -5.4 0M454 322.6a2.7 2.7 0 1 0 5.4 0a2.7 2.7 0 1 0 -5.4 0M454 328.1a2.7 2.7 0 1 0 5.4 0a2.7 2.7 0 1 0 -5.4 0M454.2 322.2a2.7 2.7 0 1 0 5.4 0a2.7 2.7 0 1 0 -5.4 0M454.4 327.3a2.7 2.7 0 1 0 5.4 0a2.7 2.7 0 1 0 -5.4 0M454.6 322.2a2.7 2.7 0 1 0 5.4 0a2.7 2.7 0 1 0 -5.4 0M455.6 316.3a2.7 2.7 0 1 0 5.4 0a2.7 2.7 0 1 0 -5.4 0M456.6 325.4a2.7 2.7 0 1 0 5.4 0a2.7 2.7 0 1 0 -5.4 0M456.8 322.8a2.7 2.7 0 1 0 5.4 0a2.7 2.7 0 1 0 -5.4 0M457.9 320.5a2.7 2.7 0 1 0 5.4 0a2.7 2.7 0 1 0 -5.4 0M458.9 326.3a2.7 2.7 0 1 0 5.4 0a2.7 2.7 0 1 0 -5.4 0M464.1 319.1a2.7 2.7 0 1 0 5.4 0a2.7 2.7 0 1 0 -5.4 0M466.4 321.6a2.7 2.7 0 1 0 5.4 0a2.7 2.7 0 1 0 -5.4 0M466.7 325.7a2.7 2.7 0 1 0 5.4 0a2.7 2.7 0 1 0 -5.4 0M468.7 326.1a2.7 2.7 0 1 0 5.4 0a2.7 2.7 0 1 0 -5.4 0M468.7 320.4a2.7 2.7 0 1 0 5.4 0a2.7 2.7 0 1 0 -5.4 0M468.9 324a2.7 2.7 0 1 0 5.4 0a2.7 2.7 0 1 0 -5.4 0M470.3 323a2.7 2.7 0 1 0 5.4 0a2.7 2.7 0 1 0 -5.4 0M473.6 324.7a2.7 2.7 0 1 0 5.4 0a2.7 2.7 0 1 0 -5.4 0M473.7 321.2a2.7 2.7 0 1 0 5.4 0a2.7 2.7 0 1 0 -5.4 0M478.4 312a2.7 2.7 0 1 0 5.4 0a2.7 2.7 0 1 0 -5.4 0M478.5 319.3a2.7 2.7 0 1 0 5.4 0a2.7 2.7 0 1 0 -5.4 0M479.6 327a2.7 2.7 0 1 0 5.4 0a2.7 2.7 0 1 0 -5.4 0M481 316.4a2.7 2.7 0 1 0 5.4 0a2.7 2.7 0 1 0 -5.4 0M481.2 319.1a2.7 2.7 0 1 0 5.4 0a2.7 2.7 0 1 0 -5.4 0M481.9 323.3a2.7 2.7 0 1 0 5.4 0a2.7 2.7 0 1 0 -5.4 0M482.8 318.4a2.7 2.7 0 1 0 5.4 0a2.7 2.7 0 1 0 -5.4 0M483.2 314.4a2.7 2.7 0 1 0 5.4 0a2.7 2.7 0 1 0 -5.4 0M483.2 319.1a2.7 2.7 0 1 0 5.4 0a2.7 2.7 0 1 0 -5.4 0M483.5 318.2a2.7 2.7 0 1 0 5.4 0a2.7 2.7 0 1 0 -5.4 0M484 315.1a2.7 2.7 0 1 0 5.4 0a2.7 2.7 0 1 0 -5.4 0M484.1 318.2a2.7 2.7 0 1 0 5.4 0a2.7 2.7 0 1 0 -5.4 0M487.4 311a2.7 2.7 0 1 0 5.4 0a2.7 2.7 0 1 0 -5.4 0M488.6 309.6a2.7 2.7 0 1 0 5.4 0a2.7 2.7 0 1 0 -5.4 0M488.7 311.6a2.7 2.7 0 1 0 5.4 0a2.7 2.7 0 1 0 -5.4 0M490.2 315.2a2.7 2.7 0 1 0 5.4 0a2.7 2.7 0 1 0 -5.4 0M490.5 315.9a2.7 2.7 0 1 0 5.4 0a2.7 2.7 0 1 0 -5.4 0M490.9 312.8a2.7 2.7 0 1 0 5.4 0a2.7 2.7 0 1 0 -5.4 0M491.3 320.6a2.7 2.7 0 1 0 5.4 0a2.7 2.7 0 1 0 -5.4 0M491.5 318.2a2.7 2.7 0 1 0 5.4 0a2.7 2.7 0 1 0 -5.4 0M494.1 314.2a2.7 2.7 0 1 0 5.4 0a2.7 2.7 0 1 0 -5.4 0M494.8 319.1a2.7 2.7 0 1 0 5.4 0a2.7 2.7 0 1 0 -5.4 0M496 320.2a2.7 2.7 0 1 0 5.4 0a2.7 2.7 0 1 0 -5.4 0M496.3 316.2a2.7 2.7 0 1 0 5.4 0a2.7 2.7 0 1 0 -5.4 0M496.4 309.8a2.7 2.7 0 1 0 5.4 0a2.7 2.7 0 1 0 -5.4 0M497.1 316.4a2.7 2.7 0 1 0 5.4 0a2.7 2.7 0 1 0 -5.4 0M497.9 317.7a2.7 2.7 0 1 0 5.4 0a2.7 2.7 0 1 0 -5.4 0M498.3 313.6a2.7 2.7 0 1 0 5.4 0a2.7 2.7 0 1 0 -5.4 0M499.6 310.2a2.7 2.7 0 1 0 5.4 0a2.7 2.7 0 1 0 -5.4 0M502.3 310.5a2.7 2.7 0 1 0 5.4 0a2.7 2.7 0 1 0 -5.4 0M503.1 310.3a2.7 2.7 0 1 0 5.4 0a2.7 2.7 0 1 0 -5.4 0M503.2 299.5a2.7 2.7 0 1 0 5.4 0a2.7 2.7 0 1 0 -5.4 0M504.6 315.7a2.7 2.7 0 1 0 5.4 0a2.7 2.7 0 1 0 -5.4 0M505.1 307.7a2.7 2.7 0 1 0 5.4 0a2.7 2.7 0 1 0 -5.4 0M505.6 317.1a2.7 2.7 0 1 0 5.4 0a2.7 2.7 0 1 0 -5.4 0M506.4 307.1a2.7 2.7 0 1 0 5.4 0a2.7 2.7 0 1 0 -5.4 0M506.7 302.6a2.7 2.7 0 1 0 5.4 0a2.7 2.7 0 1 0 -5.4 0M507.3 310.3a2.7 2.7 0 1 0 5.4 0a2.7 2.7 0 1 0 -5.4 0M507.8 306.4a2.7 2.7 0 1 0 5.4 0a2.7 2.7 0 1 0 -5.4 0M507.9 310.3a2.7 2.7 0 1 0 5.4 0a2.7 2.7 0 1 0 -5.4 0M508.2 303.6a2.7 2.7 0 1 0 5.4 0a2.7 2.7 0 1 0 -5.4 0M510.1 302.4a2.7 2.7 0 1 0 5.4 0a2.7 2.7 0 1 0 -5.4 0M512.8 299.9a2.7 2.7 0 1 0 5.4 0a2.7 2.7 0 1 0 -5.4 0M513.1 299.7a2.7 2.7 0 1 0 5.4 0a2.7 2.7 0 1 0 -5.4 0M513.3 305.1a2.7 2.7 0 1 0 5.4 0a2.7 2.7 0 1 0 -5.4 0M513.3 296.7a2.7 2.7 0 1 0 5.4 0a2.7 2.7 0 1 0 -5.4 0M515.2 302.9a2.7 2.7 0 1 0 5.4 0a2.7 2.7 0 1 0 -5.4 0M516.3 307a2.7 2.7 0 1 0 5.4 0a2.7 2.7 0 1 0 -5.4 0M517.6 296.1a2.7 2.7 0 1 0 5.4 0a2.7 2.7 0 1 0 -5.4 0M518.1 299.6a2.7 2.7 0 1 0 5.4 0a2.7 2.7 0 1 0 -5.4 0M518.1 296.8a2.7 2.7 0 1 0 5.4 0a2.7 2.7 0 1 0 -5.4 0M518.3 298.7a2.7 2.7 0 1 0 5.4 0a2.7 2.7 0 1 0 -5.4 0M520.7 300.3a2.7 2.7 0 1 0 5.4 0a2.7 2.7 0 1 0 -5.4 0M522.1 302.5a2.7 2.7 0 1 0 5.4 0a2.7 2.7 0 1 0 -5.4 0M522.1 303.5a2.7 2.7 0 1 0 5.4 0a2.7 2.7 0 1 0 -5.4 0M523.5 295.2a2.7 2.7 0 1 0 5.4 0a2.7 2.7 0 1 0 -5.4 0M525.5 301.3a2.7 2.7 0 1 0 5.4 0a2.7 2.7 0 1 0 -5.4 0M526.6 294.7a2.7 2.7 0 1 0 5.4 0a2.7 2.7 0 1 0 -5.4 0M527.4 291.9a2.7 2.7 0 1 0 5.4 0a2.7 2.7 0 1 0 -5.4 0M528.9 292.7a2.7 2.7 0 1 0 5.4 0a2.7 2.7 0 1 0 -5.4 0M530.9 287.9a2.7 2.7 0 1 0 5.4 0a2.7 2.7 0 1 0 -5.4 0M531.8 298a2.7 2.7 0 1 0 5.4 0a2.7 2.7 0 1 0 -5.4 0M533.5 289.4a2.7 2.7 0 1 0 5.4 0a2.7 2.7 0 1 0 -5.4 0M533.8 299.4a2.7 2.7 0 1 0 5.4 0a2.7 2.7 0 1 0 -5.4 0M533.8 311.4a2.7 2.7 0 1 0 5.4 0a2.7 2.7 0 1 0 -5.4 0M534.5 294.4a2.7 2.7 0 1 0 5.4 0a2.7 2.7 0 1 0 -5.4 0M534.5 288.8a2.7 2.7 0 1 0 5.4 0a2.7 2.7 0 1 0 -5.4 0M535.4 301.2a2.7 2.7 0 1 0 5.4 0a2.7 2.7 0 1 0 -5.4 0M536.2 295.2a2.7 2.7 0 1 0 5.4 0a2.7 2.7 0 1 0 -5.4 0M536.6 300.2a2.7 2.7 0 1 0 5.4 0a2.7 2.7 0 1 0 -5.4 0M538.1 301.9a2.7 2.7 0 1 0 5.4 0a2.7 2.7 0 1 0 -5.4 0M539.6 304.9a2.7 2.7 0 1 0 5.4 0a2.7 2.7 0 1 0 -5.4 0M540.3 315a2.7 2.7 0 1 0 5.4 0a2.7 2.7 0 1 0 -5.4 0M541.6 308.5a2.7 2.7 0 1 0 5.4 0a2.7 2.7 0 1 0 -5.4 0M541.8 308.6a2.7 2.7 0 1 0 5.4 0a2.7 2.7 0 1 0 -5.4 0M541.8 307.1a2.7 2.7 0 1 0 5.4 0a2.7 2.7 0 1 0 -5.4 0M542.2 305.1a2.7 2.7 0 1 0 5.4 0a2.7 2.7 0 1 0 -5.4 0M542.3 305.8a2.7 2.7 0 1 0 5.4 0a2.7 2.7 0 1 0 -5.4 0M542.6 304.5a2.7 2.7 0 1 0 5.4 0a2.7 2.7 0 1 0 -5.4 0M543.3 314.2a2.7 2.7 0 1 0 5.4 0a2.7 2.7 0 1 0 -5.4 0M543.4 310.1a2.7 2.7 0 1 0 5.4 0a2.7 2.7 0 1 0 -5.4 0M543.5 313.8a2.7 2.7 0 1 0 5.4 0a2.7 2.7 0 1 0 -5.4 0M543.9 313.2a2.7 2.7 0 1 0 5.4 0a2.7 2.7 0 1 0 -5.4 0M544.3 322a2.7 2.7 0 1 0 5.4 0a2.7 2.7 0 1 0 -5.4 0M544.5 313a2.7 2.7 0 1 0 5.4 0a2.7 2.7 0 1 0 -5.4 0M544.9 316.8a2.7 2.7 0 1 0 5.4 0a2.7 2.7 0 1 0 -5.4 0M544.9 311.9a2.7 2.7 0 1 0 5.4 0a2.7 2.7 0 1 0 -5.4 0M545.1 319.6a2.7 2.7 0 1 0 5.4 0a2.7 2.7 0 1 0 -5.4 0M546.2 317.2a2.7 2.7 0 1 0 5.4 0a2.7 2.7 0 1 0 -5.4 0M546.6 319.2a2.7 2.7 0 1 0 5.4 0a2.7 2.7 0 1 0 -5.4 0M547.1 315.1a2.7 2.7 0 1 0 5.4 0a2.7 2.7 0 1 0 -5.4 0M547.4 323.7a2.7 2.7 0 1 0 5.4 0a2.7 2.7 0 1 0 -5.4 0M547.7 329a2.7 2.7 0 1 0 5.4 0a2.7 2.7 0 1 0 -5.4 0M548.1 329a2.7 2.7 0 1 0 5.4 0a2.7 2.7 0 1 0 -5.4 0M548.4 320.6a2.7 2.7 0 1 0 5.4 0a2.7 2.7 0 1 0 -5.4 0M548.9 330.1a2.7 2.7 0 1 0 5.4 0a2.7 2.7 0 1 0 -5.4 0M549 324.3a2.7 2.7 0 1 0 5.4 0a2.7 2.7 0 1 0 -5.4 0M549.1 321.3a2.7 2.7 0 1 0 5.4 0a2.7 2.7 0 1 0 -5.4 0M549.2 323a2.7 2.7 0 1 0 5.4 0a2.7 2.7 0 1 0 -5.4 0M549.3 332.9a2.7 2.7 0 1 0 5.4 0a2.7 2.7 0 1 0 -5.4 0M549.8 328.9a2.7 2.7 0 1 0 5.4 0a2.7 2.7 0 1 0 -5.4 0M550.8 329.7a2.7 2.7 0 1 0 5.4 0a2.7 2.7 0 1 0 -5.4 0M550.9 336.4a2.7 2.7 0 1 0 5.4 0a2.7 2.7 0 1 0 -5.4 0M551.2 337.5a2.7 2.7 0 1 0 5.4 0a2.7 2.7 0 1 0 -5.4 0M551.2 335.3a2.7 2.7 0 1 0 5.4 0a2.7 2.7 0 1 0 -5.4 0M551.3 338.6a2.7 2.7 0 1 0 5.4 0a2.7 2.7 0 1 0 -5.4 0M551.3 335.5a2.7 2.7 0 1 0 5.4 0a2.7 2.7 0 1 0 -5.4 0M551.4 341.7a2.7 2.7 0 1 0 5.4 0a2.7 2.7 0 1 0 -5.4 0M552.1 343.3a2.7 2.7 0 1 0 5.4 0a2.7 2.7 0 1 0 -5.4 0M552.2 340.5a2.7 2.7 0 1 0 5.4 0a2.7 2.7 0 1 0 -5.4 0M552.2 342.4a2.7 2.7 0 1 0 5.4 0a2.7 2.7 0 1 0 -5.4 0M552.4 345a2.7 2.7 0 1 0 5.4 0a2.7 2.7 0 1 0 -5.4 0M552.4 341.7a2.7 2.7 0 1 0 5.4 0a2.7 2.7 0 1 0 -5.4 0M552.5 344a2.7 2.7 0 1 0 5.4 0a2.7 2.7 0 1 0 -5.4 0" fill="#fdc99d" stroke="#fbbf90" stroke-width="0.6"/>
<path d="M342.1 275.6V288.6M340.7 275.6h2.8M340.7 288.6h2.8M342.3 274.8V286M340.9 274.8h2.8M340.9 286h2.8M342.8 274.5V282.9M341.4 274.5h2.8M341.4 282.9h2.8M342.9 276.6V283.7M341.5 276.6h2.8M341.5 283.7h2.8M344.1 281.2V287.8M342.7 281.2h2.8M342.7 287.8h2.8M345 276.9V283.2M343.6 276.9h2.8M343.6 283.2h2.8M346 274V282.5M344.6 274h2.8M344.6 282.5h2.8M346.6 276.2V288.4M345.2 276.2h2.8M345.2 288.4h2.8M348.1 277V283.1M346.7 277h2.8M346.7 283.1h2.8M348.3 279.1V285.6M346.9 279.1h2.8M346.9 285.6h2.8M348.3 277V285.5M346.9 277h2.8M346.9 285.5h2.8M348.5 279.4V288.8M347.1 279.4h2.8M347.1 288.8h2.8M348.8 273.1V285.1M347.4 273.1h2.8M347.4 285.1h2.8M349.5 273V286.4M348.1 273h2.8M348.1 286.4h2.8M350.3 278.3V288.7M348.9 278.3h2.8M348.9 288.7h2.8M351.5 281.5V288.8M350.1 281.5h2.8M350.1 288.8h2.8M351.6 276.2V286.4M350.2 276.2h2.8M350.2 286.4h2.8M351.9 278.9V288.8M350.5 278.9h2.8M350.5 288.8h2.8M352.6 277.5V286.6M351.2 277.5h2.8M351.2 286.6h2.8M352.9 275.9V285.8M351.5 275.9h2.8M351.5 285.8h2.8M353 272V281.2M351.6 272h2.8M351.6 281.2h2.8M353.2 282.6V289.9M351.8 282.6h2.8M351.8 289.9h2.8M353.9 278.8V289M352.5 278.8h2.8M352.5 289h2.8M357.1 270.9V279.4M355.7 270.9h2.8M355.7 279.4h2.8M357.3 277.8V288.3M355.9 277.8h2.8M355.9 288.3h2.8M361.6 273.5V285.8M360.2 273.5h2.8M360.2 285.8h2.8M361.7 272.4V284.7M360.3 272.4h2.8M360.3 284.7h2.8M362.1 275V284.4M360.7 275h2.8M360.7 284.4h2.8M362.1 277.7V288.5M360.7 277.7h2.8M360.7 288.5h2.8M362.2 277.2V284.8M360.8 277.2h2.8M360.8 284.8h2.8M362.5 276.2V285.1M361.1 276.2h2.8M361.1 285.1h2.8M362.8 276.1V285.4M361.4 276.1h2.8M361.4 285.4h2.8M363.2 273.6V286.8M361.8 273.6h2.8M361.8 286.8h2.8M364.8 276V289.3M363.4 276h2.8M363.4 289.3h2.8M367.1 269.5V282.6M365.7 269.5h2.8M365.7 282.6h2.8M367.8 274V281.9M366.4 274h2.8M366.4 281.9h2.8M368 275.7V286.2M366.6 275.7h2.8M366.6 286.2h2.8M370 272.9V283.9M368.6 272.9h2.8M368.6 283.9h2.8M370 275.9V287.9M368.6 275.9h2.8M368.6 287.9h2.8M371.5 273.9V287.2M370.1 273.9h2.8M370.1 287.2h2.8M371.7 278.2V286.9M370.3 278.2h2.8M370.3 286.9h2.8M371.8 276.4V285.9M370.4 276.4h2.8M370.4 285.9h2.8M372.8 278.1V288.3M371.4 278.1h2.8M371.4 288.3h2.8M373.1 275.5V287.7M371.7 275.5h2.8M371.7 287.7h2.8M374.1 277.8V289.4M372.7 277.8h2.8M372.7 289.4h2.8M376.4 276.6V285.2M375 276.6h2.8M375 285.2h2.8M376.5 272.6V281.8M375.1 272.6h2.8M375.1 281.8h2.8M377.8 277V286.8M376.4 277h2.8M376.4 286.8h2.8M379.2 277V287M377.8 277h2.8M377.8 287h2.8M379.7 276.7V284.7M378.3 276.7h2.8M378.3 284.7h2.8M380.7 278V291.3M379.3 278h2.8M379.3 291.3h2.8M382 277.5V289.5M380.6 277.5h2.8M380.6 289.5h2.8M382.1 279.7V292.7M380.7 279.7h2.8M380.7 292.7h2.8M383.1 276V286.5M381.7 276h2.8M381.7 286.5h2.8M383.9 277.6V284.9M382.5 277.6h2.8M382.5 284.9h2.8M386.1 280.5V286.9M384.7 280.5h2.8M384.7 286.9h2.8M386.7 282.2V290.4M385.3 282.2h2.8M385.3 290.4h2.8M388.7 277.3V284M387.3 277.3h2.8M387.3 284h2.8M389.7 278.4V289.3M388.3 278.4h2.8M388.3 289.3h2.8M391.2 277V288.1M389.8 277h2.8M389.8 288.1h2.8M392.6 275.8V288.1M391.2 275.8h2.8M391.2 288.1h2.8M393.9 280.3V290.1M392.5 280.3h2.8M392.5 290.1h2.8M393.9 278.7V291.5M392.5 278.7h2.8M392.5 291.5h2.8M394.1 279.8V289.6M392.7 279.8h2.8M392.7 289.6h2.8M394.4 275.5V286.7M393 275.5h2.8M393 286.7h2.8M394.6 278.3V287.4M393.2 278.3h2.8M393.2 287.4h2.8M394.7 271.7V285.1M393.3 271.7h2.8M393.3 285.1h2.8M396.6 280V288.7M395.2 280h2.8M395.2 288.7h2.8M397.8 274V285.2M396.4 274h2.8M396.4 285.2h2.8M398.4 275.8V288.9M397 275.8h2.8M397 288.9h2.8M401.6 279V291.9M400.2 279h2.8M400.2 291.9h2.8M403.1 278.4V286.9M401.7 278.4h2.8M401.7 286.9h2.8M403.3 280.4V287M401.9 280.4h2.8M401.9 287h2.8M404.7 275.6V287.6M403.3 275.6h2.8M403.3 287.6h2.8M405.8 286.4V294.3M404.4 286.4h2.8M404.4 294.3h2.8M406.3 277.2V283.3M404.9 277.2h2.8M404.9 283.3h2.8M406.6 275.5V288.4M405.2 275.5h2.8M405.2 288.4h2.8M406.8 278.3V288M405.4 278.3h2.8M405.4 288h2.8M411.2 286.5V295.1M409.8 286.5h2.8M409.8 295.1h2.8M411.4 278.2V286.4M410 278.2h2.8M410 286.4h2.8M411.7 279.9V288.1M410.3 279.9h2.8M410.3 288.1h2.8M411.9 280.3V291.7M410.5 280.3h2.8M410.5 291.7h2.8M411.9 274.2V282.3M410.5 274.2h2.8M410.5 282.3h2.8M412.5 281.8V290.9M411.1 281.8h2.8M411.1 290.9h2.8M412.8 280.1V289.8M411.4 280.1h2.8M411.4 289.8h2.8M413.2 284.2V292M411.8 284.2h2.8M411.8 292h2.8M414.5 281.7V294.7M413.1 281.7h2.8M413.1 294.7h2.8M415.1 281.4V289.7M413.7 281.4h2.8M413.7 289.7h2.8M417 282.3V292.3M415.6 282.3h2.8M415.6 292.3h2.8M418.3 279.6V285.7M416.9 279.6h2.8M416.9 285.7h2.8M419 275.2V287.5M417.6 275.2h2.8M417.6 287.5h2.8M419 279.4V288.3M417.6 279.4h2.8M417.6 288.3h2.8M419.2 280.7V289.3M417.8 280.7h2.8M417.8 289.3h2.8M419.3 280.4V287M417.9 280.4h2.8M417.9 287h2.8M419.8 281.5V289.9M418.4 281.5h2.8M418.4 289.9h2.8M421.7 281.8V291M420.3 281.8h2.8M420.3 291h2.8M422.1 284.2V294.6M420.7 284.2h2.8M420.7 294.6h2.8M423.6 280.6V288.2M422.2 280.6h2.8M422.2 288.2h2.8M424.2 279.6V287.6M422.8 279.6h2.8M422.8 287.6h2.8M427.2 280.4V292.3M425.8 280.4h2.8M425.8 292.3h2.8M427.6 281.5V290M426.2 281.5h2.8M426.2 290h2.8M428.3 281V292.5M426.9 281h2.8M426.9 292.5h2.8M428.8 284.5V295.1M427.4 284.5h2.8M427.4 295.1h2.8M430.3 277.2V289M428.9 277.2h2.8M428.9 289h2.8M430.6 284.4V290.3M429.2 284.4h2.8M429.2 290.3h2.8M431.1 284.8V293.4M429.7 284.8h2.8M429.7 293.4h2.8M433.9 284.1V294.1M432.5 284.1h2.8M432.5 294.1h2.8M434.4 275.4V287.8M433 275.4h2.8M433 287.8h2.8M434.5 281.7V287.9M433.1 281.7h2.8M433.1 287.9h2.8M436 282.9V295.6M434.6 282.9h2.8M434.6 295.6h2.8M436.4 280.3V291.2M435 280.3h2.8M435 291.2h2.8M438.6 281.4V292.9M437.2 281.4h2.8M437.2 292.9h2.8M439.3 282.8V288.6M437.9 282.8h2.8M437.9 288.6h2.8M441.2 283.5V295.9M439.8 283.5h2.8M439.8 295.9h2.8M441.2 281.9V291.8M439.8 281.9h2.8M439.8 291.8h2.8M441.2 281.4V289.3M439.8 281.4h2.8M439.8 289.3h2.8M442.3 282.5V290.5M440.9 282.5h2.8M440.9 290.5h2.8M442.5 283.9V296.3M441.1 283.9h2.8M441.1 296.3h2.8M442.7 284.3V290.5M441.3 284.3h2.8M441.3 290.5h2.8M443 277.2V286.2M441.6 277.2h2.8M441.6 286.2h2.8M443.3 274.8V286.2M441.9 274.8h2.8M441.9 286.2h2.8M444.1 285.1V291.4M442.7 285.1h2.8M442.7 291.4h2.8M445.4 278.1V285.2M444 278.1h2.8M444 285.2h2.8M447.1 282.3V291.4M445.7 282.3h2.8M445.7 291.4h2.8M447.3 277.9V291M445.9 277.9h2.8M445.9 291h2.8M447.5 281.2V292.9M446.1 281.2h2.8M446.1 292.9h2.8M448.3 280.7V288M446.9 280.7h2.8M446.9 288h2.8M448.9 276.2V283.1M447.5 276.2h2.8M447.5 283.1h2.8M449.2 284.8V296.2M447.8 284.8h2.8M447.8 296.2h2.8M451.3 280.8V292.3M449.9 280.8h2.8M449.9 292.3h2.8M452.1 279.5V292.8M450.7 279.5h2.8M450.7 292.8h2.8M452.8 284.8V297.9M451.4 284.8h2.8M451.4 297.9h2.8M454.5 284.1V293.8M453.1 284.1h2.8M453.1 293.8h2.8M454.8 286.8V293.5M453.4 286.8h2.8M453.4 293.5h2.8M455.6 281.9V290.7M454.2 281.9h2.8M454.2 290.7h2.8M455.7 284.2V290.4M454.3 284.2h2.8M454.3 290.4h2.8M455.9 283.2V293.4M454.5 283.2h2.8M454.5 293.4h2.8M456.1 279.4V290.9M454.7 279.4h2.8M454.7 290.9h2.8M457 285.3V293.7M455.6 285.3h2.8M455.6 293.7h2.8M458.9 285.2V291.9M457.5 285.2h2.8M457.5 291.9h2.8M459.1 282.8V289.7M457.7 282.8h2.8M457.7 289.7h2.8M460.1 280.4V291.7M458.7 280.4h2.8M458.7 291.7h2.8M461.8 286V294.3M460.4 286h2.8M460.4 294.3h2.8M463.2 282.3V291.7M461.8 282.3h2.8M461.8 291.7h2.8M463.3 284.3V293.4M461.9 284.3h2.8M461.9 293.4h2.8M463.7 283.4V293.6M462.3 283.4h2.8M462.3 293.6h2.8M463.7 282.2V291.8M462.3 282.2h2.8M462.3 291.8h2.8M465 273.2V282M463.6 273.2h2.8M463.6 282h2.8M466.5 284.1V293.8M465.1 284.1h2.8M465.1 293.8h2.8M469.9 284.7V296.7M468.5 284.7h2.8M468.5 296.7h2.8M470 281.9V290.2M468.6 281.9h2.8M468.6 290.2h2.8M470.1 283.1V288.9M468.7 283.1h2.8M468.7 288.9h2.8M470.5 284.4V297.6M469.1 284.4h2.8M469.1 297.6h2.8M471.5 279.6V289M470.1 279.6h2.8M470.1 289h2.8M472.1 286.7V298M470.7 286.7h2.8M470.7 298h2.8M472.8 286.5V293.9M471.4 286.5h2.8M471.4 293.9h2.8M473.1 289.7V296.1M471.7 289.7h2.8M471.7 296.1h2.8M473.9 282.7V293.9M472.5 282.7h2.8M472.5 293.9h2.8M474.4 283.8V293.8M473 283.8h2.8M473 293.8h2.8M475 284.9V294M473.6 284.9h2.8M473.6 294h2.8M475.5 277.6V289.2M474.1 277.6h2.8M474.1 289.2h2.8M476.3 281.2V290.1M474.9 281.2h2.8M474.9 290.1h2.8M478.4 289.2V295.6M477 289.2h2.8M477 295.6h2.8M478.5 279.7V293.1M477.1 279.7h2.8M477.1 293.1h2.8M478.6 279.8V291.1M477.2 279.8h2.8M477.2 291.1h2.8M479.3 286.2V293.5M477.9 286.2h2.8M477.9 293.5h2.8M482.4 289V297.8M481 289h2.8M481 297.8h2.8M482.9 283.5V293.6M481.5 283.5h2.8M481.5 293.6h2.8M483.7 284.3V291.3M482.3 284.3h2.8M482.3 291.3h2.8M483.7 284.5V292.7M482.3 284.5h2.8M482.3 292.7h2.8M485.6 286.6V293.5M484.2 286.6h2.8M484.2 293.5h2.8M485.7 280V286.6M484.3 280h2.8M484.3 286.6h2.8M485.8 284.3V295.3M484.4 284.3h2.8M484.4 295.3h2.8M486.2 286V294M484.8 286h2.8M484.8 294h2.8M487.6 285.6V298.4M486.2 285.6h2.8M486.2 298.4h2.8M490.4 288.5V295M489 288.5h2.8M489 295h2.8M490.9 284.4V296.2M489.5 284.4h2.8M489.5 296.2h2.8M491.6 291.2V298.2M490.2 291.2h2.8M490.2 298.2h2.8M491.7 284.4V291.6M490.3 284.4h2.8M490.3 291.6h2.8M493 281.7V293M491.6 281.7h2.8M491.6 293h2.8M493.1 289.8V296.6M491.7 289.8h2.8M491.7 296.6h2.8M496.8 281.7V292.8M495.4 281.7h2.8M495.4 292.8h2.8M497 279.2V290.6M495.6 279.2h2.8M495.6 290.6h2.8M497.3 278.8V291.1M495.9 278.8h2.8M495.9 291.1h2.8M497.3 280.5V292.9M495.9 280.5h2.8M495.9 292.9h2.8M498.7 276.8V287M497.3 276.8h2.8M497.3 287h2.8M499 284V295.2M497.6 284h2.8M497.6 295.2h2.8M499.5 283V291.4M498.1 283h2.8M498.1 291.4h2.8M499.7 286.4V294.3M498.3 286.4h2.8M498.3 294.3h2.8M500.8 276.6V288.2M499.4 276.6h2.8M499.4 288.2h2.8M502.2 281.2V287.4M500.8 281.2h2.8M500.8 287.4h2.8M504.9 276.5V288.7M503.5 276.5h2.8M503.5 288.7h2.8M504.9 281.7V291.3M503.5 281.7h2.8M503.5 291.3h2.8M504.9 282.5V289.5M503.5 282.5h2.8M503.5 289.5h2.8M505 283.4V291M503.6 283.4h2.8M503.6 291h2.8M505.4 283.1V290.8M504 283.1h2.8M504 290.8h2.8M505.8 278V284M504.4 278h2.8M504.4 284h2.8M506.2 281.6V289.1M504.8 281.6h2.8M504.8 289.1h2.8M506.2 278.1V291.3M504.8 278.1h2.8M504.8 291.3h2.8M510 279V288M508.6 279h2.8M508.6 288h2.8M511.1 278.7V291.4M509.7 278.7h2.8M509.7 291.4h2.8M511.4 271V283.4M510 271h2.8M510 283.4h2.8M513.3 277.5V284.2M511.9 277.5h2.8M511.9 284.2h2.8M514.4 277V287M513 277h2.8M513 287h2.8M514.6 275.4V284.9M513.2 275.4h2.8M513.2 284.9h2.8M515.1 275.9V282.3M513.7 275.9h2.8M513.7 282.3h2.8M515.2 280.2V291.5M513.8 280.2h2.8M513.8 291.5h2.8M516.2 281.4V289.7M514.8 281.4h2.8M514.8 289.7h2.8M516.7 282.8V293.6M515.3 282.8h2.8M515.3 293.6h2.8M517.4 273.9V285.4M516 273.9h2.8M516 285.4h2.8M518.1 269.5V280.7M516.7 269.5h2.8M516.7 280.7h2.8M518.6 279.2V290.2M517.2 279.2h2.8M517.2 290.2h2.8M519.6 277.3V285.5M518.2 277.3h2.8M518.2 285.5h2.8M520.8 273.7V284.3M519.4 273.7h2.8M519.4 284.3h2.8M521.3 278.5V289.8M519.9 278.5h2.8M519.9 289.8h2.8M524 277.5V287.1M522.6 277.5h2.8M522.6 287.1h2.8M525.1 271.7V282.6M523.7 271.7h2.8M523.7 282.6h2.8M525.3 276.7V289.2M523.9 276.7h2.8M523.9 289.2h2.8M525.5 273.7V281.1M524.1 273.7h2.8M524.1 281.1h2.8M526.1 281V287.8M524.7 281h2.8M524.7 287.8h2.8M526.9 274.3V283.4M525.5 274.3h2.8M525.5 283.4h2.8M528.7 272V284.4M527.3 272h2.8M527.3 284.4h2.8M529.3 281.3V289.6M527.9 281.3h2.8M527.9 289.6h2.8M529.9 279.5V292.9M528.5 279.5h2.8M528.5 292.9h2.8M530.3 278.4V286.5M528.9 278.4h2.8M528.9 286.5h2.8M531.5 273.3V286.4M530.1 273.3h2.8M530.1 286.4h2.8M531.8 279.2V291.7M530.4 279.2h2.8M530.4 291.7h2.8M532 278.7V289.3M530.6 278.7h2.8M530.6 289.3h2.8M533.2 278.7V290.5M531.8 278.7h2.8M531.8 290.5h2.8M533.5 279V286.4M532.1 279h2.8M532.1 286.4h2.8M534.4 276.2V282.7M533 276.2h2.8M533 282.7h2.8M535.1 279.9V285.7M533.7 279.9h2.8M533.7 285.7h2.8M535.5 285.5V292.3M534.1 285.5h2.8M534.1 292.3h2.8M536 277.3V287.6M534.6 277.3h2.8M534.6 287.6h2.8M537.4 281.5V287.6M536 281.5h2.8M536 287.6h2.8M537.5 281.6V288M536.1 281.6h2.8M536.1 288h2.8M537.6 282.7V293.2M536.2 282.7h2.8M536.2 293.2h2.8M538.3 280.6V291.6M536.9 280.6h2.8M536.9 291.6h2.8M538.7 280.4V287.7M537.3 280.4h2.8M537.3 287.7h2.8M538.9 285.2V297.4M537.5 285.2h2.8M537.5 297.4h2.8M539.7 282.8V289.6M538.3 282.8h2.8M538.3 289.6h2.8M541.1 281.4V292.7M539.7 281.4h2.8M539.7 292.7h2.8M542.1 280.6V288.2M540.7 280.6h2.8M540.7 288.2h2.8M542.3 275.5V288.1M540.9 275.5h2.8M540.9 288.1h2.8M542.3 281.9V294M540.9 281.9h2.8M540.9 294h2.8M542.8 279.3V292.1M541.4 279.3h2.8M541.4 292.1h2.8M543.2 283.2V292.5M541.8 283.2h2.8M541.8 292.5h2.8M543.3 273.7V286.2M541.9 273.7h2.8M541.9 286.2h2.8M543.5 286.4V298M542.1 286.4h2.8M542.1 298h2.8M543.8 280.7V293.8M542.4 280.7h2.8M542.4 293.8h2.8M545.1 285.3V295M543.7 285.3h2.8M543.7 295h2.8M545.3 278.4V290.4M543.9 278.4h2.8M543.9 290.4h2.8M545.9 284.9V291.6M544.5 284.9h2.8M544.5 291.6h2.8M546.4 285.2V292.1M545 285.2h2.8M545 292.1h2.8M547.3 288.9V295.1M545.9 288.9h2.8M545.9 295.1h2.8M549.1 288.4V295.2M547.7 288.4h2.8M547.7 295.2h2.8M549.6 279.6V287M548.2 279.6h2.8M548.2 287h2.8M550.2 285.3V295.8M548.8 285.3h2.8M548.8 295.8h2.8M550.9 285.5V295.8M549.5 285.5h2.8M549.5 295.8h2.8M551.1 283V295.7M549.7 283h2.8M549.7 295.7h2.8M551.1 287.7V294.4M549.7 287.7h2.8M549.7 294.4h2.8M551.5 286.5V298.1M550.1 286.5h2.8M550.1 298.1h2.8M551.6 288.8V298.3M550.2 288.8h2.8M550.2 298.3h2.8M552.3 282.3V292.7M550.9 282.3h2.8M550.9 292.7h2.8M554.2 286V292.7M552.8 286h2.8M552.8 292.7h2.8M554.2 288.9V295.4M552.8 288.9h2.8M552.8 295.4h2.8M555.2 289.6V299.6M553.8 289.6h2.8M553.8 299.6h2.8M556.2 283.7V296.7M554.8 283.7h2.8M554.8 296.7h2.8M556.2 288.2V298.1M554.8 288.2h2.8M554.8 298.1h2.8M556.6 284.3V294.6M555.2 284.3h2.8M555.2 294.6h2.8M557.4 288.6V299.3M556 288.6h2.8M556 299.3h2.8M558.6 290.3V297.8M557.2 290.3h2.8M557.2 297.8h2.8M558.7 290.1V302.3M557.3 290.1h2.8M557.3 302.3h2.8M560.8 296.5V303.9M559.4 296.5h2.8M559.4 303.9h2.8M561.5 289.6V298.5M560.1 289.6h2.8M560.1 298.5h2.8M562 293.6V302.6M560.6 293.6h2.8M560.6 302.6h2.8M563.1 286.6V299.1M561.7 286.6h2.8M561.7 299.1h2.8M564.8 293.7V305.7M563.4 293.7h2.8M563.4 305.7h2.8M564.9 299.5V309M563.5 299.5h2.8M563.5 309h2.8M565.3 291.4V297.6M563.9 291.4h2.8M563.9 297.6h2.8M566.3 295.1V301.7M564.9 295.1h2.8M564.9 301.7h2.8M567.7 288.2V294.7M566.3 288.2h2.8M566.3 294.7h2.8M568.2 296.8V308.5M566.8 296.8h2.8M566.8 308.5h2.8M568.5 302.8V313.7M567.1 302.8h2.8M567.1 313.7h2.8M569.7 295.8V303.9M568.3 295.8h2.8M568.3 303.9h2.8M569.9 300.2V307.4M568.5 300.2h2.8M568.5 307.4h2.8M570.1 300.8V313.7M568.7 300.8h2.8M568.7 313.7h2.8M570.4 294.5V307.4M569 294.5h2.8M569 307.4h2.8M570.7 300.9V307.4M569.3 300.9h2.8M569.3 307.4h2.8M571.3 296.4V307.1M569.9 296.4h2.8M569.9 307.1h2.8M571.8 296.8V309.3M570.4 296.8h2.8M570.4 309.3h2.8M573.8 301.2V311.6M572.4 301.2h2.8M572.4 311.6h2.8M575.4 304.1V316.5M574 304.1h2.8M574 316.5h2.8M576.4 306.3V312.3M575 306.3h2.8M575 312.3h2.8M577.7 304.8V314.6M576.3 304.8h2.8M576.3 314.6h2.8M577.9 305.6V313.5M576.5 305.6h2.8M576.5 313.5h2.8M578.6 307.9V319.9M577.2 307.9h2.8M577.2 319.9h2.8M579.6 308.4V318M578.2 308.4h2.8M578.2 318h2.8M580.7 308.2V319.6M579.3 308.2h2.8M579.3 319.6h2.8M580.9 302.5V312.2M579.5 302.5h2.8M579.5 312.2h2.8" stroke="#e77589" stroke-width="0.8" fill="none"/>
<path d="M339.4 282.1a2.7 2.7 0 1 0 5.4 0a2.7 2.7 0 1 0 -5.4 0M339.6 280.4a2.7 2.7 0 1 0 5.4 0a2.7 2.7 0 1 0 -5.4 0M340.1 278.7a2.7 2.7 0 1 0 5.4 0a2.7 2.7 0 1 0 -5.4 0M340.2 280.2a2.7 2.7 0 1 0 5.4 0a2.7 2.7 0 1 0 -5.4 0M341.4 284.5a2.7 2.7 0 1 0 5.4 0a2.7 2.7 0 1 0 -5.4 0M342.3 280a2.7 2.7 0 1 0 5.4 0a2.7 2.7 0 1 0 -5.4 0M343.3 278.3a2.7 2.7 0 1 0 5.4 0a2.7 2.7 0 1 0 -5.4 0M343.9 282.3a2.7 2.7 0 1 0 5.4 0a2.7 2.7 0 1 0 -5.4 0M345.4 280.1a2.7 2.7 0 1 0 5.4 0a2.7 2.7 0 1 0 -5.4 0M345.6 282.4a2.7 2.7 0 1 0 5.4 0a2.7 2.7 0 1 0 -5.4 0M345.6 281.3a2.7 2.7 0 1 0 5.4 0a2.7 2.7 0 1 0 -5.4 0M345.8 284.1a2.7 2.7 0 1 0 5.4 0a2.7 2.7 0 1 0 -5.4 0M346.1 279.1a2.7 2.7 0 1 0 5.4 0a2.7 2.7 0 1 0 -5.4 0M346.8 279.7a2.7 2.7 0 1 0 5.4 0a2.7 2.7 0 1 0 -5.4 0M347.6 283.5a2.7 2.7 0 1 0 5.4 0a2.7 2.7 0 1 0 -5.4 0M348.8 285.1a2.7 2.7 0 1 0 5.4 0a2.7 2.7 0 1 0 -5.4 0M348.9 281.3a2.7 2.7 0 1 0 5.4 0a2.7 2.7 0 1 0 -5.4 0M349.2 283.9a2.7 2.7 0 1 0 5.4 0a2.7 2.7 0 1 0 -5.4 0M349.9 282a2.7 2.7 0 1 0 5.4 0a2.7 2.7 0 1 0 -5.4 0M350.2 280.8a2.7 2.7 0 1 0 5.4 0a2.7 2.7 0 1 0 -5.4 0M350.3 276.6a2.7 2.7 0 1 0 5.4 0a2.7 2.7 0 1 0 -5.4 0M350.5 286.2a2.7 2.7 0 1 0 5.4 0a2.7 2.7 0 1 0 -5.4 0M351.2 283.9a2.7 2.7 0 1 0 5.4 0a2.7 2.7 0 1 0 -5.4 0M354.4 275.1a2.7 2.7 0 1 0 5.4 0a2.7 2.7 0 1 0 -5.4 0M354.6 283a2.7 2.7 0 1 0 5.4 0a2.7 2.7 0 1 0 -5.4 0M358.9 279.6a2.7 2.7 0 1 0 5.4 0a2.7 2.7 0 1 0 -5.4 0M359 278.5a2.7 2.7 0 1 0 5.4 0a2.7 2.7 0 1 0 -5.4 0M359.4 279.7a2.7 2.7 0 1 0 5.4 0a2.7 2.7 0 1 0 -5.4 0M359.4 283.1a2.7 2.7 0 1 0 5.4 0a2.7 2.7 0 1 0 -5.4 0M359.5 281a2.7 2.7 0 1 0 5.4 0a2.7 2.7 0 1 0 -5.4 0M359.8 280.6a2.7 2.7 0 1 0 5.4 0a2.7 2.7 0 1 0 -5.4 0M360.1 280.8a2.7 2.7 0 1 0 5.4 0a2.7 2.7 0 1 0 -5.4 0M360.5 280.2a2.7 2.7 0 1 0 5.4 0a2.7 2.7 0 1 0 -5.4 0M362.1 282.6a2.7 2.7 0 1 0 5.4 0a2.7 2.7 0 1 0 -5.4 0M364.4 276.1a2.7 2.7 0 1 0 5.4 0a2.7 2.7 0 1 0 -5.4 0M365.1 277.9a2.7 2.7 0 1 0 5.4 0a2.7 2.7 0 1 0 -5.4 0M365.3 281a2.7 2.7 0 1 0 5.4 0a2.7 2.7 0 1 0 -5.4 0M367.3 278.4a2.7 2.7 0 1 0 5.4 0a2.7 2.7 0 1 0 -5.4 0M367.3 281.9a2.7 2.7 0 1 0 5.4 0a2.7 2.7 0 1 0 -5.4 0M368.8 280.6a2.7 2.7 0 1 0 5.4 0a2.7 2.7 0 1 0 -5.4 0M369 282.6a2.7 2.7 0 1 0 5.4 0a2.7 2.7 0 1 0 -5.4 0M369.1 281.1a2.7 2.7 0 1 0 5.4 0a2.7 2.7 0 1 0 -5.4 0M370.1 283.2a2.7 2.7 0 1 0 5.4 0a2.7 2.7 0 1 0 -5.4 0M370.4 281.6a2.7 2.7 0 1 0 5.4 0a2.7 2.7 0 1 0 -5.4 0M371.4 283.6a2.7 2.7 0 1 0 5.4 0a2.7 2.7 0 1 0 -5.4 0M373.7 280.9a2.7 2.7 0 1 0 5.4 0a2.7 2.7 0 1 0 -5.4 0M373.8 277.2a2.7 2.7 0 1 0 5.4 0a2.7 2.7 0 1 0 -5.4 0M375.1 281.9a2.7 2.7 0 1 0 5.4 0a2.7 2.7 0 1 0 -5.4 0M376.5 282a2.7 2.7 0 1 0 5.4 0a2.7 2.7 0 1 0 -5.4 0M377 280.7a2.7 2.7 0 1 0 5.4 0a2.7 2.7 0 1 0 -5.4 0M378 284.7a2.7 2.7 0 1 0 5.4 0a2.7 2.7 0 1 0 -5.4 0M379.3 283.5a2.7 2.7 0 1 0 5.4 0a2.7 2.7 0 1 0 -5.4 0M379.4 286.2a2.7 2.7 0 1 0 5.4 0a2.7 2.7 0 1 0 -5.4 0M380.4 281.2a2.7 2.7 0 1 0 5.4 0a2.7 2.7 0 1 0 -5.4 0M381.2 281.2a2.7 2.7 0 1 0 5.4 0a2.7 2.7 0 1 0 -5.4 0M383.4 283.7a2.7 2.7 0 1 0 5.4 0a2.7 2.7 0 1 0 -5.4 0M384 286.3a2.7 2.7 0 1 0 5.4 0a2.7 2.7 0 1 0 -5.4 0M386 280.7a2.7 2.7 0 1 0 5.4 0a2.7 2.7 0 1 0 -5.4 0M387 283.9a2.7 2.7 0 1 0 5.4 0a2.7 2.7 0 1 0 -5.4 0M388.5 282.5a2.7 2.7 0 1 0 5.4 0a2.7 2.7 0 1 0 -5.4 0M389.9 281.9a2.7 2.7 0 1 0 5.4 0a2.7 2.7 0 1 0 -5.4 0M391.2 285.2a2.7 2.7 0 1 0 5.4 0a2.7 2.7 0 1 0 -5.4 0M391.2 285.1a2.7 2.7 0 1 0 5.4 0a2.7 2.7 0 1 0 -5.4 0M391.4 284.7a2.7 2.7 0 1 0 5.4 0a2.7 2.7 0 1 0 -5.4 0M391.7 281.1a2.7 2.7 0 1 0 5.4 0a2.7 2.7 0 1 0 -5.4 0M391.9 282.8a2.7 2.7 0 1 0 5.4 0a2.7 2.7 0 1 0 -5.4 0M392 278.4a2.7 2.7 0 1 0 5.4 0a2.7 2.7 0 1 0 -5.4 0M393.9 284.4a2.7 2.7 0 1 0 5.4 0a2.7 2.7 0 1 0 -5.4 0M395.1 279.6a2.7 2.7 0 1 0 5.4 0a2.7 2.7 0 1 0 -5.4 0M395.7 282.3a2.7 2.7 0 1 0 5.4 0a2.7 2.7 0 1 0 -5.4 0M398.9 285.4a2.7 2.7 0 1 0 5.4 0a2.7 2.7 0 1 0 -5.4 0M400.4 282.6a2.7 2.7 0 1 0 5.4 0a2.7 2.7 0 1 0 -5.4 0M400.6 283.7a2.7 2.7 0 1 0 5.4 0a2.7 2.7 0 1 0 -5.4 0M402 281.6a2.7 2.7 0 1 0 5.4 0a2.7 2.7 0 1 0 -5.4 0M403.1 290.4a2.7 2.7 0 1 0 5.4 0a2.7 2.7 0 1 0 -5.4 0M403.6 280.2a2.7 2.7 0 1 0 5.4 0a2.7 2.7 0 1 0 -5.4 0M403.9 281.9a2.7 2.7 0 1 0 5.4 0a2.7 2.7 0 1 0 -5.4 0M404.1 283.1a2.7 2.7 0 1 0 5.4 0a2.7 2.7 0 1 0 -5.4 0M408.5 290.8a2.7 2.7 0 1 0 5.4 0a2.7 2.7 0 1 0 -5.4 0M408.7 282.3a2.7 2.7 0 1 0 5.4 0a2.7 2.7 0 1 0 -5.4 0M409 284a2.7 2.7 0 1 0 5.4 0a2.7 2.7 0 1 0 -5.4 0M409.2 286a2.7 2.7 0 1 0 5.4 0a2.7 2.7 0 1 0 -5.4 0M409.2 278.2a2.7 2.7 0 1 0 5.4 0a2.7 2.7 0 1 0 -5.4 0M409.8 286.3a2.7 2.7 0 1 0 5.4 0a2.7 2.7 0 1 0 -5.4 0M410.1 285a2.7 2.7 0 1 0 5.4 0a2.7 2.7 0 1 0 -5.4 0M410.5 288.1a2.7 2.7 0 1 0 5.4 0a2.7 2.7 0 1 0 -5.4 0M411.8 288.2a2.7 2.7 0 1 0 5.4 0a2.7 2.7 0 1 0 -5.4 0M412.4 285.5a2.7 2.7 0 1 0 5.4 0a2.7 2.7 0 1 0 -5.4 0M414.3 287.3a2.7 2.7 0 1 0 5.4 0a2.7 2.7 0 1 0 -5.4 0M415.6 282.7a2.7 2.7 0 1 0 5.4 0a2.7 2.7 0 1 0 -5.4 0M416.3 281.4a2.7 2.7 0 1 0 5.4 0a2.7 2.7 0 1 0 -5.4 0M416.3 283.8a2.7 2.7 0 1 0 5.4 0a2.7 2.7 0 1 0 -5.4 0M416.5 285a2.7 2.7 0 1 0 5.4 0a2.7 2.7 0 1 0 -5.4 0M416.6 283.7a2.7 2.7 0 1 0 5.4 0a2.7 2.7 0 1 0 -5.4 0M417.1 285.7a2.7 2.7 0 1 0 5.4 0a2.7 2.7 0 1 0 -5.4 0M419 286.4a2.7 2.7 0 1 0 5.4 0a2.7 2.7 0 1 0 -5.4 0M419.4 289.4a2.7 2.7 0 1 0 5.4 0a2.7 2.7 0 1 0 -5.4 0M420.9 284.4a2.7 2.7 0 1 0 5.4 0a2.7 2.7 0 1 0 -5.4 0M421.5 283.6a2.7 2.7 0 1 0 5.4 0a2.7 2.7 0 1 0 -5.4 0M424.5 286.4a2.7 2.7 0 1 0 5.4 0a2.7 2.7 0 1 0 -5.4 0M424.9 285.7a2.7 2.7 0 1 0 5.4 0a2.7 2.7 0 1 0 -5.4 0M425.6 286.7a2.7 2.7 0 1 0 5.4 0a2.7 2.7 0 1 0 -5.4 0M426.1 289.8a2.7 2.7 0 1 0 5.4 0a2.7 2.7 0 1 0 -5.4 0M427.6 283.1a2.7 2.7 0 1 0 5.4 0a2.7 2.7 0 1 0 -5.4 0M427.9 287.4a2.7 2.7 0 1 0 5.4 0a2.7 2.7 0 1 0 -5.4 0M428.4 289.1a2.7 2.7 0 1 0 5.4 0a2.7 2.7 0 1 0 -5.4 0M431.2 289.1a2.7 2.7 0 1 0 5.4 0a2.7 2.7 0 1 0 -5.4 0M431.7 281.6a2.7 2.7 0 1 0 5.4 0a2.7 2.7 0 1 0 -5.4 0M431.8 284.8a2.7 2.7 0 1 0 5.4 0a2.7 2.7 0 1 0 -5.4 0M433.3 289.2a2.7 2.7 0 1 0 5.4 0a2.7 2.7 0 1 0 -5.4 0M433.7 285.8a2.7 2.7 0 1 0 5.4 0a2.7 2.7 0 1 0 -5.4 0M435.9 287.2a2.7 2.7 0 1 0 5.4 0a2.7 2.7 0 1 0 -5.4 0M436.6 285.7a2.7 2.7 0 1 0 5.4 0a2.7 2.7 0 1 0 -5.4 0M438.5 289.7a2.7 2.7 0 1 0 5.4 0a2.7 2.7 0 1 0 -5.4 0M438.5 286.8a2.7 2.7 0 1 0 5.4 0a2.7 2.7 0 1 0 -5.4 0M438.5 285.3a2.7 2.7 0 1 0 5.4 0a2.7 2.7 0 1 0 -5.4 0M439.6 286.5a2.7 2.7 0 1 0 5.4 0a2.7 2.7 0 1 0 -5.4 0M439.8 290.1a2.7 2.7 0 1 0 5.4 0a2.7 2.7 0 1 0 -5.4 0M440 287.4a2.7 2.7 0 1 0 5.4 0a2.7 2.7 0 1 0 -5.4 0M440.3 281.7a2.7 2.7 0 1 0 5.4 0a2.7 2.7 0 1 0 -5.4 0M440.6 280.5a2.7 2.7 0 1 0 5.4 0a2.7 2.7 0 1 0 -5.4 0M441.4 288.2a2.7 2.7 0 1 0 5.4 0a2.7 2.7 0 1 0 -5.4 0M442.7 281.6a2.7 2.7 0 1 0 5.4 0a2.7 2.7 0 1 0 -5.4 0M444.4 286.9a2.7 2.7 0 1 0 5.4 0a2.7 2.7 0 1 0 -5.4 0M444.6 284.4a2.7 2.7 0 1 0 5.4 0a2.7 2.7 0 1 0 -5.4 0M444.8 287.1a2.7 2.7 0 1 0 5.4 0a2.7 2.7 0 1 0 -5.4 0M445.6 284.4a2.7 2.7 0 1 0 5.4 0a2.7 2.7 0 1 0 -5.4 0M446.2 279.7a2.7 2.7 0 1 0 5.4 0a2.7 2.7 0 1 0 -5.4 0M446.5 290.5a2.7 2.7 0 1 0 5.4 0a2.7 2.7 0 1 0 -5.4 0M448.6 286.5a2.7 2.7 0 1 0 5.4 0a2.7 2.7 0 1 0 -5.4 0M449.4 286.2a2.7 2.7 0 1 0 5.4 0a2.7 2.7 0 1 0 -5.4 0M450.1 291.3a2.7 2.7 0 1 0 5.4 0a2.7 2.7 0 1 0 -5.4 0M451.8 288.9a2.7 2.7 0 1 0 5.4 0a2.7 2.7 0 1 0 -5.4 0M452.1 290.2a2.7 2.7 0 1 0 5.4 0a2.7 2.7 0 1 0 -5.4 0M452.9 286.3a2.7 2.7 0 1 0 5.4 0a2.7 2.7 0 1 0 -5.4 0M453 287.3a2.7 2.7 0 1 0 5.4 0a2.7 2.7 0 1 0 -5.4 0M453.2 288.3a2.7 2.7 0 1 0 5.4 0a2.7 2.7 0 1 0 -5.4 0M453.4 285.1a2.7 2.7 0 1 0 5.4 0a2.7 2.7 0 1 0 -5.4 0M454.3 289.5a2.7 2.7 0 1 0 5.4 0a2.7 2.7 0 1 0 -5.4 0M456.2 288.5a2.7 2.7 0 1 0 5.4 0a2.7 2.7 0 1 0 -5.4 0M456.4 286.3a2.7 2.7 0 1 0 5.4 0a2.7 2.7 0 1 0 -5.4 0M457.4 286a2.7 2.7 0 1 0 5.4 0a2.7 2.7 0 1 0 -5.4 0M459.1 290.1a2.7 2.7 0 1 0 5.4 0a2.7 2.7 0 1 0 -5.4 0M460.5 287a2.7 2.7 0 1 0 5.4 0a2.7 2.7 0 1 0 -5.4 0M460.6 288.8a2.7 2.7 0 1 0 5.4 0a2.7 2.7 0 1 0 -5.4 0M461 288.5a2.7 2.7 0 1 0 5.4 0a2.7 2.7 0 1 0 -5.4 0M461 287a2.7 2.7 0 1 0 5.4 0a2.7 2.7 0 1 0 -5.4 0M462.3 277.6a2.7 2.7 0 1 0 5.4 0a2.7 2.7 0 1 0 -5.4 0M463.8 288.9a2.7 2.7 0 1 0 5.4 0a2.7 2.7 0 1 0 -5.4 0M467.2 290.7a2.7 2.7 0 1 0 5.4 0a2.7 2.7 0 1 0 -5.4 0M467.3 286a2.7 2.7 0 1 0 5.4 0a2.7 2.7 0 1 0 -5.4 0M467.4 286a2.7 2.7 0 1 0 5.4 0a2.7 2.7 0 1 0 -5.4 0M467.8 291a2.7 2.7 0 1 0 5.4 0a2.7 2.7 0 1 0 -5.4 0M468.8 284.3a2.7 2.7 0 1 0 5.4 0a2.7 2.7 0 1 0 -5.4 0M469.4 292.3a2.7 2.7 0 1 0 5.4 0a2.7 2.7 0 1 0 -5.4 0M470.1 290.2a2.7 2.7 0 1 0 5.4 0a2.7 2.7 0 1 0 -5.4 0M470.4 292.9a2.7 2.7 0 1 0 5.4 0a2.7 2.7 0 1 0 -5.4 0M471.2 288.3a2.7 2.7 0 1 0 5.4 0a2.7 2.7 0 1 0 -5.4 0M471.7 288.8a2.7 2.7 0 1 0 5.4 0a2.7 2.7 0 1 0 -5.4 0M472.3 289.5a2.7 2.7 0 1 0 5.4 0a2.7 2.7 0 1 0 -5.4 0M472.8 283.4a2.7 2.7 0 1 0 5.4 0a2.7 2.7 0 1 0 -5.4 0M473.6 285.7a2.7 2.7 0 1 0 5.4 0a2.7 2.7 0 1 0 -5.4 0M475.7 292.4a2.7 2.7 0 1 0 5.4 0a2.7 2.7 0 1 0 -5.4 0M475.8 286.4a2.7 2.7 0 1 0 5.4 0a2.7 2.7 0 1 0 -5.4 0M475.9 285.5a2.7 2.7 0 1 0 5.4 0a2.7 2.7 0 1 0 -5.4 0M476.6 289.8a2.7 2.7 0 1 0 5.4 0a2.7 2.7 0 1 0 -5.4 0M479.7 293.4a2.7 2.7 0 1 0 5.4 0a2.7 2.7 0 1 0 -5.4 0M480.2 288.6a2.7 2.7 0 1 0 5.4 0a2.7 2.7 0 1 0 -5.4 0M481 287.8a2.7 2.7 0 1 0 5.4 0a2.7 2.7 0 1 0 -5.4 0M481 288.6a2.7 2.7 0 1 0 5.4 0a2.7 2.7 0 1 0 -5.4 0M482.9 290.1a2.7 2.7 0 1 0 5.4 0a2.7 2.7 0 1 0 -5.4 0M483 283.3a2.7 2.7 0 1 0 5.4 0a2.7 2.7 0 1 0 -5.4 0M483.1 289.8a2.7 2.7 0 1 0 5.4 0a2.7 2.7 0 1 0 -5.4 0M483.5 290a2.7 2.7 0 1 0 5.4 0a2.7 2.7 0 1 0 -5.4 0M484.9 292a2.7 2.7 0 1 0 5.4 0a2.7 2.7 0 1 0 -5.4 0M487.7 291.8a2.7 2.7 0 1 0 5.4 0a2.7 2.7 0 1 0 -5.4 0M488.2 290.3a2.7 2.7 0 1 0 5.4 0a2.7 2.7 0 1 0 -5.4 0M488.9 294.7a2.7 2.7 0 1 0 5.4 0a2.7 2.7 0 1 0 -5.4 0M489 288a2.7 2.7 0 1 0 5.4 0a2.7 2.7 0 1 0 -5.4 0M490.3 287.4a2.7 2.7 0 1 0 5.4 0a2.7 2.7 0 1 0 -5.4 0M490.4 293.2a2.7 2.7 0 1 0 5.4 0a2.7 2.7 0 1 0 -5.4 0M494.1 287.3a2.7 2.7 0 1 0 5.4 0a2.7 2.7 0 1 0 -5.4 0M494.3 284.9a2.7 2.7 0 1 0 5.4 0a2.7 2.7 0 1 0 -5.4 0M494.6 284.9a2.7 2.7 0 1 0 5.4 0a2.7 2.7 0 1 0 -5.4 0M494.6 286.7a2.7 2.7 0 1 0 5.4 0a2.7 2.7 0 1 0 -5.4 0M496 281.9a2.7 2.7 0 1 0 5.4 0a2.7 2.7 0 1 0 -5.4 0M496.3 289.6a2.7 2.7 0 1 0 5.4 0a2.7 2.7 0 1 0 -5.4 0M496.8 287.2a2.7 2.7 0 1 0 5.4 0a2.7 2.7 0 1 0 -5.4 0M497 290.4a2.7 2.7 0 1 0 5.4 0a2.7 2.7 0 1 0 -5.4 0M498.1 282.4a2.7 2.7 0 1 0 5.4 0a2.7 2.7 0 1 0 -5.4 0M499.5 284.3a2.7 2.7 0 1 0 5.4 0a2.7 2.7 0 1 0 -5.4 0M502.2 282.6a2.7 2.7 0 1 0 5.4 0a2.7 2.7 0 1 0 -5.4 0M502.2 286.5a2.7 2.7 0 1 0 5.4 0a2.7 2.7 0 1 0 -5.4 0M502.2 286a2.7 2.7 0 1 0 5.4 0a2.7 2.7 0 1 0 -5.4 0M502.3 287.2a2.7 2.7 0 1 0 5.4 0a2.7 2.7 0 1 0 -5.4 0M502.7 286.9a2.7 2.7 0 1 0 5.4 0a2.7 2.7 0 1 0 -5.4 0M503.1 281a2.7 2.7 0 1 0 5.4 0a2.7 2.7 0 1 0 -5.4 0M503.5 285.4a2.7 2.7 0 1 0 5.4 0a2.7 2.7 0 1 0 -5.4 0M503.5 284.7a2.7 2.7 0 1 0 5.4 0a2.7 2.7 0 1 0 -5.4 0M507.3 283.5a2.7 2.7 0 1 0 5.4 0a2.7 2.7 0 1 0 -5.4 0M508.4 285.1a2.7 2.7 0 1 0 5.4 0a2.7 2.7 0 1 0 -5.4 0M508.7 277.2a2.7 2.7 0 1 0 5.4 0a2.7 2.7 0 1 0 -5.4 0M510.6 280.8a2.7 2.7 0 1 0 5.4 0a2.7 2.7 0 1 0 -5.4 0M511.7 282a2.7 2.7 0 1 0 5.4 0a2.7 2.7 0 1 0 -5.4 0M511.9 280.2a2.7 2.7 0 1 0 5.4 0a2.7 2.7 0 1 0 -5.4 0M512.4 279.1a2.7 2.7 0 1 0 5.4 0a2.7 2.7 0 1 0 -5.4 0M512.5 285.8a2.7 2.7 0 1 0 5.4 0a2.7 2.7 0 1 0 -5.4 0M513.5 285.6a2.7 2.7 0 1 0 5.4 0a2.7 2.7 0 1 0 -5.4 0M514 288.2a2.7 2.7 0 1 0 5.4 0a2.7 2.7 0 1 0 -5.4 0M514.7 279.6a2.7 2.7 0 1 0 5.4 0a2.7 2.7 0 1 0 -5.4 0M515.4 275.1a2.7 2.7 0 1 0 5.4 0a2.7 2.7 0 1 0 -5.4 0M515.9 284.7a2.7 2.7 0 1 0 5.4 0a2.7 2.7 0 1 0 -5.4 0M516.9 281.4a2.7 2.7 0 1 0 5.4 0a2.7 2.7 0 1 0 -5.4 0M518.1 279a2.7 2.7 0 1 0 5.4 0a2.7 2.7 0 1 0 -5.4 0M518.6 284.1a2.7 2.7 0 1 0 5.4 0a2.7 2.7 0 1 0 -5.4 0M521.3 282.3a2.7 2.7 0 1 0 5.4 0a2.7 2.7 0 1 0 -5.4 0M522.4 277.2a2.7 2.7 0 1 0 5.4 0a2.7 2.7 0 1 0 -5.4 0M522.6 283a2.7 2.7 0 1 0 5.4 0a2.7 2.7 0 1 0 -5.4 0M522.8 277.4a2.7 2.7 0 1 0 5.4 0a2.7 2.7 0 1 0 -5.4 0M523.4 284.4a2.7 2.7 0 1 0 5.4 0a2.7 2.7 0 1 0 -5.4 0M524.2 278.8a2.7 2.7 0 1 0 5.4 0a2.7 2.7 0 1 0 -5.4 0M526 278.2a2.7 2.7 0 1 0 5.4 0a2.7 2.7 0 1 0 -5.4 0M526.6 285.4a2.7 2.7 0 1 0 5.4 0a2.7 2.7 0 1 0 -5.4 0M527.2 286.2a2.7 2.7 0 1 0 5.4 0a2.7 2.7 0 1 0 -5.4 0M527.6 282.5a2.7 2.7 0 1 0 5.4 0a2.7 2.7 0 1 0 -5.4 0M528.8 279.9a2.7 2.7 0 1 0 5.4 0a2.7 2.7 0 1 0 -5.4 0M529.1 285.5a2.7 2.7 0 1 0 5.4 0a2.7 2.7 0 1 0 -5.4 0M529.3 284a2.7 2.7 0 1 0 5.4 0a2.7 2.7 0 1 0 -5.4 0M530.5 284.6a2.7 2.7 0 1 0 5.4 0a2.7 2.7 0 1 0 -5.4 0M530.8 282.7a2.7 2.7 0 1 0 5.4 0a2.7 2.7 0 1 0 -5.4 0M531.7 279.4a2.7 2.7 0 1 0 5.4 0a2.7 2.7 0 1 0 -5.4 0M532.4 282.8a2.7 2.7 0 1 0 5.4 0a2.7 2.7 0 1 0 -5.4 0M532.8 288.9a2.7 2.7 0 1 0 5.4 0a2.7 2.7 0 1 0 -5.4 0M533.3 282.4a2.7 2.7 0 1 0 5.4 0a2.7 2.7 0 1 0 -5.4 0M534.7 284.6a2.7 2.7 0 1 0 5.4 0a2.7 2.7 0 1 0 -5.4 0M534.8 284.8a2.7 2.7 0 1 0 5.4 0a2.7 2.7 0 1 0 -5.4 0M534.9 287.9a2.7 2.7 0 1 0 5.4 0a2.7 2.7 0 1 0 -5.4 0M535.6 286.1a2.7 2.7 0 1 0 5.4 0a2.7 2.7 0 1 0 -5.4 0M536 284a2.7 2.7 0 1 0 5.4 0a2.7 2.7 0 1 0 -5.4 0M536.2 291.3a2.7 2.7 0 1 0 5.4 0a2.7 2.7 0 1 0 -5.4 0M537 286.2a2.7 2.7 0 1 0 5.4 0a2.7 2.7 0 1 0 -5.4 0M538.4 287.1a2.7 2.7 0 1 0 5.4 0a2.7 2.7 0 1 0 -5.4 0M539.4 284.4a2.7 2.7 0 1 0 5.4 0a2.7 2.7 0 1 0 -5.4 0M539.6 281.8a2.7 2.7 0 1 0 5.4 0a2.7 2.7 0 1 0 -5.4 0M539.6 287.9a2.7 2.7 0 1 0 5.4 0a2.7 2.7 0 1 0 -5.4 0M540.1 285.7a2.7 2.7 0 1 0 5.4 0a2.7 2.7 0 1 0 -5.4 0M540.5 287.9a2.7 2.7 0 1 0 5.4 0a2.7 2.7 0 1 0 -5.4 0M540.6 280a2.7 2.7 0 1 0 5.4 0a2.7 2.7 0 1 0 -5.4 0M540.8 292.2a2.7 2.7 0 1 0 5.4 0a2.7 2.7 0 1 0 -5.4 0M541.1 287.2a2.7 2.7 0 1 0 5.4 0a2.7 2.7 0 1 0 -5.4 0M542.4 290.1a2.7 2.7 0 1 0 5.4 0a2.7 2.7 0 1 0 -5.4 0M542.6 284.4a2.7 2.7 0 1 0 5.4 0a2.7 2.7 0 1 0 -5.4 0M543.2 288.3a2.7 2.7 0 1 0 5.4 0a2.7 2.7 0 1 0 -5.4 0M543.7 288.6a2.7 2.7 0 1 0 5.4 0a2.7 2.7 0 1 0 -5.4 0M544.6 292a2.7 2.7 0 1 0 5.4 0a2.7 2.7 0 1 0 -5.4 0M546.4 291.8a2.7 2.7 0 1 0 5.4 0a2.7 2.7 0 1 0 -5.4 0M546.9 283.3a2.7 2.7 0 1 0 5.4 0a2.7 2.7 0 1 0 -5.4 0M547.5 290.5a2.7 2.7 0 1 0 5.4 0a2.7 2.7 0 1 0 -5.4 0M548.2 290.7a2.7 2.7 0 1 0 5.4 0a2.7 2.7 0 1 0 -5.4 0M548.4 289.3a2.7 2.7 0 1 0 5.4 0a2.7 2.7 0 1 0 -5.4 0M548.4 291a2.7 2.7 0 1 0 5.4 0a2.7 2.7 0 1 0 -5.4 0M548.8 292.3a2.7 2.7 0 1 0 5.4 0a2.7 2.7 0 1 0 -5.4 0M548.9 293.6a2.7 2.7 0 1 0 5.4 0a2.7 2.7 0 1 0 -5.4 0M549.6 287.5a2.7 2.7 0 1 0 5.4 0a2.7 2.7 0 1 0 -5.4 0M551.5 289.4a2.7 2.7 0 1 0 5.4 0a2.7 2.7 0 1 0 -5.4 0M551.5 292.1a2.7 2.7 0 1 0 5.4 0a2.7 2.7 0 1 0 -5.4 0M552.5 294.6a2.7 2.7 0 1 0 5.4 0a2.7 2.7 0 1 0 -5.4 0M553.5 290.2a2.7 2.7 0 1 0 5.4 0a2.7 2.7 0 1 0 -5.4 0M553.5 293.2a2.7 2.7 0 1 0 5.4 0a2.7 2.7 0 1 0 -5.4 0M553.9 289.5a2.7 2.7 0 1 0 5.4 0a2.7 2.7 0 1 0 -5.4 0M554.7 294a2.7 2.7 0 1 0 5.4 0a2.7 2.7 0 1 0 -5.4 0M555.9 294a2.7 2.7 0 1 0 5.4 0a2.7 2.7 0 1 0 -5.4 0M556 296.2a2.7 2.7 0 1 0 5.4 0a2.7 2.7 0 1 0 -5.4 0M558.1 300.2a2.7 2.7 0 1 0 5.4 0a2.7 2.7 0 1 0 -5.4 0M558.8 294.1a2.7 2.7 0 1 0 5.4 0a2.7 2.7 0 1 0 -5.4 0M559.3 298.1a2.7 2.7 0 1 0 5.4 0a2.7 2.7 0 1 0 -5.4 0M560.4 292.8a2.7 2.7 0 1 0 5.4 0a2.7 2.7 0 1 0 -5.4 0M562.1 299.7a2.7 2.7 0 1 0 5.4 0a2.7 2.7 0 1 0 -5.4 0M562.2 304.3a2.7 2.7 0 1 0 5.4 0a2.7 2.7 0 1 0 -5.4 0M562.6 294.5a2.7 2.7 0 1 0 5.4 0a2.7 2.7 0 1 0 -5.4 0M563.6 298.4a2.7 2.7 0 1 0 5.4 0a2.7 2.7 0 1 0 -5.4 0M565 291.5a2.7 2.7 0 1 0 5.4 0a2.7 2.7 0 1 0 -5.4 0M565.5 302.7a2.7 2.7 0 1 0 5.4 0a2.7 2.7 0 1 0 -5.4 0M565.8 308.2a2.7 2.7 0 1 0 5.4 0a2.7 2.7 0 1 0 -5.4 0M567 299.9a2.7 2.7 0 1 0 5.4 0a2.7 2.7 0 1 0 -5.4 0M567.2 303.8a2.7 2.7 0 1 0 5.4 0a2.7 2.7 0 1 0 -5.4 0M567.4 307.2a2.7 2.7 0 1 0 5.4 0a2.7 2.7 0 1 0 -5.4 0M567.7 301a2.7 2.7 0 1 0 5.4 0a2.7 2.7 0 1 0 -5.4 0M568 304.2a2.7 2.7 0 1 0 5.4 0a2.7 2.7 0 1 0 -5.4 0M568.6 301.8a2.7 2.7 0 1 0 5.4 0a2.7 2.7 0 1 0 -5.4 0M569.1 303a2.7 2.7 0 1 0 5.4 0a2.7 2.7 0 1 0 -5.4 0M571.1 306.4a2.7 2.7 0 1 0 5.4 0a2.7 2.7 0 1 0 -5.4 0M572.7 310.3a2.7 2.7 0 1 0 5.4 0a2.7 2.7 0 1 0 -5.4 0M573.7 309.3a2.7 2.7 0 1 0 5.4 0a2.7 2.7 0 1 0 -5.4 0M575 309.7a2.7 2.7 0 1 0 5.4 0a2.7 2.7 0 1 0 -5.4 0M575.2 309.5a2.7 2.7 0 1 0 5.4 0a2.7 2.7 0 1 0 -5.4 0M575.9 313.9a2.7 2.7 0 1 0 5.4 0a2.7 2.7 0 1 0 -5.4 0M576.9 313.2a2.7 2.7 0 1 0 5.4 0a2.7 2.7 0 1 0 -5.4 0M578 313.9a2.7 2.7 0 1 0 5.4 0a2.7 2.7 0 1 0 -5.4 0M578.2 307.4a2.7 2.7 0 1 0 5.4 0a2.7 2.7 0 1 0 -5.4 0" fill="#e77589" stroke="#e06a80" stroke-width="0.6"/>
<path d="M338.5 262.8V273.5M337.1 262.8h2.8M337.1 273.5h2.8M339.2 260.4V266.1M337.8 260.4h2.8M337.8 266.1h2.8M341 264.3V271.2M339.6 264.3h2.8M339.6 271.2h2.8M342.3 257.8V269M340.9 257.8h2.8M340.9 269h2.8M343.7 256.7V262.6M342.3 256.7h2.8M342.3 262.6h2.8M345.5 260V266.1M344.1 260h2.8M344.1 266.1h2.8M348.3 262.3V272.4M346.9 262.3h2.8M346.9 272.4h2.8M348.5 261.2V270.5M347.1 261.2h2.8M347.1 270.5h2.8M348.8 262.9V270.1M347.4 262.9h2.8M347.4 270.1h2.8M349.6 260.9V268M348.2 260.9h2.8M348.2 268h2.8M349.9 263.1V269.1M348.5 263.1h2.8M348.5 269.1h2.8M352.8 258.3V267.8M351.4 258.3h2.8M351.4 267.8h2.8M353 263.4V275.3M351.6 263.4h2.8M351.6 275.3h2.8M353.3 262.9V275.2M351.9 262.9h2.8M351.9 275.2h2.8M355.2 261.7V271.1M353.8 261.7h2.8M353.8 271.1h2.8M355.4 261.1V267M354 261.1h2.8M354 267h2.8M355.5 258V269.8M354.1 258h2.8M354.1 269.8h2.8M356.9 262.5V271.2M355.5 262.5h2.8M355.5 271.2h2.8M359.5 262.1V270.4M358.1 262.1h2.8M358.1 270.4h2.8M359.6 258.6V268.1M358.2 258.6h2.8M358.2 268.1h2.8M359.6 261.9V272.4M358.2 261.9h2.8M358.2 272.4h2.8M359.7 263.3V271.6M358.3 263.3h2.8M358.3 271.6h2.8M360.4 261.1V272.4M359 261.1h2.8M359 272.4h2.8M360.7 263.4V269.4M359.3 263.4h2.8M359.3 269.4h2.8M365 261.3V270.8M363.6 261.3h2.8M363.6 270.8h2.8M365.5 261.7V269.4M364.1 261.7h2.8M364.1 269.4h2.8M366.8 261.2V268.5M365.4 261.2h2.8M365.4 268.5h2.8M369.5 258.2V270.1M368.1 258.2h2.8M368.1 270.1h2.8M370.3 262.9V273.9M368.9 262.9h2.8M368.9 273.9h2.8M371 256.7V267.3M369.6 256.7h2.8M369.6 267.3h2.8M372 259.9V271.8M370.6 259.9h2.8M370.6 271.8h2.8M372.1 264.5V270.6M370.7 264.5h2.8M370.7 270.6h2.8M372.2 266.8V274.9M370.8 266.8h2.8M370.8 274.9h2.8M377.7 260.2V269.5M376.3 260.2h2.8M376.3 269.5h2.8M378 264.5V273.1M376.6 264.5h2.8M376.6 273.1h2.8M379.5 264.6V272.6M378.1 264.6h2.8M378.1 272.6h2.8M380.6 264.8V271M379.2 264.8h2.8M379.2 271h2.8M381.2 263.9V276.1M379.8 263.9h2.8M379.8 276.1h2.8M381.5 258.8V265.1M380.1 258.8h2.8M380.1 265.1h2.8M382.4 262.5V273.6M381 262.5h2.8M381 273.6h2.8M383 259.5V271.7M381.6 259.5h2.8M381.6 271.7h2.8M383.5 262.4V271.2M382.1 262.4h2.8M382.1 271.2h2.8M384.1 262V269.1M382.7 262h2.8M382.7 269.1h2.8M386.9 259.5V268.4M385.5 259.5h2.8M385.5 268.4h2.8M387 257.2V266M385.6 257.2h2.8M385.6 266h2.8M388.5 263V270.8M387.1 263h2.8M387.1 270.8h2.8M389.1 261.8V269M387.7 261.8h2.8M387.7 269h2.8M391 260.1V265.7M389.6 260.1h2.8M389.6 265.7h2.8M391.3 262.7V268.6M389.9 262.7h2.8M389.9 268.6h2.8M392.2 260.1V266.7M390.8 260.1h2.8M390.8 266.7h2.8M394.1 260.2V267.8M392.7 260.2h2.8M392.7 267.8h2.8M394.3 263.5V269.3M392.9 263.5h2.8M392.9 269.3h2.8M395.1 262.3V273.4M393.7 262.3h2.8M393.7 273.4h2.8M395.6 258.4V264.8M394.2 258.4h2.8M394.2 264.8h2.8M395.9 262.3V269.3M394.5 262.3h2.8M394.5 269.3h2.8M396 264.5V270.2M394.6 264.5h2.8M394.6 270.2h2.8M396.2 258V268.2M394.8 258h2.8M394.8 268.2h2.8M396.4 260.9V269.6M395 260.9h2.8M395 269.6h2.8M396.5 263.4V270.1M395.1 263.4h2.8M395.1 270.1h2.8M396.8 263V273.3M395.4 263h2.8M395.4 273.3h2.8M396.9 257.6V269.1M395.5 257.6h2.8M395.5 269.1h2.8M398.3 258.5V266M396.9 258.5h2.8M396.9 266h2.8M400 261.6V267.6M398.6 261.6h2.8M398.6 267.6h2.8M402.5 262V267.9M401.1 262h2.8M401.1 267.9h2.8M403.6 261.5V270.7M402.2 261.5h2.8M402.2 270.7h2.8M403.6 260.2V272.3M402.2 260.2h2.8M402.2 272.3h2.8M403.7 257.6V265.7M402.3 257.6h2.8M402.3 265.7h2.8M404.2 261.5V274.1M402.8 261.5h2.8M402.8 274.1h2.8M407.4 257.8V267.1M406 257.8h2.8M406 267.1h2.8M407.5 263.3V270.9M406.1 263.3h2.8M406.1 270.9h2.8M409.7 264.4V270.6M408.3 264.4h2.8M408.3 270.6h2.8M410.9 262.4V272.3M409.5 262.4h2.8M409.5 272.3h2.8M411.1 261.9V272.4M409.7 261.9h2.8M409.7 272.4h2.8M411.5 261.5V273M410.1 261.5h2.8M410.1 273h2.8M411.8 259V270.3M410.4 259h2.8M410.4 270.3h2.8M412 260.9V268.2M410.6 260.9h2.8M410.6 268.2h2.8M413.7 267.3V275.6M412.3 267.3h2.8M412.3 275.6h2.8M414.1 265.5V275M412.7 265.5h2.8M412.7 275h2.8M416 264.8V274.7M414.6 264.8h2.8M414.6 274.7h2.8M417 265.7V271.5M415.6 265.7h2.8M415.6 271.5h2.8M417.8 259.6V266.5M416.4 259.6h2.8M416.4 266.5h2.8M418.4 267.5V274.7M417 267.5h2.8M417 274.7h2.8M419.3 262.7V269.9M417.9 262.7h2.8M417.9 269.9h2.8M419.6 260.6V272.8M418.2 260.6h2.8M418.2 272.8h2.8M421.4 264.1V273.2M420 264.1h2.8M420 273.2h2.8M421.7 260.6V270.1M420.3 260.6h2.8M420.3 270.1h2.8M423.1 264.8V275.1M421.7 264.8h2.8M421.7 275.1h2.8M423.8 257V265.8M422.4 257h2.8M422.4 265.8h2.8M424 266.1V273.5M422.6 266.1h2.8M422.6 273.5h2.8M424.1 264.7V271.6M422.7 264.7h2.8M422.7 271.6h2.8M424.9 261.3V268.7M423.5 261.3h2.8M423.5 268.7h2.8M424.9 265.8V272.1M423.5 265.8h2.8M423.5 272.1h2.8M425.7 266.5V273M424.3 266.5h2.8M424.3 273h2.8M425.7 263.4V274.4M424.3 263.4h2.8M424.3 274.4h2.8M426.8 266.3V272.2M425.4 266.3h2.8M425.4 272.2h2.8M428.2 260.7V272.4M426.8 260.7h2.8M426.8 272.4h2.8M428.8 266.8V272.4M427.4 266.8h2.8M427.4 272.4h2.8M429.3 264.4V274.8M427.9 264.4h2.8M427.9 274.8h2.8M431.5 265.5V275M430.1 265.5h2.8M430.1 275h2.8M432 265.3V272.2M430.6 265.3h2.8M430.6 272.2h2.8M432.7 258.6V268.2M431.3 258.6h2.8M431.3 268.2h2.8M435.5 265.7V271.5M434.1 265.7h2.8M434.1 271.5h2.8M438.3 258.3V270.5M436.9 258.3h2.8M436.9 270.5h2.8M442.1 263V268.4M440.7 263h2.8M440.7 268.4h2.8M442.6 261.9V272.4M441.2 261.9h2.8M441.2 272.4h2.8M442.8 263.3V272.4M441.4 263.3h2.8M441.4 272.4h2.8M445.5 262.4V271.2M444.1 262.4h2.8M444.1 271.2h2.8M449 263.6V272.9M447.6 263.6h2.8M447.6 272.9h2.8M450.1 264.6V272.8M448.7 264.6h2.8M448.7 272.8h2.8M451.2 263.8V272M449.8 263.8h2.8M449.8 272h2.8M454 261.5V273.8M452.6 261.5h2.8M452.6 273.8h2.8M454.8 262.8V273.7M453.4 262.8h2.8M453.4 273.7h2.8M455.2 265.4V272.6M453.8 265.4h2.8M453.8 272.6h2.8M456.6 261.2V269.3M455.2 261.2h2.8M455.2 269.3h2.8M456.8 258.6V269.2M455.4 258.6h2.8M455.4 269.2h2.8M457.6 265.9V273.7M456.2 265.9h2.8M456.2 273.7h2.8M459.2 261.4V273.8M457.8 261.4h2.8M457.8 273.8h2.8M459.3 255.8V268.1M457.9 255.8h2.8M457.9 268.1h2.8M459.9 265V274.7M458.5 265h2.8M458.5 274.7h2.8M460.2 264.5V275.3M458.8 264.5h2.8M458.8 275.3h2.8M461 256.7V269.2M459.6 256.7h2.8M459.6 269.2h2.8M463.6 258.4V270.3M462.2 258.4h2.8M462.2 270.3h2.8M464 260.2V271.6M462.6 260.2h2.8M462.6 271.6h2.8M464.6 260.4V268.1M463.2 260.4h2.8M463.2 268.1h2.8M465 261.9V269.3M463.6 261.9h2.8M463.6 269.3h2.8M465.8 260.9V272.8M464.4 260.9h2.8M464.4 272.8h2.8M466.7 265.2V273.4M465.3 265.2h2.8M465.3 273.4h2.8M467.7 255.1V267.3M466.3 255.1h2.8M466.3 267.3h2.8M468.5 262.6V271.7M467.1 262.6h2.8M467.1 271.7h2.8M469.8 264.2V274.7M468.4 264.2h2.8M468.4 274.7h2.8M470.9 255.4V267M469.5 255.4h2.8M469.5 267h2.8M471.3 263.6V271.6M469.9 263.6h2.8M469.9 271.6h2.8M471.6 262.2V271.2M470.2 262.2h2.8M470.2 271.2h2.8M471.7 261.7V269.4M470.3 261.7h2.8M470.3 269.4h2.8M471.8 262.4V274.9M470.4 262.4h2.8M470.4 274.9h2.8M472.4 265.9V274M471 265.9h2.8M471 274h2.8M472.5 263.8V275M471.1 263.8h2.8M471.1 275h2.8M473.1 267.7V275.5M471.7 267.7h2.8M471.7 275.5h2.8M474.8 259.9V270.4M473.4 259.9h2.8M473.4 270.4h2.8M475.2 256V268.1M473.8 256h2.8M473.8 268.1h2.8M475.7 261.5V269.6M474.3 261.5h2.8M474.3 269.6h2.8M476 261.7V272.7M474.6 261.7h2.8M474.6 272.7h2.8M476.5 263.7V275.3M475.1 263.7h2.8M475.1 275.3h2.8M478.2 264.4V271.8M476.8 264.4h2.8M476.8 271.8h2.8M478.7 261V269.8M477.3 261h2.8M477.3 269.8h2.8M480.8 267.2V272.8M479.4 267.2h2.8M479.4 272.8h2.8M481.2 262.9V272.9M479.8 262.9h2.8M479.8 272.9h2.8M481.8 264.2V270.6M480.4 264.2h2.8M480.4 270.6h2.8M482.2 260.7V272.2M480.8 260.7h2.8M480.8 272.2h2.8M482.4 262.7V273M481 262.7h2.8M481 273h2.8M483.4 262.5V274M482 262.5h2.8M482 274h2.8M486 263.8V270.3M484.6 263.8h2.8M484.6 270.3h2.8M486.1 258.6V264.2M484.7 258.6h2.8M484.7 264.2h2.8M487.1 260.8V269.1M485.7 260.8h2.8M485.7 269.1h2.8M487.8 264.1V272M486.4 264.1h2.8M486.4 272h2.8M488.4 266.1V275.3M487 266.1h2.8M487 275.3h2.8M489 267.1V272.5M487.6 267.1h2.8M487.6 272.5h2.8M489.5 266.8V272.5M488.1 266.8h2.8M488.1 272.5h2.8M489.8 266.1V276.2M488.4 266.1h2.8M488.4 276.2h2.8M490 262.6V274.8M488.6 262.6h2.8M488.6 274.8h2.8M490.4 265.5V274.9M489 265.5h2.8M489 274.9h2.8M491.2 266.6V272.4M489.8 266.6h2.8M489.8 272.4h2.8M492.1 262.4V273M490.7 262.4h2.8M490.7 273h2.8M493.6 261.6V268.4M492.2 261.6h2.8M492.2 268.4h2.8M495.2 257.4V268.9M493.8 257.4h2.8M493.8 268.9h2.8M495.5 262.7V273.3M494.1 262.7h2.8M494.1 273.3h2.8M496.6 260.1V267.9M495.2 260.1h2.8M495.2 267.9h2.8M496.9 261.9V271.3M495.5 261.9h2.8M495.5 271.3h2.8M497.8 265.8V271.2M496.4 265.8h2.8M496.4 271.2h2.8M498.2 261.5V268.7M496.8 261.5h2.8M496.8 268.7h2.8M500.7 264.8V272.2M499.3 264.8h2.8M499.3 272.2h2.8M501.4 262V270.9M500 262h2.8M500 270.9h2.8M501.7 260.5V267.7M500.3 260.5h2.8M500.3 267.7h2.8M503.5 261.3V273.1M502.1 261.3h2.8M502.1 273.1h2.8M503.7 263.1V271.8M502.3 263.1h2.8M502.3 271.8h2.8M504.7 260.4V268.4M503.3 260.4h2.8M503.3 268.4h2.8M504.8 261.3V272.1M503.4 261.3h2.8M503.4 272.1h2.8M505.2 259.4V266.1M503.8 259.4h2.8M503.8 266.1h2.8M505.4 261V270.3M504 261h2.8M504 270.3h2.8M505.7 260.1V272M504.3 260.1h2.8M504.3 272h2.8M507 257.1V268M505.6 257.1h2.8M505.6 268h2.8M507.4 261.1V269.1M506 261.1h2.8M506 269.1h2.8M507.6 265.3V271.1M506.2 265.3h2.8M506.2 271.1h2.8M507.7 259.4V267.2M506.3 259.4h2.8M506.3 267.2h2.8M509.2 258.2V265.3M507.8 258.2h2.8M507.8 265.3h2.8M510 255.5V266.2M508.6 255.5h2.8M508.6 266.2h2.8M510.4 258.4V266.1M509 258.4h2.8M509 266.1h2.8M510.7 257.4V265.4M509.3 257.4h2.8M509.3 265.4h2.8M511.6 257V262.8M510.2 257h2.8M510.2 262.8h2.8M512.2 259.2V268.5M510.8 259.2h2.8M510.8 268.5h2.8M512.6 261.3V267.3M511.2 261.3h2.8M511.2 267.3h2.8M513.3 255.7V266.4M511.9 255.7h2.8M511.9 266.4h2.8M513.6 257.6V269.2M512.2 257.6h2.8M512.2 269.2h2.8M513.8 260.8V270.1M512.4 260.8h2.8M512.4 270.1h2.8M513.9 260.8V267.4M512.5 260.8h2.8M512.5 267.4h2.8M514.9 258.6V268.3M513.5 258.6h2.8M513.5 268.3h2.8M515.3 261.6V267.5M513.9 261.6h2.8M513.9 267.5h2.8M515.8 257.6V265M514.4 257.6h2.8M514.4 265h2.8M517.4 261.4V267.9M516 261.4h2.8M516 267.9h2.8M518.5 263.1V270.5M517.1 263.1h2.8M517.1 270.5h2.8M518.9 257.6V264.1M517.5 257.6h2.8M517.5 264.1h2.8M518.9 252.6V263.2M517.5 252.6h2.8M517.5 263.2h2.8M519.5 255.1V266M518.1 255.1h2.8M518.1 266h2.8M519.7 254.2V265.6M518.3 254.2h2.8M518.3 265.6h2.8M519.9 259.3V266.2M518.5 259.3h2.8M518.5 266.2h2.8M521.5 259.6V270.3M520.1 259.6h2.8M520.1 270.3h2.8M521.8 257.3V269.6M520.4 257.3h2.8M520.4 269.6h2.8M522.8 262.2V270.2M521.4 262.2h2.8M521.4 270.2h2.8M523.9 257.7V268.7M522.5 257.7h2.8M522.5 268.7h2.8M527.1 257.3V267.8M525.7 257.3h2.8M525.7 267.8h2.8M528.8 252.6V263.4M527.4 252.6h2.8M527.4 263.4h2.8M529 259.4V267.6M527.6 259.4h2.8M527.6 267.6h2.8M530.9 256.2V266.7M529.5 256.2h2.8M529.5 266.7h2.8M531 256.2V267.2M529.6 256.2h2.8M529.6 267.2h2.8M531 256.4V268.2M529.6 256.4h2.8M529.6 268.2h2.8M533.5 262.4V272.1M532.1 262.4h2.8M532.1 272.1h2.8M534.2 262.8V268.5M532.8 262.8h2.8M532.8 268.5h2.8M535.1 259.6V268.2M533.7 259.6h2.8M533.7 268.2h2.8M536.2 257.4V264.2M534.8 257.4h2.8M534.8 264.2h2.8M536.7 260.4V266.1M535.3 260.4h2.8M535.3 266.1h2.8M536.9 258V269.4M535.5 258h2.8M535.5 269.4h2.8M539 262.8V271M537.6 262.8h2.8M537.6 271h2.8M539.5 262.8V269.8M538.1 262.8h2.8M538.1 269.8h2.8M539.7 260.4V272.2M538.3 260.4h2.8M538.3 272.2h2.8M540.2 256.9V269.1M538.8 256.9h2.8M538.8 269.1h2.8M540.5 262.5V272.6M539.1 262.5h2.8M539.1 272.6h2.8M540.9 265.7V277.7M539.5 265.7h2.8M539.5 277.7h2.8M542.3 258.4V266.6M540.9 258.4h2.8M540.9 266.6h2.8M542.6 258.1V268.8M541.2 258.1h2.8M541.2 268.8h2.8M545.2 261.6V271.9M543.8 261.6h2.8M543.8 271.9h2.8M545.8 265.1V273M544.4 265.1h2.8M544.4 273h2.8M546.3 264.1V270.9M544.9 264.1h2.8M544.9 270.9h2.8M546.3 262.6V271.6M544.9 262.6h2.8M544.9 271.6h2.8M546.3 266.9V273.8M544.9 266.9h2.8M544.9 273.8h2.8M546.9 259.6V269.4M545.5 259.6h2.8M545.5 269.4h2.8M547.4 258.5V266.2M546 258.5h2.8M546 266.2h2.8M547.7 260.8V266.4M546.3 260.8h2.8M546.3 266.4h2.8M548 264.4V273.9M546.6 264.4h2.8M546.6 273.9h2.8M548.5 263.9V275.4M547.1 263.9h2.8M547.1 275.4h2.8M550 262.1V271.8M548.6 262.1h2.8M548.6 271.8h2.8M552.8 261V269.4M551.4 261h2.8M551.4 269.4h2.8M553.7 262.7V271M552.3 262.7h2.8M552.3 271h2.8M553.9 266.3V273.2M552.5 266.3h2.8M552.5 273.2h2.8M554 265.9V276.5M552.6 265.9h2.8M552.6 276.5h2.8M554.5 263.2V271.9M553.1 263.2h2.8M553.1 271.9h2.8M555.5 263.7V271.1M554.1 263.7h2.8M554.1 271.1h2.8M557.5 262.8V272.6M556.1 262.8h2.8M556.1 272.6h2.8M557.8 264.7V272.3M556.4 264.7h2.8M556.4 272.3h2.8M561.5 268.4V276.7M560.1 268.4h2.8M560.1 276.7h2.8M561.7 267.6V275.4M560.3 267.6h2.8M560.3 275.4h2.8M561.8 269.2V274.7M560.4 269.2h2.8M560.4 274.7h2.8M562.4 265.5V277.5M561 265.5h2.8M561 277.5h2.8M562.6 268.4V275.2M561.2 268.4h2.8M561.2 275.2h2.8M565.1 264.6V273.5M563.7 264.6h2.8M563.7 273.5h2.8M566.3 267V273M564.9 267h2.8M564.9 273h2.8M567.6 268.1V279.3M566.2 268.1h2.8M566.2 279.3h2.8M568.6 271.2V277M567.2 271.2h2.8M567.2 277h2.8M568.9 273V278.6M567.5 273h2.8M567.5 278.6h2.8M569.8 268.2V278.6M568.4 268.2h2.8M568.4 278.6h2.8M572 268V276.7M570.6 268h2.8M570.6 276.7h2.8M572.3 268.8V279.1M570.9 268.8h2.8M570.9 279.1h2.8M572.4 270.9V277M571 270.9h2.8M571 277h2.8M572.4 273V278.5M571 273h2.8M571 278.5h2.8M572.4 268.6V279.7M571 268.6h2.8M571 279.7h2.8M572.8 270.5V281.3M571.4 270.5h2.8M571.4 281.3h2.8M573.1 272.4V279.8M571.7 272.4h2.8M571.7 279.8h2.8M573.3 272.4V279.9M571.9 272.4h2.8M571.9 279.9h2.8M573.6 272.3V280.5M572.2 272.3h2.8M572.2 280.5h2.8M574.2 270V275.9M572.8 270h2.8M572.8 275.9h2.8M575.2 273.9V282.8M573.8 273.9h2.8M573.8 282.8h2.8M576.2 274.7V285.2M574.8 274.7h2.8M574.8 285.2h2.8M576.6 274.4V282.1M575.2 274.4h2.8M575.2 282.1h2.8M576.8 275.4V284.9M575.4 275.4h2.8M575.4 284.9h2.8M576.9 273.7V281.3M575.5 273.7h2.8M575.5 281.3h2.8M578 271.6V279.8M576.6 271.6h2.8M576.6 279.8h2.8M578.7 275.2V281.8M577.3 275.2h2.8M577.3 281.8h2.8M579.8 273.1V282.3M578.4 273.1h2.8M578.4 282.3h2.8M580.9 274.2V281.7M579.5 274.2h2.8M579.5 281.7h2.8M580.9 278.5V285.6M579.5 278.5h2.8M579.5 285.6h2.8M581.5 270.4V282.6M580.1 270.4h2.8M580.1 282.6h2.8M582.2 275.4V287.7M580.8 275.4h2.8M580.8 287.7h2.8M583.6 272.2V284.5M582.2 272.2h2.8M582.2 284.5h2.8M583.7 272.8V278.5M582.3 272.8h2.8M582.3 278.5h2.8M583.7 277V285.8M582.3 277h2.8M582.3 285.8h2.8M585.9 276.3V286M584.5 276.3h2.8M584.5 286h2.8M586 276.5V286.5M584.6 276.5h2.8M584.6 286.5h2.8M586.5 278.6V285.1M585.1 278.6h2.8M585.1 285.1h2.8M587 278.6V289.5M585.6 278.6h2.8M585.6 289.5h2.8M587.6 279.7V285.9M586.2 279.7h2.8M586.2 285.9h2.8M587.8 278.4V284.6M586.4 278.4h2.8M586.4 284.6h2.8M587.9 278.9V285M586.5 278.9h2.8M586.5 285h2.8M588.2 279.3V287.5M586.8 279.3h2.8M586.8 287.5h2.8M588.4 275.3V287.1M587 275.3h2.8M587 287.1h2.8M589.1 280.1V287.4M587.7 280.1h2.8M587.7 287.4h2.8M589.8 274.7V282.5M588.4 274.7h2.8M588.4 282.5h2.8M589.9 279V287.2M588.5 279h2.8M588.5 287.2h2.8M590 280.4V286.4M588.6 280.4h2.8M588.6 286.4h2.8M590.1 280.9V289.4M588.7 280.9h2.8M588.7 289.4h2.8M591 276.1V287M589.6 276.1h2.8M589.6 287h2.8M592.2 278.5V290.1M590.8 278.5h2.8M590.8 290.1h2.8M593.5 282.3V291M592.1 282.3h2.8M592.1 291h2.8M593.7 289.4V295.2M592.3 289.4h2.8M592.3 295.2h2.8M594.2 280.9V292.1M592.8 280.9h2.8M592.8 292.1h2.8M595 281.9V294.1M593.6 281.9h2.8M593.6 294.1h2.8M595.2 282.5V288.4M593.8 282.5h2.8M593.8 288.4h2.8M595.3 286.4V297M593.9 286.4h2.8M593.9 297h2.8M595.3 281.3V291.2M593.9 281.3h2.8M593.9 291.2h2.8M595.6 282.1V290.8M594.2 282.1h2.8M594.2 290.8h2.8M596.2 284.4V290.9M594.8 284.4h2.8M594.8 290.9h2.8M596.4 280V289M595 280h2.8M595 289h2.8M597.3 279.5V291.9M595.9 279.5h2.8M595.9 291.9h2.8M597.3 282.3V292.1M595.9 282.3h2.8M595.9 292.1h2.8M598.2 281.2V292.3M596.8 281.2h2.8M596.8 292.3h2.8M599.7 285.7V297.9M598.3 285.7h2.8M598.3 297.9h2.8M599.8 282.3V294.8M598.4 282.3h2.8M598.4 294.8h2.8M600.4 292.3V298M599 292.3h2.8M599 298h2.8M600.6 286.3V295.2M599.2 286.3h2.8M599.2 295.2h2.8M600.6 284.2V292.8M599.2 284.2h2.8M599.2 292.8h2.8M601.9 286.4V296.4M600.5 286.4h2.8M600.5 296.4h2.8M604.3 288.5V299.9M602.9 288.5h2.8M602.9 299.9h2.8M604.4 287.2V298.2M603 287.2h2.8M603 298.2h2.8M605.7 291.6V297.5M604.3 291.6h2.8M604.3 297.5h2.8M605.7 289.8V296.3M604.3 289.8h2.8M604.3 296.3h2.8M605.8 287V296.8M604.4 287h2.8M604.4 296.8h2.8M605.9 289.8V297.1M604.5 289.8h2.8M604.5 297.1h2.8M606.7 294.7V301.8M605.3 294.7h2.8M605.3 301.8h2.8M607.3 289.2V298.2M605.9 289.2h2.8M605.9 298.2h2.8M607.6 291.2V298.2M606.2 291.2h2.8M606.2 298.2h2.8M608.1 288.9V294.6M606.7 288.9h2.8M606.7 294.6h2.8M609.4 290.8V298.6M608 290.8h2.8M608 298.6h2.8M612.7 293.9V305.3M611.3 293.9h2.8M611.3 305.3h2.8M613.9 293.2V305.2M612.5 293.2h2.8M612.5 305.2h2.8M615.8 299.9V308.8M614.4 299.9h2.8M614.4 308.8h2.8M617.2 299.5V311.3M615.8 299.5h2.8M615.8 311.3h2.8M618 297.3V308.8M616.6 297.3h2.8M616.6 308.8h2.8M620.1 302.2V309.9M618.7 302.2h2.8M618.7 309.9h2.8M620.2 302.8V313.1M618.8 302.8h2.8M618.8 313.1h2.8M620.6 303.4V312.2M619.2 303.4h2.8M619.2 312.2h2.8M622.7 305.9V311.8M621.3 305.9h2.8M621.3 311.8h2.8M623.4 300.5V311.9M622 300.5h2.8M622 311.9h2.8M624.3 311.6V317.8M622.9 311.6h2.8M622.9 317.8h2.8M624.3 306.6V316.7M622.9 306.6h2.8M622.9 316.7h2.8M624.7 308.1V316.8M623.3 308.1h2.8M623.3 316.8h2.8M626.3 307.9V317.1M624.9 307.9h2.8M624.9 317.1h2.8M626.5 311.9V323.4M625.1 311.9h2.8M625.1 323.4h2.8M626.9 311.7V317.4M625.5 311.7h2.8M625.5 317.4h2.8M626.9 309.2V321.4M625.5 309.2h2.8M625.5 321.4h2.8M628.1 307.9V315.6M626.7 307.9h2.8M626.7 315.6h2.8M628.4 309.9V321.3M627 309.9h2.8M627 321.3h2.8M628.8 313.8V320.4M627.4 313.8h2.8M627.4 320.4h2.8M629.2 312.7V324.3M627.8 312.7h2.8M627.8 324.3h2.8M629.3 314.4V324.4M627.9 314.4h2.8M627.9 324.4h2.8M629.5 311.9V323.2M628.1 311.9h2.8M628.1 323.2h2.8M629.5 315.1V325.6M628.1 315.1h2.8M628.1 325.6h2.8M629.8 313.8V322.4M628.4 313.8h2.8M628.4 322.4h2.8M629.9 312V324.3M628.5 312h2.8M628.5 324.3h2.8M630.8 313.8V325.4M629.4 313.8h2.8M629.4 325.4h2.8M631.6 313.7V319.5M630.2 313.7h2.8M630.2 319.5h2.8M631.9 312.9V318.6M630.5 312.9h2.8M630.5 318.6h2.8M632.3 321.5V329.4M630.9 321.5h2.8M630.9 329.4h2.8" stroke="#8650ad" stroke-width="0.8" fill="none"/>
<path d="M335.8 268.1a2.7 2.7 0 1 0 5.4 0a2.7 2.7 0 1 0 -5.4 0M336.5 263.2a2.7 2.7 0 1 0 5.4 0a2.7 2.7 0 1 0 -5.4 0M338.3 267.8a2.7 2.7 0 1 0 5.4 0a2.7 2.7 0 1 0 -5.4 0M339.6 263.4a2.7 2.7 0 1 0 5.4 0a2.7 2.7 0 1 0 -5.4 0M341 259.7a2.7 2.7 0 1 0 5.4 0a2.7 2.7 0 1 0 -5.4 0M342.8 263.1a2.7 2.7 0 1 0 5.4 0a2.7 2.7 0 1 0 -5.4 0M345.6 267.4a2.7 2.7 0 1 0 5.4 0a2.7 2.7 0 1 0 -5.4 0M345.8 265.8a2.7 2.7 0 1 0 5.4 0a2.7 2.7 0 1 0 -5.4 0M346.1 266.5a2.7 2.7 0 1 0 5.4 0a2.7 2.7 0 1 0 -5.4 0M346.9 264.5a2.7 2.7 0 1 0 5.4 0a2.7 2.7 0 1 0 -5.4 0M347.2 266.1a2.7 2.7 0 1 0 5.4 0a2.7 2.7 0 1 0 -5.4 0M350.1 263.1a2.7 2.7 0 1 0 5.4 0a2.7 2.7 0 1 0 -5.4 0M350.3 269.3a2.7 2.7 0 1 0 5.4 0a2.7 2.7 0 1 0 -5.4 0M350.6 269a2.7 2.7 0 1 0 5.4 0a2.7 2.7 0 1 0 -5.4 0M352.5 266.4a2.7 2.7 0 1 0 5.4 0a2.7 2.7 0 1 0 -5.4 0M352.7 264a2.7 2.7 0 1 0 5.4 0a2.7 2.7 0 1 0 -5.4 0M352.8 263.9a2.7 2.7 0 1 0 5.4 0a2.7 2.7 0 1 0 -5.4 0M354.2 266.8a2.7 2.7 0 1 0 5.4 0a2.7 2.7 0 1 0 -5.4 0M356.8 266.2a2.7 2.7 0 1 0 5.4 0a2.7 2.7 0 1 0 -5.4 0M356.9 263.3a2.7 2.7 0 1 0 5.4 0a2.7 2.7 0 1 0 -5.4 0M356.9 267.1a2.7 2.7 0 1 0 5.4 0a2.7 2.7 0 1 0 -5.4 0M357 267.4a2.7 2.7 0 1 0 5.4 0a2.7 2.7 0 1 0 -5.4 0M357.7 266.7a2.7 2.7 0 1 0 5.4 0a2.7 2.7 0 1 0 -5.4 0M358 266.4a2.7 2.7 0 1 0 5.4 0a2.7 2.7 0 1 0 -5.4 0M362.3 266a2.7 2.7 0 1 0 5.4 0a2.7 2.7 0 1 0 -5.4 0M362.8 265.5a2.7 2.7 0 1 0 5.4 0a2.7 2.7 0 1 0 -5.4 0M364.1 264.8a2.7 2.7 0 1 0 5.4 0a2.7 2.7 0 1 0 -5.4 0M366.8 264.1a2.7 2.7 0 1 0 5.4 0a2.7 2.7 0 1 0 -5.4 0M367.6 268.4a2.7 2.7 0 1 0 5.4 0a2.7 2.7 0 1 0 -5.4 0M368.3 262a2.7 2.7 0 1 0 5.4 0a2.7 2.7 0 1 0 -5.4 0M369.3 265.8a2.7 2.7 0 1 0 5.4 0a2.7 2.7 0 1 0 -5.4 0M369.4 267.5a2.7 2.7 0 1 0 5.4 0a2.7 2.7 0 1 0 -5.4 0M369.5 270.9a2.7 2.7 0 1 0 5.4 0a2.7 2.7 0 1 0 -5.4 0M375 264.8a2.7 2.7 0 1 0 5.4 0a2.7 2.7 0 1 0 -5.4 0M375.3 268.8a2.7 2.7 0 1 0 5.4 0a2.7 2.7 0 1 0 -5.4 0M376.8 268.6a2.7 2.7 0 1 0 5.4 0a2.7 2.7 0 1 0 -5.4 0M377.9 267.9a2.7 2.7 0 1 0 5.4 0a2.7 2.7 0 1 0 -5.4 0M378.5 270a2.7 2.7 0 1 0 5.4 0a2.7 2.7 0 1 0 -5.4 0M378.8 261.9a2.7 2.7 0 1 0 5.4 0a2.7 2.7 0 1 0 -5.4 0M379.7 268a2.7 2.7 0 1 0 5.4 0a2.7 2.7 0 1 0 -5.4 0M380.3 265.6a2.7 2.7 0 1 0 5.4 0a2.7 2.7 0 1 0 -5.4 0M380.8 266.8a2.7 2.7 0 1 0 5.4 0a2.7 2.7 0 1 0 -5.4 0M381.4 265.5a2.7 2.7 0 1 0 5.4 0a2.7 2.7 0 1 0 -5.4 0M384.2 264a2.7 2.7 0 1 0 5.4 0a2.7 2.7 0 1 0 -5.4 0M384.3 261.6a2.7 2.7 0 1 0 5.4 0a2.7 2.7 0 1 0 -5.4 0M385.8 266.9a2.7 2.7 0 1 0 5.4 0a2.7 2.7 0 1 0 -5.4 0M386.4 265.4a2.7 2.7 0 1 0 5.4 0a2.7 2.7 0 1 0 -5.4 0M388.3 262.9a2.7 2.7 0 1 0 5.4 0a2.7 2.7 0 1 0 -5.4 0M388.6 265.7a2.7 2.7 0 1 0 5.4 0a2.7 2.7 0 1 0 -5.4 0M389.5 263.4a2.7 2.7 0 1 0 5.4 0a2.7 2.7 0 1 0 -5.4 0M391.4 264a2.7 2.7 0 1 0 5.4 0a2.7 2.7 0 1 0 -5.4 0M391.6 266.4a2.7 2.7 0 1 0 5.4 0a2.7 2.7 0 1 0 -5.4 0M392.4 267.8a2.7 2.7 0 1 0 5.4 0a2.7 2.7 0 1 0 -5.4 0M392.9 261.6a2.7 2.7 0 1 0 5.4 0a2.7 2.7 0 1 0 -5.4 0M393.2 265.8a2.7 2.7 0 1 0 5.4 0a2.7 2.7 0 1 0 -5.4 0M393.3 267.4a2.7 2.7 0 1 0 5.4 0a2.7 2.7 0 1 0 -5.4 0M393.5 263.1a2.7 2.7 0 1 0 5.4 0a2.7 2.7 0 1 0 -5.4 0M393.7 265.3a2.7 2.7 0 1 0 5.4 0a2.7 2.7 0 1 0 -5.4 0M393.8 266.7a2.7 2.7 0 1 0 5.4 0a2.7 2.7 0 1 0 -5.4 0M394.1 268.1a2.7 2.7 0 1 0 5.4 0a2.7 2.7 0 1 0 -5.4 0M394.2 263.3a2.7 2.7 0 1 0 5.4 0a2.7 2.7 0 1 0 -5.4 0M395.6 262.3a2.7 2.7 0 1 0 5.4 0a2.7 2.7 0 1 0 -5.4 0M397.3 264.6a2.7 2.7 0 1 0 5.4 0a2.7 2.7 0 1 0 -5.4 0M399.8 265a2.7 2.7 0 1 0 5.4 0a2.7 2.7 0 1 0 -5.4 0M400.9 266.1a2.7 2.7 0 1 0 5.4 0a2.7 2.7 0 1 0 -5.4 0M400.9 266.3a2.7 2.7 0 1 0 5.4 0a2.7 2.7 0 1 0 -5.4 0M401 261.7a2.7 2.7 0 1 0 5.4 0a2.7 2.7 0 1 0 -5.4 0M401.5 267.8a2.7 2.7 0 1 0 5.4 0a2.7 2.7 0 1 0 -5.4 0M404.7 262.5a2.7 2.7 0 1 0 5.4 0a2.7 2.7 0 1 0 -5.4 0M404.8 267.1a2.7 2.7 0 1 0 5.4 0a2.7 2.7 0 1 0 -5.4 0M407 267.5a2.7 2.7 0 1 0 5.4 0a2.7 2.7 0 1 0 -5.4 0M408.2 267.4a2.7 2.7 0 1 0 5.4 0a2.7 2.7 0 1 0 -5.4 0M408.4 267.1a2.7 2.7 0 1 0 5.4 0a2.7 2.7 0 1 0 -5.4 0M408.8 267.3a2.7 2.7 0 1 0 5.4 0a2.7 2.7 0 1 0 -5.4 0M409.1 264.6a2.7 2.7 0 1 0 5.4 0a2.7 2.7 0 1 0 -5.4 0M409.3 264.5a2.7 2.7 0 1 0 5.4 0a2.7 2.7 0 1 0 -5.4 0M411 271.4a2.7 2.7 0 1 0 5.4 0a2.7 2.7 0 1 0 -5.4 0M411.4 270.2a2.7 2.7 0 1 0 5.4 0a2.7 2.7 0 1 0 -5.4 0M413.3 269.8a2.7 2.7 0 1 0 5.4 0a2.7 2.7 0 1 0 -5.4 0M414.3 268.6a2.7 2.7 0 1 0 5.4 0a2.7 2.7 0 1 0 -5.4 0M415.1 263a2.7 2.7 0 1 0 5.4 0a2.7 2.7 0 1 0 -5.4 0M415.7 271.1a2.7 2.7 0 1 0 5.4 0a2.7 2.7 0 1 0 -5.4 0M416.6 266.3a2.7 2.7 0 1 0 5.4 0a2.7 2.7 0 1 0 -5.4 0M416.9 266.7a2.7 2.7 0 1 0 5.4 0a2.7 2.7 0 1 0 -5.4 0M418.7 268.6a2.7 2.7 0 1 0 5.4 0a2.7 2.7 0 1 0 -5.4 0M419 265.3a2.7 2.7 0 1 0 5.4 0a2.7 2.7 0 1 0 -5.4 0M420.4 270a2.7 2.7 0 1 0 5.4 0a2.7 2.7 0 1 0 -5.4 0M421.1 261.4a2.7 2.7 0 1 0 5.4 0a2.7 2.7 0 1 0 -5.4 0M421.3 269.8a2.7 2.7 0 1 0 5.4 0a2.7 2.7 0 1 0 -5.4 0M421.4 268.2a2.7 2.7 0 1 0 5.4 0a2.7 2.7 0 1 0 -5.4 0M422.2 265a2.7 2.7 0 1 0 5.4 0a2.7 2.7 0 1 0 -5.4 0M422.2 269a2.7 2.7 0 1 0 5.4 0a2.7 2.7 0 1 0 -5.4 0M423 269.7a2.7 2.7 0 1 0 5.4 0a2.7 2.7 0 1 0 -5.4 0M423 268.9a2.7 2.7 0 1 0 5.4 0a2.7 2.7 0 1 0 -5.4 0M424.1 269.2a2.7 2.7 0 1 0 5.4 0a2.7 2.7 0 1 0 -5.4 0M425.5 266.5a2.7 2.7 0 1 0 5.4 0a2.7 2.7 0 1 0 -5.4 0M426.1 269.6a2.7 2.7 0 1 0 5.4 0a2.7 2.7 0 1 0 -5.4 0M426.6 269.6a2.7 2.7 0 1 0 5.4 0a2.7 2.7 0 1 0 -5.4 0M428.8 270.2a2.7 2.7 0 1 0 5.4 0a2.7 2.7 0 1 0 -5.4 0M429.3 268.8a2.7 2.7 0 1 0 5.4 0a2.7 2.7 0 1 0 -5.4 0M430 263.4a2.7 2.7 0 1 0 5.4 0a2.7 2.7 0 1 0 -5.4 0M432.8 268.6a2.7 2.7 0 1 0 5.4 0a2.7 2.7 0 1 0 -5.4 0M435.6 264.4a2.7 2.7 0 1 0 5.4 0a2.7 2.7 0 1 0 -5.4 0M439.4 265.7a2.7 2.7 0 1 0 5.4 0a2.7 2.7 0 1 0 -5.4 0M439.9 267.2a2.7 2.7 0 1 0 5.4 0a2.7 2.7 0 1 0 -5.4 0M440.1 267.9a2.7 2.7 0 1 0 5.4 0a2.7 2.7 0 1 0 -5.4 0M442.8 266.8a2.7 2.7 0 1 0 5.4 0a2.7 2.7 0 1 0 -5.4 0M446.3 268.3a2.7 2.7 0 1 0 5.4 0a2.7 2.7 0 1 0 -5.4 0M447.4 268.7a2.7 2.7 0 1 0 5.4 0a2.7 2.7 0 1 0 -5.4 0M448.5 267.9a2.7 2.7 0 1 0 5.4 0a2.7 2.7 0 1 0 -5.4 0M451.3 267.6a2.7 2.7 0 1 0 5.4 0a2.7 2.7 0 1 0 -5.4 0M452.1 268.2a2.7 2.7 0 1 0 5.4 0a2.7 2.7 0 1 0 -5.4 0M452.5 269a2.7 2.7 0 1 0 5.4 0a2.7 2.7 0 1 0 -5.4 0M453.9 265.2a2.7 2.7 0 1 0 5.4 0a2.7 2.7 0 1 0 -5.4 0M454.1 263.9a2.7 2.7 0 1 0 5.4 0a2.7 2.7 0 1 0 -5.4 0M454.9 269.8a2.7 2.7 0 1 0 5.4 0a2.7 2.7 0 1 0 -5.4 0M456.5 267.6a2.7 2.7 0 1 0 5.4 0a2.7 2.7 0 1 0 -5.4 0M456.6 261.9a2.7 2.7 0 1 0 5.4 0a2.7 2.7 0 1 0 -5.4 0M457.2 269.8a2.7 2.7 0 1 0 5.4 0a2.7 2.7 0 1 0 -5.4 0M457.5 269.9a2.7 2.7 0 1 0 5.4 0a2.7 2.7 0 1 0 -5.4 0M458.3 263a2.7 2.7 0 1 0 5.4 0a2.7 2.7 0 1 0 -5.4 0M460.9 264.4a2.7 2.7 0 1 0 5.4 0a2.7 2.7 0 1 0 -5.4 0M461.3 265.9a2.7 2.7 0 1 0 5.4 0a2.7 2.7 0 1 0 -5.4 0M461.9 264.2a2.7 2.7 0 1 0 5.4 0a2.7 2.7 0 1 0 -5.4 0M462.3 265.6a2.7 2.7 0 1 0 5.4 0a2.7 2.7 0 1 0 -5.4 0M463.1 266.9a2.7 2.7 0 1 0 5.4 0a2.7 2.7 0 1 0 -5.4 0M464 269.3a2.7 2.7 0 1 0 5.4 0a2.7 2.7 0 1 0 -5.4 0M465 261.2a2.7 2.7 0 1 0 5.4 0a2.7 2.7 0 1 0 -5.4 0M465.8 267.1a2.7 2.7 0 1 0 5.4 0a2.7 2.7 0 1 0 -5.4 0M467.1 269.4a2.7 2.7 0 1 0 5.4 0a2.7 2.7 0 1 0 -5.4 0M468.2 261.2a2.7 2.7 0 1 0 5.4 0a2.7 2.7 0 1 0 -5.4 0M468.6 267.6a2.7 2.7 0 1 0 5.4 0a2.7 2.7 0 1 0 -5.4 0M468.9 266.7a2.7 2.7 0 1 0 5.4 0a2.7 2.7 0 1 0 -5.4 0M469 265.5a2.7 2.7 0 1 0 5.4 0a2.7 2.7 0 1 0 -5.4 0M469.1 268.6a2.7 2.7 0 1 0 5.4 0a2.7 2.7 0 1 0 -5.4 0M469.7 270a2.7 2.7 0 1 0 5.4 0a2.7 2.7 0 1 0 -5.4 0M469.8 269.4a2.7 2.7 0 1 0 5.4 0a2.7 2.7 0 1 0 -5.4 0M470.4 271.6a2.7 2.7 0 1 0 5.4 0a2.7 2.7 0 1 0 -5.4 0M472.1 265.2a2.7 2.7 0 1 0 5.4 0a2.7 2.7 0 1 0 -5.4 0M472.5 262a2.7 2.7 0 1 0 5.4 0a2.7 2.7 0 1 0 -5.4 0M473 265.6a2.7 2.7 0 1 0 5.4 0a2.7 2.7 0 1 0 -5.4 0M473.3 267.2a2.7 2.7 0 1 0 5.4 0a2.7 2.7 0 1 0 -5.4 0M473.8 269.5a2.7 2.7 0 1 0 5.4 0a2.7 2.7 0 1 0 -5.4 0M475.5 268.1a2.7 2.7 0 1 0 5.4 0a2.7 2.7 0 1 0 -5.4 0M476 265.4a2.7 2.7 0 1 0 5.4 0a2.7 2.7 0 1 0 -5.4 0M478.1 270a2.7 2.7 0 1 0 5.4 0a2.7 2.7 0 1 0 -5.4 0M478.5 267.9a2.7 2.7 0 1 0 5.4 0a2.7 2.7 0 1 0 -5.4 0M479.1 267.4a2.7 2.7 0 1 0 5.4 0a2.7 2.7 0 1 0 -5.4 0M479.5 266.4a2.7 2.7 0 1 0 5.4 0a2.7 2.7 0 1 0 -5.4 0M479.7 267.8a2.7 2.7 0 1 0 5.4 0a2.7 2.7 0 1 0 -5.4 0M480.7 268.3a2.7 2.7 0 1 0 5.4 0a2.7 2.7 0 1 0 -5.4 0M483.3 267a2.7 2.7 0 1 0 5.4 0a2.7 2.7 0 1 0 -5.4 0M483.4 261.4a2.7 2.7 0 1 0 5.4 0a2.7 2.7 0 1 0 -5.4 0M484.4 265a2.7 2.7 0 1 0 5.4 0a2.7 2.7 0 1 0 -5.4 0M485.1 268a2.7 2.7 0 1 0 5.4 0a2.7 2.7 0 1 0 -5.4 0M485.7 270.7a2.7 2.7 0 1 0 5.4 0a2.7 2.7 0 1 0 -5.4 0M486.3 269.8a2.7 2.7 0 1 0 5.4 0a2.7 2.7 0 1 0 -5.4 0M486.8 269.7a2.7 2.7 0 1 0 5.4 0a2.7 2.7 0 1 0 -5.4 0M487.1 271.1a2.7 2.7 0 1 0 5.4 0a2.7 2.7 0 1 0 -5.4 0M487.3 268.7a2.7 2.7 0 1 0 5.4 0a2.7 2.7 0 1 0 -5.4 0M487.7 270.2a2.7 2.7 0 1 0 5.4 0a2.7 2.7 0 1 0 -5.4 0M488.5 269.5a2.7 2.7 0 1 0 5.4 0a2.7 2.7 0 1 0 -5.4 0M489.4 267.7a2.7 2.7 0 1 0 5.4 0a2.7 2.7 0 1 0 -5.4 0M490.9 265a2.7 2.7 0 1 0 5.4 0a2.7 2.7 0 1 0 -5.4 0M492.5 263.2a2.7 2.7 0 1 0 5.4 0a2.7 2.7 0 1 0 -5.4 0M492.8 268a2.7 2.7 0 1 0 5.4 0a2.7 2.7 0 1 0 -5.4 0M493.9 264a2.7 2.7 0 1 0 5.4 0a2.7 2.7 0 1 0 -5.4 0M494.2 266.6a2.7 2.7 0 1 0 5.4 0a2.7 2.7 0 1 0 -5.4 0M495.1 268.5a2.7 2.7 0 1 0 5.4 0a2.7 2.7 0 1 0 -5.4 0M495.5 265.1a2.7 2.7 0 1 0 5.4 0a2.7 2.7 0 1 0 -5.4 0M498 268.5a2.7 2.7 0 1 0 5.4 0a2.7 2.7 0 1 0 -5.4 0M498.7 266.4a2.7 2.7 0 1 0 5.4 0a2.7 2.7 0 1 0 -5.4 0M499 264.1a2.7 2.7 0 1 0 5.4 0a2.7 2.7 0 1 0 -5.4 0M500.8 267.2a2.7 2.7 0 1 0 5.4 0a2.7 2.7 0 1 0 -5.4 0M501 267.5a2.7 2.7 0 1 0 5.4 0a2.7 2.7 0 1 0 -5.4 0M502 264.4a2.7 2.7 0 1 0 5.4 0a2.7 2.7 0 1 0 -5.4 0M502.1 266.7a2.7 2.7 0 1 0 5.4 0a2.7 2.7 0 1 0 -5.4 0M502.5 262.8a2.7 2.7 0 1 0 5.4 0a2.7 2.7 0 1 0 -5.4 0M502.7 265.7a2.7 2.7 0 1 0 5.4 0a2.7 2.7 0 1 0 -5.4 0M503 266a2.7 2.7 0 1 0 5.4 0a2.7 2.7 0 1 0 -5.4 0M504.3 262.6a2.7 2.7 0 1 0 5.4 0a2.7 2.7 0 1 0 -5.4 0M504.7 265.1a2.7 2.7 0 1 0 5.4 0a2.7 2.7 0 1 0 -5.4 0M504.9 268.2a2.7 2.7 0 1 0 5.4 0a2.7 2.7 0 1 0 -5.4 0M505 263.3a2.7 2.7 0 1 0 5.4 0a2.7 2.7 0 1 0 -5.4 0M506.5 261.7a2.7 2.7 0 1 0 5.4 0a2.7 2.7 0 1 0 -5.4 0M507.3 260.8a2.7 2.7 0 1 0 5.4 0a2.7 2.7 0 1 0 -5.4 0M507.7 262.3a2.7 2.7 0 1 0 5.4 0a2.7 2.7 0 1 0 -5.4 0M508 261.4a2.7 2.7 0 1 0 5.4 0a2.7 2.7 0 1 0 -5.4 0M508.9 259.9a2.7 2.7 0 1 0 5.4 0a2.7 2.7 0 1 0 -5.4 0M509.5 263.9a2.7 2.7 0 1 0 5.4 0a2.7 2.7 0 1 0 -5.4 0M509.9 264.3a2.7 2.7 0 1 0 5.4 0a2.7 2.7 0 1 0 -5.4 0M510.6 261.1a2.7 2.7 0 1 0 5.4 0a2.7 2.7 0 1 0 -5.4 0M510.9 263.4a2.7 2.7 0 1 0 5.4 0a2.7 2.7 0 1 0 -5.4 0M511.1 265.5a2.7 2.7 0 1 0 5.4 0a2.7 2.7 0 1 0 -5.4 0M511.2 264.1a2.7 2.7 0 1 0 5.4 0a2.7 2.7 0 1 0 -5.4 0M512.2 263.5a2.7 2.7 0 1 0 5.4 0a2.7 2.7 0 1 0 -5.4 0M512.6 264.6a2.7 2.7 0 1 0 5.4 0a2.7 2.7 0 1 0 -5.4 0M513.1 261.3a2.7 2.7 0 1 0 5.4 0a2.7 2.7 0 1 0 -5.4 0M514.7 264.6a2.7 2.7 0 1 0 5.4 0a2.7 2.7 0 1 0 -5.4 0M515.8 266.8a2.7 2.7 0 1 0 5.4 0a2.7 2.7 0 1 0 -5.4 0M516.2 260.8a2.7 2.7 0 1 0 5.4 0a2.7 2.7 0 1 0 -5.4 0M516.2 257.9a2.7 2.7 0 1 0 5.4 0a2.7 2.7 0 1 0 -5.4 0M516.8 260.6a2.7 2.7 0 1 0 5.4 0a2.7 2.7 0 1 0 -5.4 0M517 259.9a2.7 2.7 0 1 0 5.4 0a2.7 2.7 0 1 0 -5.4 0M517.2 262.8a2.7 2.7 0 1 0 5.4 0a2.7 2.7 0 1 0 -5.4 0M518.8 265a2.7 2.7 0 1 0 5.4 0a2.7 2.7 0 1 0 -5.4 0M519.1 263.5a2.7 2.7 0 1 0 5.4 0a2.7 2.7 0 1 0 -5.4 0M520.1 266.2a2.7 2.7 0 1 0 5.4 0a2.7 2.7 0 1 0 -5.4 0M521.2 263.2a2.7 2.7 0 1 0 5.4 0a2.7 2.7 0 1 0 -5.4 0M524.4 262.5a2.7 2.7 0 1 0 5.4 0a2.7 2.7 0 1 0 -5.4 0M526.1 258a2.7 2.7 0 1 0 5.4 0a2.7 2.7 0 1 0 -5.4 0M526.3 263.5a2.7 2.7 0 1 0 5.4 0a2.7 2.7 0 1 0 -5.4 0M528.2 261.4a2.7 2.7 0 1 0 5.4 0a2.7 2.7 0 1 0 -5.4 0M528.3 261.7a2.7 2.7 0 1 0 5.4 0a2.7 2.7 0 1 0 -5.4 0M528.3 262.3a2.7 2.7 0 1 0 5.4 0a2.7 2.7 0 1 0 -5.4 0M530.8 267.2a2.7 2.7 0 1 0 5.4 0a2.7 2.7 0 1 0 -5.4 0M531.5 265.7a2.7 2.7 0 1 0 5.4 0a2.7 2.7 0 1 0 -5.4 0M532.4 263.9a2.7 2.7 0 1 0 5.4 0a2.7 2.7 0 1 0 -5.4 0M533.5 260.8a2.7 2.7 0 1 0 5.4 0a2.7 2.7 0 1 0 -5.4 0M534 263.3a2.7 2.7 0 1 0 5.4 0a2.7 2.7 0 1 0 -5.4 0M534.2 263.7a2.7 2.7 0 1 0 5.4 0a2.7 2.7 0 1 0 -5.4 0M536.3 266.9a2.7 2.7 0 1 0 5.4 0a2.7 2.7 0 1 0 -5.4 0M536.8 266.3a2.7 2.7 0 1 0 5.4 0a2.7 2.7 0 1 0 -5.4 0M537 266.3a2.7 2.7 0 1 0 5.4 0a2.7 2.7 0 1 0 -5.4 0M537.5 263a2.7 2.7 0 1 0 5.4 0a2.7 2.7 0 1 0 -5.4 0M537.8 267.5a2.7 2.7 0 1 0 5.4 0a2.7 2.7 0 1 0 -5.4 0M538.2 271.7a2.7 2.7 0 1 0 5.4 0a2.7 2.7 0 1 0 -5.4 0M539.6 262.5a2.7 2.7 0 1 0 5.4 0a2.7 2.7 0 1 0 -5.4 0M539.9 263.4a2.7 2.7 0 1 0 5.4 0a2.7 2.7 0 1 0 -5.4 0M542.5 266.7a2.7 2.7 0 1 0 5.4 0a2.7 2.7 0 1 0 -5.4 0M543.1 269a2.7 2.7 0 1 0 5.4 0a2.7 2.7 0 1 0 -5.4 0M543.6 267.5a2.7 2.7 0 1 0 5.4 0a2.7 2.7 0 1 0 -5.4 0M543.6 267.1a2.7 2.7 0 1 0 5.4 0a2.7 2.7 0 1 0 -5.4 0M543.6 270.3a2.7 2.7 0 1 0 5.4 0a2.7 2.7 0 1 0 -5.4 0M544.2 264.5a2.7 2.7 0 1 0 5.4 0a2.7 2.7 0 1 0 -5.4 0M544.7 262.3a2.7 2.7 0 1 0 5.4 0a2.7 2.7 0 1 0 -5.4 0M545 263.6a2.7 2.7 0 1 0 5.4 0a2.7 2.7 0 1 0 -5.4 0M545.3 269.2a2.7 2.7 0 1 0 5.4 0a2.7 2.7 0 1 0 -5.4 0M545.8 269.7a2.7 2.7 0 1 0 5.4 0a2.7 2.7 0 1 0 -5.4 0M547.3 266.9a2.7 2.7 0 1 0 5.4 0a2.7 2.7 0 1 0 -5.4 0M550.1 265.2a2.7 2.7 0 1 0 5.4 0a2.7 2.7 0 1 0 -5.4 0M551 266.8a2.7 2.7 0 1 0 5.4 0a2.7 2.7 0 1 0 -5.4 0M551.2 269.8a2.7 2.7 0 1 0 5.4 0a2.7 2.7 0 1 0 -5.4 0M551.3 271.2a2.7 2.7 0 1 0 5.4 0a2.7 2.7 0 1 0 -5.4 0M551.8 267.6a2.7 2.7 0 1 0 5.4 0a2.7 2.7 0 1 0 -5.4 0M552.8 267.4a2.7 2.7 0 1 0 5.4 0a2.7 2.7 0 1 0 -5.4 0M554.8 267.7a2.7 2.7 0 1 0 5.4 0a2.7 2.7 0 1 0 -5.4 0M555.1 268.5a2.7 2.7 0 1 0 5.4 0a2.7 2.7 0 1 0 -5.4 0M558.8 272.6a2.7 2.7 0 1 0 5.4 0a2.7 2.7 0 1 0 -5.4 0M559 271.5a2.7 2.7 0 1 0 5.4 0a2.7 2.7 0 1 0 -5.4 0M559.1 271.9a2.7 2.7 0 1 0 5.4 0a2.7 2.7 0 1 0 -5.4 0M559.7 271.5a2.7 2.7 0 1 0 5.4 0a2.7 2.7 0 1 0 -5.4 0M559.9 271.8a2.7 2.7 0 1 0 5.4 0a2.7 2.7 0 1 0 -5.4 0M562.4 269a2.7 2.7 0 1 0 5.4 0a2.7 2.7 0 1 0 -5.4 0M563.6 270a2.7 2.7 0 1 0 5.4 0a2.7 2.7 0 1 0 -5.4 0M564.9 273.7a2.7 2.7 0 1 0 5.4 0a2.7 2.7 0 1 0 -5.4 0M565.9 274.1a2.7 2.7 0 1 0 5.4 0a2.7 2.7 0 1 0 -5.4 0M566.2 275.8a2.7 2.7 0 1 0 5.4 0a2.7 2.7 0 1 0 -5.4 0M567.1 273.4a2.7 2.7 0 1 0 5.4 0a2.7 2.7 0 1 0 -5.4 0M569.3 272.3a2.7 2.7 0 1 0 5.4 0a2.7 2.7 0 1 0 -5.4 0M569.6 274a2.7 2.7 0 1 0 5.4 0a2.7 2.7 0 1 0 -5.4 0M569.7 273.9a2.7 2.7 0 1 0 5.4 0a2.7 2.7 0 1 0 -5.4 0M569.7 275.8a2.7 2.7 0 1 0 5.4 0a2.7 2.7 0 1 0 -5.4 0M569.7 274.1a2.7 2.7 0 1 0 5.4 0a2.7 2.7 0 1 0 -5.4 0M570.1 275.9a2.7 2.7 0 1 0 5.4 0a2.7 2.7 0 1 0 -5.4 0M570.4 276.1a2.7 2.7 0 1 0 5.4 0a2.7 2.7 0 1 0 -5.4 0M570.6 276.1a2.7 2.7 0 1 0 5.4 0a2.7 2.7 0 1 0 -5.4 0M570.9 276.4a2.7 2.7 0 1 0 5.4 0a2.7 2.7 0 1 0 -5.4 0M571.5 272.9a2.7 2.7 0 1 0 5.4 0a2.7 2.7 0 1 0 -5.4 0M572.5 278.3a2.7 2.7 0 1 0 5.4 0a2.7 2.7 0 1 0 -5.4 0M573.5 279.9a2.7 2.7 0 1 0 5.4 0a2.7 2.7 0 1 0 -5.4 0M573.9 278.2a2.7 2.7 0 1 0 5.4 0a2.7 2.7 0 1 0 -5.4 0M574.1 280.1a2.7 2.7 0 1 0 5.4 0a2.7 2.7 0 1 0 -5.4 0M574.2 277.5a2.7 2.7 0 1 0 5.4 0a2.7 2.7 0 1 0 -5.4 0M575.3 275.7a2.7 2.7 0 1 0 5.4 0a2.7 2.7 0 1 0 -5.4 0M576 278.5a2.7 2.7 0 1 0 5.4 0a2.7 2.7 0 1 0 -5.4 0M577.1 277.7a2.7 2.7 0 1 0 5.4 0a2.7 2.7 0 1 0 -5.4 0M578.2 278a2.7 2.7 0 1 0 5.4 0a2.7 2.7 0 1 0 -5.4 0M578.2 282.1a2.7 2.7 0 1 0 5.4 0a2.7 2.7 0 1 0 -5.4 0M578.8 276.5a2.7 2.7 0 1 0 5.4 0a2.7 2.7 0 1 0 -5.4 0M579.5 281.6a2.7 2.7 0 1 0 5.4 0a2.7 2.7 0 1 0 -5.4 0M580.9 278.3a2.7 2.7 0 1 0 5.4 0a2.7 2.7 0 1 0 -5.4 0M581 275.6a2.7 2.7 0 1 0 5.4 0a2.7 2.7 0 1 0 -5.4 0M581 281.4a2.7 2.7 0 1 0 5.4 0a2.7 2.7 0 1 0 -5.4 0M583.2 281.1a2.7 2.7 0 1 0 5.4 0a2.7 2.7 0 1 0 -5.4 0M583.3 281.5a2.7 2.7 0 1 0 5.4 0a2.7 2.7 0 1 0 -5.4 0M583.8 281.9a2.7 2.7 0 1 0 5.4 0a2.7 2.7 0 1 0 -5.4 0M584.3 284.1a2.7 2.7 0 1 0 5.4 0a2.7 2.7 0 1 0 -5.4 0M584.9 282.8a2.7 2.7 0 1 0 5.4 0a2.7 2.7 0 1 0 -5.4 0M585.1 281.5a2.7 2.7 0 1 0 5.4 0a2.7 2.7 0 1 0 -5.4 0M585.2 281.9a2.7 2.7 0 1 0 5.4 0a2.7 2.7 0 1 0 -5.4 0M585.5 283.4a2.7 2.7 0 1 0 5.4 0a2.7 2.7 0 1 0 -5.4 0M585.7 281.2a2.7 2.7 0 1 0 5.4 0a2.7 2.7 0 1 0 -5.4 0M586.4 283.8a2.7 2.7 0 1 0 5.4 0a2.7 2.7 0 1 0 -5.4 0M587.1 278.6a2.7 2.7 0 1 0 5.4 0a2.7 2.7 0 1 0 -5.4 0M587.2 283.1a2.7 2.7 0 1 0 5.4 0a2.7 2.7 0 1 0 -5.4 0M587.3 283.4a2.7 2.7 0 1 0 5.4 0a2.7 2.7 0 1 0 -5.4 0M587.4 285.1a2.7 2.7 0 1 0 5.4 0a2.7 2.7 0 1 0 -5.4 0M588.3 281.5a2.7 2.7 0 1 0 5.4 0a2.7 2.7 0 1 0 -5.4 0M589.5 284.3a2.7 2.7 0 1 0 5.4 0a2.7 2.7 0 1 0 -5.4 0M590.8 286.7a2.7 2.7 0 1 0 5.4 0a2.7 2.7 0 1 0 -5.4 0M591 292.3a2.7 2.7 0 1 0 5.4 0a2.7 2.7 0 1 0 -5.4 0M591.5 286.5a2.7 2.7 0 1 0 5.4 0a2.7 2.7 0 1 0 -5.4 0M592.3 288a2.7 2.7 0 1 0 5.4 0a2.7 2.7 0 1 0 -5.4 0M592.5 285.5a2.7 2.7 0 1 0 5.4 0a2.7 2.7 0 1 0 -5.4 0M592.6 291.7a2.7 2.7 0 1 0 5.4 0a2.7 2.7 0 1 0 -5.4 0M592.6 286.3a2.7 2.7 0 1 0 5.4 0a2.7 2.7 0 1 0 -5.4 0M592.9 286.4a2.7 2.7 0 1 0 5.4 0a2.7 2.7 0 1 0 -5.4 0M593.5 287.7a2.7 2.7 0 1 0 5.4 0a2.7 2.7 0 1 0 -5.4 0M593.7 284.5a2.7 2.7 0 1 0 5.4 0a2.7 2.7 0 1 0 -5.4 0M594.6 285.7a2.7 2.7 0 1 0 5.4 0a2.7 2.7 0 1 0 -5.4 0M594.6 287.2a2.7 2.7 0 1 0 5.4 0a2.7 2.7 0 1 0 -5.4 0M595.5 286.7a2.7 2.7 0 1 0 5.4 0a2.7 2.7 0 1 0 -5.4 0M597 291.8a2.7 2.7 0 1 0 5.4 0a2.7 2.7 0 1 0 -5.4 0M597.1 288.5a2.7 2.7 0 1 0 5.4 0a2.7 2.7 0 1 0 -5.4 0M597.7 295.2a2.7 2.7 0 1 0 5.4 0a2.7 2.7 0 1 0 -5.4 0M597.9 290.8a2.7 2.7 0 1 0 5.4 0a2.7 2.7 0 1 0 -5.4 0M597.9 288.5a2.7 2.7 0 1 0 5.4 0a2.7 2.7 0 1 0 -5.4 0M599.2 291.4a2.7 2.7 0 1 0 5.4 0a2.7 2.7 0 1 0 -5.4 0M601.6 294.2a2.7 2.7 0 1 0 5.4 0a2.7 2.7 0 1 0 -5.4 0M601.7 292.7a2.7 2.7 0 1 0 5.4 0a2.7 2.7 0 1 0 -5.4 0M603 294.6a2.7 2.7 0 1 0 5.4 0a2.7 2.7 0 1 0 -5.4 0M603 293.1a2.7 2.7 0 1 0 5.4 0a2.7 2.7 0 1 0 -5.4 0M603.1 291.9a2.7 2.7 0 1 0 5.4 0a2.7 2.7 0 1 0 -5.4 0M603.2 293.5a2.7 2.7 0 1 0 5.4 0a2.7 2.7 0 1 0 -5.4 0M604 298.2a2.7 2.7 0 1 0 5.4 0a2.7 2.7 0 1 0 -5.4 0M604.6 293.7a2.7 2.7 0 1 0 5.4 0a2.7 2.7 0 1 0 -5.4 0M604.9 294.7a2.7 2.7 0 1 0 5.4 0a2.7 2.7 0 1 0 -5.4 0M605.4 291.7a2.7 2.7 0 1 0 5.4 0a2.7 2.7 0 1 0 -5.4 0M606.7 294.7a2.7 2.7 0 1 0 5.4 0a2.7 2.7 0 1 0 -5.4 0M610 299.6a2.7 2.7 0 1 0 5.4 0a2.7 2.7 0 1 0 -5.4 0M611.2 299.2a2.7 2.7 0 1 0 5.4 0a2.7 2.7 0 1 0 -5.4 0M613.1 304.4a2.7 2.7 0 1 0 5.4 0a2.7 2.7 0 1 0 -5.4 0M614.5 305.4a2.7 2.7 0 1 0 5.4 0a2.7 2.7 0 1 0 -5.4 0M615.3 303a2.7 2.7 0 1 0 5.4 0a2.7 2.7 0 1 0 -5.4 0M617.4 306.1a2.7 2.7 0 1 0 5.4 0a2.7 2.7 0 1 0 -5.4 0M617.5 308a2.7 2.7 0 1 0 5.4 0a2.7 2.7 0 1 0 -5.4 0M617.9 307.8a2.7 2.7 0 1 0 5.4 0a2.7 2.7 0 1 0 -5.4 0M620 308.8a2.7 2.7 0 1 0 5.4 0a2.7 2.7 0 1 0 -5.4 0M620.7 306.2a2.7 2.7 0 1 0 5.4 0a2.7 2.7 0 1 0 -5.4 0M621.6 314.7a2.7 2.7 0 1 0 5.4 0a2.7 2.7 0 1 0 -5.4 0M621.6 311.6a2.7 2.7 0 1 0 5.4 0a2.7 2.7 0 1 0 -5.4 0M622 312.5a2.7 2.7 0 1 0 5.4 0a2.7 2.7 0 1 0 -5.4 0M623.6 312.5a2.7 2.7 0 1 0 5.4 0a2.7 2.7 0 1 0 -5.4 0M623.8 317.7a2.7 2.7 0 1 0 5.4 0a2.7 2.7 0 1 0 -5.4 0M624.2 314.6a2.7 2.7 0 1 0 5.4 0a2.7 2.7 0 1 0 -5.4 0M624.2 315.3a2.7 2.7 0 1 0 5.4 0a2.7 2.7 0 1 0 -5.4 0M625.4 311.7a2.7 2.7 0 1 0 5.4 0a2.7 2.7 0 1 0 -5.4 0M625.7 315.6a2.7 2.7 0 1 0 5.4 0a2.7 2.7 0 1 0 -5.4 0M626.1 317.1a2.7 2.7 0 1 0 5.4 0a2.7 2.7 0 1 0 -5.4 0M626.5 318.5a2.7 2.7 0 1 0 5.4 0a2.7 2.7 0 1 0 -5.4 0M626.6 319.4a2.7 2.7 0 1 0 5.4 0a2.7 2.7 0 1 0 -5.4 0M626.8 317.6a2.7 2.7 0 1 0 5.4 0a2.7 2.7 0 1 0 -5.4 0M626.8 320.4a2.7 2.7 0 1 0 5.4 0a2.7 2.7 0 1 0 -5.4 0M627.1 318.1a2.7 2.7 0 1 0 5.4 0a2.7 2.7 0 1 0 -5.4 0M627.2 318.1a2.7 2.7 0 1 0 5.4 0a2.7 2.7 0 1 0 -5.4 0M628.1 319.6a2.7 2.7 0 1 0 5.4 0a2.7 2.7 0 1 0 -5.4 0M628.9 316.6a2.7 2.7 0 1 0 5.4 0a2.7 2.7 0 1 0 -5.4 0M629.2 315.8a2.7 2.7 0 1 0 5.4 0a2.7 2.7 0 1 0 -5.4 0M629.6 325.4a2.7 2.7 0 1 0 5.4 0a2.7 2.7 0 1 0 -5.4 0" fill="#8650ad" stroke="#7a45a3" stroke-width="0.6"/>
<path d="M343 208.2V393.5M385.7 208.2V393.5M428.4 208.2V393.5M471.2 208.2V393.5M513.9 208.2V393.5M556.6 208.2V393.5M599.4 208.2V393.5M642.1 208.2V393.5M314.2 287.5H674.9M314.2 367.5H674.9" stroke="#c4c4c4" stroke-width="1" fill="none"/>
<path d="M340.2 311.3 L341.2 311.3 L342.2 311.3 L343.2 311.3 L344.2 311.3 L345.2 311.2 L346.2 311.2 L347.2 311.2 L348.2 311.2 L349.2 311.2 L350.2 311.2 L351.2 311.2 L352.2 311.2 L353.2 311.2 L354.2 311.2 L355.2 311.2 L356.2 311.1 L357.2 311.1 L358.2 311.1 L359.2 311.1 L360.2 311.1 L361.2 311.1 L362.2 311.1 L363.2 311.1 L364.2 311.1 L365.2 311.1 L366.2 311.1 L367.2 311.1 L368.2 311.1 L369.2 311.1 L370.2 311.1 L371.2 311.1 L372.2 311.1 L373.2 311.1 L374.2 311.1 L375.2 311.1 L376.2 311.2 L377.2 311.2 L378.2 311.2 L379.2 311.2 L380.2 311.2 L381.2 311.2 L382.2 311.2 L383.2 311.3 L384.2 311.3 L385.2 311.3 L386.2 311.3 L387.2 311.3 L388.2 311.4 L389.2 311.4 L390.2 311.4 L391.2 311.5 L392.2 311.5 L393.2 311.5 L394.2 311.6 L395.2 311.6 L396.2 311.6 L397.2 311.7 L398.2 311.7 L399.2 311.8 L400.2 311.8 L401.2 311.8 L402.2 311.9 L403.2 311.9 L404.2 312 L405.2 312 L406.2 312.1 L407.2 312.2 L408.2 312.2 L409.2 312.3 L410.2 312.3 L411.2 312.4 L412.2 312.5 L413.2 312.5 L414.2 312.6 L415.2 312.7 L416.2 312.7 L417.2 312.8 L418.2 312.9 L419.2 312.9 L420.2 313 L421.2 313.1 L422.2 313.2 L423.2 313.3 L424.2 313.4 L425.2 313.4 L426.2 313.5 L427.2 313.6 L428.2 313.7 L429.2 313.8 L430.2 313.9 L431.2 314 L432.2 314.1 L433.2 314.2 L434.2 314.3 L435.2 314.4 L436.2 314.5 L437.2 314.6 L438.2 314.8 L439.2 314.9 L440.2 315 L441.2 315.1 L442.2 315.3 L443.2 315.4 L444.2 315.5 L445.2 315.7 L446.2 315.8 L447.2 316 L448.2 316.1 L449.2 316.3 L450.2 316.4 L451.2 316.6 L452.2 316.8 L453.2 317 L454.2 317.2 L455.2 317.3 L456.2 317.5 L457.2 317.7 L458.2 317.9 L459.2 318.2 L460.2 318.4 L461.2 318.6 L462.2 318.8 L463.2 319.1 L464.2 319.3 L465.2 319.6 L466.2 319.8 L467.2 320.1 L468.2 320.4 L469.2 320.7 L470.2 321 L471.2 321.3 L472.2 321.6 L473.2 321.9 L474.2 322.2 L475.2 322.5 L476.2 322.9 L477.2 323.2 L478.2 323.5 L479.2 323.9 L480.2 324.2 L481.2 324.6 L482.2 325 L483.2 325.3 L484.2 325.7 L485.2 326.1 L486.2 326.5 L487.2 326.9 L488.2 327.2 L489.2 327.6 L490.2 328 L491.2 328.4 L492.2 328.8 L493.2 329.2 L494.2 329.6 L495.2 330 L496.2 330.4 L497.2 330.9 L498.2 331.3 L499.2 331.7 L500.2 332.1 L501.2 332.5 L502.2 332.9 L503.2 333.3 L504.2 333.7 L505.2 334.2 L506.2 334.6 L507.2 335 L508.2 335.5 L509.2 335.9 L510.2 336.4 L511.2 336.8 L512.2 337.3 L513.2 337.8 L514.2 338.3 L515.2 338.8 L516.2 339.3 L517.2 339.9 L518.2 340.4 L519.2 341 L520.2 341.6 L521.2 342.2 L522.2 342.9 L523.2 343.5 L524.2 344.2 L525.2 344.9 L526.2 345.6 L527.2 346.3 L528.2 347 L529.2 347.7 L530.2 348.5 L531.2 349.2 L532.2 349.9 L533.2 350.7 L534.2 351.4 L535.2 352.2 L536.2 353 L537.2 353.7 L538.2 354.5 L539.2 355.2 L540.2 355.9 L541.2 356.7 L542.2 357.4 L543.2 358.2 L544.2 358.9 L545.2 359.6 L546.2 360.4 L547.2 361.1 L548.2 361.9 L549.2 362.7 L550.2 363.5 L551.2 364.3 L552.2 365.2 L553.2 366 L554.2 366.9 L555.2 367.9 L556.2 368.8 L557.2 369.8 L558.2 370.8 L559.2 371.9 L560.2 372.9 L561.2 374 L562.2 375.1 L563.2 376.2 L564.2 377.3 L565.2 378.5 L566.2 379.6 L567.2 380.8 L568.2 382 L569.2 383.2 L570.2 384.3 L571.2 385.5 L571.6 386" stroke="#c68a5b" stroke-width="1.0" fill="none" stroke-dasharray="2.0 1.6"/>
<path d="M334.6 282.6 L335.6 282.6 L336.6 282.6 L337.6 282.6 L338.6 282.7 L339.6 282.7 L340.6 282.7 L341.6 282.7 L342.6 282.7 L343.6 282.7 L344.6 282.7 L345.6 282.8 L346.6 282.8 L347.6 282.8 L348.6 282.8 L349.6 282.8 L350.6 282.8 L351.6 282.9 L352.6 282.9 L353.6 282.9 L354.6 282.9 L355.6 282.9 L356.6 283 L357.6 283 L358.6 283 L359.6 283 L360.6 283.1 L361.6 283.1 L362.6 283.1 L363.6 283.1 L364.6 283.2 L365.6 283.2 L366.6 283.2 L367.6 283.2 L368.6 283.3 L369.6 283.3 L370.6 283.3 L371.6 283.4 L372.6 283.4 L373.6 283.5 L374.6 283.5 L375.6 283.5 L376.6 283.6 L377.6 283.6 L378.6 283.7 L379.6 283.7 L380.6 283.8 L381.6 283.8 L382.6 283.9 L383.6 283.9 L384.6 284 L385.6 284 L386.6 284.1 L387.6 284.1 L388.6 284.2 L389.6 284.2 L390.6 284.3 L391.6 284.4 L392.6 284.4 L393.6 284.5 L394.6 284.6 L395.6 284.7 L396.6 284.7 L397.6 284.8 L398.6 284.9 L399.6 285 L400.6 285 L401.6 285.1 L402.6 285.2 L403.6 285.3 L404.6 285.4 L405.6 285.5 L406.6 285.6 L407.6 285.7 L408.6 285.8 L409.6 285.9 L410.6 286 L411.6 286.1 L412.6 286.2 L413.6 286.3 L414.6 286.4 L415.6 286.5 L416.6 286.6 L417.6 286.8 L418.6 286.9 L419.6 287 L420.6 287.1 L421.6 287.2 L422.6 287.3 L423.6 287.5 L424.6 287.6 L425.6 287.7 L426.6 287.9 L427.6 288 L428.6 288.1 L429.6 288.2 L430.6 288.4 L431.6 288.5 L432.6 288.6 L433.6 288.8 L434.6 288.9 L435.6 289.1 L436.6 289.2 L437.6 289.3 L438.6 289.5 L439.6 289.6 L440.6 289.8 L441.6 289.9 L442.6 290.1 L443.6 290.2 L444.6 290.3 L445.6 290.5 L446.6 290.6 L447.6 290.8 L448.6 290.9 L449.6 291.1 L450.6 291.2 L451.6 291.4 L452.6 291.6 L453.6 291.7 L454.6 291.9 L455.6 292 L456.6 292.2 L457.6 292.3 L458.6 292.5 L459.6 292.6 L460.6 292.8 L461.6 293 L462.6 293.1 L463.6 293.3 L464.6 293.4 L465.6 293.6 L466.6 293.7 L467.6 293.9 L468.6 294.1 L469.6 294.2 L470.6 294.4 L471.6 294.6 L472.6 294.7 L473.6 294.9 L474.6 295.1 L475.6 295.2 L476.6 295.4 L477.6 295.6 L478.6 295.7 L479.6 295.9 L480.6 296.1 L481.6 296.3 L482.6 296.5 L483.6 296.6 L484.6 296.8 L485.6 297 L486.6 297.2 L487.6 297.4 L488.6 297.6 L489.6 297.8 L490.6 298 L491.6 298.2 L492.6 298.4 L493.6 298.6 L494.6 298.8 L495.6 299 L496.6 299.2 L497.6 299.5 L498.6 299.7 L499.6 299.9 L500.6 300.1 L501.6 300.4 L502.6 300.6 L503.6 300.8 L504.6 301.1 L505.6 301.3 L506.6 301.6 L507.6 301.8 L508.6 302.1 L509.6 302.4 L510.6 302.6 L511.6 302.9 L512.6 303.2 L513.6 303.5 L514.6 303.8 L515.6 304.1 L516.6 304.4 L517.6 304.8 L518.6 305.1 L519.6 305.4 L520.6 305.8 L521.6 306.1 L522.6 306.5 L523.6 306.9 L524.6 307.3 L525.6 307.7 L526.6 308.1 L527.6 308.5 L528.6 308.9 L529.6 309.4 L530.6 309.8 L531.6 310.3 L532.6 310.8 L533.6 311.2 L534.6 311.8 L535.6 312.3 L536.6 312.8 L537.6 313.3 L538.6 313.9 L539.6 314.5 L540.6 315.1 L541.6 315.7 L542.6 316.3 L543.6 316.9 L544.6 317.5 L545.6 318.2 L546.6 318.9 L547.6 319.5 L548.6 320.2 L549.6 320.9 L550.6 321.6 L551.6 322.3 L552.6 323.1 L553.6 323.8 L554.6 324.6 L555.6 325.3 L556.6 326.1 L557.6 326.8 L558.6 327.6 L559.6 328.4 L560.6 329.2 L561.6 330 L562.6 330.8 L563.6 331.6 L564.6 332.4 L565.6 333.2 L566.6 334 L567.6 334.9 L568.6 335.7 L569.6 336.5 L570.6 337.4 L571.6 338.2 L572.6 339.1 L573.6 339.9 L574.6 340.8 L575.6 341.6 L576.6 342.5 L577.6 343.4 L578.6 344.2 L579.6 345.1 L580.6 346 L581.6 346.9 L582.6 347.9 L583.6 348.8 L584.6 349.7 L585.6 350.7 L586.6 351.7 L587.6 352.7 L588.6 353.7 L589.6 354.7 L590.6 355.8 L591.6 356.9 L592.6 358 L593.6 359.1 L594.6 360.2 L595.6 361.3 L596.6 362.4 L597.6 363.6 L598.6 364.7 L599.6 365.8 L600.6 366.9 L601.6 367.9 L602.6 369 L603.6 370 L604.6 371 L605.6 372 L606.6 373 L607.6 374 L607.8 374.2" stroke="#a83450" stroke-width="1.0" fill="none" stroke-dasharray="2.0 1.6"/>
<path d="M330.2 259.2 L331.2 259.2 L332.2 259.2 L333.2 259.1 L334.2 259.1 L335.2 259.1 L336.2 259.1 L337.2 259.1 L338.2 259.1 L339.2 259 L340.2 259 L341.2 259 L342.2 259 L343.2 259 L344.2 259 L345.2 258.9 L346.2 258.9 L347.2 258.9 L348.2 258.9 L349.2 258.9 L350.2 258.9 L351.2 258.8 L352.2 258.8 L353.2 258.8 L354.2 258.8 L355.2 258.8 L356.2 258.8 L357.2 258.8 L358.2 258.8 L359.2 258.7 L360.2 258.7 L361.2 258.7 L362.2 258.7 L363.2 258.7 L364.2 258.7 L365.2 258.7 L366.2 258.7 L367.2 258.7 L368.2 258.7 L369.2 258.7 L370.2 258.7 L371.2 258.7 L372.2 258.7 L373.2 258.7 L374.2 258.7 L375.2 258.7 L376.2 258.7 L377.2 258.7 L378.2 258.7 L379.2 258.7 L380.2 258.7 L381.2 258.7 L382.2 258.7 L383.2 258.7 L384.2 258.7 L385.2 258.7 L386.2 258.7 L387.2 258.8 L388.2 258.8 L389.2 258.8 L390.2 258.8 L391.2 258.8 L392.2 258.8 L393.2 258.9 L394.2 258.9 L395.2 258.9 L396.2 258.9 L397.2 258.9 L398.2 259 L399.2 259 L400.2 259 L401.2 259.1 L402.2 259.1 L403.2 259.1 L404.2 259.2 L405.2 259.2 L406.2 259.2 L407.2 259.3 L408.2 259.3 L409.2 259.4 L410.2 259.4 L411.2 259.4 L412.2 259.5 L413.2 259.5 L414.2 259.6 L415.2 259.6 L416.2 259.7 L417.2 259.7 L418.2 259.8 L419.2 259.9 L420.2 259.9 L421.2 260 L422.2 260 L423.2 260.1 L424.2 260.2 L425.2 260.2 L426.2 260.3 L427.2 260.4 L428.2 260.4 L429.2 260.5 L430.2 260.6 L431.2 260.7 L432.2 260.7 L433.2 260.8 L434.2 260.9 L435.2 261 L436.2 261.1 L437.2 261.1 L438.2 261.2 L439.2 261.3 L440.2 261.4 L441.2 261.5 L442.2 261.5 L443.2 261.6 L444.2 261.7 L445.2 261.8 L446.2 261.9 L447.2 262 L448.2 262 L449.2 262.1 L450.2 262.2 L451.2 262.3 L452.2 262.4 L453.2 262.5 L454.2 262.5 L455.2 262.6 L456.2 262.7 L457.2 262.8 L458.2 262.9 L459.2 262.9 L460.2 263 L461.2 263.1 L462.2 263.2 L463.2 263.2 L464.2 263.3 L465.2 263.4 L466.2 263.5 L467.2 263.5 L468.2 263.6 L469.2 263.7 L470.2 263.8 L471.2 263.8 L472.2 263.9 L473.2 264 L474.2 264.1 L475.2 264.1 L476.2 264.2 L477.2 264.3 L478.2 264.4 L479.2 264.4 L480.2 264.5 L481.2 264.6 L482.2 264.7 L483.2 264.8 L484.2 264.9 L485.2 264.9 L486.2 265 L487.2 265.1 L488.2 265.2 L489.2 265.3 L490.2 265.4 L491.2 265.5 L492.2 265.6 L493.2 265.7 L494.2 265.8 L495.2 265.9 L496.2 266 L497.2 266.1 L498.2 266.2 L499.2 266.3 L500.2 266.4 L501.2 266.5 L502.2 266.7 L503.2 266.8 L504.2 266.9 L505.2 267 L506.2 267.2 L507.2 267.3 L508.2 267.4 L509.2 267.6 L510.2 267.7 L511.2 267.9 L512.2 268 L513.2 268.2 L514.2 268.3 L515.2 268.5 L516.2 268.7 L517.2 268.8 L518.2 269 L519.2 269.2 L520.2 269.4 L521.2 269.5 L522.2 269.7 L523.2 269.9 L524.2 270.1 L525.2 270.3 L526.2 270.5 L527.2 270.7 L528.2 270.9 L529.2 271.2 L530.2 271.4 L531.2 271.6 L532.2 271.9 L533.2 272.1 L534.2 272.4 L535.2 272.6 L536.2 272.9 L537.2 273.2 L538.2 273.5 L539.2 273.8 L540.2 274.1 L541.2 274.5 L542.2 274.8 L543.2 275.2 L544.2 275.5 L545.2 275.9 L546.2 276.3 L547.2 276.7 L548.2 277.1 L549.2 277.5 L550.2 277.9 L551.2 278.4 L552.2 278.8 L553.2 279.3 L554.2 279.7 L555.2 280.2 L556.2 280.7 L557.2 281.2 L558.2 281.7 L559.2 282.2 L560.2 282.7 L561.2 283.2 L562.2 283.7 L563.2 284.2 L564.2 284.8 L565.2 285.3 L566.2 285.9 L567.2 286.4 L568.2 286.9 L569.2 287.5 L570.2 288.1 L571.2 288.6 L572.2 289.2 L573.2 289.7 L574.2 290.3 L575.2 290.9 L576.2 291.5 L577.2 292.1 L578.2 292.6 L579.2 293.2 L580.2 293.8 L581.2 294.4 L582.2 295 L583.2 295.6 L584.2 296.2 L585.2 296.8 L586.2 297.4 L587.2 298 L588.2 298.6 L589.2 299.2 L590.2 299.8 L591.2 300.4 L592.2 301 L593.2 301.6 L594.2 302.2 L595.2 302.8 L596.2 303.4 L597.2 304 L598.2 304.6 L599.2 305.3 L600.2 305.9 L601.2 306.6 L602.2 307.3 L603.2 307.9 L604.2 308.6 L605.2 309.3 L606.2 310.1 L607.2 310.8 L608.2 311.6 L609.2 312.4 L610.2 313.2 L611.2 314 L612.2 314.8 L613.2 315.7 L614.2 316.6 L615.2 317.5 L616.2 318.4 L617.2 319.4 L618.2 320.3 L619.2 321.3 L620.2 322.4 L621.2 323.4 L622.2 324.4 L623.2 325.5 L624.2 326.6 L625.2 327.7 L626.2 328.9 L627.2 330.1 L628.2 331.2 L629.2 332.4 L630.2 333.7 L631.2 334.9 L632.2 336.2 L633.2 337.5 L634.2 338.8 L635.2 340.1 L636.2 341.4 L637.2 342.7 L638.2 344 L639.2 345.3 L640.2 346.7 L641.2 348 L642.2 349.3 L643.2 350.6 L644.2 351.9 L645.2 353.2 L646.2 354.5 L647.2 355.8 L648.2 357 L649.2 358.3 L650.2 359.6 L651.2 360.8 L652.2 362.1 L653.2 363.4 L654.2 364.6 L655.2 365.9 L656.2 367.1 L657.2 368.4 L658.2 369.6 L659 370.6" stroke="#4a1868" stroke-width="1.0" fill="none" stroke-dasharray="2.0 1.6"/>
<path d="M339.2 316.4 L340.2 316.4 L341.2 316.4 L342.2 316.4 L343.2 316.4 L344.2 316.4 L345.2 316.4 L346.2 316.3 L347.2 316.3 L348.2 316.3 L349.2 316.3 L350.2 316.3 L351.2 316.3 L352.2 316.3 L353.2 316.3 L354.2 316.3 L355.2 316.3 L356.2 316.3 L357.2 316.3 L358.2 316.3 L359.2 316.3 L360.2 316.3 L361.2 316.3 L362.2 316.3 L363.2 316.3 L364.2 316.3 L365.2 316.3 L366.2 316.3 L367.2 316.4 L368.2 316.4 L369.2 316.4 L370.2 316.4 L371.2 316.4 L372.2 316.4 L373.2 316.4 L374.2 316.5 L375.2 316.5 L376.2 316.5 L377.2 316.5 L378.2 316.6 L379.2 316.6 L380.2 316.6 L381.2 316.6 L382.2 316.7 L383.2 316.7 L384.2 316.8 L385.2 316.8 L386.2 316.8 L387.2 316.9 L388.2 316.9 L389.2 317 L390.2 317 L391.2 317.1 L392.2 317.1 L393.2 317.2 L394.2 317.3 L395.2 317.3 L396.2 317.4 L397.2 317.4 L398.2 317.5 L399.2 317.6 L400.2 317.6 L401.2 317.7 L402.2 317.8 L403.2 317.9 L404.2 317.9 L405.2 318 L406.2 318.1 L407.2 318.1 L408.2 318.2 L409.2 318.3 L410.2 318.4 L411.2 318.5 L412.2 318.5 L413.2 318.6 L414.2 318.7 L415.2 318.8 L416.2 318.9 L417.2 319 L418.2 319 L419.2 319.1 L420.2 319.2 L421.2 319.3 L422.2 319.4 L423.2 319.5 L424.2 319.6 L425.2 319.6 L426.2 319.7 L427.2 319.8 L428.2 319.9 L429.2 320 L430.2 320.1 L431.2 320.2 L432.2 320.3 L433.2 320.3 L434.2 320.4 L435.2 320.5 L436.2 320.6 L437.2 320.7 L438.2 320.8 L439.2 320.9 L440.2 320.9 L441.2 321 L442.2 321.1 L443.2 321.2 L444.2 321.3 L445.2 321.3 L446.2 321.4 L447.2 321.5 L448.2 321.6 L449.2 321.7 L450.2 321.7 L451.2 321.8 L452.2 321.9 L453.2 321.9 L454.2 322 L455.2 322.1 L456.2 322.1 L457.2 322.2 L458.2 322.3 L459.2 322.3 L460.2 322.4 L461.2 322.5 L462.2 322.5 L463.2 322.6 L464.2 322.6 L465.2 322.7 L466.2 322.7 L467.2 322.8 L468.2 322.8 L469.2 322.9 L470.2 322.9 L471.2 322.9 L472.2 323 L473.2 323 L474.2 323 L475.2 323 L476.2 323 L477.2 322.9 L478.2 322.8 L479.2 322.7 L480.2 322.5 L481.2 322.3 L482.2 322 L483.2 321.7 L484.2 321.4 L485.2 321 L486.2 320.5 L487.2 319.9 L488.2 319.3 L489.2 318.6 L490.2 317.8 L491.2 317 L492.2 316.1 L493.2 315.1 L494.2 314.1 L495.2 313 L496.2 311.9 L497.2 310.7 L498.2 309.6 L499.2 308.4 L500.2 307.3 L501.2 306.1 L502.2 305 L503.2 303.9 L504.2 302.8 L505.2 301.7 L506.2 300.7 L507.2 299.7 L508.2 298.7 L509.2 297.7 L510.2 296.8 L511.2 296 L512.2 295.1 L513.2 294.3 L514.2 293.6 L515.2 292.9 L516.2 292.3 L517.2 291.7 L518.2 291.1 L519.2 290.6 L520.2 290.2 L521.2 289.8 L522.2 289.4 L523.2 289.1 L524.2 288.9 L525.2 288.7 L526.2 288.6 L527.2 288.5 L528.2 288.5 L529.2 288.5 L530.2 288.6 L531.2 288.8 L532.2 288.9 L533.2 289.2 L534.2 289.4 L535.2 289.7 L536.2 290.1 L537.2 290.5 L538.2 290.9 L539.2 291.3 L540.2 291.7 L541.2 292.2 L542.2 292.7 L543.2 293.2 L544.2 293.7 L545.2 294.3 L546.2 294.8 L547.2 295.4 L548.2 296 L549.2 296.6 L550.2 297.2 L551.2 297.8 L552.2 298.5 L553.2 299.1 L554.2 299.8 L555.2 300.5 L556.2 301.2 L557.2 302 L558.2 302.7 L559.2 303.5 L560.2 304.2 L561.2 305 L562.2 305.8 L563.2 306.6 L564.2 307.4 L565.2 308.3 L566.2 309.1 L567.2 309.9 L568.2 310.8 L569.2 311.6 L570.2 312.5 L571.2 313.4 L571.6 313.7" stroke="#c68a5b" stroke-width="1.6" fill="none"/>
<path d="M334.6 285.2 L335.6 285.2 L336.6 285.2 L337.6 285.2 L338.6 285.2 L339.6 285.3 L340.6 285.3 L341.6 285.3 L342.6 285.3 L343.6 285.3 L344.6 285.3 L345.6 285.3 L346.6 285.3 L347.6 285.4 L348.6 285.4 L349.6 285.4 L350.6 285.4 L351.6 285.4 L352.6 285.4 L353.6 285.4 L354.6 285.5 L355.6 285.5 L356.6 285.5 L357.6 285.5 L358.6 285.5 L359.6 285.5 L360.6 285.5 L361.6 285.6 L362.6 285.6 L363.6 285.6 L364.6 285.6 L365.6 285.6 L366.6 285.6 L367.6 285.7 L368.6 285.7 L369.6 285.7 L370.6 285.7 L371.6 285.7 L372.6 285.8 L373.6 285.8 L374.6 285.8 L375.6 285.8 L376.6 285.8 L377.6 285.9 L378.6 285.9 L379.6 285.9 L380.6 285.9 L381.6 286 L382.6 286 L383.6 286 L384.6 286 L385.6 286.1 L386.6 286.1 L387.6 286.1 L388.6 286.1 L389.6 286.2 L390.6 286.2 L391.6 286.2 L392.6 286.3 L393.6 286.3 L394.6 286.3 L395.6 286.3 L396.6 286.4 L397.6 286.4 L398.6 286.5 L399.6 286.5 L400.6 286.5 L401.6 286.6 L402.6 286.6 L403.6 286.6 L404.6 286.7 L405.6 286.7 L406.6 286.8 L407.6 286.8 L408.6 286.8 L409.6 286.9 L410.6 286.9 L411.6 287 L412.6 287 L413.6 287 L414.6 287.1 L415.6 287.1 L416.6 287.2 L417.6 287.2 L418.6 287.3 L419.6 287.3 L420.6 287.4 L421.6 287.4 L422.6 287.5 L423.6 287.5 L424.6 287.6 L425.6 287.6 L426.6 287.6 L427.6 287.7 L428.6 287.7 L429.6 287.8 L430.6 287.8 L431.6 287.9 L432.6 287.9 L433.6 288 L434.6 288 L435.6 288.1 L436.6 288.1 L437.6 288.2 L438.6 288.2 L439.6 288.3 L440.6 288.3 L441.6 288.4 L442.6 288.4 L443.6 288.5 L444.6 288.5 L445.6 288.6 L446.6 288.6 L447.6 288.7 L448.6 288.7 L449.6 288.7 L450.6 288.8 L451.6 288.8 L452.6 288.9 L453.6 288.9 L454.6 289 L455.6 289 L456.6 289.1 L457.6 289.1 L458.6 289.1 L459.6 289.2 L460.6 289.2 L461.6 289.3 L462.6 289.3 L463.6 289.3 L464.6 289.4 L465.6 289.4 L466.6 289.5 L467.6 289.5 L468.6 289.5 L469.6 289.6 L470.6 289.6 L471.6 289.7 L472.6 289.7 L473.6 289.8 L474.6 289.8 L475.6 289.9 L476.6 289.9 L477.6 290 L478.6 290 L479.6 290.1 L480.6 290.1 L481.6 290.2 L482.6 290.3 L483.6 290.3 L484.6 290.3 L485.6 290.4 L486.6 290.4 L487.6 290.4 L488.6 290.4 L489.6 290.3 L490.6 290.3 L491.6 290.2 L492.6 290.1 L493.6 290 L494.6 289.8 L495.6 289.7 L496.6 289.5 L497.6 289.2 L498.6 288.9 L499.6 288.6 L500.6 288.3 L501.6 287.9 L502.6 287.5 L503.6 287.1 L504.6 286.6 L505.6 286.1 L506.6 285.6 L507.6 285.1 L508.6 284.6 L509.6 284.1 L510.6 283.7 L511.6 283.2 L512.6 282.7 L513.6 282.3 L514.6 281.9 L515.6 281.5 L516.6 281.2 L517.6 280.9 L518.6 280.7 L519.6 280.5 L520.6 280.3 L521.6 280.3 L522.6 280.3 L523.6 280.3 L524.6 280.4 L525.6 280.6 L526.6 280.8 L527.6 281 L528.6 281.3 L529.6 281.7 L530.6 282.1 L531.6 282.5 L532.6 283 L533.6 283.5 L534.6 284 L535.6 284.5 L536.6 285.1 L537.6 285.7 L538.6 286.3 L539.6 286.9 L540.6 287.6 L541.6 288.2 L542.6 288.9 L543.6 289.6 L544.6 290.2 L545.6 290.9 L546.6 291.6 L547.6 292.3 L548.6 293 L549.6 293.7 L550.6 294.4 L551.6 295.1 L552.6 295.8 L553.6 296.5 L554.6 297.2 L555.6 298 L556.6 298.7 L557.6 299.4 L558.6 300.1 L559.6 300.8 L560.6 301.6 L561.6 302.3 L562.6 303 L563.6 303.7 L564.6 304.5 L565.6 305.2 L566.6 305.9 L567.6 306.6 L568.6 307.3 L569.6 308.1 L570.6 308.8 L571.6 309.5 L572.6 310.2 L573.6 310.9 L574.6 311.6 L575.6 312.3 L576.6 313 L577.6 313.7 L578.6 314.4 L579.6 315 L580.6 315.7 L581.6 316.4 L582.6 317.1 L583.6 317.7 L584.6 318.4 L585.6 319 L586.6 319.7 L587.6 320.4 L588.6 321 L589.6 321.7 L590.6 322.3 L591.6 323 L592.6 323.7 L593.6 324.4 L594.6 325.1 L595.6 325.9 L596.6 326.7 L597.6 327.4 L598.6 328.3 L599.6 329.1 L600.6 330 L601.6 330.9 L602.6 331.8 L603.6 332.7 L604.6 333.7 L605.6 334.7 L606.6 335.6 L607.6 336.6 L608.5 337.5" stroke="#a83450" stroke-width="1.6" fill="none"/>
<path d="M330.2 259.2 L331.2 259.2 L332.2 259.2 L333.2 259.1 L334.2 259.1 L335.2 259.1 L336.2 259.1 L337.2 259.1 L338.2 259 L339.2 259 L340.2 259 L341.2 259 L342.2 259 L343.2 259 L344.2 258.9 L345.2 258.9 L346.2 258.9 L347.2 258.9 L348.2 258.9 L349.2 258.8 L350.2 258.8 L351.2 258.8 L352.2 258.8 L353.2 258.8 L354.2 258.8 L355.2 258.8 L356.2 258.7 L357.2 258.7 L358.2 258.7 L359.2 258.7 L360.2 258.7 L361.2 258.7 L362.2 258.7 L363.2 258.7 L364.2 258.7 L365.2 258.6 L366.2 258.6 L367.2 258.6 L368.2 258.6 L369.2 258.6 L370.2 258.6 L371.2 258.6 L372.2 258.6 L373.2 258.6 L374.2 258.6 L375.2 258.6 L376.2 258.6 L377.2 258.6 L378.2 258.6 L379.2 258.6 L380.2 258.6 L381.2 258.6 L382.2 258.6 L383.2 258.6 L384.2 258.6 L385.2 258.6 L386.2 258.6 L387.2 258.6 L388.2 258.6 L389.2 258.7 L390.2 258.7 L391.2 258.7 L392.2 258.7 L393.2 258.7 L394.2 258.7 L395.2 258.7 L396.2 258.8 L397.2 258.8 L398.2 258.8 L399.2 258.8 L400.2 258.9 L401.2 258.9 L402.2 258.9 L403.2 258.9 L404.2 259 L405.2 259 L406.2 259 L407.2 259.1 L408.2 259.1 L409.2 259.1 L410.2 259.2 L411.2 259.2 L412.2 259.2 L413.2 259.3 L414.2 259.3 L415.2 259.4 L416.2 259.4 L417.2 259.5 L418.2 259.5 L419.2 259.6 L420.2 259.6 L421.2 259.7 L422.2 259.7 L423.2 259.8 L424.2 259.8 L425.2 259.9 L426.2 260 L427.2 260 L428.2 260.1 L429.2 260.1 L430.2 260.2 L431.2 260.3 L432.2 260.4 L433.2 260.4 L434.2 260.5 L435.2 260.6 L436.2 260.6 L437.2 260.7 L438.2 260.8 L439.2 260.9 L440.2 260.9 L441.2 261 L442.2 261.1 L443.2 261.2 L444.2 261.3 L445.2 261.4 L446.2 261.4 L447.2 261.5 L448.2 261.6 L449.2 261.7 L450.2 261.8 L451.2 261.9 L452.2 262 L453.2 262.1 L454.2 262.2 L455.2 262.2 L456.2 262.3 L457.2 262.4 L458.2 262.5 L459.2 262.6 L460.2 262.7 L461.2 262.8 L462.2 262.9 L463.2 263 L464.2 263.1 L465.2 263.2 L466.2 263.3 L467.2 263.4 L468.2 263.5 L469.2 263.6 L470.2 263.6 L471.2 263.7 L472.2 263.8 L473.2 263.9 L474.2 264 L475.2 264 L476.2 264.1 L477.2 264.2 L478.2 264.2 L479.2 264.3 L480.2 264.3 L481.2 264.4 L482.2 264.4 L483.2 264.4 L484.2 264.4 L485.2 264.4 L486.2 264.5 L487.2 264.4 L488.2 264.4 L489.2 264.4 L490.2 264.4 L491.2 264.4 L492.2 264.3 L493.2 264.3 L494.2 264.2 L495.2 264.1 L496.2 264 L497.2 263.9 L498.2 263.8 L499.2 263.7 L500.2 263.6 L501.2 263.4 L502.2 263.3 L503.2 263.1 L504.2 263 L505.2 262.8 L506.2 262.6 L507.2 262.4 L508.2 262.3 L509.2 262.1 L510.2 261.9 L511.2 261.8 L512.2 261.6 L513.2 261.5 L514.2 261.4 L515.2 261.3 L516.2 261.2 L517.2 261.1 L518.2 261.1 L519.2 261.1 L520.2 261.1 L521.2 261.1 L522.2 261.2 L523.2 261.3 L524.2 261.4 L525.2 261.5 L526.2 261.7 L527.2 261.9 L528.2 262.1 L529.2 262.3 L530.2 262.5 L531.2 262.8 L532.2 263.1 L533.2 263.3 L534.2 263.6 L535.2 264 L536.2 264.3 L537.2 264.6 L538.2 265 L539.2 265.3 L540.2 265.7 L541.2 266 L542.2 266.4 L543.2 266.8 L544.2 267.1 L545.2 267.5 L546.2 267.9 L547.2 268.3 L548.2 268.6 L549.2 269 L550.2 269.4 L551.2 269.8 L552.2 270.2 L553.2 270.6 L554.2 271 L555.2 271.4 L556.2 271.8 L557.2 272.2 L558.2 272.6 L559.2 273 L560.2 273.4 L561.2 273.9 L562.2 274.3 L563.2 274.8 L564.2 275.2 L565.2 275.7 L566.2 276.1 L567.2 276.6 L568.2 277 L569.2 277.5 L570.2 278 L571.2 278.5 L572.2 279 L573.2 279.5 L574.2 280 L575.2 280.5 L576.2 281 L577.2 281.5 L578.2 282 L579.2 282.6 L580.2 283.1 L581.2 283.6 L582.2 284.2 L583.2 284.7 L584.2 285.2 L585.2 285.8 L586.2 286.4 L587.2 286.9 L588.2 287.5 L589.2 288.1 L590.2 288.6 L591.2 289.2 L592.2 289.8 L593.2 290.4 L594.2 291 L595.2 291.6 L596.2 292.3 L597.2 292.9 L598.2 293.6 L599.2 294.2 L600.2 294.9 L601.2 295.6 L602.2 296.3 L603.2 297 L604.2 297.7 L605.2 298.4 L606.2 299.2 L607.2 299.9 L608.2 300.7 L609.2 301.5 L610.2 302.3 L611.2 303.2 L612.2 304 L613.2 304.9 L614.2 305.8 L615.2 306.7 L616.2 307.7 L617.2 308.7 L618.2 309.7 L619.2 310.7 L620.2 311.8 L621.2 312.8 L622.2 313.9 L623.2 315 L624.2 316.1 L625.2 317.2 L626.2 318.4 L627.2 319.5 L628.2 320.6 L629.2 321.7 L630.2 322.8 L631.2 323.8 L632.2 324.9 L633.2 326 L634.2 327 L635.2 328.1 L636.2 329.1 L637.2 330.1 L638.2 331.1 L639.2 332.1 L640.2 333.1 L641.2 334.1 L642.2 335 L643.2 336 L644.2 337 L645.2 337.9 L646.2 338.9 L647.2 339.8 L648.2 340.7 L649.2 341.7 L650.2 342.6 L651.2 343.5 L652.2 344.4 L653.2 345.3 L654.2 346.2 L655.2 347.2 L656.2 348.1 L657.2 349 L658.2 349.9 L659 350.6" stroke="#4a1868" stroke-width="1.6" fill="none"/>
<path d="M314.2 234.9H674.9" stroke="#6e6e6e" stroke-width="1.1" stroke-dasharray="1.1 2.2"/>
<rect x="314.2" y="208.2" width="360.7" height="185.3" fill="none" stroke="#262626" stroke-width="1.25"/>
<path d="M343 393.5v-2.2M343 208.2v2.2M385.7 393.5v-2.2M385.7 208.2v2.2M428.4 393.5v-2.2M428.4 208.2v2.2M471.2 393.5v-2.2M471.2 208.2v2.2M513.9 393.5v-2.2M513.9 208.2v2.2M556.6 393.5v-2.2M556.6 208.2v2.2M599.4 393.5v-2.2M599.4 208.2v2.2M642.1 393.5v-2.2M642.1 208.2v2.2M314.2 287.5h2.2M674.9 287.5h-2.2M314.2 367.5h2.2M674.9 367.5h-2.2" stroke="#262626" stroke-width="1"/>
<text x="445.6" y="230.5" font-size="10.8" fill="#8a8a8a" textLength="103.6" lengthAdjust="spacingAndGlyphs" stroke="#8a8a8a" stroke-width="0.28">Ω<tspan font-size="8" dy="2">0</tspan><tspan dy="-2">/2</tspan><tspan font-style="italic">π</tspan> = 446.53 MHz</text>
<text x="264.6" y="213.4" font-size="12.5" text-anchor="start" fill="#000" font-weight="bold" stroke="#000" stroke-width="0.28">e</text>
<text x="309" y="212.6" font-size="11.5" text-anchor="end" fill="#111" font-weight="normal" stroke="#111" stroke-width="0.28">446.6</text>
<text x="309" y="291.9" font-size="11.5" text-anchor="end" fill="#111" font-weight="normal" stroke="#111" stroke-width="0.28">446.4</text>
<text x="309" y="371.9" font-size="11.5" text-anchor="end" fill="#111" font-weight="normal" stroke="#111" stroke-width="0.28">446.2</text>
<text x="343" y="407.8" font-size="11.5" text-anchor="middle" fill="#111" font-weight="normal" stroke="#111" stroke-width="0.28">−200</text>
<text x="385.7" y="407.8" font-size="11.5" text-anchor="middle" fill="#111" font-weight="normal" stroke="#111" stroke-width="0.28">−150</text>
<text x="428.4" y="407.8" font-size="11.5" text-anchor="middle" fill="#111" font-weight="normal" stroke="#111" stroke-width="0.28">−100</text>
<text x="471.2" y="407.8" font-size="11.5" text-anchor="middle" fill="#111" font-weight="normal" stroke="#111" stroke-width="0.28">−50</text>
<text x="513.9" y="407.8" font-size="11.5" text-anchor="middle" fill="#111" font-weight="normal" stroke="#111" stroke-width="0.28">0</text>
<text x="556.6" y="407.8" font-size="11.5" text-anchor="middle" fill="#111" font-weight="normal" stroke="#111" stroke-width="0.28">50</text>
<text x="599.4" y="407.8" font-size="11.5" text-anchor="middle" fill="#111" font-weight="normal" stroke="#111" stroke-width="0.28">100</text>
<text x="642.1" y="407.8" font-size="11.5" text-anchor="middle" fill="#111" font-weight="normal" stroke="#111" stroke-width="0.28">150</text>
<text x="494" y="423.8" font-size="11.5" fill="#111" text-anchor="middle" stroke="#111" stroke-width="0.28">Detuning <tspan font-style="italic">δ</tspan>′/2<tspan font-style="italic">π</tspan> [MHz]</text>
<text transform="translate(271.8 301) rotate(-90)" font-size="11.5" fill="#111" text-anchor="middle" stroke="#111" stroke-width="0.28">Ω<tspan font-size="8" dy="2">eff</tspan><tspan dy="-2">/2</tspan><tspan font-style="italic">π</tspan> [MHz]</text>
</g>
</svg>
</body></html>
